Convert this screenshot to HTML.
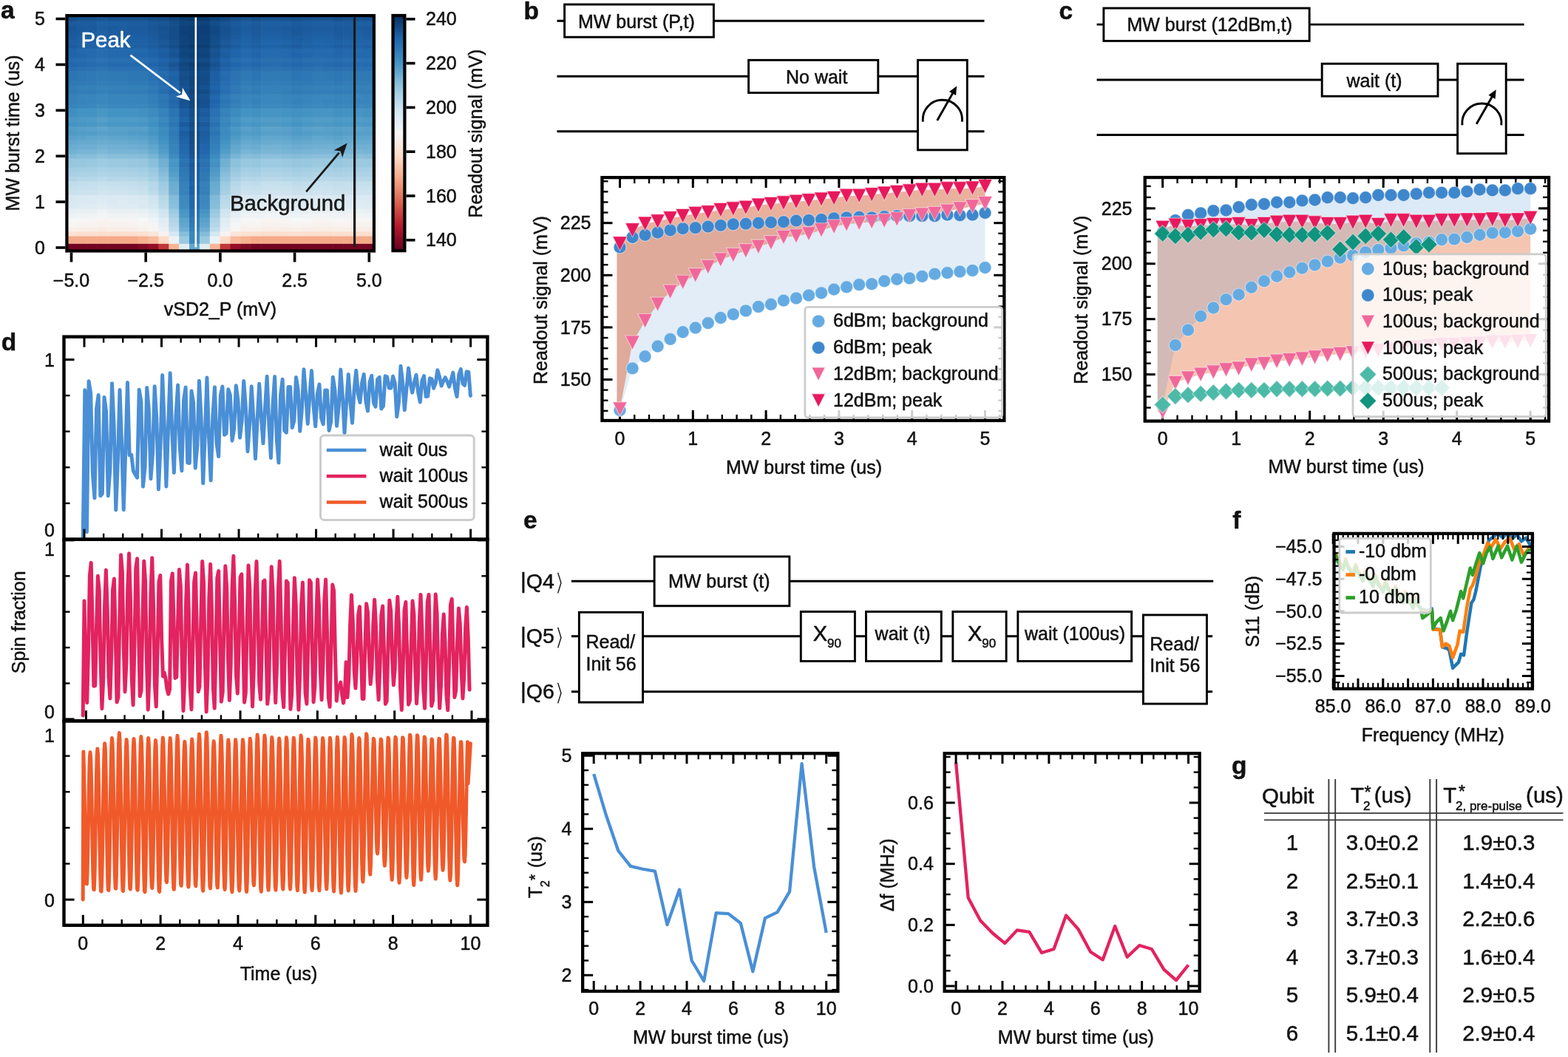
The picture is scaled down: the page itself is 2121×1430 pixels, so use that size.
<!DOCTYPE html>
<html><head><meta charset="utf-8"><title>Figure</title>
<style>
html,body{margin:0;padding:0;background:#fff;}
body{width:2121px;height:1430px;overflow:hidden;}
svg{display:block;}
svg text{font-family:"Liberation Sans", Arial, Helvetica, sans-serif;stroke:#111;stroke-width:0.5px;stroke-linejoin:round;}
</style></head><body>
<svg width="2121" height="1430" viewBox="0 0 2121 1430">
<rect x="0" y="0" width="2121" height="1430" fill="#fff"/>
<g clip-path="url(#clipA)">
<rect x="89.6" y="329.2" width="14.47" height="9.9" fill="#730421" stroke="none" stroke-width="0" />
<rect x="103.47" y="329.2" width="14.47" height="9.9" fill="#730421" stroke="none" stroke-width="0" />
<rect x="117.34" y="329.2" width="14.47" height="9.9" fill="#730421" stroke="none" stroke-width="0" />
<rect x="131.21" y="329.2" width="14.47" height="9.9" fill="#730421" stroke="none" stroke-width="0" />
<rect x="145.08" y="329.2" width="14.47" height="9.9" fill="#730421" stroke="none" stroke-width="0" />
<rect x="158.95" y="329.2" width="14.47" height="9.9" fill="#730421" stroke="none" stroke-width="0" />
<rect x="172.82" y="329.2" width="14.47" height="9.9" fill="#730421" stroke="none" stroke-width="0" />
<rect x="186.69" y="329.2" width="14.47" height="9.9" fill="#7f0823" stroke="none" stroke-width="0" />
<rect x="200.56" y="329.2" width="14.47" height="9.9" fill="#930e26" stroke="none" stroke-width="0" />
<rect x="214.43" y="329.2" width="14.47" height="9.9" fill="#c13639" stroke="none" stroke-width="0" />
<rect x="228.3" y="329.2" width="14.47" height="9.9" fill="#f7b596" stroke="none" stroke-width="0" />
<rect x="242.17" y="329.2" width="14.47" height="9.9" fill="#e1edf3" stroke="none" stroke-width="0" />
<rect x="256.04" y="329.2" width="14.47" height="9.9" fill="#62a7ce" stroke="none" stroke-width="0" />
<rect x="269.91" y="329.2" width="14.47" height="9.9" fill="#e1edf3" stroke="none" stroke-width="0" />
<rect x="283.78" y="329.2" width="14.47" height="9.9" fill="#f7b596" stroke="none" stroke-width="0" />
<rect x="297.65" y="329.2" width="14.47" height="9.9" fill="#c13639" stroke="none" stroke-width="0" />
<rect x="311.52" y="329.2" width="14.47" height="9.9" fill="#930e26" stroke="none" stroke-width="0" />
<rect x="325.39" y="329.2" width="14.47" height="9.9" fill="#7f0823" stroke="none" stroke-width="0" />
<rect x="339.26" y="329.2" width="14.47" height="9.9" fill="#730421" stroke="none" stroke-width="0" />
<rect x="353.13" y="329.2" width="14.47" height="9.9" fill="#730421" stroke="none" stroke-width="0" />
<rect x="367" y="329.2" width="14.47" height="9.9" fill="#730421" stroke="none" stroke-width="0" />
<rect x="380.87" y="329.2" width="14.47" height="9.9" fill="#730421" stroke="none" stroke-width="0" />
<rect x="394.74" y="329.2" width="14.47" height="9.9" fill="#730421" stroke="none" stroke-width="0" />
<rect x="408.61" y="329.2" width="14.47" height="9.9" fill="#730421" stroke="none" stroke-width="0" />
<rect x="422.48" y="329.2" width="14.47" height="9.9" fill="#730421" stroke="none" stroke-width="0" />
<rect x="436.35" y="329.2" width="14.47" height="9.9" fill="#730421" stroke="none" stroke-width="0" />
<rect x="450.22" y="329.2" width="14.47" height="9.9" fill="#730421" stroke="none" stroke-width="0" />
<rect x="464.09" y="329.2" width="14.47" height="9.9" fill="#730421" stroke="none" stroke-width="0" />
<rect x="477.96" y="329.2" width="14.47" height="9.9" fill="#730421" stroke="none" stroke-width="0" />
<rect x="491.83" y="329.2" width="14.47" height="9.9" fill="#730421" stroke="none" stroke-width="0" />
<rect x="89.6" y="319" width="14.47" height="10.8" fill="#f5aa89" stroke="none" stroke-width="0" />
<rect x="103.47" y="319" width="14.47" height="10.8" fill="#f5aa89" stroke="none" stroke-width="0" />
<rect x="117.34" y="319" width="14.47" height="10.8" fill="#f5aa89" stroke="none" stroke-width="0" />
<rect x="131.21" y="319" width="14.47" height="10.8" fill="#f5aa89" stroke="none" stroke-width="0" />
<rect x="145.08" y="319" width="14.47" height="10.8" fill="#f5aa89" stroke="none" stroke-width="0" />
<rect x="158.95" y="319" width="14.47" height="10.8" fill="#f5aa89" stroke="none" stroke-width="0" />
<rect x="172.82" y="319" width="14.47" height="10.8" fill="#f5aa89" stroke="none" stroke-width="0" />
<rect x="186.69" y="319" width="14.47" height="10.8" fill="#f6b191" stroke="none" stroke-width="0" />
<rect x="200.56" y="319" width="14.47" height="10.8" fill="#f8bb9e" stroke="none" stroke-width="0" />
<rect x="214.43" y="319" width="14.47" height="10.8" fill="#fddbc7" stroke="none" stroke-width="0" />
<rect x="228.3" y="319" width="14.47" height="10.8" fill="#ecf2f5" stroke="none" stroke-width="0" />
<rect x="242.17" y="319" width="14.47" height="10.8" fill="#9bc9e0" stroke="none" stroke-width="0" />
<rect x="256.04" y="319" width="14.47" height="10.8" fill="#3a87bd" stroke="none" stroke-width="0" />
<rect x="269.91" y="319" width="14.47" height="10.8" fill="#9bc9e0" stroke="none" stroke-width="0" />
<rect x="283.78" y="319" width="14.47" height="10.8" fill="#ecf2f5" stroke="none" stroke-width="0" />
<rect x="297.65" y="319" width="14.47" height="10.8" fill="#fddbc7" stroke="none" stroke-width="0" />
<rect x="311.52" y="319" width="14.47" height="10.8" fill="#f8bb9e" stroke="none" stroke-width="0" />
<rect x="325.39" y="319" width="14.47" height="10.8" fill="#f6b191" stroke="none" stroke-width="0" />
<rect x="339.26" y="319" width="14.47" height="10.8" fill="#f5aa89" stroke="none" stroke-width="0" />
<rect x="353.13" y="319" width="14.47" height="10.8" fill="#f5aa89" stroke="none" stroke-width="0" />
<rect x="367" y="319" width="14.47" height="10.8" fill="#f5aa89" stroke="none" stroke-width="0" />
<rect x="380.87" y="319" width="14.47" height="10.8" fill="#f5aa89" stroke="none" stroke-width="0" />
<rect x="394.74" y="319" width="14.47" height="10.8" fill="#f5aa89" stroke="none" stroke-width="0" />
<rect x="408.61" y="319" width="14.47" height="10.8" fill="#f5aa89" stroke="none" stroke-width="0" />
<rect x="422.48" y="319" width="14.47" height="10.8" fill="#f5aa89" stroke="none" stroke-width="0" />
<rect x="436.35" y="319" width="14.47" height="10.8" fill="#f5aa89" stroke="none" stroke-width="0" />
<rect x="450.22" y="319" width="14.47" height="10.8" fill="#f5aa89" stroke="none" stroke-width="0" />
<rect x="464.09" y="319" width="14.47" height="10.8" fill="#f5aa89" stroke="none" stroke-width="0" />
<rect x="477.96" y="319" width="14.47" height="10.8" fill="#f5aa89" stroke="none" stroke-width="0" />
<rect x="491.83" y="319" width="14.47" height="10.8" fill="#f5aa89" stroke="none" stroke-width="0" />
<rect x="89.6" y="312.81" width="14.47" height="6.79" fill="#fce2d2" stroke="none" stroke-width="0" />
<rect x="103.47" y="312.81" width="14.47" height="6.79" fill="#fcdfcf" stroke="none" stroke-width="0" />
<rect x="117.34" y="312.81" width="14.47" height="6.79" fill="#fcdfcf" stroke="none" stroke-width="0" />
<rect x="131.21" y="312.81" width="14.47" height="6.79" fill="#fdddcb" stroke="none" stroke-width="0" />
<rect x="145.08" y="312.81" width="14.47" height="6.79" fill="#fcdfcf" stroke="none" stroke-width="0" />
<rect x="158.95" y="312.81" width="14.47" height="6.79" fill="#fcdecd" stroke="none" stroke-width="0" />
<rect x="172.82" y="312.81" width="14.47" height="6.79" fill="#fcdfcf" stroke="none" stroke-width="0" />
<rect x="186.69" y="312.81" width="14.47" height="6.79" fill="#fce0d0" stroke="none" stroke-width="0" />
<rect x="200.56" y="312.81" width="14.47" height="6.79" fill="#fbe6da" stroke="none" stroke-width="0" />
<rect x="214.43" y="312.81" width="14.47" height="6.79" fill="#f8f3f0" stroke="none" stroke-width="0" />
<rect x="228.3" y="312.81" width="14.47" height="6.79" fill="#d7e8f1" stroke="none" stroke-width="0" />
<rect x="242.17" y="312.81" width="14.47" height="6.79" fill="#87beda" stroke="none" stroke-width="0" />
<rect x="256.04" y="312.81" width="14.47" height="6.79" fill="#3b88be" stroke="none" stroke-width="0" />
<rect x="269.91" y="312.81" width="14.47" height="6.79" fill="#84bcd9" stroke="none" stroke-width="0" />
<rect x="283.78" y="312.81" width="14.47" height="6.79" fill="#d5e7f1" stroke="none" stroke-width="0" />
<rect x="297.65" y="312.81" width="14.47" height="6.79" fill="#f8f3f0" stroke="none" stroke-width="0" />
<rect x="311.52" y="312.81" width="14.47" height="6.79" fill="#fbe6da" stroke="none" stroke-width="0" />
<rect x="325.39" y="312.81" width="14.47" height="6.79" fill="#fce0d0" stroke="none" stroke-width="0" />
<rect x="339.26" y="312.81" width="14.47" height="6.79" fill="#fce0d0" stroke="none" stroke-width="0" />
<rect x="353.13" y="312.81" width="14.47" height="6.79" fill="#fcdecd" stroke="none" stroke-width="0" />
<rect x="367" y="312.81" width="14.47" height="6.79" fill="#fcdecd" stroke="none" stroke-width="0" />
<rect x="380.87" y="312.81" width="14.47" height="6.79" fill="#fcdfcf" stroke="none" stroke-width="0" />
<rect x="394.74" y="312.81" width="14.47" height="6.79" fill="#fce0d0" stroke="none" stroke-width="0" />
<rect x="408.61" y="312.81" width="14.47" height="6.79" fill="#fcdfcf" stroke="none" stroke-width="0" />
<rect x="422.48" y="312.81" width="14.47" height="6.79" fill="#fcdecd" stroke="none" stroke-width="0" />
<rect x="436.35" y="312.81" width="14.47" height="6.79" fill="#fcdecd" stroke="none" stroke-width="0" />
<rect x="450.22" y="312.81" width="14.47" height="6.79" fill="#fcdfcf" stroke="none" stroke-width="0" />
<rect x="464.09" y="312.81" width="14.47" height="6.79" fill="#fcdfcf" stroke="none" stroke-width="0" />
<rect x="477.96" y="312.81" width="14.47" height="6.79" fill="#fcdecd" stroke="none" stroke-width="0" />
<rect x="491.83" y="312.81" width="14.47" height="6.79" fill="#fcdfcf" stroke="none" stroke-width="0" />
<rect x="89.6" y="306.62" width="14.47" height="6.79" fill="#f9f0eb" stroke="none" stroke-width="0" />
<rect x="103.47" y="306.62" width="14.47" height="6.79" fill="#f9eee7" stroke="none" stroke-width="0" />
<rect x="117.34" y="306.62" width="14.47" height="6.79" fill="#f9eee7" stroke="none" stroke-width="0" />
<rect x="131.21" y="306.62" width="14.47" height="6.79" fill="#f9ebe3" stroke="none" stroke-width="0" />
<rect x="145.08" y="306.62" width="14.47" height="6.79" fill="#f9eee7" stroke="none" stroke-width="0" />
<rect x="158.95" y="306.62" width="14.47" height="6.79" fill="#f9eee7" stroke="none" stroke-width="0" />
<rect x="172.82" y="306.62" width="14.47" height="6.79" fill="#f9eee7" stroke="none" stroke-width="0" />
<rect x="186.69" y="306.62" width="14.47" height="6.79" fill="#f9f0eb" stroke="none" stroke-width="0" />
<rect x="200.56" y="306.62" width="14.47" height="6.79" fill="#f8f4f2" stroke="none" stroke-width="0" />
<rect x="214.43" y="306.62" width="14.47" height="6.79" fill="#eaf1f5" stroke="none" stroke-width="0" />
<rect x="228.3" y="306.62" width="14.47" height="6.79" fill="#c2ddec" stroke="none" stroke-width="0" />
<rect x="242.17" y="306.62" width="14.47" height="6.79" fill="#6eaed2" stroke="none" stroke-width="0" />
<rect x="256.04" y="306.62" width="14.47" height="6.79" fill="#3480b9" stroke="none" stroke-width="0" />
<rect x="269.91" y="306.62" width="14.47" height="6.79" fill="#6eaed2" stroke="none" stroke-width="0" />
<rect x="283.78" y="306.62" width="14.47" height="6.79" fill="#c0dceb" stroke="none" stroke-width="0" />
<rect x="297.65" y="306.62" width="14.47" height="6.79" fill="#eaf1f5" stroke="none" stroke-width="0" />
<rect x="311.52" y="306.62" width="14.47" height="6.79" fill="#f8f4f2" stroke="none" stroke-width="0" />
<rect x="325.39" y="306.62" width="14.47" height="6.79" fill="#f9efe9" stroke="none" stroke-width="0" />
<rect x="339.26" y="306.62" width="14.47" height="6.79" fill="#f9efe9" stroke="none" stroke-width="0" />
<rect x="353.13" y="306.62" width="14.47" height="6.79" fill="#f9ede5" stroke="none" stroke-width="0" />
<rect x="367" y="306.62" width="14.47" height="6.79" fill="#f9ede5" stroke="none" stroke-width="0" />
<rect x="380.87" y="306.62" width="14.47" height="6.79" fill="#f9eee7" stroke="none" stroke-width="0" />
<rect x="394.74" y="306.62" width="14.47" height="6.79" fill="#f9efe9" stroke="none" stroke-width="0" />
<rect x="408.61" y="306.62" width="14.47" height="6.79" fill="#f9eee7" stroke="none" stroke-width="0" />
<rect x="422.48" y="306.62" width="14.47" height="6.79" fill="#f9ede5" stroke="none" stroke-width="0" />
<rect x="436.35" y="306.62" width="14.47" height="6.79" fill="#f9ede5" stroke="none" stroke-width="0" />
<rect x="450.22" y="306.62" width="14.47" height="6.79" fill="#f9efe9" stroke="none" stroke-width="0" />
<rect x="464.09" y="306.62" width="14.47" height="6.79" fill="#f9eee7" stroke="none" stroke-width="0" />
<rect x="477.96" y="306.62" width="14.47" height="6.79" fill="#f9ede5" stroke="none" stroke-width="0" />
<rect x="491.83" y="306.62" width="14.47" height="6.79" fill="#f9eee7" stroke="none" stroke-width="0" />
<rect x="89.6" y="300.44" width="14.47" height="6.79" fill="#f8f4f2" stroke="none" stroke-width="0" />
<rect x="103.47" y="300.44" width="14.47" height="6.79" fill="#f8f3f0" stroke="none" stroke-width="0" />
<rect x="117.34" y="300.44" width="14.47" height="6.79" fill="#f8f3f0" stroke="none" stroke-width="0" />
<rect x="131.21" y="300.44" width="14.47" height="6.79" fill="#f8f1ed" stroke="none" stroke-width="0" />
<rect x="145.08" y="300.44" width="14.47" height="6.79" fill="#f8f2ef" stroke="none" stroke-width="0" />
<rect x="158.95" y="300.44" width="14.47" height="6.79" fill="#f8f2ef" stroke="none" stroke-width="0" />
<rect x="172.82" y="300.44" width="14.47" height="6.79" fill="#f8f3f0" stroke="none" stroke-width="0" />
<rect x="186.69" y="300.44" width="14.47" height="6.79" fill="#f8f4f2" stroke="none" stroke-width="0" />
<rect x="200.56" y="300.44" width="14.47" height="6.79" fill="#f3f5f6" stroke="none" stroke-width="0" />
<rect x="214.43" y="300.44" width="14.47" height="6.79" fill="#e3edf3" stroke="none" stroke-width="0" />
<rect x="228.3" y="300.44" width="14.47" height="6.79" fill="#b8d8e9" stroke="none" stroke-width="0" />
<rect x="242.17" y="300.44" width="14.47" height="6.79" fill="#62a7ce" stroke="none" stroke-width="0" />
<rect x="256.04" y="300.44" width="14.47" height="6.79" fill="#307ab6" stroke="none" stroke-width="0" />
<rect x="269.91" y="300.44" width="14.47" height="6.79" fill="#5fa5cd" stroke="none" stroke-width="0" />
<rect x="283.78" y="300.44" width="14.47" height="6.79" fill="#b3d6e8" stroke="none" stroke-width="0" />
<rect x="297.65" y="300.44" width="14.47" height="6.79" fill="#e3edf3" stroke="none" stroke-width="0" />
<rect x="311.52" y="300.44" width="14.47" height="6.79" fill="#f3f5f6" stroke="none" stroke-width="0" />
<rect x="325.39" y="300.44" width="14.47" height="6.79" fill="#f8f3f0" stroke="none" stroke-width="0" />
<rect x="339.26" y="300.44" width="14.47" height="6.79" fill="#f8f4f2" stroke="none" stroke-width="0" />
<rect x="353.13" y="300.44" width="14.47" height="6.79" fill="#f8f2ef" stroke="none" stroke-width="0" />
<rect x="367" y="300.44" width="14.47" height="6.79" fill="#f8f2ef" stroke="none" stroke-width="0" />
<rect x="380.87" y="300.44" width="14.47" height="6.79" fill="#f8f3f0" stroke="none" stroke-width="0" />
<rect x="394.74" y="300.44" width="14.47" height="6.79" fill="#f8f4f2" stroke="none" stroke-width="0" />
<rect x="408.61" y="300.44" width="14.47" height="6.79" fill="#f8f3f0" stroke="none" stroke-width="0" />
<rect x="422.48" y="300.44" width="14.47" height="6.79" fill="#f8f2ef" stroke="none" stroke-width="0" />
<rect x="436.35" y="300.44" width="14.47" height="6.79" fill="#f8f2ef" stroke="none" stroke-width="0" />
<rect x="450.22" y="300.44" width="14.47" height="6.79" fill="#f8f3f0" stroke="none" stroke-width="0" />
<rect x="464.09" y="300.44" width="14.47" height="6.79" fill="#f8f3f0" stroke="none" stroke-width="0" />
<rect x="477.96" y="300.44" width="14.47" height="6.79" fill="#f8f2ef" stroke="none" stroke-width="0" />
<rect x="491.83" y="300.44" width="14.47" height="6.79" fill="#f8f2ef" stroke="none" stroke-width="0" />
<rect x="89.6" y="294.25" width="14.47" height="6.79" fill="#f6f7f7" stroke="none" stroke-width="0" />
<rect x="103.47" y="294.25" width="14.47" height="6.79" fill="#f7f6f6" stroke="none" stroke-width="0" />
<rect x="117.34" y="294.25" width="14.47" height="6.79" fill="#f7f5f4" stroke="none" stroke-width="0" />
<rect x="131.21" y="294.25" width="14.47" height="6.79" fill="#f8f3f0" stroke="none" stroke-width="0" />
<rect x="145.08" y="294.25" width="14.47" height="6.79" fill="#f7f5f4" stroke="none" stroke-width="0" />
<rect x="158.95" y="294.25" width="14.47" height="6.79" fill="#f7f5f4" stroke="none" stroke-width="0" />
<rect x="172.82" y="294.25" width="14.47" height="6.79" fill="#f7f5f4" stroke="none" stroke-width="0" />
<rect x="186.69" y="294.25" width="14.47" height="6.79" fill="#f6f7f7" stroke="none" stroke-width="0" />
<rect x="200.56" y="294.25" width="14.47" height="6.79" fill="#eff3f5" stroke="none" stroke-width="0" />
<rect x="214.43" y="294.25" width="14.47" height="6.79" fill="#e0ecf3" stroke="none" stroke-width="0" />
<rect x="228.3" y="294.25" width="14.47" height="6.79" fill="#b1d5e7" stroke="none" stroke-width="0" />
<rect x="242.17" y="294.25" width="14.47" height="6.79" fill="#5ca3cb" stroke="none" stroke-width="0" />
<rect x="256.04" y="294.25" width="14.47" height="6.79" fill="#2e77b5" stroke="none" stroke-width="0" />
<rect x="269.91" y="294.25" width="14.47" height="6.79" fill="#59a1ca" stroke="none" stroke-width="0" />
<rect x="283.78" y="294.25" width="14.47" height="6.79" fill="#aed3e6" stroke="none" stroke-width="0" />
<rect x="297.65" y="294.25" width="14.47" height="6.79" fill="#e0ecf3" stroke="none" stroke-width="0" />
<rect x="311.52" y="294.25" width="14.47" height="6.79" fill="#f0f4f6" stroke="none" stroke-width="0" />
<rect x="325.39" y="294.25" width="14.47" height="6.79" fill="#f7f6f6" stroke="none" stroke-width="0" />
<rect x="339.26" y="294.25" width="14.47" height="6.79" fill="#f7f6f6" stroke="none" stroke-width="0" />
<rect x="353.13" y="294.25" width="14.47" height="6.79" fill="#f8f4f2" stroke="none" stroke-width="0" />
<rect x="367" y="294.25" width="14.47" height="6.79" fill="#f8f4f2" stroke="none" stroke-width="0" />
<rect x="380.87" y="294.25" width="14.47" height="6.79" fill="#f7f5f4" stroke="none" stroke-width="0" />
<rect x="394.74" y="294.25" width="14.47" height="6.79" fill="#f6f7f7" stroke="none" stroke-width="0" />
<rect x="408.61" y="294.25" width="14.47" height="6.79" fill="#f7f6f6" stroke="none" stroke-width="0" />
<rect x="422.48" y="294.25" width="14.47" height="6.79" fill="#f8f4f2" stroke="none" stroke-width="0" />
<rect x="436.35" y="294.25" width="14.47" height="6.79" fill="#f7f5f4" stroke="none" stroke-width="0" />
<rect x="450.22" y="294.25" width="14.47" height="6.79" fill="#f7f6f6" stroke="none" stroke-width="0" />
<rect x="464.09" y="294.25" width="14.47" height="6.79" fill="#f7f5f4" stroke="none" stroke-width="0" />
<rect x="477.96" y="294.25" width="14.47" height="6.79" fill="#f7f5f4" stroke="none" stroke-width="0" />
<rect x="491.83" y="294.25" width="14.47" height="6.79" fill="#f7f5f4" stroke="none" stroke-width="0" />
<rect x="89.6" y="288.06" width="14.47" height="6.79" fill="#ecf2f5" stroke="none" stroke-width="0" />
<rect x="103.47" y="288.06" width="14.47" height="6.79" fill="#eff3f5" stroke="none" stroke-width="0" />
<rect x="117.34" y="288.06" width="14.47" height="6.79" fill="#eff3f5" stroke="none" stroke-width="0" />
<rect x="131.21" y="288.06" width="14.47" height="6.79" fill="#f2f5f6" stroke="none" stroke-width="0" />
<rect x="145.08" y="288.06" width="14.47" height="6.79" fill="#eff3f5" stroke="none" stroke-width="0" />
<rect x="158.95" y="288.06" width="14.47" height="6.79" fill="#eff3f5" stroke="none" stroke-width="0" />
<rect x="172.82" y="288.06" width="14.47" height="6.79" fill="#eff3f5" stroke="none" stroke-width="0" />
<rect x="186.69" y="288.06" width="14.47" height="6.79" fill="#edf2f5" stroke="none" stroke-width="0" />
<rect x="200.56" y="288.06" width="14.47" height="6.79" fill="#e6eff4" stroke="none" stroke-width="0" />
<rect x="214.43" y="288.06" width="14.47" height="6.79" fill="#d5e7f1" stroke="none" stroke-width="0" />
<rect x="228.3" y="288.06" width="14.47" height="6.79" fill="#a5cee3" stroke="none" stroke-width="0" />
<rect x="242.17" y="288.06" width="14.47" height="6.79" fill="#4c99c6" stroke="none" stroke-width="0" />
<rect x="256.04" y="288.06" width="14.47" height="6.79" fill="#2a71b2" stroke="none" stroke-width="0" />
<rect x="269.91" y="288.06" width="14.47" height="6.79" fill="#4c99c6" stroke="none" stroke-width="0" />
<rect x="283.78" y="288.06" width="14.47" height="6.79" fill="#a0cce2" stroke="none" stroke-width="0" />
<rect x="297.65" y="288.06" width="14.47" height="6.79" fill="#d5e7f1" stroke="none" stroke-width="0" />
<rect x="311.52" y="288.06" width="14.47" height="6.79" fill="#e6eff4" stroke="none" stroke-width="0" />
<rect x="325.39" y="288.06" width="14.47" height="6.79" fill="#edf2f5" stroke="none" stroke-width="0" />
<rect x="339.26" y="288.06" width="14.47" height="6.79" fill="#edf2f5" stroke="none" stroke-width="0" />
<rect x="353.13" y="288.06" width="14.47" height="6.79" fill="#f0f4f6" stroke="none" stroke-width="0" />
<rect x="367" y="288.06" width="14.47" height="6.79" fill="#f0f4f6" stroke="none" stroke-width="0" />
<rect x="380.87" y="288.06" width="14.47" height="6.79" fill="#eff3f5" stroke="none" stroke-width="0" />
<rect x="394.74" y="288.06" width="14.47" height="6.79" fill="#edf2f5" stroke="none" stroke-width="0" />
<rect x="408.61" y="288.06" width="14.47" height="6.79" fill="#eff3f5" stroke="none" stroke-width="0" />
<rect x="422.48" y="288.06" width="14.47" height="6.79" fill="#f0f4f6" stroke="none" stroke-width="0" />
<rect x="436.35" y="288.06" width="14.47" height="6.79" fill="#f0f4f6" stroke="none" stroke-width="0" />
<rect x="450.22" y="288.06" width="14.47" height="6.79" fill="#eff3f5" stroke="none" stroke-width="0" />
<rect x="464.09" y="288.06" width="14.47" height="6.79" fill="#eff3f5" stroke="none" stroke-width="0" />
<rect x="477.96" y="288.06" width="14.47" height="6.79" fill="#f0f4f6" stroke="none" stroke-width="0" />
<rect x="491.83" y="288.06" width="14.47" height="6.79" fill="#eff3f5" stroke="none" stroke-width="0" />
<rect x="89.6" y="281.88" width="14.47" height="6.79" fill="#e6eff4" stroke="none" stroke-width="0" />
<rect x="103.47" y="281.88" width="14.47" height="6.79" fill="#e9f0f4" stroke="none" stroke-width="0" />
<rect x="117.34" y="281.88" width="14.47" height="6.79" fill="#e9f0f4" stroke="none" stroke-width="0" />
<rect x="131.21" y="281.88" width="14.47" height="6.79" fill="#ecf2f5" stroke="none" stroke-width="0" />
<rect x="145.08" y="281.88" width="14.47" height="6.79" fill="#e9f0f4" stroke="none" stroke-width="0" />
<rect x="158.95" y="281.88" width="14.47" height="6.79" fill="#e9f0f4" stroke="none" stroke-width="0" />
<rect x="172.82" y="281.88" width="14.47" height="6.79" fill="#e9f0f4" stroke="none" stroke-width="0" />
<rect x="186.69" y="281.88" width="14.47" height="6.79" fill="#e6eff4" stroke="none" stroke-width="0" />
<rect x="200.56" y="281.88" width="14.47" height="6.79" fill="#e0ecf3" stroke="none" stroke-width="0" />
<rect x="214.43" y="281.88" width="14.47" height="6.79" fill="#cfe4ef" stroke="none" stroke-width="0" />
<rect x="228.3" y="281.88" width="14.47" height="6.79" fill="#9bc9e0" stroke="none" stroke-width="0" />
<rect x="242.17" y="281.88" width="14.47" height="6.79" fill="#4695c4" stroke="none" stroke-width="0" />
<rect x="256.04" y="281.88" width="14.47" height="6.79" fill="#276eb0" stroke="none" stroke-width="0" />
<rect x="269.91" y="281.88" width="14.47" height="6.79" fill="#4393c3" stroke="none" stroke-width="0" />
<rect x="283.78" y="281.88" width="14.47" height="6.79" fill="#98c8e0" stroke="none" stroke-width="0" />
<rect x="297.65" y="281.88" width="14.47" height="6.79" fill="#cfe4ef" stroke="none" stroke-width="0" />
<rect x="311.52" y="281.88" width="14.47" height="6.79" fill="#e0ecf3" stroke="none" stroke-width="0" />
<rect x="325.39" y="281.88" width="14.47" height="6.79" fill="#e7f0f4" stroke="none" stroke-width="0" />
<rect x="339.26" y="281.88" width="14.47" height="6.79" fill="#e7f0f4" stroke="none" stroke-width="0" />
<rect x="353.13" y="281.88" width="14.47" height="6.79" fill="#eaf1f5" stroke="none" stroke-width="0" />
<rect x="367" y="281.88" width="14.47" height="6.79" fill="#eaf1f5" stroke="none" stroke-width="0" />
<rect x="380.87" y="281.88" width="14.47" height="6.79" fill="#e9f0f4" stroke="none" stroke-width="0" />
<rect x="394.74" y="281.88" width="14.47" height="6.79" fill="#e7f0f4" stroke="none" stroke-width="0" />
<rect x="408.61" y="281.88" width="14.47" height="6.79" fill="#e9f0f4" stroke="none" stroke-width="0" />
<rect x="422.48" y="281.88" width="14.47" height="6.79" fill="#eaf1f5" stroke="none" stroke-width="0" />
<rect x="436.35" y="281.88" width="14.47" height="6.79" fill="#eaf1f5" stroke="none" stroke-width="0" />
<rect x="450.22" y="281.88" width="14.47" height="6.79" fill="#e7f0f4" stroke="none" stroke-width="0" />
<rect x="464.09" y="281.88" width="14.47" height="6.79" fill="#e9f0f4" stroke="none" stroke-width="0" />
<rect x="477.96" y="281.88" width="14.47" height="6.79" fill="#eaf1f5" stroke="none" stroke-width="0" />
<rect x="491.83" y="281.88" width="14.47" height="6.79" fill="#e9f0f4" stroke="none" stroke-width="0" />
<rect x="89.6" y="275.69" width="14.47" height="6.79" fill="#dbeaf2" stroke="none" stroke-width="0" />
<rect x="103.47" y="275.69" width="14.47" height="6.79" fill="#deebf2" stroke="none" stroke-width="0" />
<rect x="117.34" y="275.69" width="14.47" height="6.79" fill="#deebf2" stroke="none" stroke-width="0" />
<rect x="131.21" y="275.69" width="14.47" height="6.79" fill="#e1edf3" stroke="none" stroke-width="0" />
<rect x="145.08" y="275.69" width="14.47" height="6.79" fill="#deebf2" stroke="none" stroke-width="0" />
<rect x="158.95" y="275.69" width="14.47" height="6.79" fill="#deebf2" stroke="none" stroke-width="0" />
<rect x="172.82" y="275.69" width="14.47" height="6.79" fill="#deebf2" stroke="none" stroke-width="0" />
<rect x="186.69" y="275.69" width="14.47" height="6.79" fill="#dbeaf2" stroke="none" stroke-width="0" />
<rect x="200.56" y="275.69" width="14.47" height="6.79" fill="#d5e7f1" stroke="none" stroke-width="0" />
<rect x="214.43" y="275.69" width="14.47" height="6.79" fill="#c0dceb" stroke="none" stroke-width="0" />
<rect x="228.3" y="275.69" width="14.47" height="6.79" fill="#8ac0db" stroke="none" stroke-width="0" />
<rect x="242.17" y="275.69" width="14.47" height="6.79" fill="#3e8cbf" stroke="none" stroke-width="0" />
<rect x="256.04" y="275.69" width="14.47" height="6.79" fill="#2267ac" stroke="none" stroke-width="0" />
<rect x="269.91" y="275.69" width="14.47" height="6.79" fill="#3c8abe" stroke="none" stroke-width="0" />
<rect x="283.78" y="275.69" width="14.47" height="6.79" fill="#87beda" stroke="none" stroke-width="0" />
<rect x="297.65" y="275.69" width="14.47" height="6.79" fill="#c0dceb" stroke="none" stroke-width="0" />
<rect x="311.52" y="275.69" width="14.47" height="6.79" fill="#d5e7f1" stroke="none" stroke-width="0" />
<rect x="325.39" y="275.69" width="14.47" height="6.79" fill="#ddebf2" stroke="none" stroke-width="0" />
<rect x="339.26" y="275.69" width="14.47" height="6.79" fill="#ddebf2" stroke="none" stroke-width="0" />
<rect x="353.13" y="275.69" width="14.47" height="6.79" fill="#e0ecf3" stroke="none" stroke-width="0" />
<rect x="367" y="275.69" width="14.47" height="6.79" fill="#e0ecf3" stroke="none" stroke-width="0" />
<rect x="380.87" y="275.69" width="14.47" height="6.79" fill="#deebf2" stroke="none" stroke-width="0" />
<rect x="394.74" y="275.69" width="14.47" height="6.79" fill="#ddebf2" stroke="none" stroke-width="0" />
<rect x="408.61" y="275.69" width="14.47" height="6.79" fill="#deebf2" stroke="none" stroke-width="0" />
<rect x="422.48" y="275.69" width="14.47" height="6.79" fill="#e0ecf3" stroke="none" stroke-width="0" />
<rect x="436.35" y="275.69" width="14.47" height="6.79" fill="#e0ecf3" stroke="none" stroke-width="0" />
<rect x="450.22" y="275.69" width="14.47" height="6.79" fill="#deebf2" stroke="none" stroke-width="0" />
<rect x="464.09" y="275.69" width="14.47" height="6.79" fill="#deebf2" stroke="none" stroke-width="0" />
<rect x="477.96" y="275.69" width="14.47" height="6.79" fill="#e0ecf3" stroke="none" stroke-width="0" />
<rect x="491.83" y="275.69" width="14.47" height="6.79" fill="#deebf2" stroke="none" stroke-width="0" />
<rect x="89.6" y="269.5" width="14.47" height="6.79" fill="#d8e9f1" stroke="none" stroke-width="0" />
<rect x="103.47" y="269.5" width="14.47" height="6.79" fill="#dbeaf2" stroke="none" stroke-width="0" />
<rect x="117.34" y="269.5" width="14.47" height="6.79" fill="#dbeaf2" stroke="none" stroke-width="0" />
<rect x="131.21" y="269.5" width="14.47" height="6.79" fill="#deebf2" stroke="none" stroke-width="0" />
<rect x="145.08" y="269.5" width="14.47" height="6.79" fill="#dbeaf2" stroke="none" stroke-width="0" />
<rect x="158.95" y="269.5" width="14.47" height="6.79" fill="#ddebf2" stroke="none" stroke-width="0" />
<rect x="172.82" y="269.5" width="14.47" height="6.79" fill="#dbeaf2" stroke="none" stroke-width="0" />
<rect x="186.69" y="269.5" width="14.47" height="6.79" fill="#dae9f2" stroke="none" stroke-width="0" />
<rect x="200.56" y="269.5" width="14.47" height="6.79" fill="#d2e6f0" stroke="none" stroke-width="0" />
<rect x="214.43" y="269.5" width="14.47" height="6.79" fill="#bbdaea" stroke="none" stroke-width="0" />
<rect x="228.3" y="269.5" width="14.47" height="6.79" fill="#87beda" stroke="none" stroke-width="0" />
<rect x="242.17" y="269.5" width="14.47" height="6.79" fill="#3c8abe" stroke="none" stroke-width="0" />
<rect x="256.04" y="269.5" width="14.47" height="6.79" fill="#2267ac" stroke="none" stroke-width="0" />
<rect x="269.91" y="269.5" width="14.47" height="6.79" fill="#3b88be" stroke="none" stroke-width="0" />
<rect x="283.78" y="269.5" width="14.47" height="6.79" fill="#84bcd9" stroke="none" stroke-width="0" />
<rect x="297.65" y="269.5" width="14.47" height="6.79" fill="#bbdaea" stroke="none" stroke-width="0" />
<rect x="311.52" y="269.5" width="14.47" height="6.79" fill="#d2e6f0" stroke="none" stroke-width="0" />
<rect x="325.39" y="269.5" width="14.47" height="6.79" fill="#dae9f2" stroke="none" stroke-width="0" />
<rect x="339.26" y="269.5" width="14.47" height="6.79" fill="#dae9f2" stroke="none" stroke-width="0" />
<rect x="353.13" y="269.5" width="14.47" height="6.79" fill="#ddebf2" stroke="none" stroke-width="0" />
<rect x="367" y="269.5" width="14.47" height="6.79" fill="#ddebf2" stroke="none" stroke-width="0" />
<rect x="380.87" y="269.5" width="14.47" height="6.79" fill="#dbeaf2" stroke="none" stroke-width="0" />
<rect x="394.74" y="269.5" width="14.47" height="6.79" fill="#dae9f2" stroke="none" stroke-width="0" />
<rect x="408.61" y="269.5" width="14.47" height="6.79" fill="#dbeaf2" stroke="none" stroke-width="0" />
<rect x="422.48" y="269.5" width="14.47" height="6.79" fill="#ddebf2" stroke="none" stroke-width="0" />
<rect x="436.35" y="269.5" width="14.47" height="6.79" fill="#ddebf2" stroke="none" stroke-width="0" />
<rect x="450.22" y="269.5" width="14.47" height="6.79" fill="#dbeaf2" stroke="none" stroke-width="0" />
<rect x="464.09" y="269.5" width="14.47" height="6.79" fill="#dbeaf2" stroke="none" stroke-width="0" />
<rect x="477.96" y="269.5" width="14.47" height="6.79" fill="#ddebf2" stroke="none" stroke-width="0" />
<rect x="491.83" y="269.5" width="14.47" height="6.79" fill="#dbeaf2" stroke="none" stroke-width="0" />
<rect x="89.6" y="263.31" width="14.47" height="6.79" fill="#d7e8f1" stroke="none" stroke-width="0" />
<rect x="103.47" y="263.31" width="14.47" height="6.79" fill="#d8e9f1" stroke="none" stroke-width="0" />
<rect x="117.34" y="263.31" width="14.47" height="6.79" fill="#dae9f2" stroke="none" stroke-width="0" />
<rect x="131.21" y="263.31" width="14.47" height="6.79" fill="#dbeaf2" stroke="none" stroke-width="0" />
<rect x="145.08" y="263.31" width="14.47" height="6.79" fill="#dae9f2" stroke="none" stroke-width="0" />
<rect x="158.95" y="263.31" width="14.47" height="6.79" fill="#dae9f2" stroke="none" stroke-width="0" />
<rect x="172.82" y="263.31" width="14.47" height="6.79" fill="#d8e9f1" stroke="none" stroke-width="0" />
<rect x="186.69" y="263.31" width="14.47" height="6.79" fill="#d7e8f1" stroke="none" stroke-width="0" />
<rect x="200.56" y="263.31" width="14.47" height="6.79" fill="#cfe4ef" stroke="none" stroke-width="0" />
<rect x="214.43" y="263.31" width="14.47" height="6.79" fill="#b6d7e8" stroke="none" stroke-width="0" />
<rect x="228.3" y="263.31" width="14.47" height="6.79" fill="#84bcd9" stroke="none" stroke-width="0" />
<rect x="242.17" y="263.31" width="14.47" height="6.79" fill="#3c8abe" stroke="none" stroke-width="0" />
<rect x="256.04" y="263.31" width="14.47" height="6.79" fill="#2369ad" stroke="none" stroke-width="0" />
<rect x="269.91" y="263.31" width="14.47" height="6.79" fill="#3b88be" stroke="none" stroke-width="0" />
<rect x="283.78" y="263.31" width="14.47" height="6.79" fill="#81bad8" stroke="none" stroke-width="0" />
<rect x="297.65" y="263.31" width="14.47" height="6.79" fill="#b6d7e8" stroke="none" stroke-width="0" />
<rect x="311.52" y="263.31" width="14.47" height="6.79" fill="#d1e5f0" stroke="none" stroke-width="0" />
<rect x="325.39" y="263.31" width="14.47" height="6.79" fill="#d8e9f1" stroke="none" stroke-width="0" />
<rect x="339.26" y="263.31" width="14.47" height="6.79" fill="#d7e8f1" stroke="none" stroke-width="0" />
<rect x="353.13" y="263.31" width="14.47" height="6.79" fill="#dbeaf2" stroke="none" stroke-width="0" />
<rect x="367" y="263.31" width="14.47" height="6.79" fill="#dbeaf2" stroke="none" stroke-width="0" />
<rect x="380.87" y="263.31" width="14.47" height="6.79" fill="#dae9f2" stroke="none" stroke-width="0" />
<rect x="394.74" y="263.31" width="14.47" height="6.79" fill="#d7e8f1" stroke="none" stroke-width="0" />
<rect x="408.61" y="263.31" width="14.47" height="6.79" fill="#d8e9f1" stroke="none" stroke-width="0" />
<rect x="422.48" y="263.31" width="14.47" height="6.79" fill="#dbeaf2" stroke="none" stroke-width="0" />
<rect x="436.35" y="263.31" width="14.47" height="6.79" fill="#dae9f2" stroke="none" stroke-width="0" />
<rect x="450.22" y="263.31" width="14.47" height="6.79" fill="#d8e9f1" stroke="none" stroke-width="0" />
<rect x="464.09" y="263.31" width="14.47" height="6.79" fill="#dae9f2" stroke="none" stroke-width="0" />
<rect x="477.96" y="263.31" width="14.47" height="6.79" fill="#dae9f2" stroke="none" stroke-width="0" />
<rect x="491.83" y="263.31" width="14.47" height="6.79" fill="#dae9f2" stroke="none" stroke-width="0" />
<rect x="89.6" y="257.12" width="14.47" height="6.79" fill="#cae1ee" stroke="none" stroke-width="0" />
<rect x="103.47" y="257.12" width="14.47" height="6.79" fill="#cce2ef" stroke="none" stroke-width="0" />
<rect x="117.34" y="257.12" width="14.47" height="6.79" fill="#cce2ef" stroke="none" stroke-width="0" />
<rect x="131.21" y="257.12" width="14.47" height="6.79" fill="#d1e5f0" stroke="none" stroke-width="0" />
<rect x="145.08" y="257.12" width="14.47" height="6.79" fill="#cfe4ef" stroke="none" stroke-width="0" />
<rect x="158.95" y="257.12" width="14.47" height="6.79" fill="#cfe4ef" stroke="none" stroke-width="0" />
<rect x="172.82" y="257.12" width="14.47" height="6.79" fill="#cce2ef" stroke="none" stroke-width="0" />
<rect x="186.69" y="257.12" width="14.47" height="6.79" fill="#cae1ee" stroke="none" stroke-width="0" />
<rect x="200.56" y="257.12" width="14.47" height="6.79" fill="#bddbea" stroke="none" stroke-width="0" />
<rect x="214.43" y="257.12" width="14.47" height="6.79" fill="#a7d0e4" stroke="none" stroke-width="0" />
<rect x="228.3" y="257.12" width="14.47" height="6.79" fill="#71b0d3" stroke="none" stroke-width="0" />
<rect x="242.17" y="257.12" width="14.47" height="6.79" fill="#3681ba" stroke="none" stroke-width="0" />
<rect x="256.04" y="257.12" width="14.47" height="6.79" fill="#1e61a5" stroke="none" stroke-width="0" />
<rect x="269.91" y="257.12" width="14.47" height="6.79" fill="#3480b9" stroke="none" stroke-width="0" />
<rect x="283.78" y="257.12" width="14.47" height="6.79" fill="#6eaed2" stroke="none" stroke-width="0" />
<rect x="297.65" y="257.12" width="14.47" height="6.79" fill="#a7d0e4" stroke="none" stroke-width="0" />
<rect x="311.52" y="257.12" width="14.47" height="6.79" fill="#c0dceb" stroke="none" stroke-width="0" />
<rect x="325.39" y="257.12" width="14.47" height="6.79" fill="#cce2ef" stroke="none" stroke-width="0" />
<rect x="339.26" y="257.12" width="14.47" height="6.79" fill="#cae1ee" stroke="none" stroke-width="0" />
<rect x="353.13" y="257.12" width="14.47" height="6.79" fill="#d1e5f0" stroke="none" stroke-width="0" />
<rect x="367" y="257.12" width="14.47" height="6.79" fill="#d1e5f0" stroke="none" stroke-width="0" />
<rect x="380.87" y="257.12" width="14.47" height="6.79" fill="#cfe4ef" stroke="none" stroke-width="0" />
<rect x="394.74" y="257.12" width="14.47" height="6.79" fill="#cae1ee" stroke="none" stroke-width="0" />
<rect x="408.61" y="257.12" width="14.47" height="6.79" fill="#cce2ef" stroke="none" stroke-width="0" />
<rect x="422.48" y="257.12" width="14.47" height="6.79" fill="#d1e5f0" stroke="none" stroke-width="0" />
<rect x="436.35" y="257.12" width="14.47" height="6.79" fill="#cfe4ef" stroke="none" stroke-width="0" />
<rect x="450.22" y="257.12" width="14.47" height="6.79" fill="#cce2ef" stroke="none" stroke-width="0" />
<rect x="464.09" y="257.12" width="14.47" height="6.79" fill="#cfe4ef" stroke="none" stroke-width="0" />
<rect x="477.96" y="257.12" width="14.47" height="6.79" fill="#cfe4ef" stroke="none" stroke-width="0" />
<rect x="491.83" y="257.12" width="14.47" height="6.79" fill="#cfe4ef" stroke="none" stroke-width="0" />
<rect x="89.6" y="250.94" width="14.47" height="6.79" fill="#c5dfec" stroke="none" stroke-width="0" />
<rect x="103.47" y="250.94" width="14.47" height="6.79" fill="#c7e0ed" stroke="none" stroke-width="0" />
<rect x="117.34" y="250.94" width="14.47" height="6.79" fill="#c7e0ed" stroke="none" stroke-width="0" />
<rect x="131.21" y="250.94" width="14.47" height="6.79" fill="#cce2ef" stroke="none" stroke-width="0" />
<rect x="145.08" y="250.94" width="14.47" height="6.79" fill="#cae1ee" stroke="none" stroke-width="0" />
<rect x="158.95" y="250.94" width="14.47" height="6.79" fill="#cae1ee" stroke="none" stroke-width="0" />
<rect x="172.82" y="250.94" width="14.47" height="6.79" fill="#c7e0ed" stroke="none" stroke-width="0" />
<rect x="186.69" y="250.94" width="14.47" height="6.79" fill="#c5dfec" stroke="none" stroke-width="0" />
<rect x="200.56" y="250.94" width="14.47" height="6.79" fill="#b8d8e9" stroke="none" stroke-width="0" />
<rect x="214.43" y="250.94" width="14.47" height="6.79" fill="#a2cde3" stroke="none" stroke-width="0" />
<rect x="228.3" y="250.94" width="14.47" height="6.79" fill="#6eaed2" stroke="none" stroke-width="0" />
<rect x="242.17" y="250.94" width="14.47" height="6.79" fill="#3681ba" stroke="none" stroke-width="0" />
<rect x="256.04" y="250.94" width="14.47" height="6.79" fill="#1e61a5" stroke="none" stroke-width="0" />
<rect x="269.91" y="250.94" width="14.47" height="6.79" fill="#3480b9" stroke="none" stroke-width="0" />
<rect x="283.78" y="250.94" width="14.47" height="6.79" fill="#6bacd1" stroke="none" stroke-width="0" />
<rect x="297.65" y="250.94" width="14.47" height="6.79" fill="#a2cde3" stroke="none" stroke-width="0" />
<rect x="311.52" y="250.94" width="14.47" height="6.79" fill="#bbdaea" stroke="none" stroke-width="0" />
<rect x="325.39" y="250.94" width="14.47" height="6.79" fill="#c7e0ed" stroke="none" stroke-width="0" />
<rect x="339.26" y="250.94" width="14.47" height="6.79" fill="#c5dfec" stroke="none" stroke-width="0" />
<rect x="353.13" y="250.94" width="14.47" height="6.79" fill="#cae1ee" stroke="none" stroke-width="0" />
<rect x="367" y="250.94" width="14.47" height="6.79" fill="#cae1ee" stroke="none" stroke-width="0" />
<rect x="380.87" y="250.94" width="14.47" height="6.79" fill="#cae1ee" stroke="none" stroke-width="0" />
<rect x="394.74" y="250.94" width="14.47" height="6.79" fill="#c5dfec" stroke="none" stroke-width="0" />
<rect x="408.61" y="250.94" width="14.47" height="6.79" fill="#c7e0ed" stroke="none" stroke-width="0" />
<rect x="422.48" y="250.94" width="14.47" height="6.79" fill="#cae1ee" stroke="none" stroke-width="0" />
<rect x="436.35" y="250.94" width="14.47" height="6.79" fill="#cae1ee" stroke="none" stroke-width="0" />
<rect x="450.22" y="250.94" width="14.47" height="6.79" fill="#c7e0ed" stroke="none" stroke-width="0" />
<rect x="464.09" y="250.94" width="14.47" height="6.79" fill="#c7e0ed" stroke="none" stroke-width="0" />
<rect x="477.96" y="250.94" width="14.47" height="6.79" fill="#cae1ee" stroke="none" stroke-width="0" />
<rect x="491.83" y="250.94" width="14.47" height="6.79" fill="#cae1ee" stroke="none" stroke-width="0" />
<rect x="89.6" y="244.75" width="14.47" height="6.79" fill="#c0dceb" stroke="none" stroke-width="0" />
<rect x="103.47" y="244.75" width="14.47" height="6.79" fill="#c2ddec" stroke="none" stroke-width="0" />
<rect x="117.34" y="244.75" width="14.47" height="6.79" fill="#c5dfec" stroke="none" stroke-width="0" />
<rect x="131.21" y="244.75" width="14.47" height="6.79" fill="#c7e0ed" stroke="none" stroke-width="0" />
<rect x="145.08" y="244.75" width="14.47" height="6.79" fill="#c5dfec" stroke="none" stroke-width="0" />
<rect x="158.95" y="244.75" width="14.47" height="6.79" fill="#c5dfec" stroke="none" stroke-width="0" />
<rect x="172.82" y="244.75" width="14.47" height="6.79" fill="#c2ddec" stroke="none" stroke-width="0" />
<rect x="186.69" y="244.75" width="14.47" height="6.79" fill="#c0dceb" stroke="none" stroke-width="0" />
<rect x="200.56" y="244.75" width="14.47" height="6.79" fill="#b6d7e8" stroke="none" stroke-width="0" />
<rect x="214.43" y="244.75" width="14.47" height="6.79" fill="#9dcbe1" stroke="none" stroke-width="0" />
<rect x="228.3" y="244.75" width="14.47" height="6.79" fill="#6bacd1" stroke="none" stroke-width="0" />
<rect x="242.17" y="244.75" width="14.47" height="6.79" fill="#3681ba" stroke="none" stroke-width="0" />
<rect x="256.04" y="244.75" width="14.47" height="6.79" fill="#2065ab" stroke="none" stroke-width="0" />
<rect x="269.91" y="244.75" width="14.47" height="6.79" fill="#3681ba" stroke="none" stroke-width="0" />
<rect x="283.78" y="244.75" width="14.47" height="6.79" fill="#68abd0" stroke="none" stroke-width="0" />
<rect x="297.65" y="244.75" width="14.47" height="6.79" fill="#9dcbe1" stroke="none" stroke-width="0" />
<rect x="311.52" y="244.75" width="14.47" height="6.79" fill="#b6d7e8" stroke="none" stroke-width="0" />
<rect x="325.39" y="244.75" width="14.47" height="6.79" fill="#c2ddec" stroke="none" stroke-width="0" />
<rect x="339.26" y="244.75" width="14.47" height="6.79" fill="#c0dceb" stroke="none" stroke-width="0" />
<rect x="353.13" y="244.75" width="14.47" height="6.79" fill="#c7e0ed" stroke="none" stroke-width="0" />
<rect x="367" y="244.75" width="14.47" height="6.79" fill="#c7e0ed" stroke="none" stroke-width="0" />
<rect x="380.87" y="244.75" width="14.47" height="6.79" fill="#c5dfec" stroke="none" stroke-width="0" />
<rect x="394.74" y="244.75" width="14.47" height="6.79" fill="#c0dceb" stroke="none" stroke-width="0" />
<rect x="408.61" y="244.75" width="14.47" height="6.79" fill="#c2ddec" stroke="none" stroke-width="0" />
<rect x="422.48" y="244.75" width="14.47" height="6.79" fill="#c7e0ed" stroke="none" stroke-width="0" />
<rect x="436.35" y="244.75" width="14.47" height="6.79" fill="#c5dfec" stroke="none" stroke-width="0" />
<rect x="450.22" y="244.75" width="14.47" height="6.79" fill="#c2ddec" stroke="none" stroke-width="0" />
<rect x="464.09" y="244.75" width="14.47" height="6.79" fill="#c5dfec" stroke="none" stroke-width="0" />
<rect x="477.96" y="244.75" width="14.47" height="6.79" fill="#c5dfec" stroke="none" stroke-width="0" />
<rect x="491.83" y="244.75" width="14.47" height="6.79" fill="#c5dfec" stroke="none" stroke-width="0" />
<rect x="89.6" y="238.56" width="14.47" height="6.79" fill="#b1d5e7" stroke="none" stroke-width="0" />
<rect x="103.47" y="238.56" width="14.47" height="6.79" fill="#b6d7e8" stroke="none" stroke-width="0" />
<rect x="117.34" y="238.56" width="14.47" height="6.79" fill="#b6d7e8" stroke="none" stroke-width="0" />
<rect x="131.21" y="238.56" width="14.47" height="6.79" fill="#bbdaea" stroke="none" stroke-width="0" />
<rect x="145.08" y="238.56" width="14.47" height="6.79" fill="#b6d7e8" stroke="none" stroke-width="0" />
<rect x="158.95" y="238.56" width="14.47" height="6.79" fill="#b8d8e9" stroke="none" stroke-width="0" />
<rect x="172.82" y="238.56" width="14.47" height="6.79" fill="#b6d7e8" stroke="none" stroke-width="0" />
<rect x="186.69" y="238.56" width="14.47" height="6.79" fill="#b3d6e8" stroke="none" stroke-width="0" />
<rect x="200.56" y="238.56" width="14.47" height="6.79" fill="#a7d0e4" stroke="none" stroke-width="0" />
<rect x="214.43" y="238.56" width="14.47" height="6.79" fill="#90c4dd" stroke="none" stroke-width="0" />
<rect x="228.3" y="238.56" width="14.47" height="6.79" fill="#5fa5cd" stroke="none" stroke-width="0" />
<rect x="242.17" y="238.56" width="14.47" height="6.79" fill="#327cb7" stroke="none" stroke-width="0" />
<rect x="256.04" y="238.56" width="14.47" height="6.79" fill="#1d5fa2" stroke="none" stroke-width="0" />
<rect x="269.91" y="238.56" width="14.47" height="6.79" fill="#307ab6" stroke="none" stroke-width="0" />
<rect x="283.78" y="238.56" width="14.47" height="6.79" fill="#5ca3cb" stroke="none" stroke-width="0" />
<rect x="297.65" y="238.56" width="14.47" height="6.79" fill="#90c4dd" stroke="none" stroke-width="0" />
<rect x="311.52" y="238.56" width="14.47" height="6.79" fill="#a9d1e5" stroke="none" stroke-width="0" />
<rect x="325.39" y="238.56" width="14.47" height="6.79" fill="#b6d7e8" stroke="none" stroke-width="0" />
<rect x="339.26" y="238.56" width="14.47" height="6.79" fill="#b3d6e8" stroke="none" stroke-width="0" />
<rect x="353.13" y="238.56" width="14.47" height="6.79" fill="#b8d8e9" stroke="none" stroke-width="0" />
<rect x="367" y="238.56" width="14.47" height="6.79" fill="#b8d8e9" stroke="none" stroke-width="0" />
<rect x="380.87" y="238.56" width="14.47" height="6.79" fill="#b6d7e8" stroke="none" stroke-width="0" />
<rect x="394.74" y="238.56" width="14.47" height="6.79" fill="#b3d6e8" stroke="none" stroke-width="0" />
<rect x="408.61" y="238.56" width="14.47" height="6.79" fill="#b6d7e8" stroke="none" stroke-width="0" />
<rect x="422.48" y="238.56" width="14.47" height="6.79" fill="#b8d8e9" stroke="none" stroke-width="0" />
<rect x="436.35" y="238.56" width="14.47" height="6.79" fill="#b8d8e9" stroke="none" stroke-width="0" />
<rect x="450.22" y="238.56" width="14.47" height="6.79" fill="#b6d7e8" stroke="none" stroke-width="0" />
<rect x="464.09" y="238.56" width="14.47" height="6.79" fill="#b6d7e8" stroke="none" stroke-width="0" />
<rect x="477.96" y="238.56" width="14.47" height="6.79" fill="#b8d8e9" stroke="none" stroke-width="0" />
<rect x="491.83" y="238.56" width="14.47" height="6.79" fill="#b6d7e8" stroke="none" stroke-width="0" />
<rect x="89.6" y="232.38" width="14.47" height="6.79" fill="#a9d1e5" stroke="none" stroke-width="0" />
<rect x="103.47" y="232.38" width="14.47" height="6.79" fill="#acd2e5" stroke="none" stroke-width="0" />
<rect x="117.34" y="232.38" width="14.47" height="6.79" fill="#acd2e5" stroke="none" stroke-width="0" />
<rect x="131.21" y="232.38" width="14.47" height="6.79" fill="#b1d5e7" stroke="none" stroke-width="0" />
<rect x="145.08" y="232.38" width="14.47" height="6.79" fill="#aed3e6" stroke="none" stroke-width="0" />
<rect x="158.95" y="232.38" width="14.47" height="6.79" fill="#aed3e6" stroke="none" stroke-width="0" />
<rect x="172.82" y="232.38" width="14.47" height="6.79" fill="#acd2e5" stroke="none" stroke-width="0" />
<rect x="186.69" y="232.38" width="14.47" height="6.79" fill="#a9d1e5" stroke="none" stroke-width="0" />
<rect x="200.56" y="232.38" width="14.47" height="6.79" fill="#a0cce2" stroke="none" stroke-width="0" />
<rect x="214.43" y="232.38" width="14.47" height="6.79" fill="#87beda" stroke="none" stroke-width="0" />
<rect x="228.3" y="232.38" width="14.47" height="6.79" fill="#569fc9" stroke="none" stroke-width="0" />
<rect x="242.17" y="232.38" width="14.47" height="6.79" fill="#2f79b5" stroke="none" stroke-width="0" />
<rect x="256.04" y="232.38" width="14.47" height="6.79" fill="#1d5fa2" stroke="none" stroke-width="0" />
<rect x="269.91" y="232.38" width="14.47" height="6.79" fill="#2f79b5" stroke="none" stroke-width="0" />
<rect x="283.78" y="232.38" width="14.47" height="6.79" fill="#529dc8" stroke="none" stroke-width="0" />
<rect x="297.65" y="232.38" width="14.47" height="6.79" fill="#87beda" stroke="none" stroke-width="0" />
<rect x="311.52" y="232.38" width="14.47" height="6.79" fill="#a0cce2" stroke="none" stroke-width="0" />
<rect x="325.39" y="232.38" width="14.47" height="6.79" fill="#acd2e5" stroke="none" stroke-width="0" />
<rect x="339.26" y="232.38" width="14.47" height="6.79" fill="#a9d1e5" stroke="none" stroke-width="0" />
<rect x="353.13" y="232.38" width="14.47" height="6.79" fill="#b1d5e7" stroke="none" stroke-width="0" />
<rect x="367" y="232.38" width="14.47" height="6.79" fill="#b1d5e7" stroke="none" stroke-width="0" />
<rect x="380.87" y="232.38" width="14.47" height="6.79" fill="#aed3e6" stroke="none" stroke-width="0" />
<rect x="394.74" y="232.38" width="14.47" height="6.79" fill="#a9d1e5" stroke="none" stroke-width="0" />
<rect x="408.61" y="232.38" width="14.47" height="6.79" fill="#acd2e5" stroke="none" stroke-width="0" />
<rect x="422.48" y="232.38" width="14.47" height="6.79" fill="#b1d5e7" stroke="none" stroke-width="0" />
<rect x="436.35" y="232.38" width="14.47" height="6.79" fill="#aed3e6" stroke="none" stroke-width="0" />
<rect x="450.22" y="232.38" width="14.47" height="6.79" fill="#acd2e5" stroke="none" stroke-width="0" />
<rect x="464.09" y="232.38" width="14.47" height="6.79" fill="#aed3e6" stroke="none" stroke-width="0" />
<rect x="477.96" y="232.38" width="14.47" height="6.79" fill="#aed3e6" stroke="none" stroke-width="0" />
<rect x="491.83" y="232.38" width="14.47" height="6.79" fill="#aed3e6" stroke="none" stroke-width="0" />
<rect x="89.6" y="226.19" width="14.47" height="6.79" fill="#a2cde3" stroke="none" stroke-width="0" />
<rect x="103.47" y="226.19" width="14.47" height="6.79" fill="#a5cee3" stroke="none" stroke-width="0" />
<rect x="117.34" y="226.19" width="14.47" height="6.79" fill="#a5cee3" stroke="none" stroke-width="0" />
<rect x="131.21" y="226.19" width="14.47" height="6.79" fill="#a9d1e5" stroke="none" stroke-width="0" />
<rect x="145.08" y="226.19" width="14.47" height="6.79" fill="#a7d0e4" stroke="none" stroke-width="0" />
<rect x="158.95" y="226.19" width="14.47" height="6.79" fill="#a7d0e4" stroke="none" stroke-width="0" />
<rect x="172.82" y="226.19" width="14.47" height="6.79" fill="#a5cee3" stroke="none" stroke-width="0" />
<rect x="186.69" y="226.19" width="14.47" height="6.79" fill="#a2cde3" stroke="none" stroke-width="0" />
<rect x="200.56" y="226.19" width="14.47" height="6.79" fill="#98c8e0" stroke="none" stroke-width="0" />
<rect x="214.43" y="226.19" width="14.47" height="6.79" fill="#7eb8d7" stroke="none" stroke-width="0" />
<rect x="228.3" y="226.19" width="14.47" height="6.79" fill="#4f9bc7" stroke="none" stroke-width="0" />
<rect x="242.17" y="226.19" width="14.47" height="6.79" fill="#2e77b5" stroke="none" stroke-width="0" />
<rect x="256.04" y="226.19" width="14.47" height="6.79" fill="#1c5c9f" stroke="none" stroke-width="0" />
<rect x="269.91" y="226.19" width="14.47" height="6.79" fill="#2c75b4" stroke="none" stroke-width="0" />
<rect x="283.78" y="226.19" width="14.47" height="6.79" fill="#4c99c6" stroke="none" stroke-width="0" />
<rect x="297.65" y="226.19" width="14.47" height="6.79" fill="#7eb8d7" stroke="none" stroke-width="0" />
<rect x="311.52" y="226.19" width="14.47" height="6.79" fill="#98c8e0" stroke="none" stroke-width="0" />
<rect x="325.39" y="226.19" width="14.47" height="6.79" fill="#a5cee3" stroke="none" stroke-width="0" />
<rect x="339.26" y="226.19" width="14.47" height="6.79" fill="#a2cde3" stroke="none" stroke-width="0" />
<rect x="353.13" y="226.19" width="14.47" height="6.79" fill="#a9d1e5" stroke="none" stroke-width="0" />
<rect x="367" y="226.19" width="14.47" height="6.79" fill="#a9d1e5" stroke="none" stroke-width="0" />
<rect x="380.87" y="226.19" width="14.47" height="6.79" fill="#a7d0e4" stroke="none" stroke-width="0" />
<rect x="394.74" y="226.19" width="14.47" height="6.79" fill="#a2cde3" stroke="none" stroke-width="0" />
<rect x="408.61" y="226.19" width="14.47" height="6.79" fill="#a5cee3" stroke="none" stroke-width="0" />
<rect x="422.48" y="226.19" width="14.47" height="6.79" fill="#a7d0e4" stroke="none" stroke-width="0" />
<rect x="436.35" y="226.19" width="14.47" height="6.79" fill="#a7d0e4" stroke="none" stroke-width="0" />
<rect x="450.22" y="226.19" width="14.47" height="6.79" fill="#a5cee3" stroke="none" stroke-width="0" />
<rect x="464.09" y="226.19" width="14.47" height="6.79" fill="#a7d0e4" stroke="none" stroke-width="0" />
<rect x="477.96" y="226.19" width="14.47" height="6.79" fill="#a7d0e4" stroke="none" stroke-width="0" />
<rect x="491.83" y="226.19" width="14.47" height="6.79" fill="#a7d0e4" stroke="none" stroke-width="0" />
<rect x="89.6" y="220" width="14.47" height="6.79" fill="#96c7df" stroke="none" stroke-width="0" />
<rect x="103.47" y="220" width="14.47" height="6.79" fill="#98c8e0" stroke="none" stroke-width="0" />
<rect x="117.34" y="220" width="14.47" height="6.79" fill="#9bc9e0" stroke="none" stroke-width="0" />
<rect x="131.21" y="220" width="14.47" height="6.79" fill="#9dcbe1" stroke="none" stroke-width="0" />
<rect x="145.08" y="220" width="14.47" height="6.79" fill="#9bc9e0" stroke="none" stroke-width="0" />
<rect x="158.95" y="220" width="14.47" height="6.79" fill="#9bc9e0" stroke="none" stroke-width="0" />
<rect x="172.82" y="220" width="14.47" height="6.79" fill="#98c8e0" stroke="none" stroke-width="0" />
<rect x="186.69" y="220" width="14.47" height="6.79" fill="#96c7df" stroke="none" stroke-width="0" />
<rect x="200.56" y="220" width="14.47" height="6.79" fill="#8ac0db" stroke="none" stroke-width="0" />
<rect x="214.43" y="220" width="14.47" height="6.79" fill="#71b0d3" stroke="none" stroke-width="0" />
<rect x="228.3" y="220" width="14.47" height="6.79" fill="#4695c4" stroke="none" stroke-width="0" />
<rect x="242.17" y="220" width="14.47" height="6.79" fill="#2a71b2" stroke="none" stroke-width="0" />
<rect x="256.04" y="220" width="14.47" height="6.79" fill="#1a5899" stroke="none" stroke-width="0" />
<rect x="269.91" y="220" width="14.47" height="6.79" fill="#2a71b2" stroke="none" stroke-width="0" />
<rect x="283.78" y="220" width="14.47" height="6.79" fill="#4291c2" stroke="none" stroke-width="0" />
<rect x="297.65" y="220" width="14.47" height="6.79" fill="#71b0d3" stroke="none" stroke-width="0" />
<rect x="311.52" y="220" width="14.47" height="6.79" fill="#8dc2dc" stroke="none" stroke-width="0" />
<rect x="325.39" y="220" width="14.47" height="6.79" fill="#98c8e0" stroke="none" stroke-width="0" />
<rect x="339.26" y="220" width="14.47" height="6.79" fill="#96c7df" stroke="none" stroke-width="0" />
<rect x="353.13" y="220" width="14.47" height="6.79" fill="#9dcbe1" stroke="none" stroke-width="0" />
<rect x="367" y="220" width="14.47" height="6.79" fill="#9dcbe1" stroke="none" stroke-width="0" />
<rect x="380.87" y="220" width="14.47" height="6.79" fill="#9bc9e0" stroke="none" stroke-width="0" />
<rect x="394.74" y="220" width="14.47" height="6.79" fill="#96c7df" stroke="none" stroke-width="0" />
<rect x="408.61" y="220" width="14.47" height="6.79" fill="#98c8e0" stroke="none" stroke-width="0" />
<rect x="422.48" y="220" width="14.47" height="6.79" fill="#9dcbe1" stroke="none" stroke-width="0" />
<rect x="436.35" y="220" width="14.47" height="6.79" fill="#9bc9e0" stroke="none" stroke-width="0" />
<rect x="450.22" y="220" width="14.47" height="6.79" fill="#98c8e0" stroke="none" stroke-width="0" />
<rect x="464.09" y="220" width="14.47" height="6.79" fill="#9bc9e0" stroke="none" stroke-width="0" />
<rect x="477.96" y="220" width="14.47" height="6.79" fill="#9bc9e0" stroke="none" stroke-width="0" />
<rect x="491.83" y="220" width="14.47" height="6.79" fill="#9bc9e0" stroke="none" stroke-width="0" />
<rect x="89.6" y="213.81" width="14.47" height="6.79" fill="#96c7df" stroke="none" stroke-width="0" />
<rect x="103.47" y="213.81" width="14.47" height="6.79" fill="#98c8e0" stroke="none" stroke-width="0" />
<rect x="117.34" y="213.81" width="14.47" height="6.79" fill="#98c8e0" stroke="none" stroke-width="0" />
<rect x="131.21" y="213.81" width="14.47" height="6.79" fill="#9dcbe1" stroke="none" stroke-width="0" />
<rect x="145.08" y="213.81" width="14.47" height="6.79" fill="#9bc9e0" stroke="none" stroke-width="0" />
<rect x="158.95" y="213.81" width="14.47" height="6.79" fill="#9bc9e0" stroke="none" stroke-width="0" />
<rect x="172.82" y="213.81" width="14.47" height="6.79" fill="#98c8e0" stroke="none" stroke-width="0" />
<rect x="186.69" y="213.81" width="14.47" height="6.79" fill="#96c7df" stroke="none" stroke-width="0" />
<rect x="200.56" y="213.81" width="14.47" height="6.79" fill="#8ac0db" stroke="none" stroke-width="0" />
<rect x="214.43" y="213.81" width="14.47" height="6.79" fill="#71b0d3" stroke="none" stroke-width="0" />
<rect x="228.3" y="213.81" width="14.47" height="6.79" fill="#4997c5" stroke="none" stroke-width="0" />
<rect x="242.17" y="213.81" width="14.47" height="6.79" fill="#2c75b4" stroke="none" stroke-width="0" />
<rect x="256.04" y="213.81" width="14.47" height="6.79" fill="#1d5fa2" stroke="none" stroke-width="0" />
<rect x="269.91" y="213.81" width="14.47" height="6.79" fill="#2b73b3" stroke="none" stroke-width="0" />
<rect x="283.78" y="213.81" width="14.47" height="6.79" fill="#4393c3" stroke="none" stroke-width="0" />
<rect x="297.65" y="213.81" width="14.47" height="6.79" fill="#71b0d3" stroke="none" stroke-width="0" />
<rect x="311.52" y="213.81" width="14.47" height="6.79" fill="#8dc2dc" stroke="none" stroke-width="0" />
<rect x="325.39" y="213.81" width="14.47" height="6.79" fill="#98c8e0" stroke="none" stroke-width="0" />
<rect x="339.26" y="213.81" width="14.47" height="6.79" fill="#96c7df" stroke="none" stroke-width="0" />
<rect x="353.13" y="213.81" width="14.47" height="6.79" fill="#9dcbe1" stroke="none" stroke-width="0" />
<rect x="367" y="213.81" width="14.47" height="6.79" fill="#9dcbe1" stroke="none" stroke-width="0" />
<rect x="380.87" y="213.81" width="14.47" height="6.79" fill="#9bc9e0" stroke="none" stroke-width="0" />
<rect x="394.74" y="213.81" width="14.47" height="6.79" fill="#96c7df" stroke="none" stroke-width="0" />
<rect x="408.61" y="213.81" width="14.47" height="6.79" fill="#98c8e0" stroke="none" stroke-width="0" />
<rect x="422.48" y="213.81" width="14.47" height="6.79" fill="#9bc9e0" stroke="none" stroke-width="0" />
<rect x="436.35" y="213.81" width="14.47" height="6.79" fill="#9bc9e0" stroke="none" stroke-width="0" />
<rect x="450.22" y="213.81" width="14.47" height="6.79" fill="#98c8e0" stroke="none" stroke-width="0" />
<rect x="464.09" y="213.81" width="14.47" height="6.79" fill="#9bc9e0" stroke="none" stroke-width="0" />
<rect x="477.96" y="213.81" width="14.47" height="6.79" fill="#9bc9e0" stroke="none" stroke-width="0" />
<rect x="491.83" y="213.81" width="14.47" height="6.79" fill="#9bc9e0" stroke="none" stroke-width="0" />
<rect x="89.6" y="207.62" width="14.47" height="6.79" fill="#81bad8" stroke="none" stroke-width="0" />
<rect x="103.47" y="207.62" width="14.47" height="6.79" fill="#87beda" stroke="none" stroke-width="0" />
<rect x="117.34" y="207.62" width="14.47" height="6.79" fill="#87beda" stroke="none" stroke-width="0" />
<rect x="131.21" y="207.62" width="14.47" height="6.79" fill="#8dc2dc" stroke="none" stroke-width="0" />
<rect x="145.08" y="207.62" width="14.47" height="6.79" fill="#87beda" stroke="none" stroke-width="0" />
<rect x="158.95" y="207.62" width="14.47" height="6.79" fill="#87beda" stroke="none" stroke-width="0" />
<rect x="172.82" y="207.62" width="14.47" height="6.79" fill="#87beda" stroke="none" stroke-width="0" />
<rect x="186.69" y="207.62" width="14.47" height="6.79" fill="#84bcd9" stroke="none" stroke-width="0" />
<rect x="200.56" y="207.62" width="14.47" height="6.79" fill="#78b4d5" stroke="none" stroke-width="0" />
<rect x="214.43" y="207.62" width="14.47" height="6.79" fill="#5fa5cd" stroke="none" stroke-width="0" />
<rect x="228.3" y="207.62" width="14.47" height="6.79" fill="#3e8cbf" stroke="none" stroke-width="0" />
<rect x="242.17" y="207.62" width="14.47" height="6.79" fill="#276eb0" stroke="none" stroke-width="0" />
<rect x="256.04" y="207.62" width="14.47" height="6.79" fill="#195696" stroke="none" stroke-width="0" />
<rect x="269.91" y="207.62" width="14.47" height="6.79" fill="#266caf" stroke="none" stroke-width="0" />
<rect x="283.78" y="207.62" width="14.47" height="6.79" fill="#3c8abe" stroke="none" stroke-width="0" />
<rect x="297.65" y="207.62" width="14.47" height="6.79" fill="#5fa5cd" stroke="none" stroke-width="0" />
<rect x="311.52" y="207.62" width="14.47" height="6.79" fill="#78b4d5" stroke="none" stroke-width="0" />
<rect x="325.39" y="207.62" width="14.47" height="6.79" fill="#87beda" stroke="none" stroke-width="0" />
<rect x="339.26" y="207.62" width="14.47" height="6.79" fill="#84bcd9" stroke="none" stroke-width="0" />
<rect x="353.13" y="207.62" width="14.47" height="6.79" fill="#8ac0db" stroke="none" stroke-width="0" />
<rect x="367" y="207.62" width="14.47" height="6.79" fill="#8ac0db" stroke="none" stroke-width="0" />
<rect x="380.87" y="207.62" width="14.47" height="6.79" fill="#87beda" stroke="none" stroke-width="0" />
<rect x="394.74" y="207.62" width="14.47" height="6.79" fill="#84bcd9" stroke="none" stroke-width="0" />
<rect x="408.61" y="207.62" width="14.47" height="6.79" fill="#87beda" stroke="none" stroke-width="0" />
<rect x="422.48" y="207.62" width="14.47" height="6.79" fill="#8ac0db" stroke="none" stroke-width="0" />
<rect x="436.35" y="207.62" width="14.47" height="6.79" fill="#8ac0db" stroke="none" stroke-width="0" />
<rect x="450.22" y="207.62" width="14.47" height="6.79" fill="#84bcd9" stroke="none" stroke-width="0" />
<rect x="464.09" y="207.62" width="14.47" height="6.79" fill="#87beda" stroke="none" stroke-width="0" />
<rect x="477.96" y="207.62" width="14.47" height="6.79" fill="#8ac0db" stroke="none" stroke-width="0" />
<rect x="491.83" y="207.62" width="14.47" height="6.79" fill="#87beda" stroke="none" stroke-width="0" />
<rect x="89.6" y="201.44" width="14.47" height="6.79" fill="#71b0d3" stroke="none" stroke-width="0" />
<rect x="103.47" y="201.44" width="14.47" height="6.79" fill="#78b4d5" stroke="none" stroke-width="0" />
<rect x="117.34" y="201.44" width="14.47" height="6.79" fill="#78b4d5" stroke="none" stroke-width="0" />
<rect x="131.21" y="201.44" width="14.47" height="6.79" fill="#7eb8d7" stroke="none" stroke-width="0" />
<rect x="145.08" y="201.44" width="14.47" height="6.79" fill="#78b4d5" stroke="none" stroke-width="0" />
<rect x="158.95" y="201.44" width="14.47" height="6.79" fill="#78b4d5" stroke="none" stroke-width="0" />
<rect x="172.82" y="201.44" width="14.47" height="6.79" fill="#78b4d5" stroke="none" stroke-width="0" />
<rect x="186.69" y="201.44" width="14.47" height="6.79" fill="#75b2d4" stroke="none" stroke-width="0" />
<rect x="200.56" y="201.44" width="14.47" height="6.79" fill="#68abd0" stroke="none" stroke-width="0" />
<rect x="214.43" y="201.44" width="14.47" height="6.79" fill="#529dc8" stroke="none" stroke-width="0" />
<rect x="228.3" y="201.44" width="14.47" height="6.79" fill="#3885bc" stroke="none" stroke-width="0" />
<rect x="242.17" y="201.44" width="14.47" height="6.79" fill="#2369ad" stroke="none" stroke-width="0" />
<rect x="256.04" y="201.44" width="14.47" height="6.79" fill="#175290" stroke="none" stroke-width="0" />
<rect x="269.91" y="201.44" width="14.47" height="6.79" fill="#2267ac" stroke="none" stroke-width="0" />
<rect x="283.78" y="201.44" width="14.47" height="6.79" fill="#3783bb" stroke="none" stroke-width="0" />
<rect x="297.65" y="201.44" width="14.47" height="6.79" fill="#529dc8" stroke="none" stroke-width="0" />
<rect x="311.52" y="201.44" width="14.47" height="6.79" fill="#68abd0" stroke="none" stroke-width="0" />
<rect x="325.39" y="201.44" width="14.47" height="6.79" fill="#78b4d5" stroke="none" stroke-width="0" />
<rect x="339.26" y="201.44" width="14.47" height="6.79" fill="#75b2d4" stroke="none" stroke-width="0" />
<rect x="353.13" y="201.44" width="14.47" height="6.79" fill="#7bb6d6" stroke="none" stroke-width="0" />
<rect x="367" y="201.44" width="14.47" height="6.79" fill="#7bb6d6" stroke="none" stroke-width="0" />
<rect x="380.87" y="201.44" width="14.47" height="6.79" fill="#78b4d5" stroke="none" stroke-width="0" />
<rect x="394.74" y="201.44" width="14.47" height="6.79" fill="#75b2d4" stroke="none" stroke-width="0" />
<rect x="408.61" y="201.44" width="14.47" height="6.79" fill="#78b4d5" stroke="none" stroke-width="0" />
<rect x="422.48" y="201.44" width="14.47" height="6.79" fill="#7bb6d6" stroke="none" stroke-width="0" />
<rect x="436.35" y="201.44" width="14.47" height="6.79" fill="#7bb6d6" stroke="none" stroke-width="0" />
<rect x="450.22" y="201.44" width="14.47" height="6.79" fill="#75b2d4" stroke="none" stroke-width="0" />
<rect x="464.09" y="201.44" width="14.47" height="6.79" fill="#78b4d5" stroke="none" stroke-width="0" />
<rect x="477.96" y="201.44" width="14.47" height="6.79" fill="#7bb6d6" stroke="none" stroke-width="0" />
<rect x="491.83" y="201.44" width="14.47" height="6.79" fill="#78b4d5" stroke="none" stroke-width="0" />
<rect x="89.6" y="195.25" width="14.47" height="6.79" fill="#6bacd1" stroke="none" stroke-width="0" />
<rect x="103.47" y="195.25" width="14.47" height="6.79" fill="#6eaed2" stroke="none" stroke-width="0" />
<rect x="117.34" y="195.25" width="14.47" height="6.79" fill="#6eaed2" stroke="none" stroke-width="0" />
<rect x="131.21" y="195.25" width="14.47" height="6.79" fill="#75b2d4" stroke="none" stroke-width="0" />
<rect x="145.08" y="195.25" width="14.47" height="6.79" fill="#71b0d3" stroke="none" stroke-width="0" />
<rect x="158.95" y="195.25" width="14.47" height="6.79" fill="#71b0d3" stroke="none" stroke-width="0" />
<rect x="172.82" y="195.25" width="14.47" height="6.79" fill="#6eaed2" stroke="none" stroke-width="0" />
<rect x="186.69" y="195.25" width="14.47" height="6.79" fill="#6bacd1" stroke="none" stroke-width="0" />
<rect x="200.56" y="195.25" width="14.47" height="6.79" fill="#5fa5cd" stroke="none" stroke-width="0" />
<rect x="214.43" y="195.25" width="14.47" height="6.79" fill="#4c99c6" stroke="none" stroke-width="0" />
<rect x="228.3" y="195.25" width="14.47" height="6.79" fill="#3783bb" stroke="none" stroke-width="0" />
<rect x="242.17" y="195.25" width="14.47" height="6.79" fill="#2267ac" stroke="none" stroke-width="0" />
<rect x="256.04" y="195.25" width="14.47" height="6.79" fill="#15508d" stroke="none" stroke-width="0" />
<rect x="269.91" y="195.25" width="14.47" height="6.79" fill="#2065ab" stroke="none" stroke-width="0" />
<rect x="283.78" y="195.25" width="14.47" height="6.79" fill="#3480b9" stroke="none" stroke-width="0" />
<rect x="297.65" y="195.25" width="14.47" height="6.79" fill="#4997c5" stroke="none" stroke-width="0" />
<rect x="311.52" y="195.25" width="14.47" height="6.79" fill="#62a7ce" stroke="none" stroke-width="0" />
<rect x="325.39" y="195.25" width="14.47" height="6.79" fill="#6eaed2" stroke="none" stroke-width="0" />
<rect x="339.26" y="195.25" width="14.47" height="6.79" fill="#6bacd1" stroke="none" stroke-width="0" />
<rect x="353.13" y="195.25" width="14.47" height="6.79" fill="#75b2d4" stroke="none" stroke-width="0" />
<rect x="367" y="195.25" width="14.47" height="6.79" fill="#75b2d4" stroke="none" stroke-width="0" />
<rect x="380.87" y="195.25" width="14.47" height="6.79" fill="#71b0d3" stroke="none" stroke-width="0" />
<rect x="394.74" y="195.25" width="14.47" height="6.79" fill="#6bacd1" stroke="none" stroke-width="0" />
<rect x="408.61" y="195.25" width="14.47" height="6.79" fill="#6eaed2" stroke="none" stroke-width="0" />
<rect x="422.48" y="195.25" width="14.47" height="6.79" fill="#71b0d3" stroke="none" stroke-width="0" />
<rect x="436.35" y="195.25" width="14.47" height="6.79" fill="#71b0d3" stroke="none" stroke-width="0" />
<rect x="450.22" y="195.25" width="14.47" height="6.79" fill="#6eaed2" stroke="none" stroke-width="0" />
<rect x="464.09" y="195.25" width="14.47" height="6.79" fill="#71b0d3" stroke="none" stroke-width="0" />
<rect x="477.96" y="195.25" width="14.47" height="6.79" fill="#71b0d3" stroke="none" stroke-width="0" />
<rect x="491.83" y="195.25" width="14.47" height="6.79" fill="#71b0d3" stroke="none" stroke-width="0" />
<rect x="89.6" y="189.06" width="14.47" height="6.79" fill="#62a7ce" stroke="none" stroke-width="0" />
<rect x="103.47" y="189.06" width="14.47" height="6.79" fill="#65a9cf" stroke="none" stroke-width="0" />
<rect x="117.34" y="189.06" width="14.47" height="6.79" fill="#65a9cf" stroke="none" stroke-width="0" />
<rect x="131.21" y="189.06" width="14.47" height="6.79" fill="#6bacd1" stroke="none" stroke-width="0" />
<rect x="145.08" y="189.06" width="14.47" height="6.79" fill="#68abd0" stroke="none" stroke-width="0" />
<rect x="158.95" y="189.06" width="14.47" height="6.79" fill="#68abd0" stroke="none" stroke-width="0" />
<rect x="172.82" y="189.06" width="14.47" height="6.79" fill="#65a9cf" stroke="none" stroke-width="0" />
<rect x="186.69" y="189.06" width="14.47" height="6.79" fill="#62a7ce" stroke="none" stroke-width="0" />
<rect x="200.56" y="189.06" width="14.47" height="6.79" fill="#569fc9" stroke="none" stroke-width="0" />
<rect x="214.43" y="189.06" width="14.47" height="6.79" fill="#4393c3" stroke="none" stroke-width="0" />
<rect x="228.3" y="189.06" width="14.47" height="6.79" fill="#3480b9" stroke="none" stroke-width="0" />
<rect x="242.17" y="189.06" width="14.47" height="6.79" fill="#1f63a8" stroke="none" stroke-width="0" />
<rect x="256.04" y="189.06" width="14.47" height="6.79" fill="#144e8a" stroke="none" stroke-width="0" />
<rect x="269.91" y="189.06" width="14.47" height="6.79" fill="#1e61a5" stroke="none" stroke-width="0" />
<rect x="283.78" y="189.06" width="14.47" height="6.79" fill="#327cb7" stroke="none" stroke-width="0" />
<rect x="297.65" y="189.06" width="14.47" height="6.79" fill="#4393c3" stroke="none" stroke-width="0" />
<rect x="311.52" y="189.06" width="14.47" height="6.79" fill="#59a1ca" stroke="none" stroke-width="0" />
<rect x="325.39" y="189.06" width="14.47" height="6.79" fill="#65a9cf" stroke="none" stroke-width="0" />
<rect x="339.26" y="189.06" width="14.47" height="6.79" fill="#62a7ce" stroke="none" stroke-width="0" />
<rect x="353.13" y="189.06" width="14.47" height="6.79" fill="#68abd0" stroke="none" stroke-width="0" />
<rect x="367" y="189.06" width="14.47" height="6.79" fill="#6bacd1" stroke="none" stroke-width="0" />
<rect x="380.87" y="189.06" width="14.47" height="6.79" fill="#68abd0" stroke="none" stroke-width="0" />
<rect x="394.74" y="189.06" width="14.47" height="6.79" fill="#62a7ce" stroke="none" stroke-width="0" />
<rect x="408.61" y="189.06" width="14.47" height="6.79" fill="#65a9cf" stroke="none" stroke-width="0" />
<rect x="422.48" y="189.06" width="14.47" height="6.79" fill="#68abd0" stroke="none" stroke-width="0" />
<rect x="436.35" y="189.06" width="14.47" height="6.79" fill="#68abd0" stroke="none" stroke-width="0" />
<rect x="450.22" y="189.06" width="14.47" height="6.79" fill="#65a9cf" stroke="none" stroke-width="0" />
<rect x="464.09" y="189.06" width="14.47" height="6.79" fill="#68abd0" stroke="none" stroke-width="0" />
<rect x="477.96" y="189.06" width="14.47" height="6.79" fill="#68abd0" stroke="none" stroke-width="0" />
<rect x="491.83" y="189.06" width="14.47" height="6.79" fill="#68abd0" stroke="none" stroke-width="0" />
<rect x="89.6" y="182.88" width="14.47" height="6.79" fill="#59a1ca" stroke="none" stroke-width="0" />
<rect x="103.47" y="182.88" width="14.47" height="6.79" fill="#5ca3cb" stroke="none" stroke-width="0" />
<rect x="117.34" y="182.88" width="14.47" height="6.79" fill="#5fa5cd" stroke="none" stroke-width="0" />
<rect x="131.21" y="182.88" width="14.47" height="6.79" fill="#62a7ce" stroke="none" stroke-width="0" />
<rect x="145.08" y="182.88" width="14.47" height="6.79" fill="#5fa5cd" stroke="none" stroke-width="0" />
<rect x="158.95" y="182.88" width="14.47" height="6.79" fill="#5fa5cd" stroke="none" stroke-width="0" />
<rect x="172.82" y="182.88" width="14.47" height="6.79" fill="#5ca3cb" stroke="none" stroke-width="0" />
<rect x="186.69" y="182.88" width="14.47" height="6.79" fill="#59a1ca" stroke="none" stroke-width="0" />
<rect x="200.56" y="182.88" width="14.47" height="6.79" fill="#4f9bc7" stroke="none" stroke-width="0" />
<rect x="214.43" y="182.88" width="14.47" height="6.79" fill="#3f8ec0" stroke="none" stroke-width="0" />
<rect x="228.3" y="182.88" width="14.47" height="6.79" fill="#327cb7" stroke="none" stroke-width="0" />
<rect x="242.17" y="182.88" width="14.47" height="6.79" fill="#1e61a5" stroke="none" stroke-width="0" />
<rect x="256.04" y="182.88" width="14.47" height="6.79" fill="#144e8a" stroke="none" stroke-width="0" />
<rect x="269.91" y="182.88" width="14.47" height="6.79" fill="#1d5fa2" stroke="none" stroke-width="0" />
<rect x="283.78" y="182.88" width="14.47" height="6.79" fill="#307ab6" stroke="none" stroke-width="0" />
<rect x="297.65" y="182.88" width="14.47" height="6.79" fill="#3f8ec0" stroke="none" stroke-width="0" />
<rect x="311.52" y="182.88" width="14.47" height="6.79" fill="#4f9bc7" stroke="none" stroke-width="0" />
<rect x="325.39" y="182.88" width="14.47" height="6.79" fill="#5ca3cb" stroke="none" stroke-width="0" />
<rect x="339.26" y="182.88" width="14.47" height="6.79" fill="#59a1ca" stroke="none" stroke-width="0" />
<rect x="353.13" y="182.88" width="14.47" height="6.79" fill="#62a7ce" stroke="none" stroke-width="0" />
<rect x="367" y="182.88" width="14.47" height="6.79" fill="#62a7ce" stroke="none" stroke-width="0" />
<rect x="380.87" y="182.88" width="14.47" height="6.79" fill="#5fa5cd" stroke="none" stroke-width="0" />
<rect x="394.74" y="182.88" width="14.47" height="6.79" fill="#59a1ca" stroke="none" stroke-width="0" />
<rect x="408.61" y="182.88" width="14.47" height="6.79" fill="#5ca3cb" stroke="none" stroke-width="0" />
<rect x="422.48" y="182.88" width="14.47" height="6.79" fill="#62a7ce" stroke="none" stroke-width="0" />
<rect x="436.35" y="182.88" width="14.47" height="6.79" fill="#5fa5cd" stroke="none" stroke-width="0" />
<rect x="450.22" y="182.88" width="14.47" height="6.79" fill="#5ca3cb" stroke="none" stroke-width="0" />
<rect x="464.09" y="182.88" width="14.47" height="6.79" fill="#5fa5cd" stroke="none" stroke-width="0" />
<rect x="477.96" y="182.88" width="14.47" height="6.79" fill="#5fa5cd" stroke="none" stroke-width="0" />
<rect x="491.83" y="182.88" width="14.47" height="6.79" fill="#5fa5cd" stroke="none" stroke-width="0" />
<rect x="89.6" y="176.69" width="14.47" height="6.79" fill="#4f9bc7" stroke="none" stroke-width="0" />
<rect x="103.47" y="176.69" width="14.47" height="6.79" fill="#529dc8" stroke="none" stroke-width="0" />
<rect x="117.34" y="176.69" width="14.47" height="6.79" fill="#529dc8" stroke="none" stroke-width="0" />
<rect x="131.21" y="176.69" width="14.47" height="6.79" fill="#59a1ca" stroke="none" stroke-width="0" />
<rect x="145.08" y="176.69" width="14.47" height="6.79" fill="#569fc9" stroke="none" stroke-width="0" />
<rect x="158.95" y="176.69" width="14.47" height="6.79" fill="#569fc9" stroke="none" stroke-width="0" />
<rect x="172.82" y="176.69" width="14.47" height="6.79" fill="#529dc8" stroke="none" stroke-width="0" />
<rect x="186.69" y="176.69" width="14.47" height="6.79" fill="#4f9bc7" stroke="none" stroke-width="0" />
<rect x="200.56" y="176.69" width="14.47" height="6.79" fill="#4695c4" stroke="none" stroke-width="0" />
<rect x="214.43" y="176.69" width="14.47" height="6.79" fill="#3c8abe" stroke="none" stroke-width="0" />
<rect x="228.3" y="176.69" width="14.47" height="6.79" fill="#2f79b5" stroke="none" stroke-width="0" />
<rect x="242.17" y="176.69" width="14.47" height="6.79" fill="#1c5c9f" stroke="none" stroke-width="0" />
<rect x="256.04" y="176.69" width="14.47" height="6.79" fill="#134c87" stroke="none" stroke-width="0" />
<rect x="269.91" y="176.69" width="14.47" height="6.79" fill="#1c5c9f" stroke="none" stroke-width="0" />
<rect x="283.78" y="176.69" width="14.47" height="6.79" fill="#2c75b4" stroke="none" stroke-width="0" />
<rect x="297.65" y="176.69" width="14.47" height="6.79" fill="#3c8abe" stroke="none" stroke-width="0" />
<rect x="311.52" y="176.69" width="14.47" height="6.79" fill="#4695c4" stroke="none" stroke-width="0" />
<rect x="325.39" y="176.69" width="14.47" height="6.79" fill="#529dc8" stroke="none" stroke-width="0" />
<rect x="339.26" y="176.69" width="14.47" height="6.79" fill="#4f9bc7" stroke="none" stroke-width="0" />
<rect x="353.13" y="176.69" width="14.47" height="6.79" fill="#569fc9" stroke="none" stroke-width="0" />
<rect x="367" y="176.69" width="14.47" height="6.79" fill="#59a1ca" stroke="none" stroke-width="0" />
<rect x="380.87" y="176.69" width="14.47" height="6.79" fill="#569fc9" stroke="none" stroke-width="0" />
<rect x="394.74" y="176.69" width="14.47" height="6.79" fill="#4f9bc7" stroke="none" stroke-width="0" />
<rect x="408.61" y="176.69" width="14.47" height="6.79" fill="#529dc8" stroke="none" stroke-width="0" />
<rect x="422.48" y="176.69" width="14.47" height="6.79" fill="#569fc9" stroke="none" stroke-width="0" />
<rect x="436.35" y="176.69" width="14.47" height="6.79" fill="#569fc9" stroke="none" stroke-width="0" />
<rect x="450.22" y="176.69" width="14.47" height="6.79" fill="#529dc8" stroke="none" stroke-width="0" />
<rect x="464.09" y="176.69" width="14.47" height="6.79" fill="#569fc9" stroke="none" stroke-width="0" />
<rect x="477.96" y="176.69" width="14.47" height="6.79" fill="#569fc9" stroke="none" stroke-width="0" />
<rect x="491.83" y="176.69" width="14.47" height="6.79" fill="#569fc9" stroke="none" stroke-width="0" />
<rect x="89.6" y="170.5" width="14.47" height="6.79" fill="#529dc8" stroke="none" stroke-width="0" />
<rect x="103.47" y="170.5" width="14.47" height="6.79" fill="#569fc9" stroke="none" stroke-width="0" />
<rect x="117.34" y="170.5" width="14.47" height="6.79" fill="#59a1ca" stroke="none" stroke-width="0" />
<rect x="131.21" y="170.5" width="14.47" height="6.79" fill="#5fa5cd" stroke="none" stroke-width="0" />
<rect x="145.08" y="170.5" width="14.47" height="6.79" fill="#59a1ca" stroke="none" stroke-width="0" />
<rect x="158.95" y="170.5" width="14.47" height="6.79" fill="#59a1ca" stroke="none" stroke-width="0" />
<rect x="172.82" y="170.5" width="14.47" height="6.79" fill="#569fc9" stroke="none" stroke-width="0" />
<rect x="186.69" y="170.5" width="14.47" height="6.79" fill="#569fc9" stroke="none" stroke-width="0" />
<rect x="200.56" y="170.5" width="14.47" height="6.79" fill="#4997c5" stroke="none" stroke-width="0" />
<rect x="214.43" y="170.5" width="14.47" height="6.79" fill="#3e8cbf" stroke="none" stroke-width="0" />
<rect x="228.3" y="170.5" width="14.47" height="6.79" fill="#327cb7" stroke="none" stroke-width="0" />
<rect x="242.17" y="170.5" width="14.47" height="6.79" fill="#1f63a8" stroke="none" stroke-width="0" />
<rect x="256.04" y="170.5" width="14.47" height="6.79" fill="#175290" stroke="none" stroke-width="0" />
<rect x="269.91" y="170.5" width="14.47" height="6.79" fill="#1e61a5" stroke="none" stroke-width="0" />
<rect x="283.78" y="170.5" width="14.47" height="6.79" fill="#2f79b5" stroke="none" stroke-width="0" />
<rect x="297.65" y="170.5" width="14.47" height="6.79" fill="#3e8cbf" stroke="none" stroke-width="0" />
<rect x="311.52" y="170.5" width="14.47" height="6.79" fill="#4c99c6" stroke="none" stroke-width="0" />
<rect x="325.39" y="170.5" width="14.47" height="6.79" fill="#59a1ca" stroke="none" stroke-width="0" />
<rect x="339.26" y="170.5" width="14.47" height="6.79" fill="#529dc8" stroke="none" stroke-width="0" />
<rect x="353.13" y="170.5" width="14.47" height="6.79" fill="#5ca3cb" stroke="none" stroke-width="0" />
<rect x="367" y="170.5" width="14.47" height="6.79" fill="#5ca3cb" stroke="none" stroke-width="0" />
<rect x="380.87" y="170.5" width="14.47" height="6.79" fill="#59a1ca" stroke="none" stroke-width="0" />
<rect x="394.74" y="170.5" width="14.47" height="6.79" fill="#529dc8" stroke="none" stroke-width="0" />
<rect x="408.61" y="170.5" width="14.47" height="6.79" fill="#59a1ca" stroke="none" stroke-width="0" />
<rect x="422.48" y="170.5" width="14.47" height="6.79" fill="#5ca3cb" stroke="none" stroke-width="0" />
<rect x="436.35" y="170.5" width="14.47" height="6.79" fill="#59a1ca" stroke="none" stroke-width="0" />
<rect x="450.22" y="170.5" width="14.47" height="6.79" fill="#569fc9" stroke="none" stroke-width="0" />
<rect x="464.09" y="170.5" width="14.47" height="6.79" fill="#59a1ca" stroke="none" stroke-width="0" />
<rect x="477.96" y="170.5" width="14.47" height="6.79" fill="#5ca3cb" stroke="none" stroke-width="0" />
<rect x="491.83" y="170.5" width="14.47" height="6.79" fill="#59a1ca" stroke="none" stroke-width="0" />
<rect x="89.6" y="164.31" width="14.47" height="6.79" fill="#4393c3" stroke="none" stroke-width="0" />
<rect x="103.47" y="164.31" width="14.47" height="6.79" fill="#4695c4" stroke="none" stroke-width="0" />
<rect x="117.34" y="164.31" width="14.47" height="6.79" fill="#4997c5" stroke="none" stroke-width="0" />
<rect x="131.21" y="164.31" width="14.47" height="6.79" fill="#4f9bc7" stroke="none" stroke-width="0" />
<rect x="145.08" y="164.31" width="14.47" height="6.79" fill="#4997c5" stroke="none" stroke-width="0" />
<rect x="158.95" y="164.31" width="14.47" height="6.79" fill="#4997c5" stroke="none" stroke-width="0" />
<rect x="172.82" y="164.31" width="14.47" height="6.79" fill="#4997c5" stroke="none" stroke-width="0" />
<rect x="186.69" y="164.31" width="14.47" height="6.79" fill="#4695c4" stroke="none" stroke-width="0" />
<rect x="200.56" y="164.31" width="14.47" height="6.79" fill="#408fc1" stroke="none" stroke-width="0" />
<rect x="214.43" y="164.31" width="14.47" height="6.79" fill="#3885bc" stroke="none" stroke-width="0" />
<rect x="228.3" y="164.31" width="14.47" height="6.79" fill="#2c75b4" stroke="none" stroke-width="0" />
<rect x="242.17" y="164.31" width="14.47" height="6.79" fill="#1b5a9c" stroke="none" stroke-width="0" />
<rect x="256.04" y="164.31" width="14.47" height="6.79" fill="#134c87" stroke="none" stroke-width="0" />
<rect x="269.91" y="164.31" width="14.47" height="6.79" fill="#1b5a9c" stroke="none" stroke-width="0" />
<rect x="283.78" y="164.31" width="14.47" height="6.79" fill="#2a71b2" stroke="none" stroke-width="0" />
<rect x="297.65" y="164.31" width="14.47" height="6.79" fill="#3885bc" stroke="none" stroke-width="0" />
<rect x="311.52" y="164.31" width="14.47" height="6.79" fill="#408fc1" stroke="none" stroke-width="0" />
<rect x="325.39" y="164.31" width="14.47" height="6.79" fill="#4997c5" stroke="none" stroke-width="0" />
<rect x="339.26" y="164.31" width="14.47" height="6.79" fill="#4695c4" stroke="none" stroke-width="0" />
<rect x="353.13" y="164.31" width="14.47" height="6.79" fill="#4c99c6" stroke="none" stroke-width="0" />
<rect x="367" y="164.31" width="14.47" height="6.79" fill="#4c99c6" stroke="none" stroke-width="0" />
<rect x="380.87" y="164.31" width="14.47" height="6.79" fill="#4997c5" stroke="none" stroke-width="0" />
<rect x="394.74" y="164.31" width="14.47" height="6.79" fill="#4393c3" stroke="none" stroke-width="0" />
<rect x="408.61" y="164.31" width="14.47" height="6.79" fill="#4997c5" stroke="none" stroke-width="0" />
<rect x="422.48" y="164.31" width="14.47" height="6.79" fill="#4c99c6" stroke="none" stroke-width="0" />
<rect x="436.35" y="164.31" width="14.47" height="6.79" fill="#4c99c6" stroke="none" stroke-width="0" />
<rect x="450.22" y="164.31" width="14.47" height="6.79" fill="#4695c4" stroke="none" stroke-width="0" />
<rect x="464.09" y="164.31" width="14.47" height="6.79" fill="#4997c5" stroke="none" stroke-width="0" />
<rect x="477.96" y="164.31" width="14.47" height="6.79" fill="#4c99c6" stroke="none" stroke-width="0" />
<rect x="491.83" y="164.31" width="14.47" height="6.79" fill="#4997c5" stroke="none" stroke-width="0" />
<rect x="89.6" y="158.12" width="14.47" height="6.79" fill="#4997c5" stroke="none" stroke-width="0" />
<rect x="103.47" y="158.12" width="14.47" height="6.79" fill="#4c99c6" stroke="none" stroke-width="0" />
<rect x="117.34" y="158.12" width="14.47" height="6.79" fill="#4f9bc7" stroke="none" stroke-width="0" />
<rect x="131.21" y="158.12" width="14.47" height="6.79" fill="#569fc9" stroke="none" stroke-width="0" />
<rect x="145.08" y="158.12" width="14.47" height="6.79" fill="#4f9bc7" stroke="none" stroke-width="0" />
<rect x="158.95" y="158.12" width="14.47" height="6.79" fill="#4f9bc7" stroke="none" stroke-width="0" />
<rect x="172.82" y="158.12" width="14.47" height="6.79" fill="#4f9bc7" stroke="none" stroke-width="0" />
<rect x="186.69" y="158.12" width="14.47" height="6.79" fill="#4c99c6" stroke="none" stroke-width="0" />
<rect x="200.56" y="158.12" width="14.47" height="6.79" fill="#4393c3" stroke="none" stroke-width="0" />
<rect x="214.43" y="158.12" width="14.47" height="6.79" fill="#3b88be" stroke="none" stroke-width="0" />
<rect x="228.3" y="158.12" width="14.47" height="6.79" fill="#2f79b5" stroke="none" stroke-width="0" />
<rect x="242.17" y="158.12" width="14.47" height="6.79" fill="#1f63a8" stroke="none" stroke-width="0" />
<rect x="256.04" y="158.12" width="14.47" height="6.79" fill="#175290" stroke="none" stroke-width="0" />
<rect x="269.91" y="158.12" width="14.47" height="6.79" fill="#1e61a5" stroke="none" stroke-width="0" />
<rect x="283.78" y="158.12" width="14.47" height="6.79" fill="#2e77b5" stroke="none" stroke-width="0" />
<rect x="297.65" y="158.12" width="14.47" height="6.79" fill="#3b88be" stroke="none" stroke-width="0" />
<rect x="311.52" y="158.12" width="14.47" height="6.79" fill="#4393c3" stroke="none" stroke-width="0" />
<rect x="325.39" y="158.12" width="14.47" height="6.79" fill="#4f9bc7" stroke="none" stroke-width="0" />
<rect x="339.26" y="158.12" width="14.47" height="6.79" fill="#4c99c6" stroke="none" stroke-width="0" />
<rect x="353.13" y="158.12" width="14.47" height="6.79" fill="#529dc8" stroke="none" stroke-width="0" />
<rect x="367" y="158.12" width="14.47" height="6.79" fill="#529dc8" stroke="none" stroke-width="0" />
<rect x="380.87" y="158.12" width="14.47" height="6.79" fill="#4f9bc7" stroke="none" stroke-width="0" />
<rect x="394.74" y="158.12" width="14.47" height="6.79" fill="#4997c5" stroke="none" stroke-width="0" />
<rect x="408.61" y="158.12" width="14.47" height="6.79" fill="#4f9bc7" stroke="none" stroke-width="0" />
<rect x="422.48" y="158.12" width="14.47" height="6.79" fill="#529dc8" stroke="none" stroke-width="0" />
<rect x="436.35" y="158.12" width="14.47" height="6.79" fill="#529dc8" stroke="none" stroke-width="0" />
<rect x="450.22" y="158.12" width="14.47" height="6.79" fill="#4c99c6" stroke="none" stroke-width="0" />
<rect x="464.09" y="158.12" width="14.47" height="6.79" fill="#4f9bc7" stroke="none" stroke-width="0" />
<rect x="477.96" y="158.12" width="14.47" height="6.79" fill="#529dc8" stroke="none" stroke-width="0" />
<rect x="491.83" y="158.12" width="14.47" height="6.79" fill="#4f9bc7" stroke="none" stroke-width="0" />
<rect x="89.6" y="151.94" width="14.47" height="6.79" fill="#408fc1" stroke="none" stroke-width="0" />
<rect x="103.47" y="151.94" width="14.47" height="6.79" fill="#4393c3" stroke="none" stroke-width="0" />
<rect x="117.34" y="151.94" width="14.47" height="6.79" fill="#4393c3" stroke="none" stroke-width="0" />
<rect x="131.21" y="151.94" width="14.47" height="6.79" fill="#4997c5" stroke="none" stroke-width="0" />
<rect x="145.08" y="151.94" width="14.47" height="6.79" fill="#4393c3" stroke="none" stroke-width="0" />
<rect x="158.95" y="151.94" width="14.47" height="6.79" fill="#4393c3" stroke="none" stroke-width="0" />
<rect x="172.82" y="151.94" width="14.47" height="6.79" fill="#4393c3" stroke="none" stroke-width="0" />
<rect x="186.69" y="151.94" width="14.47" height="6.79" fill="#4291c2" stroke="none" stroke-width="0" />
<rect x="200.56" y="151.94" width="14.47" height="6.79" fill="#3e8cbf" stroke="none" stroke-width="0" />
<rect x="214.43" y="151.94" width="14.47" height="6.79" fill="#3681ba" stroke="none" stroke-width="0" />
<rect x="228.3" y="151.94" width="14.47" height="6.79" fill="#2b73b3" stroke="none" stroke-width="0" />
<rect x="242.17" y="151.94" width="14.47" height="6.79" fill="#1c5c9f" stroke="none" stroke-width="0" />
<rect x="256.04" y="151.94" width="14.47" height="6.79" fill="#144e8a" stroke="none" stroke-width="0" />
<rect x="269.91" y="151.94" width="14.47" height="6.79" fill="#1b5a9c" stroke="none" stroke-width="0" />
<rect x="283.78" y="151.94" width="14.47" height="6.79" fill="#2a71b2" stroke="none" stroke-width="0" />
<rect x="297.65" y="151.94" width="14.47" height="6.79" fill="#3681ba" stroke="none" stroke-width="0" />
<rect x="311.52" y="151.94" width="14.47" height="6.79" fill="#3e8cbf" stroke="none" stroke-width="0" />
<rect x="325.39" y="151.94" width="14.47" height="6.79" fill="#4393c3" stroke="none" stroke-width="0" />
<rect x="339.26" y="151.94" width="14.47" height="6.79" fill="#4291c2" stroke="none" stroke-width="0" />
<rect x="353.13" y="151.94" width="14.47" height="6.79" fill="#4695c4" stroke="none" stroke-width="0" />
<rect x="367" y="151.94" width="14.47" height="6.79" fill="#4695c4" stroke="none" stroke-width="0" />
<rect x="380.87" y="151.94" width="14.47" height="6.79" fill="#4393c3" stroke="none" stroke-width="0" />
<rect x="394.74" y="151.94" width="14.47" height="6.79" fill="#4291c2" stroke="none" stroke-width="0" />
<rect x="408.61" y="151.94" width="14.47" height="6.79" fill="#4393c3" stroke="none" stroke-width="0" />
<rect x="422.48" y="151.94" width="14.47" height="6.79" fill="#4695c4" stroke="none" stroke-width="0" />
<rect x="436.35" y="151.94" width="14.47" height="6.79" fill="#4695c4" stroke="none" stroke-width="0" />
<rect x="450.22" y="151.94" width="14.47" height="6.79" fill="#4291c2" stroke="none" stroke-width="0" />
<rect x="464.09" y="151.94" width="14.47" height="6.79" fill="#4393c3" stroke="none" stroke-width="0" />
<rect x="477.96" y="151.94" width="14.47" height="6.79" fill="#4695c4" stroke="none" stroke-width="0" />
<rect x="491.83" y="151.94" width="14.47" height="6.79" fill="#4393c3" stroke="none" stroke-width="0" />
<rect x="89.6" y="145.75" width="14.47" height="6.79" fill="#408fc1" stroke="none" stroke-width="0" />
<rect x="103.47" y="145.75" width="14.47" height="6.79" fill="#4393c3" stroke="none" stroke-width="0" />
<rect x="117.34" y="145.75" width="14.47" height="6.79" fill="#4393c3" stroke="none" stroke-width="0" />
<rect x="131.21" y="145.75" width="14.47" height="6.79" fill="#4997c5" stroke="none" stroke-width="0" />
<rect x="145.08" y="145.75" width="14.47" height="6.79" fill="#4393c3" stroke="none" stroke-width="0" />
<rect x="158.95" y="145.75" width="14.47" height="6.79" fill="#4393c3" stroke="none" stroke-width="0" />
<rect x="172.82" y="145.75" width="14.47" height="6.79" fill="#4393c3" stroke="none" stroke-width="0" />
<rect x="186.69" y="145.75" width="14.47" height="6.79" fill="#4291c2" stroke="none" stroke-width="0" />
<rect x="200.56" y="145.75" width="14.47" height="6.79" fill="#3e8cbf" stroke="none" stroke-width="0" />
<rect x="214.43" y="145.75" width="14.47" height="6.79" fill="#3783bb" stroke="none" stroke-width="0" />
<rect x="228.3" y="145.75" width="14.47" height="6.79" fill="#2c75b4" stroke="none" stroke-width="0" />
<rect x="242.17" y="145.75" width="14.47" height="6.79" fill="#1d5fa2" stroke="none" stroke-width="0" />
<rect x="256.04" y="145.75" width="14.47" height="6.79" fill="#15508d" stroke="none" stroke-width="0" />
<rect x="269.91" y="145.75" width="14.47" height="6.79" fill="#1c5c9f" stroke="none" stroke-width="0" />
<rect x="283.78" y="145.75" width="14.47" height="6.79" fill="#2a71b2" stroke="none" stroke-width="0" />
<rect x="297.65" y="145.75" width="14.47" height="6.79" fill="#3783bb" stroke="none" stroke-width="0" />
<rect x="311.52" y="145.75" width="14.47" height="6.79" fill="#3e8cbf" stroke="none" stroke-width="0" />
<rect x="325.39" y="145.75" width="14.47" height="6.79" fill="#4393c3" stroke="none" stroke-width="0" />
<rect x="339.26" y="145.75" width="14.47" height="6.79" fill="#4291c2" stroke="none" stroke-width="0" />
<rect x="353.13" y="145.75" width="14.47" height="6.79" fill="#4695c4" stroke="none" stroke-width="0" />
<rect x="367" y="145.75" width="14.47" height="6.79" fill="#4695c4" stroke="none" stroke-width="0" />
<rect x="380.87" y="145.75" width="14.47" height="6.79" fill="#4393c3" stroke="none" stroke-width="0" />
<rect x="394.74" y="145.75" width="14.47" height="6.79" fill="#4291c2" stroke="none" stroke-width="0" />
<rect x="408.61" y="145.75" width="14.47" height="6.79" fill="#4393c3" stroke="none" stroke-width="0" />
<rect x="422.48" y="145.75" width="14.47" height="6.79" fill="#4695c4" stroke="none" stroke-width="0" />
<rect x="436.35" y="145.75" width="14.47" height="6.79" fill="#4695c4" stroke="none" stroke-width="0" />
<rect x="450.22" y="145.75" width="14.47" height="6.79" fill="#4291c2" stroke="none" stroke-width="0" />
<rect x="464.09" y="145.75" width="14.47" height="6.79" fill="#4393c3" stroke="none" stroke-width="0" />
<rect x="477.96" y="145.75" width="14.47" height="6.79" fill="#4695c4" stroke="none" stroke-width="0" />
<rect x="491.83" y="145.75" width="14.47" height="6.79" fill="#4393c3" stroke="none" stroke-width="0" />
<rect x="89.6" y="139.56" width="14.47" height="6.79" fill="#3885bc" stroke="none" stroke-width="0" />
<rect x="103.47" y="139.56" width="14.47" height="6.79" fill="#3a87bd" stroke="none" stroke-width="0" />
<rect x="117.34" y="139.56" width="14.47" height="6.79" fill="#3b88be" stroke="none" stroke-width="0" />
<rect x="131.21" y="139.56" width="14.47" height="6.79" fill="#3e8cbf" stroke="none" stroke-width="0" />
<rect x="145.08" y="139.56" width="14.47" height="6.79" fill="#3b88be" stroke="none" stroke-width="0" />
<rect x="158.95" y="139.56" width="14.47" height="6.79" fill="#3b88be" stroke="none" stroke-width="0" />
<rect x="172.82" y="139.56" width="14.47" height="6.79" fill="#3a87bd" stroke="none" stroke-width="0" />
<rect x="186.69" y="139.56" width="14.47" height="6.79" fill="#3a87bd" stroke="none" stroke-width="0" />
<rect x="200.56" y="139.56" width="14.47" height="6.79" fill="#3681ba" stroke="none" stroke-width="0" />
<rect x="214.43" y="139.56" width="14.47" height="6.79" fill="#2f79b5" stroke="none" stroke-width="0" />
<rect x="228.3" y="139.56" width="14.47" height="6.79" fill="#246aae" stroke="none" stroke-width="0" />
<rect x="242.17" y="139.56" width="14.47" height="6.79" fill="#185493" stroke="none" stroke-width="0" />
<rect x="256.04" y="139.56" width="14.47" height="6.79" fill="#114781" stroke="none" stroke-width="0" />
<rect x="269.91" y="139.56" width="14.47" height="6.79" fill="#175290" stroke="none" stroke-width="0" />
<rect x="283.78" y="139.56" width="14.47" height="6.79" fill="#2369ad" stroke="none" stroke-width="0" />
<rect x="297.65" y="139.56" width="14.47" height="6.79" fill="#2f79b5" stroke="none" stroke-width="0" />
<rect x="311.52" y="139.56" width="14.47" height="6.79" fill="#3681ba" stroke="none" stroke-width="0" />
<rect x="325.39" y="139.56" width="14.47" height="6.79" fill="#3b88be" stroke="none" stroke-width="0" />
<rect x="339.26" y="139.56" width="14.47" height="6.79" fill="#3885bc" stroke="none" stroke-width="0" />
<rect x="353.13" y="139.56" width="14.47" height="6.79" fill="#3c8abe" stroke="none" stroke-width="0" />
<rect x="367" y="139.56" width="14.47" height="6.79" fill="#3c8abe" stroke="none" stroke-width="0" />
<rect x="380.87" y="139.56" width="14.47" height="6.79" fill="#3b88be" stroke="none" stroke-width="0" />
<rect x="394.74" y="139.56" width="14.47" height="6.79" fill="#3885bc" stroke="none" stroke-width="0" />
<rect x="408.61" y="139.56" width="14.47" height="6.79" fill="#3b88be" stroke="none" stroke-width="0" />
<rect x="422.48" y="139.56" width="14.47" height="6.79" fill="#3c8abe" stroke="none" stroke-width="0" />
<rect x="436.35" y="139.56" width="14.47" height="6.79" fill="#3b88be" stroke="none" stroke-width="0" />
<rect x="450.22" y="139.56" width="14.47" height="6.79" fill="#3a87bd" stroke="none" stroke-width="0" />
<rect x="464.09" y="139.56" width="14.47" height="6.79" fill="#3b88be" stroke="none" stroke-width="0" />
<rect x="477.96" y="139.56" width="14.47" height="6.79" fill="#3c8abe" stroke="none" stroke-width="0" />
<rect x="491.83" y="139.56" width="14.47" height="6.79" fill="#3b88be" stroke="none" stroke-width="0" />
<rect x="89.6" y="133.38" width="14.47" height="6.79" fill="#3681ba" stroke="none" stroke-width="0" />
<rect x="103.47" y="133.38" width="14.47" height="6.79" fill="#3783bb" stroke="none" stroke-width="0" />
<rect x="117.34" y="133.38" width="14.47" height="6.79" fill="#3885bc" stroke="none" stroke-width="0" />
<rect x="131.21" y="133.38" width="14.47" height="6.79" fill="#3a87bd" stroke="none" stroke-width="0" />
<rect x="145.08" y="133.38" width="14.47" height="6.79" fill="#3885bc" stroke="none" stroke-width="0" />
<rect x="158.95" y="133.38" width="14.47" height="6.79" fill="#3885bc" stroke="none" stroke-width="0" />
<rect x="172.82" y="133.38" width="14.47" height="6.79" fill="#3783bb" stroke="none" stroke-width="0" />
<rect x="186.69" y="133.38" width="14.47" height="6.79" fill="#3783bb" stroke="none" stroke-width="0" />
<rect x="200.56" y="133.38" width="14.47" height="6.79" fill="#337eb8" stroke="none" stroke-width="0" />
<rect x="214.43" y="133.38" width="14.47" height="6.79" fill="#2c75b4" stroke="none" stroke-width="0" />
<rect x="228.3" y="133.38" width="14.47" height="6.79" fill="#2267ac" stroke="none" stroke-width="0" />
<rect x="242.17" y="133.38" width="14.47" height="6.79" fill="#175290" stroke="none" stroke-width="0" />
<rect x="256.04" y="133.38" width="14.47" height="6.79" fill="#10457e" stroke="none" stroke-width="0" />
<rect x="269.91" y="133.38" width="14.47" height="6.79" fill="#15508d" stroke="none" stroke-width="0" />
<rect x="283.78" y="133.38" width="14.47" height="6.79" fill="#2065ab" stroke="none" stroke-width="0" />
<rect x="297.65" y="133.38" width="14.47" height="6.79" fill="#2c75b4" stroke="none" stroke-width="0" />
<rect x="311.52" y="133.38" width="14.47" height="6.79" fill="#337eb8" stroke="none" stroke-width="0" />
<rect x="325.39" y="133.38" width="14.47" height="6.79" fill="#3885bc" stroke="none" stroke-width="0" />
<rect x="339.26" y="133.38" width="14.47" height="6.79" fill="#3681ba" stroke="none" stroke-width="0" />
<rect x="353.13" y="133.38" width="14.47" height="6.79" fill="#3a87bd" stroke="none" stroke-width="0" />
<rect x="367" y="133.38" width="14.47" height="6.79" fill="#3a87bd" stroke="none" stroke-width="0" />
<rect x="380.87" y="133.38" width="14.47" height="6.79" fill="#3885bc" stroke="none" stroke-width="0" />
<rect x="394.74" y="133.38" width="14.47" height="6.79" fill="#3681ba" stroke="none" stroke-width="0" />
<rect x="408.61" y="133.38" width="14.47" height="6.79" fill="#3783bb" stroke="none" stroke-width="0" />
<rect x="422.48" y="133.38" width="14.47" height="6.79" fill="#3a87bd" stroke="none" stroke-width="0" />
<rect x="436.35" y="133.38" width="14.47" height="6.79" fill="#3885bc" stroke="none" stroke-width="0" />
<rect x="450.22" y="133.38" width="14.47" height="6.79" fill="#3783bb" stroke="none" stroke-width="0" />
<rect x="464.09" y="133.38" width="14.47" height="6.79" fill="#3885bc" stroke="none" stroke-width="0" />
<rect x="477.96" y="133.38" width="14.47" height="6.79" fill="#3885bc" stroke="none" stroke-width="0" />
<rect x="491.83" y="133.38" width="14.47" height="6.79" fill="#3885bc" stroke="none" stroke-width="0" />
<rect x="89.6" y="127.19" width="14.47" height="6.79" fill="#3681ba" stroke="none" stroke-width="0" />
<rect x="103.47" y="127.19" width="14.47" height="6.79" fill="#3885bc" stroke="none" stroke-width="0" />
<rect x="117.34" y="127.19" width="14.47" height="6.79" fill="#3885bc" stroke="none" stroke-width="0" />
<rect x="131.21" y="127.19" width="14.47" height="6.79" fill="#3b88be" stroke="none" stroke-width="0" />
<rect x="145.08" y="127.19" width="14.47" height="6.79" fill="#3885bc" stroke="none" stroke-width="0" />
<rect x="158.95" y="127.19" width="14.47" height="6.79" fill="#3885bc" stroke="none" stroke-width="0" />
<rect x="172.82" y="127.19" width="14.47" height="6.79" fill="#3885bc" stroke="none" stroke-width="0" />
<rect x="186.69" y="127.19" width="14.47" height="6.79" fill="#3783bb" stroke="none" stroke-width="0" />
<rect x="200.56" y="127.19" width="14.47" height="6.79" fill="#337eb8" stroke="none" stroke-width="0" />
<rect x="214.43" y="127.19" width="14.47" height="6.79" fill="#2e77b5" stroke="none" stroke-width="0" />
<rect x="228.3" y="127.19" width="14.47" height="6.79" fill="#246aae" stroke="none" stroke-width="0" />
<rect x="242.17" y="127.19" width="14.47" height="6.79" fill="#185493" stroke="none" stroke-width="0" />
<rect x="256.04" y="127.19" width="14.47" height="6.79" fill="#124984" stroke="none" stroke-width="0" />
<rect x="269.91" y="127.19" width="14.47" height="6.79" fill="#175290" stroke="none" stroke-width="0" />
<rect x="283.78" y="127.19" width="14.47" height="6.79" fill="#2267ac" stroke="none" stroke-width="0" />
<rect x="297.65" y="127.19" width="14.47" height="6.79" fill="#2e77b5" stroke="none" stroke-width="0" />
<rect x="311.52" y="127.19" width="14.47" height="6.79" fill="#3480b9" stroke="none" stroke-width="0" />
<rect x="325.39" y="127.19" width="14.47" height="6.79" fill="#3885bc" stroke="none" stroke-width="0" />
<rect x="339.26" y="127.19" width="14.47" height="6.79" fill="#3783bb" stroke="none" stroke-width="0" />
<rect x="353.13" y="127.19" width="14.47" height="6.79" fill="#3a87bd" stroke="none" stroke-width="0" />
<rect x="367" y="127.19" width="14.47" height="6.79" fill="#3a87bd" stroke="none" stroke-width="0" />
<rect x="380.87" y="127.19" width="14.47" height="6.79" fill="#3885bc" stroke="none" stroke-width="0" />
<rect x="394.74" y="127.19" width="14.47" height="6.79" fill="#3783bb" stroke="none" stroke-width="0" />
<rect x="408.61" y="127.19" width="14.47" height="6.79" fill="#3885bc" stroke="none" stroke-width="0" />
<rect x="422.48" y="127.19" width="14.47" height="6.79" fill="#3a87bd" stroke="none" stroke-width="0" />
<rect x="436.35" y="127.19" width="14.47" height="6.79" fill="#3a87bd" stroke="none" stroke-width="0" />
<rect x="450.22" y="127.19" width="14.47" height="6.79" fill="#3885bc" stroke="none" stroke-width="0" />
<rect x="464.09" y="127.19" width="14.47" height="6.79" fill="#3885bc" stroke="none" stroke-width="0" />
<rect x="477.96" y="127.19" width="14.47" height="6.79" fill="#3a87bd" stroke="none" stroke-width="0" />
<rect x="491.83" y="127.19" width="14.47" height="6.79" fill="#3885bc" stroke="none" stroke-width="0" />
<rect x="89.6" y="121" width="14.47" height="6.79" fill="#307ab6" stroke="none" stroke-width="0" />
<rect x="103.47" y="121" width="14.47" height="6.79" fill="#327cb7" stroke="none" stroke-width="0" />
<rect x="117.34" y="121" width="14.47" height="6.79" fill="#327cb7" stroke="none" stroke-width="0" />
<rect x="131.21" y="121" width="14.47" height="6.79" fill="#3480b9" stroke="none" stroke-width="0" />
<rect x="145.08" y="121" width="14.47" height="6.79" fill="#337eb8" stroke="none" stroke-width="0" />
<rect x="158.95" y="121" width="14.47" height="6.79" fill="#337eb8" stroke="none" stroke-width="0" />
<rect x="172.82" y="121" width="14.47" height="6.79" fill="#327cb7" stroke="none" stroke-width="0" />
<rect x="186.69" y="121" width="14.47" height="6.79" fill="#327cb7" stroke="none" stroke-width="0" />
<rect x="200.56" y="121" width="14.47" height="6.79" fill="#2e77b5" stroke="none" stroke-width="0" />
<rect x="214.43" y="121" width="14.47" height="6.79" fill="#276eb0" stroke="none" stroke-width="0" />
<rect x="228.3" y="121" width="14.47" height="6.79" fill="#1f63a8" stroke="none" stroke-width="0" />
<rect x="242.17" y="121" width="14.47" height="6.79" fill="#144e8a" stroke="none" stroke-width="0" />
<rect x="256.04" y="121" width="14.47" height="6.79" fill="#0f437b" stroke="none" stroke-width="0" />
<rect x="269.91" y="121" width="14.47" height="6.79" fill="#134c87" stroke="none" stroke-width="0" />
<rect x="283.78" y="121" width="14.47" height="6.79" fill="#1d5fa2" stroke="none" stroke-width="0" />
<rect x="297.65" y="121" width="14.47" height="6.79" fill="#276eb0" stroke="none" stroke-width="0" />
<rect x="311.52" y="121" width="14.47" height="6.79" fill="#2e77b5" stroke="none" stroke-width="0" />
<rect x="325.39" y="121" width="14.47" height="6.79" fill="#337eb8" stroke="none" stroke-width="0" />
<rect x="339.26" y="121" width="14.47" height="6.79" fill="#307ab6" stroke="none" stroke-width="0" />
<rect x="353.13" y="121" width="14.47" height="6.79" fill="#3480b9" stroke="none" stroke-width="0" />
<rect x="367" y="121" width="14.47" height="6.79" fill="#3480b9" stroke="none" stroke-width="0" />
<rect x="380.87" y="121" width="14.47" height="6.79" fill="#337eb8" stroke="none" stroke-width="0" />
<rect x="394.74" y="121" width="14.47" height="6.79" fill="#307ab6" stroke="none" stroke-width="0" />
<rect x="408.61" y="121" width="14.47" height="6.79" fill="#327cb7" stroke="none" stroke-width="0" />
<rect x="422.48" y="121" width="14.47" height="6.79" fill="#337eb8" stroke="none" stroke-width="0" />
<rect x="436.35" y="121" width="14.47" height="6.79" fill="#337eb8" stroke="none" stroke-width="0" />
<rect x="450.22" y="121" width="14.47" height="6.79" fill="#327cb7" stroke="none" stroke-width="0" />
<rect x="464.09" y="121" width="14.47" height="6.79" fill="#337eb8" stroke="none" stroke-width="0" />
<rect x="477.96" y="121" width="14.47" height="6.79" fill="#337eb8" stroke="none" stroke-width="0" />
<rect x="491.83" y="121" width="14.47" height="6.79" fill="#337eb8" stroke="none" stroke-width="0" />
<rect x="89.6" y="114.81" width="14.47" height="6.79" fill="#337eb8" stroke="none" stroke-width="0" />
<rect x="103.47" y="114.81" width="14.47" height="6.79" fill="#3480b9" stroke="none" stroke-width="0" />
<rect x="117.34" y="114.81" width="14.47" height="6.79" fill="#3480b9" stroke="none" stroke-width="0" />
<rect x="131.21" y="114.81" width="14.47" height="6.79" fill="#3783bb" stroke="none" stroke-width="0" />
<rect x="145.08" y="114.81" width="14.47" height="6.79" fill="#3681ba" stroke="none" stroke-width="0" />
<rect x="158.95" y="114.81" width="14.47" height="6.79" fill="#3681ba" stroke="none" stroke-width="0" />
<rect x="172.82" y="114.81" width="14.47" height="6.79" fill="#3480b9" stroke="none" stroke-width="0" />
<rect x="186.69" y="114.81" width="14.47" height="6.79" fill="#3480b9" stroke="none" stroke-width="0" />
<rect x="200.56" y="114.81" width="14.47" height="6.79" fill="#307ab6" stroke="none" stroke-width="0" />
<rect x="214.43" y="114.81" width="14.47" height="6.79" fill="#2a71b2" stroke="none" stroke-width="0" />
<rect x="228.3" y="114.81" width="14.47" height="6.79" fill="#2267ac" stroke="none" stroke-width="0" />
<rect x="242.17" y="114.81" width="14.47" height="6.79" fill="#185493" stroke="none" stroke-width="0" />
<rect x="256.04" y="114.81" width="14.47" height="6.79" fill="#124984" stroke="none" stroke-width="0" />
<rect x="269.91" y="114.81" width="14.47" height="6.79" fill="#175290" stroke="none" stroke-width="0" />
<rect x="283.78" y="114.81" width="14.47" height="6.79" fill="#2065ab" stroke="none" stroke-width="0" />
<rect x="297.65" y="114.81" width="14.47" height="6.79" fill="#2a71b2" stroke="none" stroke-width="0" />
<rect x="311.52" y="114.81" width="14.47" height="6.79" fill="#307ab6" stroke="none" stroke-width="0" />
<rect x="325.39" y="114.81" width="14.47" height="6.79" fill="#3681ba" stroke="none" stroke-width="0" />
<rect x="339.26" y="114.81" width="14.47" height="6.79" fill="#337eb8" stroke="none" stroke-width="0" />
<rect x="353.13" y="114.81" width="14.47" height="6.79" fill="#3681ba" stroke="none" stroke-width="0" />
<rect x="367" y="114.81" width="14.47" height="6.79" fill="#3681ba" stroke="none" stroke-width="0" />
<rect x="380.87" y="114.81" width="14.47" height="6.79" fill="#3681ba" stroke="none" stroke-width="0" />
<rect x="394.74" y="114.81" width="14.47" height="6.79" fill="#337eb8" stroke="none" stroke-width="0" />
<rect x="408.61" y="114.81" width="14.47" height="6.79" fill="#3480b9" stroke="none" stroke-width="0" />
<rect x="422.48" y="114.81" width="14.47" height="6.79" fill="#3681ba" stroke="none" stroke-width="0" />
<rect x="436.35" y="114.81" width="14.47" height="6.79" fill="#3681ba" stroke="none" stroke-width="0" />
<rect x="450.22" y="114.81" width="14.47" height="6.79" fill="#3480b9" stroke="none" stroke-width="0" />
<rect x="464.09" y="114.81" width="14.47" height="6.79" fill="#3480b9" stroke="none" stroke-width="0" />
<rect x="477.96" y="114.81" width="14.47" height="6.79" fill="#3681ba" stroke="none" stroke-width="0" />
<rect x="491.83" y="114.81" width="14.47" height="6.79" fill="#3681ba" stroke="none" stroke-width="0" />
<rect x="89.6" y="108.62" width="14.47" height="6.79" fill="#2f79b5" stroke="none" stroke-width="0" />
<rect x="103.47" y="108.62" width="14.47" height="6.79" fill="#307ab6" stroke="none" stroke-width="0" />
<rect x="117.34" y="108.62" width="14.47" height="6.79" fill="#307ab6" stroke="none" stroke-width="0" />
<rect x="131.21" y="108.62" width="14.47" height="6.79" fill="#337eb8" stroke="none" stroke-width="0" />
<rect x="145.08" y="108.62" width="14.47" height="6.79" fill="#327cb7" stroke="none" stroke-width="0" />
<rect x="158.95" y="108.62" width="14.47" height="6.79" fill="#327cb7" stroke="none" stroke-width="0" />
<rect x="172.82" y="108.62" width="14.47" height="6.79" fill="#307ab6" stroke="none" stroke-width="0" />
<rect x="186.69" y="108.62" width="14.47" height="6.79" fill="#307ab6" stroke="none" stroke-width="0" />
<rect x="200.56" y="108.62" width="14.47" height="6.79" fill="#2c75b4" stroke="none" stroke-width="0" />
<rect x="214.43" y="108.62" width="14.47" height="6.79" fill="#276eb0" stroke="none" stroke-width="0" />
<rect x="228.3" y="108.62" width="14.47" height="6.79" fill="#1f63a8" stroke="none" stroke-width="0" />
<rect x="242.17" y="108.62" width="14.47" height="6.79" fill="#15508d" stroke="none" stroke-width="0" />
<rect x="256.04" y="108.62" width="14.47" height="6.79" fill="#10457e" stroke="none" stroke-width="0" />
<rect x="269.91" y="108.62" width="14.47" height="6.79" fill="#144e8a" stroke="none" stroke-width="0" />
<rect x="283.78" y="108.62" width="14.47" height="6.79" fill="#1e61a5" stroke="none" stroke-width="0" />
<rect x="297.65" y="108.62" width="14.47" height="6.79" fill="#276eb0" stroke="none" stroke-width="0" />
<rect x="311.52" y="108.62" width="14.47" height="6.79" fill="#2c75b4" stroke="none" stroke-width="0" />
<rect x="325.39" y="108.62" width="14.47" height="6.79" fill="#327cb7" stroke="none" stroke-width="0" />
<rect x="339.26" y="108.62" width="14.47" height="6.79" fill="#2f79b5" stroke="none" stroke-width="0" />
<rect x="353.13" y="108.62" width="14.47" height="6.79" fill="#327cb7" stroke="none" stroke-width="0" />
<rect x="367" y="108.62" width="14.47" height="6.79" fill="#337eb8" stroke="none" stroke-width="0" />
<rect x="380.87" y="108.62" width="14.47" height="6.79" fill="#327cb7" stroke="none" stroke-width="0" />
<rect x="394.74" y="108.62" width="14.47" height="6.79" fill="#2f79b5" stroke="none" stroke-width="0" />
<rect x="408.61" y="108.62" width="14.47" height="6.79" fill="#307ab6" stroke="none" stroke-width="0" />
<rect x="422.48" y="108.62" width="14.47" height="6.79" fill="#327cb7" stroke="none" stroke-width="0" />
<rect x="436.35" y="108.62" width="14.47" height="6.79" fill="#327cb7" stroke="none" stroke-width="0" />
<rect x="450.22" y="108.62" width="14.47" height="6.79" fill="#307ab6" stroke="none" stroke-width="0" />
<rect x="464.09" y="108.62" width="14.47" height="6.79" fill="#327cb7" stroke="none" stroke-width="0" />
<rect x="477.96" y="108.62" width="14.47" height="6.79" fill="#327cb7" stroke="none" stroke-width="0" />
<rect x="491.83" y="108.62" width="14.47" height="6.79" fill="#327cb7" stroke="none" stroke-width="0" />
<rect x="89.6" y="102.44" width="14.47" height="6.79" fill="#2c75b4" stroke="none" stroke-width="0" />
<rect x="103.47" y="102.44" width="14.47" height="6.79" fill="#2e77b5" stroke="none" stroke-width="0" />
<rect x="117.34" y="102.44" width="14.47" height="6.79" fill="#2f79b5" stroke="none" stroke-width="0" />
<rect x="131.21" y="102.44" width="14.47" height="6.79" fill="#307ab6" stroke="none" stroke-width="0" />
<rect x="145.08" y="102.44" width="14.47" height="6.79" fill="#2f79b5" stroke="none" stroke-width="0" />
<rect x="158.95" y="102.44" width="14.47" height="6.79" fill="#2f79b5" stroke="none" stroke-width="0" />
<rect x="172.82" y="102.44" width="14.47" height="6.79" fill="#2e77b5" stroke="none" stroke-width="0" />
<rect x="186.69" y="102.44" width="14.47" height="6.79" fill="#2e77b5" stroke="none" stroke-width="0" />
<rect x="200.56" y="102.44" width="14.47" height="6.79" fill="#2a71b2" stroke="none" stroke-width="0" />
<rect x="214.43" y="102.44" width="14.47" height="6.79" fill="#246aae" stroke="none" stroke-width="0" />
<rect x="228.3" y="102.44" width="14.47" height="6.79" fill="#1e61a5" stroke="none" stroke-width="0" />
<rect x="242.17" y="102.44" width="14.47" height="6.79" fill="#144e8a" stroke="none" stroke-width="0" />
<rect x="256.04" y="102.44" width="14.47" height="6.79" fill="#10457e" stroke="none" stroke-width="0" />
<rect x="269.91" y="102.44" width="14.47" height="6.79" fill="#134c87" stroke="none" stroke-width="0" />
<rect x="283.78" y="102.44" width="14.47" height="6.79" fill="#1d5fa2" stroke="none" stroke-width="0" />
<rect x="297.65" y="102.44" width="14.47" height="6.79" fill="#246aae" stroke="none" stroke-width="0" />
<rect x="311.52" y="102.44" width="14.47" height="6.79" fill="#2b73b3" stroke="none" stroke-width="0" />
<rect x="325.39" y="102.44" width="14.47" height="6.79" fill="#2f79b5" stroke="none" stroke-width="0" />
<rect x="339.26" y="102.44" width="14.47" height="6.79" fill="#2c75b4" stroke="none" stroke-width="0" />
<rect x="353.13" y="102.44" width="14.47" height="6.79" fill="#307ab6" stroke="none" stroke-width="0" />
<rect x="367" y="102.44" width="14.47" height="6.79" fill="#307ab6" stroke="none" stroke-width="0" />
<rect x="380.87" y="102.44" width="14.47" height="6.79" fill="#2f79b5" stroke="none" stroke-width="0" />
<rect x="394.74" y="102.44" width="14.47" height="6.79" fill="#2c75b4" stroke="none" stroke-width="0" />
<rect x="408.61" y="102.44" width="14.47" height="6.79" fill="#2e77b5" stroke="none" stroke-width="0" />
<rect x="422.48" y="102.44" width="14.47" height="6.79" fill="#307ab6" stroke="none" stroke-width="0" />
<rect x="436.35" y="102.44" width="14.47" height="6.79" fill="#2f79b5" stroke="none" stroke-width="0" />
<rect x="450.22" y="102.44" width="14.47" height="6.79" fill="#2e77b5" stroke="none" stroke-width="0" />
<rect x="464.09" y="102.44" width="14.47" height="6.79" fill="#2f79b5" stroke="none" stroke-width="0" />
<rect x="477.96" y="102.44" width="14.47" height="6.79" fill="#2f79b5" stroke="none" stroke-width="0" />
<rect x="491.83" y="102.44" width="14.47" height="6.79" fill="#2f79b5" stroke="none" stroke-width="0" />
<rect x="89.6" y="96.25" width="14.47" height="6.79" fill="#2c75b4" stroke="none" stroke-width="0" />
<rect x="103.47" y="96.25" width="14.47" height="6.79" fill="#2e77b5" stroke="none" stroke-width="0" />
<rect x="117.34" y="96.25" width="14.47" height="6.79" fill="#2f79b5" stroke="none" stroke-width="0" />
<rect x="131.21" y="96.25" width="14.47" height="6.79" fill="#307ab6" stroke="none" stroke-width="0" />
<rect x="145.08" y="96.25" width="14.47" height="6.79" fill="#2f79b5" stroke="none" stroke-width="0" />
<rect x="158.95" y="96.25" width="14.47" height="6.79" fill="#2f79b5" stroke="none" stroke-width="0" />
<rect x="172.82" y="96.25" width="14.47" height="6.79" fill="#2e77b5" stroke="none" stroke-width="0" />
<rect x="186.69" y="96.25" width="14.47" height="6.79" fill="#2e77b5" stroke="none" stroke-width="0" />
<rect x="200.56" y="96.25" width="14.47" height="6.79" fill="#2b73b3" stroke="none" stroke-width="0" />
<rect x="214.43" y="96.25" width="14.47" height="6.79" fill="#266caf" stroke="none" stroke-width="0" />
<rect x="228.3" y="96.25" width="14.47" height="6.79" fill="#1f63a8" stroke="none" stroke-width="0" />
<rect x="242.17" y="96.25" width="14.47" height="6.79" fill="#15508d" stroke="none" stroke-width="0" />
<rect x="256.04" y="96.25" width="14.47" height="6.79" fill="#124984" stroke="none" stroke-width="0" />
<rect x="269.91" y="96.25" width="14.47" height="6.79" fill="#144e8a" stroke="none" stroke-width="0" />
<rect x="283.78" y="96.25" width="14.47" height="6.79" fill="#1d5fa2" stroke="none" stroke-width="0" />
<rect x="297.65" y="96.25" width="14.47" height="6.79" fill="#266caf" stroke="none" stroke-width="0" />
<rect x="311.52" y="96.25" width="14.47" height="6.79" fill="#2b73b3" stroke="none" stroke-width="0" />
<rect x="325.39" y="96.25" width="14.47" height="6.79" fill="#2f79b5" stroke="none" stroke-width="0" />
<rect x="339.26" y="96.25" width="14.47" height="6.79" fill="#2c75b4" stroke="none" stroke-width="0" />
<rect x="353.13" y="96.25" width="14.47" height="6.79" fill="#307ab6" stroke="none" stroke-width="0" />
<rect x="367" y="96.25" width="14.47" height="6.79" fill="#307ab6" stroke="none" stroke-width="0" />
<rect x="380.87" y="96.25" width="14.47" height="6.79" fill="#2f79b5" stroke="none" stroke-width="0" />
<rect x="394.74" y="96.25" width="14.47" height="6.79" fill="#2c75b4" stroke="none" stroke-width="0" />
<rect x="408.61" y="96.25" width="14.47" height="6.79" fill="#2e77b5" stroke="none" stroke-width="0" />
<rect x="422.48" y="96.25" width="14.47" height="6.79" fill="#307ab6" stroke="none" stroke-width="0" />
<rect x="436.35" y="96.25" width="14.47" height="6.79" fill="#2f79b5" stroke="none" stroke-width="0" />
<rect x="450.22" y="96.25" width="14.47" height="6.79" fill="#2e77b5" stroke="none" stroke-width="0" />
<rect x="464.09" y="96.25" width="14.47" height="6.79" fill="#2f79b5" stroke="none" stroke-width="0" />
<rect x="477.96" y="96.25" width="14.47" height="6.79" fill="#2f79b5" stroke="none" stroke-width="0" />
<rect x="491.83" y="96.25" width="14.47" height="6.79" fill="#2f79b5" stroke="none" stroke-width="0" />
<rect x="89.6" y="90.06" width="14.47" height="6.79" fill="#276eb0" stroke="none" stroke-width="0" />
<rect x="103.47" y="90.06" width="14.47" height="6.79" fill="#2870b1" stroke="none" stroke-width="0" />
<rect x="117.34" y="90.06" width="14.47" height="6.79" fill="#2a71b2" stroke="none" stroke-width="0" />
<rect x="131.21" y="90.06" width="14.47" height="6.79" fill="#2c75b4" stroke="none" stroke-width="0" />
<rect x="145.08" y="90.06" width="14.47" height="6.79" fill="#2a71b2" stroke="none" stroke-width="0" />
<rect x="158.95" y="90.06" width="14.47" height="6.79" fill="#2a71b2" stroke="none" stroke-width="0" />
<rect x="172.82" y="90.06" width="14.47" height="6.79" fill="#2870b1" stroke="none" stroke-width="0" />
<rect x="186.69" y="90.06" width="14.47" height="6.79" fill="#2870b1" stroke="none" stroke-width="0" />
<rect x="200.56" y="90.06" width="14.47" height="6.79" fill="#266caf" stroke="none" stroke-width="0" />
<rect x="214.43" y="90.06" width="14.47" height="6.79" fill="#2065ab" stroke="none" stroke-width="0" />
<rect x="228.3" y="90.06" width="14.47" height="6.79" fill="#1b5a9c" stroke="none" stroke-width="0" />
<rect x="242.17" y="90.06" width="14.47" height="6.79" fill="#124984" stroke="none" stroke-width="0" />
<rect x="256.04" y="90.06" width="14.47" height="6.79" fill="#0f437b" stroke="none" stroke-width="0" />
<rect x="269.91" y="90.06" width="14.47" height="6.79" fill="#124984" stroke="none" stroke-width="0" />
<rect x="283.78" y="90.06" width="14.47" height="6.79" fill="#1a5899" stroke="none" stroke-width="0" />
<rect x="297.65" y="90.06" width="14.47" height="6.79" fill="#2065ab" stroke="none" stroke-width="0" />
<rect x="311.52" y="90.06" width="14.47" height="6.79" fill="#266caf" stroke="none" stroke-width="0" />
<rect x="325.39" y="90.06" width="14.47" height="6.79" fill="#2a71b2" stroke="none" stroke-width="0" />
<rect x="339.26" y="90.06" width="14.47" height="6.79" fill="#276eb0" stroke="none" stroke-width="0" />
<rect x="353.13" y="90.06" width="14.47" height="6.79" fill="#2b73b3" stroke="none" stroke-width="0" />
<rect x="367" y="90.06" width="14.47" height="6.79" fill="#2b73b3" stroke="none" stroke-width="0" />
<rect x="380.87" y="90.06" width="14.47" height="6.79" fill="#2a71b2" stroke="none" stroke-width="0" />
<rect x="394.74" y="90.06" width="14.47" height="6.79" fill="#276eb0" stroke="none" stroke-width="0" />
<rect x="408.61" y="90.06" width="14.47" height="6.79" fill="#2870b1" stroke="none" stroke-width="0" />
<rect x="422.48" y="90.06" width="14.47" height="6.79" fill="#2b73b3" stroke="none" stroke-width="0" />
<rect x="436.35" y="90.06" width="14.47" height="6.79" fill="#2a71b2" stroke="none" stroke-width="0" />
<rect x="450.22" y="90.06" width="14.47" height="6.79" fill="#2870b1" stroke="none" stroke-width="0" />
<rect x="464.09" y="90.06" width="14.47" height="6.79" fill="#2a71b2" stroke="none" stroke-width="0" />
<rect x="477.96" y="90.06" width="14.47" height="6.79" fill="#2a71b2" stroke="none" stroke-width="0" />
<rect x="491.83" y="90.06" width="14.47" height="6.79" fill="#2a71b2" stroke="none" stroke-width="0" />
<rect x="89.6" y="83.88" width="14.47" height="6.79" fill="#2267ac" stroke="none" stroke-width="0" />
<rect x="103.47" y="83.88" width="14.47" height="6.79" fill="#2369ad" stroke="none" stroke-width="0" />
<rect x="117.34" y="83.88" width="14.47" height="6.79" fill="#246aae" stroke="none" stroke-width="0" />
<rect x="131.21" y="83.88" width="14.47" height="6.79" fill="#276eb0" stroke="none" stroke-width="0" />
<rect x="145.08" y="83.88" width="14.47" height="6.79" fill="#246aae" stroke="none" stroke-width="0" />
<rect x="158.95" y="83.88" width="14.47" height="6.79" fill="#246aae" stroke="none" stroke-width="0" />
<rect x="172.82" y="83.88" width="14.47" height="6.79" fill="#246aae" stroke="none" stroke-width="0" />
<rect x="186.69" y="83.88" width="14.47" height="6.79" fill="#2369ad" stroke="none" stroke-width="0" />
<rect x="200.56" y="83.88" width="14.47" height="6.79" fill="#2065ab" stroke="none" stroke-width="0" />
<rect x="214.43" y="83.88" width="14.47" height="6.79" fill="#1d5fa2" stroke="none" stroke-width="0" />
<rect x="228.3" y="83.88" width="14.47" height="6.79" fill="#185493" stroke="none" stroke-width="0" />
<rect x="242.17" y="83.88" width="14.47" height="6.79" fill="#10457e" stroke="none" stroke-width="0" />
<rect x="256.04" y="83.88" width="14.47" height="6.79" fill="#0c3d73" stroke="none" stroke-width="0" />
<rect x="269.91" y="83.88" width="14.47" height="6.79" fill="#0f437b" stroke="none" stroke-width="0" />
<rect x="283.78" y="83.88" width="14.47" height="6.79" fill="#175290" stroke="none" stroke-width="0" />
<rect x="297.65" y="83.88" width="14.47" height="6.79" fill="#1d5fa2" stroke="none" stroke-width="0" />
<rect x="311.52" y="83.88" width="14.47" height="6.79" fill="#2065ab" stroke="none" stroke-width="0" />
<rect x="325.39" y="83.88" width="14.47" height="6.79" fill="#246aae" stroke="none" stroke-width="0" />
<rect x="339.26" y="83.88" width="14.47" height="6.79" fill="#2267ac" stroke="none" stroke-width="0" />
<rect x="353.13" y="83.88" width="14.47" height="6.79" fill="#266caf" stroke="none" stroke-width="0" />
<rect x="367" y="83.88" width="14.47" height="6.79" fill="#266caf" stroke="none" stroke-width="0" />
<rect x="380.87" y="83.88" width="14.47" height="6.79" fill="#246aae" stroke="none" stroke-width="0" />
<rect x="394.74" y="83.88" width="14.47" height="6.79" fill="#2267ac" stroke="none" stroke-width="0" />
<rect x="408.61" y="83.88" width="14.47" height="6.79" fill="#246aae" stroke="none" stroke-width="0" />
<rect x="422.48" y="83.88" width="14.47" height="6.79" fill="#266caf" stroke="none" stroke-width="0" />
<rect x="436.35" y="83.88" width="14.47" height="6.79" fill="#246aae" stroke="none" stroke-width="0" />
<rect x="450.22" y="83.88" width="14.47" height="6.79" fill="#2369ad" stroke="none" stroke-width="0" />
<rect x="464.09" y="83.88" width="14.47" height="6.79" fill="#246aae" stroke="none" stroke-width="0" />
<rect x="477.96" y="83.88" width="14.47" height="6.79" fill="#266caf" stroke="none" stroke-width="0" />
<rect x="491.83" y="83.88" width="14.47" height="6.79" fill="#246aae" stroke="none" stroke-width="0" />
<rect x="89.6" y="77.69" width="14.47" height="6.79" fill="#266caf" stroke="none" stroke-width="0" />
<rect x="103.47" y="77.69" width="14.47" height="6.79" fill="#276eb0" stroke="none" stroke-width="0" />
<rect x="117.34" y="77.69" width="14.47" height="6.79" fill="#2870b1" stroke="none" stroke-width="0" />
<rect x="131.21" y="77.69" width="14.47" height="6.79" fill="#2b73b3" stroke="none" stroke-width="0" />
<rect x="145.08" y="77.69" width="14.47" height="6.79" fill="#2870b1" stroke="none" stroke-width="0" />
<rect x="158.95" y="77.69" width="14.47" height="6.79" fill="#2870b1" stroke="none" stroke-width="0" />
<rect x="172.82" y="77.69" width="14.47" height="6.79" fill="#2870b1" stroke="none" stroke-width="0" />
<rect x="186.69" y="77.69" width="14.47" height="6.79" fill="#276eb0" stroke="none" stroke-width="0" />
<rect x="200.56" y="77.69" width="14.47" height="6.79" fill="#246aae" stroke="none" stroke-width="0" />
<rect x="214.43" y="77.69" width="14.47" height="6.79" fill="#2065ab" stroke="none" stroke-width="0" />
<rect x="228.3" y="77.69" width="14.47" height="6.79" fill="#1c5c9f" stroke="none" stroke-width="0" />
<rect x="242.17" y="77.69" width="14.47" height="6.79" fill="#134c87" stroke="none" stroke-width="0" />
<rect x="256.04" y="77.69" width="14.47" height="6.79" fill="#114781" stroke="none" stroke-width="0" />
<rect x="269.91" y="77.69" width="14.47" height="6.79" fill="#134c87" stroke="none" stroke-width="0" />
<rect x="283.78" y="77.69" width="14.47" height="6.79" fill="#1a5899" stroke="none" stroke-width="0" />
<rect x="297.65" y="77.69" width="14.47" height="6.79" fill="#2065ab" stroke="none" stroke-width="0" />
<rect x="311.52" y="77.69" width="14.47" height="6.79" fill="#266caf" stroke="none" stroke-width="0" />
<rect x="325.39" y="77.69" width="14.47" height="6.79" fill="#2870b1" stroke="none" stroke-width="0" />
<rect x="339.26" y="77.69" width="14.47" height="6.79" fill="#266caf" stroke="none" stroke-width="0" />
<rect x="353.13" y="77.69" width="14.47" height="6.79" fill="#2a71b2" stroke="none" stroke-width="0" />
<rect x="367" y="77.69" width="14.47" height="6.79" fill="#2a71b2" stroke="none" stroke-width="0" />
<rect x="380.87" y="77.69" width="14.47" height="6.79" fill="#2870b1" stroke="none" stroke-width="0" />
<rect x="394.74" y="77.69" width="14.47" height="6.79" fill="#266caf" stroke="none" stroke-width="0" />
<rect x="408.61" y="77.69" width="14.47" height="6.79" fill="#2870b1" stroke="none" stroke-width="0" />
<rect x="422.48" y="77.69" width="14.47" height="6.79" fill="#2a71b2" stroke="none" stroke-width="0" />
<rect x="436.35" y="77.69" width="14.47" height="6.79" fill="#2870b1" stroke="none" stroke-width="0" />
<rect x="450.22" y="77.69" width="14.47" height="6.79" fill="#276eb0" stroke="none" stroke-width="0" />
<rect x="464.09" y="77.69" width="14.47" height="6.79" fill="#2870b1" stroke="none" stroke-width="0" />
<rect x="477.96" y="77.69" width="14.47" height="6.79" fill="#2a71b2" stroke="none" stroke-width="0" />
<rect x="491.83" y="77.69" width="14.47" height="6.79" fill="#2870b1" stroke="none" stroke-width="0" />
<rect x="89.6" y="71.5" width="14.47" height="6.79" fill="#2065ab" stroke="none" stroke-width="0" />
<rect x="103.47" y="71.5" width="14.47" height="6.79" fill="#2267ac" stroke="none" stroke-width="0" />
<rect x="117.34" y="71.5" width="14.47" height="6.79" fill="#2369ad" stroke="none" stroke-width="0" />
<rect x="131.21" y="71.5" width="14.47" height="6.79" fill="#266caf" stroke="none" stroke-width="0" />
<rect x="145.08" y="71.5" width="14.47" height="6.79" fill="#2369ad" stroke="none" stroke-width="0" />
<rect x="158.95" y="71.5" width="14.47" height="6.79" fill="#2369ad" stroke="none" stroke-width="0" />
<rect x="172.82" y="71.5" width="14.47" height="6.79" fill="#2267ac" stroke="none" stroke-width="0" />
<rect x="186.69" y="71.5" width="14.47" height="6.79" fill="#2267ac" stroke="none" stroke-width="0" />
<rect x="200.56" y="71.5" width="14.47" height="6.79" fill="#1f63a8" stroke="none" stroke-width="0" />
<rect x="214.43" y="71.5" width="14.47" height="6.79" fill="#1c5c9f" stroke="none" stroke-width="0" />
<rect x="228.3" y="71.5" width="14.47" height="6.79" fill="#185493" stroke="none" stroke-width="0" />
<rect x="242.17" y="71.5" width="14.47" height="6.79" fill="#10457e" stroke="none" stroke-width="0" />
<rect x="256.04" y="71.5" width="14.47" height="6.79" fill="#0d3f76" stroke="none" stroke-width="0" />
<rect x="269.91" y="71.5" width="14.47" height="6.79" fill="#0f437b" stroke="none" stroke-width="0" />
<rect x="283.78" y="71.5" width="14.47" height="6.79" fill="#175290" stroke="none" stroke-width="0" />
<rect x="297.65" y="71.5" width="14.47" height="6.79" fill="#1c5c9f" stroke="none" stroke-width="0" />
<rect x="311.52" y="71.5" width="14.47" height="6.79" fill="#2065ab" stroke="none" stroke-width="0" />
<rect x="325.39" y="71.5" width="14.47" height="6.79" fill="#2369ad" stroke="none" stroke-width="0" />
<rect x="339.26" y="71.5" width="14.47" height="6.79" fill="#2065ab" stroke="none" stroke-width="0" />
<rect x="353.13" y="71.5" width="14.47" height="6.79" fill="#246aae" stroke="none" stroke-width="0" />
<rect x="367" y="71.5" width="14.47" height="6.79" fill="#246aae" stroke="none" stroke-width="0" />
<rect x="380.87" y="71.5" width="14.47" height="6.79" fill="#2369ad" stroke="none" stroke-width="0" />
<rect x="394.74" y="71.5" width="14.47" height="6.79" fill="#2065ab" stroke="none" stroke-width="0" />
<rect x="408.61" y="71.5" width="14.47" height="6.79" fill="#2267ac" stroke="none" stroke-width="0" />
<rect x="422.48" y="71.5" width="14.47" height="6.79" fill="#246aae" stroke="none" stroke-width="0" />
<rect x="436.35" y="71.5" width="14.47" height="6.79" fill="#2369ad" stroke="none" stroke-width="0" />
<rect x="450.22" y="71.5" width="14.47" height="6.79" fill="#2267ac" stroke="none" stroke-width="0" />
<rect x="464.09" y="71.5" width="14.47" height="6.79" fill="#2369ad" stroke="none" stroke-width="0" />
<rect x="477.96" y="71.5" width="14.47" height="6.79" fill="#2369ad" stroke="none" stroke-width="0" />
<rect x="491.83" y="71.5" width="14.47" height="6.79" fill="#2369ad" stroke="none" stroke-width="0" />
<rect x="89.6" y="65.31" width="14.47" height="6.79" fill="#2065ab" stroke="none" stroke-width="0" />
<rect x="103.47" y="65.31" width="14.47" height="6.79" fill="#2369ad" stroke="none" stroke-width="0" />
<rect x="117.34" y="65.31" width="14.47" height="6.79" fill="#2369ad" stroke="none" stroke-width="0" />
<rect x="131.21" y="65.31" width="14.47" height="6.79" fill="#266caf" stroke="none" stroke-width="0" />
<rect x="145.08" y="65.31" width="14.47" height="6.79" fill="#2369ad" stroke="none" stroke-width="0" />
<rect x="158.95" y="65.31" width="14.47" height="6.79" fill="#2369ad" stroke="none" stroke-width="0" />
<rect x="172.82" y="65.31" width="14.47" height="6.79" fill="#2369ad" stroke="none" stroke-width="0" />
<rect x="186.69" y="65.31" width="14.47" height="6.79" fill="#2369ad" stroke="none" stroke-width="0" />
<rect x="200.56" y="65.31" width="14.47" height="6.79" fill="#1f63a8" stroke="none" stroke-width="0" />
<rect x="214.43" y="65.31" width="14.47" height="6.79" fill="#1d5fa2" stroke="none" stroke-width="0" />
<rect x="228.3" y="65.31" width="14.47" height="6.79" fill="#195696" stroke="none" stroke-width="0" />
<rect x="242.17" y="65.31" width="14.47" height="6.79" fill="#114781" stroke="none" stroke-width="0" />
<rect x="256.04" y="65.31" width="14.47" height="6.79" fill="#0f437b" stroke="none" stroke-width="0" />
<rect x="269.91" y="65.31" width="14.47" height="6.79" fill="#10457e" stroke="none" stroke-width="0" />
<rect x="283.78" y="65.31" width="14.47" height="6.79" fill="#185493" stroke="none" stroke-width="0" />
<rect x="297.65" y="65.31" width="14.47" height="6.79" fill="#1d5fa2" stroke="none" stroke-width="0" />
<rect x="311.52" y="65.31" width="14.47" height="6.79" fill="#2065ab" stroke="none" stroke-width="0" />
<rect x="325.39" y="65.31" width="14.47" height="6.79" fill="#246aae" stroke="none" stroke-width="0" />
<rect x="339.26" y="65.31" width="14.47" height="6.79" fill="#2267ac" stroke="none" stroke-width="0" />
<rect x="353.13" y="65.31" width="14.47" height="6.79" fill="#246aae" stroke="none" stroke-width="0" />
<rect x="367" y="65.31" width="14.47" height="6.79" fill="#246aae" stroke="none" stroke-width="0" />
<rect x="380.87" y="65.31" width="14.47" height="6.79" fill="#2369ad" stroke="none" stroke-width="0" />
<rect x="394.74" y="65.31" width="14.47" height="6.79" fill="#2267ac" stroke="none" stroke-width="0" />
<rect x="408.61" y="65.31" width="14.47" height="6.79" fill="#2369ad" stroke="none" stroke-width="0" />
<rect x="422.48" y="65.31" width="14.47" height="6.79" fill="#246aae" stroke="none" stroke-width="0" />
<rect x="436.35" y="65.31" width="14.47" height="6.79" fill="#246aae" stroke="none" stroke-width="0" />
<rect x="450.22" y="65.31" width="14.47" height="6.79" fill="#2267ac" stroke="none" stroke-width="0" />
<rect x="464.09" y="65.31" width="14.47" height="6.79" fill="#2369ad" stroke="none" stroke-width="0" />
<rect x="477.96" y="65.31" width="14.47" height="6.79" fill="#246aae" stroke="none" stroke-width="0" />
<rect x="491.83" y="65.31" width="14.47" height="6.79" fill="#2369ad" stroke="none" stroke-width="0" />
<rect x="89.6" y="59.12" width="14.47" height="6.79" fill="#1c5c9f" stroke="none" stroke-width="0" />
<rect x="103.47" y="59.12" width="14.47" height="6.79" fill="#1e61a5" stroke="none" stroke-width="0" />
<rect x="117.34" y="59.12" width="14.47" height="6.79" fill="#1e61a5" stroke="none" stroke-width="0" />
<rect x="131.21" y="59.12" width="14.47" height="6.79" fill="#2065ab" stroke="none" stroke-width="0" />
<rect x="145.08" y="59.12" width="14.47" height="6.79" fill="#1e61a5" stroke="none" stroke-width="0" />
<rect x="158.95" y="59.12" width="14.47" height="6.79" fill="#1e61a5" stroke="none" stroke-width="0" />
<rect x="172.82" y="59.12" width="14.47" height="6.79" fill="#1e61a5" stroke="none" stroke-width="0" />
<rect x="186.69" y="59.12" width="14.47" height="6.79" fill="#1e61a5" stroke="none" stroke-width="0" />
<rect x="200.56" y="59.12" width="14.47" height="6.79" fill="#1c5c9f" stroke="none" stroke-width="0" />
<rect x="214.43" y="59.12" width="14.47" height="6.79" fill="#195696" stroke="none" stroke-width="0" />
<rect x="228.3" y="59.12" width="14.47" height="6.79" fill="#144e8a" stroke="none" stroke-width="0" />
<rect x="242.17" y="59.12" width="14.47" height="6.79" fill="#0e4179" stroke="none" stroke-width="0" />
<rect x="256.04" y="59.12" width="14.47" height="6.79" fill="#0a3b70" stroke="none" stroke-width="0" />
<rect x="269.91" y="59.12" width="14.47" height="6.79" fill="#0d3f76" stroke="none" stroke-width="0" />
<rect x="283.78" y="59.12" width="14.47" height="6.79" fill="#134c87" stroke="none" stroke-width="0" />
<rect x="297.65" y="59.12" width="14.47" height="6.79" fill="#195696" stroke="none" stroke-width="0" />
<rect x="311.52" y="59.12" width="14.47" height="6.79" fill="#1c5c9f" stroke="none" stroke-width="0" />
<rect x="325.39" y="59.12" width="14.47" height="6.79" fill="#1f63a8" stroke="none" stroke-width="0" />
<rect x="339.26" y="59.12" width="14.47" height="6.79" fill="#1d5fa2" stroke="none" stroke-width="0" />
<rect x="353.13" y="59.12" width="14.47" height="6.79" fill="#1f63a8" stroke="none" stroke-width="0" />
<rect x="367" y="59.12" width="14.47" height="6.79" fill="#1f63a8" stroke="none" stroke-width="0" />
<rect x="380.87" y="59.12" width="14.47" height="6.79" fill="#1e61a5" stroke="none" stroke-width="0" />
<rect x="394.74" y="59.12" width="14.47" height="6.79" fill="#1c5c9f" stroke="none" stroke-width="0" />
<rect x="408.61" y="59.12" width="14.47" height="6.79" fill="#1e61a5" stroke="none" stroke-width="0" />
<rect x="422.48" y="59.12" width="14.47" height="6.79" fill="#1f63a8" stroke="none" stroke-width="0" />
<rect x="436.35" y="59.12" width="14.47" height="6.79" fill="#1f63a8" stroke="none" stroke-width="0" />
<rect x="450.22" y="59.12" width="14.47" height="6.79" fill="#1d5fa2" stroke="none" stroke-width="0" />
<rect x="464.09" y="59.12" width="14.47" height="6.79" fill="#1e61a5" stroke="none" stroke-width="0" />
<rect x="477.96" y="59.12" width="14.47" height="6.79" fill="#1f63a8" stroke="none" stroke-width="0" />
<rect x="491.83" y="59.12" width="14.47" height="6.79" fill="#1e61a5" stroke="none" stroke-width="0" />
<rect x="89.6" y="52.94" width="14.47" height="6.79" fill="#1d5fa2" stroke="none" stroke-width="0" />
<rect x="103.47" y="52.94" width="14.47" height="6.79" fill="#1e61a5" stroke="none" stroke-width="0" />
<rect x="117.34" y="52.94" width="14.47" height="6.79" fill="#1e61a5" stroke="none" stroke-width="0" />
<rect x="131.21" y="52.94" width="14.47" height="6.79" fill="#2065ab" stroke="none" stroke-width="0" />
<rect x="145.08" y="52.94" width="14.47" height="6.79" fill="#1f63a8" stroke="none" stroke-width="0" />
<rect x="158.95" y="52.94" width="14.47" height="6.79" fill="#1f63a8" stroke="none" stroke-width="0" />
<rect x="172.82" y="52.94" width="14.47" height="6.79" fill="#1e61a5" stroke="none" stroke-width="0" />
<rect x="186.69" y="52.94" width="14.47" height="6.79" fill="#1e61a5" stroke="none" stroke-width="0" />
<rect x="200.56" y="52.94" width="14.47" height="6.79" fill="#1c5c9f" stroke="none" stroke-width="0" />
<rect x="214.43" y="52.94" width="14.47" height="6.79" fill="#1a5899" stroke="none" stroke-width="0" />
<rect x="228.3" y="52.94" width="14.47" height="6.79" fill="#15508d" stroke="none" stroke-width="0" />
<rect x="242.17" y="52.94" width="14.47" height="6.79" fill="#0f437b" stroke="none" stroke-width="0" />
<rect x="256.04" y="52.94" width="14.47" height="6.79" fill="#0d3f76" stroke="none" stroke-width="0" />
<rect x="269.91" y="52.94" width="14.47" height="6.79" fill="#0e4179" stroke="none" stroke-width="0" />
<rect x="283.78" y="52.94" width="14.47" height="6.79" fill="#144e8a" stroke="none" stroke-width="0" />
<rect x="297.65" y="52.94" width="14.47" height="6.79" fill="#1a5899" stroke="none" stroke-width="0" />
<rect x="311.52" y="52.94" width="14.47" height="6.79" fill="#1d5fa2" stroke="none" stroke-width="0" />
<rect x="325.39" y="52.94" width="14.47" height="6.79" fill="#1f63a8" stroke="none" stroke-width="0" />
<rect x="339.26" y="52.94" width="14.47" height="6.79" fill="#1d5fa2" stroke="none" stroke-width="0" />
<rect x="353.13" y="52.94" width="14.47" height="6.79" fill="#2065ab" stroke="none" stroke-width="0" />
<rect x="367" y="52.94" width="14.47" height="6.79" fill="#2065ab" stroke="none" stroke-width="0" />
<rect x="380.87" y="52.94" width="14.47" height="6.79" fill="#1f63a8" stroke="none" stroke-width="0" />
<rect x="394.74" y="52.94" width="14.47" height="6.79" fill="#1d5fa2" stroke="none" stroke-width="0" />
<rect x="408.61" y="52.94" width="14.47" height="6.79" fill="#1e61a5" stroke="none" stroke-width="0" />
<rect x="422.48" y="52.94" width="14.47" height="6.79" fill="#2065ab" stroke="none" stroke-width="0" />
<rect x="436.35" y="52.94" width="14.47" height="6.79" fill="#1f63a8" stroke="none" stroke-width="0" />
<rect x="450.22" y="52.94" width="14.47" height="6.79" fill="#1e61a5" stroke="none" stroke-width="0" />
<rect x="464.09" y="52.94" width="14.47" height="6.79" fill="#1f63a8" stroke="none" stroke-width="0" />
<rect x="477.96" y="52.94" width="14.47" height="6.79" fill="#1f63a8" stroke="none" stroke-width="0" />
<rect x="491.83" y="52.94" width="14.47" height="6.79" fill="#1f63a8" stroke="none" stroke-width="0" />
<rect x="89.6" y="46.75" width="14.47" height="6.79" fill="#1b5a9c" stroke="none" stroke-width="0" />
<rect x="103.47" y="46.75" width="14.47" height="6.79" fill="#1d5fa2" stroke="none" stroke-width="0" />
<rect x="117.34" y="46.75" width="14.47" height="6.79" fill="#1d5fa2" stroke="none" stroke-width="0" />
<rect x="131.21" y="46.75" width="14.47" height="6.79" fill="#1f63a8" stroke="none" stroke-width="0" />
<rect x="145.08" y="46.75" width="14.47" height="6.79" fill="#1d5fa2" stroke="none" stroke-width="0" />
<rect x="158.95" y="46.75" width="14.47" height="6.79" fill="#1d5fa2" stroke="none" stroke-width="0" />
<rect x="172.82" y="46.75" width="14.47" height="6.79" fill="#1d5fa2" stroke="none" stroke-width="0" />
<rect x="186.69" y="46.75" width="14.47" height="6.79" fill="#1d5fa2" stroke="none" stroke-width="0" />
<rect x="200.56" y="46.75" width="14.47" height="6.79" fill="#1b5a9c" stroke="none" stroke-width="0" />
<rect x="214.43" y="46.75" width="14.47" height="6.79" fill="#185493" stroke="none" stroke-width="0" />
<rect x="228.3" y="46.75" width="14.47" height="6.79" fill="#144e8a" stroke="none" stroke-width="0" />
<rect x="242.17" y="46.75" width="14.47" height="6.79" fill="#0f437b" stroke="none" stroke-width="0" />
<rect x="256.04" y="46.75" width="14.47" height="6.79" fill="#0c3d73" stroke="none" stroke-width="0" />
<rect x="269.91" y="46.75" width="14.47" height="6.79" fill="#0e4179" stroke="none" stroke-width="0" />
<rect x="283.78" y="46.75" width="14.47" height="6.79" fill="#134c87" stroke="none" stroke-width="0" />
<rect x="297.65" y="46.75" width="14.47" height="6.79" fill="#185493" stroke="none" stroke-width="0" />
<rect x="311.52" y="46.75" width="14.47" height="6.79" fill="#1b5a9c" stroke="none" stroke-width="0" />
<rect x="325.39" y="46.75" width="14.47" height="6.79" fill="#1e61a5" stroke="none" stroke-width="0" />
<rect x="339.26" y="46.75" width="14.47" height="6.79" fill="#1c5c9f" stroke="none" stroke-width="0" />
<rect x="353.13" y="46.75" width="14.47" height="6.79" fill="#1e61a5" stroke="none" stroke-width="0" />
<rect x="367" y="46.75" width="14.47" height="6.79" fill="#1e61a5" stroke="none" stroke-width="0" />
<rect x="380.87" y="46.75" width="14.47" height="6.79" fill="#1d5fa2" stroke="none" stroke-width="0" />
<rect x="394.74" y="46.75" width="14.47" height="6.79" fill="#1c5c9f" stroke="none" stroke-width="0" />
<rect x="408.61" y="46.75" width="14.47" height="6.79" fill="#1d5fa2" stroke="none" stroke-width="0" />
<rect x="422.48" y="46.75" width="14.47" height="6.79" fill="#1e61a5" stroke="none" stroke-width="0" />
<rect x="436.35" y="46.75" width="14.47" height="6.79" fill="#1e61a5" stroke="none" stroke-width="0" />
<rect x="450.22" y="46.75" width="14.47" height="6.79" fill="#1c5c9f" stroke="none" stroke-width="0" />
<rect x="464.09" y="46.75" width="14.47" height="6.79" fill="#1d5fa2" stroke="none" stroke-width="0" />
<rect x="477.96" y="46.75" width="14.47" height="6.79" fill="#1e61a5" stroke="none" stroke-width="0" />
<rect x="491.83" y="46.75" width="14.47" height="6.79" fill="#1d5fa2" stroke="none" stroke-width="0" />
<rect x="89.6" y="40.56" width="14.47" height="6.79" fill="#1a5899" stroke="none" stroke-width="0" />
<rect x="103.47" y="40.56" width="14.47" height="6.79" fill="#1b5a9c" stroke="none" stroke-width="0" />
<rect x="117.34" y="40.56" width="14.47" height="6.79" fill="#1c5c9f" stroke="none" stroke-width="0" />
<rect x="131.21" y="40.56" width="14.47" height="6.79" fill="#1e61a5" stroke="none" stroke-width="0" />
<rect x="145.08" y="40.56" width="14.47" height="6.79" fill="#1c5c9f" stroke="none" stroke-width="0" />
<rect x="158.95" y="40.56" width="14.47" height="6.79" fill="#1c5c9f" stroke="none" stroke-width="0" />
<rect x="172.82" y="40.56" width="14.47" height="6.79" fill="#1c5c9f" stroke="none" stroke-width="0" />
<rect x="186.69" y="40.56" width="14.47" height="6.79" fill="#1c5c9f" stroke="none" stroke-width="0" />
<rect x="200.56" y="40.56" width="14.47" height="6.79" fill="#1a5899" stroke="none" stroke-width="0" />
<rect x="214.43" y="40.56" width="14.47" height="6.79" fill="#185493" stroke="none" stroke-width="0" />
<rect x="228.3" y="40.56" width="14.47" height="6.79" fill="#144e8a" stroke="none" stroke-width="0" />
<rect x="242.17" y="40.56" width="14.47" height="6.79" fill="#0e4179" stroke="none" stroke-width="0" />
<rect x="256.04" y="40.56" width="14.47" height="6.79" fill="#0c3d73" stroke="none" stroke-width="0" />
<rect x="269.91" y="40.56" width="14.47" height="6.79" fill="#0d3f76" stroke="none" stroke-width="0" />
<rect x="283.78" y="40.56" width="14.47" height="6.79" fill="#124984" stroke="none" stroke-width="0" />
<rect x="297.65" y="40.56" width="14.47" height="6.79" fill="#175290" stroke="none" stroke-width="0" />
<rect x="311.52" y="40.56" width="14.47" height="6.79" fill="#1a5899" stroke="none" stroke-width="0" />
<rect x="325.39" y="40.56" width="14.47" height="6.79" fill="#1d5fa2" stroke="none" stroke-width="0" />
<rect x="339.26" y="40.56" width="14.47" height="6.79" fill="#1b5a9c" stroke="none" stroke-width="0" />
<rect x="353.13" y="40.56" width="14.47" height="6.79" fill="#1d5fa2" stroke="none" stroke-width="0" />
<rect x="367" y="40.56" width="14.47" height="6.79" fill="#1d5fa2" stroke="none" stroke-width="0" />
<rect x="380.87" y="40.56" width="14.47" height="6.79" fill="#1c5c9f" stroke="none" stroke-width="0" />
<rect x="394.74" y="40.56" width="14.47" height="6.79" fill="#1a5899" stroke="none" stroke-width="0" />
<rect x="408.61" y="40.56" width="14.47" height="6.79" fill="#1c5c9f" stroke="none" stroke-width="0" />
<rect x="422.48" y="40.56" width="14.47" height="6.79" fill="#1d5fa2" stroke="none" stroke-width="0" />
<rect x="436.35" y="40.56" width="14.47" height="6.79" fill="#1d5fa2" stroke="none" stroke-width="0" />
<rect x="450.22" y="40.56" width="14.47" height="6.79" fill="#1b5a9c" stroke="none" stroke-width="0" />
<rect x="464.09" y="40.56" width="14.47" height="6.79" fill="#1c5c9f" stroke="none" stroke-width="0" />
<rect x="477.96" y="40.56" width="14.47" height="6.79" fill="#1d5fa2" stroke="none" stroke-width="0" />
<rect x="491.83" y="40.56" width="14.47" height="6.79" fill="#1c5c9f" stroke="none" stroke-width="0" />
<rect x="89.6" y="34.38" width="14.47" height="6.79" fill="#195696" stroke="none" stroke-width="0" />
<rect x="103.47" y="34.38" width="14.47" height="6.79" fill="#1b5a9c" stroke="none" stroke-width="0" />
<rect x="117.34" y="34.38" width="14.47" height="6.79" fill="#1b5a9c" stroke="none" stroke-width="0" />
<rect x="131.21" y="34.38" width="14.47" height="6.79" fill="#1d5fa2" stroke="none" stroke-width="0" />
<rect x="145.08" y="34.38" width="14.47" height="6.79" fill="#1b5a9c" stroke="none" stroke-width="0" />
<rect x="158.95" y="34.38" width="14.47" height="6.79" fill="#1c5c9f" stroke="none" stroke-width="0" />
<rect x="172.82" y="34.38" width="14.47" height="6.79" fill="#1b5a9c" stroke="none" stroke-width="0" />
<rect x="186.69" y="34.38" width="14.47" height="6.79" fill="#1b5a9c" stroke="none" stroke-width="0" />
<rect x="200.56" y="34.38" width="14.47" height="6.79" fill="#195696" stroke="none" stroke-width="0" />
<rect x="214.43" y="34.38" width="14.47" height="6.79" fill="#175290" stroke="none" stroke-width="0" />
<rect x="228.3" y="34.38" width="14.47" height="6.79" fill="#144e8a" stroke="none" stroke-width="0" />
<rect x="242.17" y="34.38" width="14.47" height="6.79" fill="#0e4179" stroke="none" stroke-width="0" />
<rect x="256.04" y="34.38" width="14.47" height="6.79" fill="#0c3d73" stroke="none" stroke-width="0" />
<rect x="269.91" y="34.38" width="14.47" height="6.79" fill="#0d3f76" stroke="none" stroke-width="0" />
<rect x="283.78" y="34.38" width="14.47" height="6.79" fill="#124984" stroke="none" stroke-width="0" />
<rect x="297.65" y="34.38" width="14.47" height="6.79" fill="#175290" stroke="none" stroke-width="0" />
<rect x="311.52" y="34.38" width="14.47" height="6.79" fill="#1a5899" stroke="none" stroke-width="0" />
<rect x="325.39" y="34.38" width="14.47" height="6.79" fill="#1c5c9f" stroke="none" stroke-width="0" />
<rect x="339.26" y="34.38" width="14.47" height="6.79" fill="#1a5899" stroke="none" stroke-width="0" />
<rect x="353.13" y="34.38" width="14.47" height="6.79" fill="#1c5c9f" stroke="none" stroke-width="0" />
<rect x="367" y="34.38" width="14.47" height="6.79" fill="#1c5c9f" stroke="none" stroke-width="0" />
<rect x="380.87" y="34.38" width="14.47" height="6.79" fill="#1b5a9c" stroke="none" stroke-width="0" />
<rect x="394.74" y="34.38" width="14.47" height="6.79" fill="#1a5899" stroke="none" stroke-width="0" />
<rect x="408.61" y="34.38" width="14.47" height="6.79" fill="#1b5a9c" stroke="none" stroke-width="0" />
<rect x="422.48" y="34.38" width="14.47" height="6.79" fill="#1c5c9f" stroke="none" stroke-width="0" />
<rect x="436.35" y="34.38" width="14.47" height="6.79" fill="#1c5c9f" stroke="none" stroke-width="0" />
<rect x="450.22" y="34.38" width="14.47" height="6.79" fill="#1b5a9c" stroke="none" stroke-width="0" />
<rect x="464.09" y="34.38" width="14.47" height="6.79" fill="#1b5a9c" stroke="none" stroke-width="0" />
<rect x="477.96" y="34.38" width="14.47" height="6.79" fill="#1c5c9f" stroke="none" stroke-width="0" />
<rect x="491.83" y="34.38" width="14.47" height="6.79" fill="#1b5a9c" stroke="none" stroke-width="0" />
<rect x="89.6" y="28.19" width="14.47" height="6.79" fill="#1b5a9c" stroke="none" stroke-width="0" />
<rect x="103.47" y="28.19" width="14.47" height="6.79" fill="#1c5c9f" stroke="none" stroke-width="0" />
<rect x="117.34" y="28.19" width="14.47" height="6.79" fill="#1c5c9f" stroke="none" stroke-width="0" />
<rect x="131.21" y="28.19" width="14.47" height="6.79" fill="#1e61a5" stroke="none" stroke-width="0" />
<rect x="145.08" y="28.19" width="14.47" height="6.79" fill="#1d5fa2" stroke="none" stroke-width="0" />
<rect x="158.95" y="28.19" width="14.47" height="6.79" fill="#1d5fa2" stroke="none" stroke-width="0" />
<rect x="172.82" y="28.19" width="14.47" height="6.79" fill="#1c5c9f" stroke="none" stroke-width="0" />
<rect x="186.69" y="28.19" width="14.47" height="6.79" fill="#1c5c9f" stroke="none" stroke-width="0" />
<rect x="200.56" y="28.19" width="14.47" height="6.79" fill="#1a5899" stroke="none" stroke-width="0" />
<rect x="214.43" y="28.19" width="14.47" height="6.79" fill="#195696" stroke="none" stroke-width="0" />
<rect x="228.3" y="28.19" width="14.47" height="6.79" fill="#15508d" stroke="none" stroke-width="0" />
<rect x="242.17" y="28.19" width="14.47" height="6.79" fill="#10457e" stroke="none" stroke-width="0" />
<rect x="256.04" y="28.19" width="14.47" height="6.79" fill="#0f437b" stroke="none" stroke-width="0" />
<rect x="269.91" y="28.19" width="14.47" height="6.79" fill="#0f437b" stroke="none" stroke-width="0" />
<rect x="283.78" y="28.19" width="14.47" height="6.79" fill="#144e8a" stroke="none" stroke-width="0" />
<rect x="297.65" y="28.19" width="14.47" height="6.79" fill="#185493" stroke="none" stroke-width="0" />
<rect x="311.52" y="28.19" width="14.47" height="6.79" fill="#1b5a9c" stroke="none" stroke-width="0" />
<rect x="325.39" y="28.19" width="14.47" height="6.79" fill="#1d5fa2" stroke="none" stroke-width="0" />
<rect x="339.26" y="28.19" width="14.47" height="6.79" fill="#1b5a9c" stroke="none" stroke-width="0" />
<rect x="353.13" y="28.19" width="14.47" height="6.79" fill="#1d5fa2" stroke="none" stroke-width="0" />
<rect x="367" y="28.19" width="14.47" height="6.79" fill="#1d5fa2" stroke="none" stroke-width="0" />
<rect x="380.87" y="28.19" width="14.47" height="6.79" fill="#1d5fa2" stroke="none" stroke-width="0" />
<rect x="394.74" y="28.19" width="14.47" height="6.79" fill="#1b5a9c" stroke="none" stroke-width="0" />
<rect x="408.61" y="28.19" width="14.47" height="6.79" fill="#1c5c9f" stroke="none" stroke-width="0" />
<rect x="422.48" y="28.19" width="14.47" height="6.79" fill="#1d5fa2" stroke="none" stroke-width="0" />
<rect x="436.35" y="28.19" width="14.47" height="6.79" fill="#1d5fa2" stroke="none" stroke-width="0" />
<rect x="450.22" y="28.19" width="14.47" height="6.79" fill="#1c5c9f" stroke="none" stroke-width="0" />
<rect x="464.09" y="28.19" width="14.47" height="6.79" fill="#1c5c9f" stroke="none" stroke-width="0" />
<rect x="477.96" y="28.19" width="14.47" height="6.79" fill="#1d5fa2" stroke="none" stroke-width="0" />
<rect x="491.83" y="28.19" width="14.47" height="6.79" fill="#1d5fa2" stroke="none" stroke-width="0" />
<rect x="89.6" y="22" width="14.47" height="6.79" fill="#144e8a" stroke="none" stroke-width="0" />
<rect x="103.47" y="22" width="14.47" height="6.79" fill="#175290" stroke="none" stroke-width="0" />
<rect x="117.34" y="22" width="14.47" height="6.79" fill="#175290" stroke="none" stroke-width="0" />
<rect x="131.21" y="22" width="14.47" height="6.79" fill="#195696" stroke="none" stroke-width="0" />
<rect x="145.08" y="22" width="14.47" height="6.79" fill="#175290" stroke="none" stroke-width="0" />
<rect x="158.95" y="22" width="14.47" height="6.79" fill="#175290" stroke="none" stroke-width="0" />
<rect x="172.82" y="22" width="14.47" height="6.79" fill="#175290" stroke="none" stroke-width="0" />
<rect x="186.69" y="22" width="14.47" height="6.79" fill="#175290" stroke="none" stroke-width="0" />
<rect x="200.56" y="22" width="14.47" height="6.79" fill="#144e8a" stroke="none" stroke-width="0" />
<rect x="214.43" y="22" width="14.47" height="6.79" fill="#134c87" stroke="none" stroke-width="0" />
<rect x="228.3" y="22" width="14.47" height="6.79" fill="#10457e" stroke="none" stroke-width="0" />
<rect x="242.17" y="22" width="14.47" height="6.79" fill="#0c3d73" stroke="none" stroke-width="0" />
<rect x="256.04" y="22" width="14.47" height="6.79" fill="#09386d" stroke="none" stroke-width="0" />
<rect x="269.91" y="22" width="14.47" height="6.79" fill="#0a3b70" stroke="none" stroke-width="0" />
<rect x="283.78" y="22" width="14.47" height="6.79" fill="#0f437b" stroke="none" stroke-width="0" />
<rect x="297.65" y="22" width="14.47" height="6.79" fill="#124984" stroke="none" stroke-width="0" />
<rect x="311.52" y="22" width="14.47" height="6.79" fill="#15508d" stroke="none" stroke-width="0" />
<rect x="325.39" y="22" width="14.47" height="6.79" fill="#185493" stroke="none" stroke-width="0" />
<rect x="339.26" y="22" width="14.47" height="6.79" fill="#15508d" stroke="none" stroke-width="0" />
<rect x="353.13" y="22" width="14.47" height="6.79" fill="#185493" stroke="none" stroke-width="0" />
<rect x="367" y="22" width="14.47" height="6.79" fill="#185493" stroke="none" stroke-width="0" />
<rect x="380.87" y="22" width="14.47" height="6.79" fill="#175290" stroke="none" stroke-width="0" />
<rect x="394.74" y="22" width="14.47" height="6.79" fill="#15508d" stroke="none" stroke-width="0" />
<rect x="408.61" y="22" width="14.47" height="6.79" fill="#175290" stroke="none" stroke-width="0" />
<rect x="422.48" y="22" width="14.47" height="6.79" fill="#185493" stroke="none" stroke-width="0" />
<rect x="436.35" y="22" width="14.47" height="6.79" fill="#185493" stroke="none" stroke-width="0" />
<rect x="450.22" y="22" width="14.47" height="6.79" fill="#15508d" stroke="none" stroke-width="0" />
<rect x="464.09" y="22" width="14.47" height="6.79" fill="#175290" stroke="none" stroke-width="0" />
<rect x="477.96" y="22" width="14.47" height="6.79" fill="#185493" stroke="none" stroke-width="0" />
<rect x="491.83" y="22" width="14.47" height="6.79" fill="#175290" stroke="none" stroke-width="0" />
</g>
<line x1="264.8" y1="23.5" x2="264.8" y2="334.5" stroke="#ffffff" stroke-width="2.6" stroke-linecap="butt"/>
<line x1="479.6" y1="23.5" x2="479.6" y2="333.5" stroke="#1a1a1a" stroke-width="3.2" stroke-linecap="butt"/>
<rect x="90.4" y="21.1" width="415.5" height="318.4" fill="none" stroke="#000" stroke-width="4.2" />
<line x1="96.5" y1="341.6" x2="96.5" y2="354.5" stroke="#000" stroke-width="3.6" stroke-linecap="butt"/>
<text x="96.5" y="387.5" font-size="25" text-anchor="middle" fill="#111" font-weight="normal" >−5.0</text>
<line x1="197.2" y1="341.6" x2="197.2" y2="354.5" stroke="#000" stroke-width="3.6" stroke-linecap="butt"/>
<text x="197.2" y="387.5" font-size="25" text-anchor="middle" fill="#111" font-weight="normal" >−2.5</text>
<line x1="297.9" y1="341.6" x2="297.9" y2="354.5" stroke="#000" stroke-width="3.6" stroke-linecap="butt"/>
<text x="297.9" y="387.5" font-size="25" text-anchor="middle" fill="#111" font-weight="normal" >0.0</text>
<line x1="398.6" y1="341.6" x2="398.6" y2="354.5" stroke="#000" stroke-width="3.6" stroke-linecap="butt"/>
<text x="398.6" y="387.5" font-size="25" text-anchor="middle" fill="#111" font-weight="normal" >2.5</text>
<line x1="499.3" y1="341.6" x2="499.3" y2="354.5" stroke="#000" stroke-width="3.6" stroke-linecap="butt"/>
<text x="499.3" y="387.5" font-size="25" text-anchor="middle" fill="#111" font-weight="normal" >5.0</text>
<line x1="88.3" y1="335" x2="75.5" y2="335" stroke="#000" stroke-width="3.6" stroke-linecap="butt"/>
<text x="61" y="343.6" font-size="25" text-anchor="end" fill="#111" font-weight="normal" >0</text>
<line x1="88.3" y1="273.1" x2="75.5" y2="273.1" stroke="#000" stroke-width="3.6" stroke-linecap="butt"/>
<text x="61" y="281.7" font-size="25" text-anchor="end" fill="#111" font-weight="normal" >1</text>
<line x1="88.3" y1="211.2" x2="75.5" y2="211.2" stroke="#000" stroke-width="3.6" stroke-linecap="butt"/>
<text x="61" y="219.8" font-size="25" text-anchor="end" fill="#111" font-weight="normal" >2</text>
<line x1="88.3" y1="149.3" x2="75.5" y2="149.3" stroke="#000" stroke-width="3.6" stroke-linecap="butt"/>
<text x="61" y="157.9" font-size="25" text-anchor="end" fill="#111" font-weight="normal" >3</text>
<line x1="88.3" y1="87.4" x2="75.5" y2="87.4" stroke="#000" stroke-width="3.6" stroke-linecap="butt"/>
<text x="61" y="96" font-size="25" text-anchor="end" fill="#111" font-weight="normal" >4</text>
<line x1="88.3" y1="25.5" x2="75.5" y2="25.5" stroke="#000" stroke-width="3.6" stroke-linecap="butt"/>
<text x="61" y="34.1" font-size="25" text-anchor="end" fill="#111" font-weight="normal" >5</text>
<text x="297.9" y="426.6" font-size="25" text-anchor="middle" fill="#111" font-weight="normal" >vSD2_P (mV)</text>
<text x="26.3" y="179.9" font-size="25" text-anchor="middle" fill="#111" font-weight="normal" transform="rotate(-90 26.3 179.9)" >MW burst time (us)</text>
<line x1="176.4" y1="74.6" x2="243.97" y2="126.01" stroke="#ffffff" stroke-width="2.8" stroke-linecap="butt"/>
<path d="M257.5 136.3 L237.84 130.76 L246.16 127.67 L246.92 118.83 Z" stroke="none" stroke-width="0" fill="#ffffff" stroke-linejoin="round" />
<line x1="414.2" y1="259.3" x2="458.73" y2="206.59" stroke="#1a1a1a" stroke-width="2.8" stroke-linecap="butt"/>
<path d="M469.7 193.6 L463.17 212.95 L460.5 204.49 L451.71 203.27 Z" stroke="none" stroke-width="0" fill="#1a1a1a" stroke-linejoin="round" />
<text x="109.5" y="64.2" font-size="29.4" text-anchor="start" fill="#ffffff" font-weight="normal" style="stroke:#ffffff">Peak</text>
<text x="311" y="284.8" font-size="29.3" text-anchor="start" fill="#1a1a1a" font-weight="normal" >Background</text>
<linearGradient id="cbg" x1="0" y1="0" x2="0" y2="1"><stop offset="0.000" stop-color="#053061"/><stop offset="0.025" stop-color="#0c3d73"/><stop offset="0.050" stop-color="#124984"/><stop offset="0.075" stop-color="#1a5899"/><stop offset="0.100" stop-color="#2065ab"/><stop offset="0.125" stop-color="#2870b1"/><stop offset="0.150" stop-color="#327cb7"/><stop offset="0.175" stop-color="#3a87bd"/><stop offset="0.200" stop-color="#4393c3"/><stop offset="0.225" stop-color="#569fc9"/><stop offset="0.250" stop-color="#68abd0"/><stop offset="0.275" stop-color="#7eb8d7"/><stop offset="0.300" stop-color="#90c4dd"/><stop offset="0.325" stop-color="#a2cde3"/><stop offset="0.350" stop-color="#b1d5e7"/><stop offset="0.375" stop-color="#c0dceb"/><stop offset="0.400" stop-color="#d1e5f0"/><stop offset="0.425" stop-color="#dae9f2"/><stop offset="0.450" stop-color="#e4eef4"/><stop offset="0.475" stop-color="#edf2f5"/><stop offset="0.500" stop-color="#f6f7f7"/><stop offset="0.525" stop-color="#f9f0eb"/><stop offset="0.550" stop-color="#fae9df"/><stop offset="0.575" stop-color="#fce2d2"/><stop offset="0.600" stop-color="#fddbc7"/><stop offset="0.625" stop-color="#fbceb7"/><stop offset="0.650" stop-color="#f8bfa4"/><stop offset="0.675" stop-color="#f6b394"/><stop offset="0.700" stop-color="#f3a481"/><stop offset="0.725" stop-color="#ec9374"/><stop offset="0.750" stop-color="#e58368"/><stop offset="0.775" stop-color="#dd7059"/><stop offset="0.800" stop-color="#d6604d"/><stop offset="0.825" stop-color="#cc4c44"/><stop offset="0.850" stop-color="#c43b3c"/><stop offset="0.875" stop-color="#bb2a34"/><stop offset="0.900" stop-color="#b1182b"/><stop offset="0.925" stop-color="#9f1228"/><stop offset="0.950" stop-color="#8a0b25"/><stop offset="0.975" stop-color="#790622"/><stop offset="1.000" stop-color="#67001f"/></linearGradient>
<rect x="531.5" y="21" width="15.9" height="318.2" fill="url(#cbg)" stroke="#000" stroke-width="4.2" />
<line x1="549.5" y1="324.8" x2="561.5" y2="324.8" stroke="#000" stroke-width="3.6" stroke-linecap="butt"/>
<text x="576" y="333.4" font-size="25" text-anchor="start" fill="#111" font-weight="normal" >140</text>
<line x1="549.5" y1="265" x2="561.5" y2="265" stroke="#000" stroke-width="3.6" stroke-linecap="butt"/>
<text x="576" y="273.6" font-size="25" text-anchor="start" fill="#111" font-weight="normal" >160</text>
<line x1="549.5" y1="205.2" x2="561.5" y2="205.2" stroke="#000" stroke-width="3.6" stroke-linecap="butt"/>
<text x="576" y="213.8" font-size="25" text-anchor="start" fill="#111" font-weight="normal" >180</text>
<line x1="549.5" y1="145.4" x2="561.5" y2="145.4" stroke="#000" stroke-width="3.6" stroke-linecap="butt"/>
<text x="576" y="154" font-size="25" text-anchor="start" fill="#111" font-weight="normal" >200</text>
<line x1="549.5" y1="85.6" x2="561.5" y2="85.6" stroke="#000" stroke-width="3.6" stroke-linecap="butt"/>
<text x="576" y="94.2" font-size="25" text-anchor="start" fill="#111" font-weight="normal" >220</text>
<line x1="549.5" y1="25.8" x2="561.5" y2="25.8" stroke="#000" stroke-width="3.6" stroke-linecap="butt"/>
<text x="576" y="34.4" font-size="25" text-anchor="start" fill="#111" font-weight="normal" >240</text>
<text x="652.4" y="180.7" font-size="25" text-anchor="middle" fill="#111" font-weight="normal" transform="rotate(-90 652.4 180.7)" >Readout signal (mV)</text>
<line x1="753.5" y1="28.3" x2="1331.5" y2="28.3" stroke="#000" stroke-width="2.9" stroke-linecap="butt"/>
<line x1="753.5" y1="103.2" x2="1331.5" y2="103.2" stroke="#000" stroke-width="2.9" stroke-linecap="butt"/>
<line x1="753.5" y1="177.7" x2="1331.5" y2="177.7" stroke="#000" stroke-width="2.9" stroke-linecap="butt"/>
<rect x="763.6" y="6" width="201.8" height="44.2" fill="#fff" stroke="#000" stroke-width="2.9" />
<rect x="1012.6" y="81.3" width="175.2" height="44.2" fill="#fff" stroke="#000" stroke-width="2.9" />
<rect x="1241.5" y="81.3" width="66.8" height="121.6" fill="#fff" stroke="#000" stroke-width="2.9" />
<text x="782" y="37.9" font-size="25" text-anchor="start" fill="#111" font-weight="normal" >MW burst (P,t)</text>
<text x="1063" y="113" font-size="25" text-anchor="start" fill="#111" font-weight="normal" >No wait</text>
<path d="M1248.45 164.6 A26.6 26.6 0 1 1 1301.35 164.6" stroke="#000" stroke-width="2.9" fill="none" />
<line x1="1267.7" y1="163" x2="1289" y2="125.62" stroke="#000" stroke-width="2.9" stroke-linecap="butt"/>
<path d="M1294.2 116.5 L1293.07 129.09 L1283.94 123.89 Z" stroke="none" stroke-width="0" fill="#000" stroke-linejoin="round" />
<clipPath id="clipB"><rect x="816.6" y="242.3" width="539.6" height="324.5"/></clipPath>
<rect x="814.45" y="240.15" width="543.9" height="328.8" fill="none" stroke="#000" stroke-width="4.3" />
<line x1="838.5" y1="568.95" x2="838.5" y2="554.95" stroke="#000" stroke-width="3" stroke-linecap="butt"/>
<line x1="838.5" y1="240.15" x2="838.5" y2="254.15" stroke="#000" stroke-width="3" stroke-linecap="butt"/>
<line x1="937.3" y1="568.95" x2="937.3" y2="554.95" stroke="#000" stroke-width="3" stroke-linecap="butt"/>
<line x1="937.3" y1="240.15" x2="937.3" y2="254.15" stroke="#000" stroke-width="3" stroke-linecap="butt"/>
<line x1="1036.1" y1="568.95" x2="1036.1" y2="554.95" stroke="#000" stroke-width="3" stroke-linecap="butt"/>
<line x1="1036.1" y1="240.15" x2="1036.1" y2="254.15" stroke="#000" stroke-width="3" stroke-linecap="butt"/>
<line x1="1134.9" y1="568.95" x2="1134.9" y2="554.95" stroke="#000" stroke-width="3" stroke-linecap="butt"/>
<line x1="1134.9" y1="240.15" x2="1134.9" y2="254.15" stroke="#000" stroke-width="3" stroke-linecap="butt"/>
<line x1="1233.7" y1="568.95" x2="1233.7" y2="554.95" stroke="#000" stroke-width="3" stroke-linecap="butt"/>
<line x1="1233.7" y1="240.15" x2="1233.7" y2="254.15" stroke="#000" stroke-width="3" stroke-linecap="butt"/>
<line x1="1332.5" y1="568.95" x2="1332.5" y2="554.95" stroke="#000" stroke-width="3" stroke-linecap="butt"/>
<line x1="1332.5" y1="240.15" x2="1332.5" y2="254.15" stroke="#000" stroke-width="3" stroke-linecap="butt"/>
<line x1="838.5" y1="568.95" x2="838.5" y2="560.95" stroke="#000" stroke-width="2.4" stroke-linecap="butt"/>
<line x1="838.5" y1="240.15" x2="838.5" y2="248.15" stroke="#000" stroke-width="2.4" stroke-linecap="butt"/>
<line x1="858.26" y1="568.95" x2="858.26" y2="560.95" stroke="#000" stroke-width="2.4" stroke-linecap="butt"/>
<line x1="858.26" y1="240.15" x2="858.26" y2="248.15" stroke="#000" stroke-width="2.4" stroke-linecap="butt"/>
<line x1="878.02" y1="568.95" x2="878.02" y2="560.95" stroke="#000" stroke-width="2.4" stroke-linecap="butt"/>
<line x1="878.02" y1="240.15" x2="878.02" y2="248.15" stroke="#000" stroke-width="2.4" stroke-linecap="butt"/>
<line x1="897.78" y1="568.95" x2="897.78" y2="560.95" stroke="#000" stroke-width="2.4" stroke-linecap="butt"/>
<line x1="897.78" y1="240.15" x2="897.78" y2="248.15" stroke="#000" stroke-width="2.4" stroke-linecap="butt"/>
<line x1="917.54" y1="568.95" x2="917.54" y2="560.95" stroke="#000" stroke-width="2.4" stroke-linecap="butt"/>
<line x1="917.54" y1="240.15" x2="917.54" y2="248.15" stroke="#000" stroke-width="2.4" stroke-linecap="butt"/>
<line x1="937.3" y1="568.95" x2="937.3" y2="560.95" stroke="#000" stroke-width="2.4" stroke-linecap="butt"/>
<line x1="937.3" y1="240.15" x2="937.3" y2="248.15" stroke="#000" stroke-width="2.4" stroke-linecap="butt"/>
<line x1="957.06" y1="568.95" x2="957.06" y2="560.95" stroke="#000" stroke-width="2.4" stroke-linecap="butt"/>
<line x1="957.06" y1="240.15" x2="957.06" y2="248.15" stroke="#000" stroke-width="2.4" stroke-linecap="butt"/>
<line x1="976.82" y1="568.95" x2="976.82" y2="560.95" stroke="#000" stroke-width="2.4" stroke-linecap="butt"/>
<line x1="976.82" y1="240.15" x2="976.82" y2="248.15" stroke="#000" stroke-width="2.4" stroke-linecap="butt"/>
<line x1="996.58" y1="568.95" x2="996.58" y2="560.95" stroke="#000" stroke-width="2.4" stroke-linecap="butt"/>
<line x1="996.58" y1="240.15" x2="996.58" y2="248.15" stroke="#000" stroke-width="2.4" stroke-linecap="butt"/>
<line x1="1016.34" y1="568.95" x2="1016.34" y2="560.95" stroke="#000" stroke-width="2.4" stroke-linecap="butt"/>
<line x1="1016.34" y1="240.15" x2="1016.34" y2="248.15" stroke="#000" stroke-width="2.4" stroke-linecap="butt"/>
<line x1="1036.1" y1="568.95" x2="1036.1" y2="560.95" stroke="#000" stroke-width="2.4" stroke-linecap="butt"/>
<line x1="1036.1" y1="240.15" x2="1036.1" y2="248.15" stroke="#000" stroke-width="2.4" stroke-linecap="butt"/>
<line x1="1055.86" y1="568.95" x2="1055.86" y2="560.95" stroke="#000" stroke-width="2.4" stroke-linecap="butt"/>
<line x1="1055.86" y1="240.15" x2="1055.86" y2="248.15" stroke="#000" stroke-width="2.4" stroke-linecap="butt"/>
<line x1="1075.62" y1="568.95" x2="1075.62" y2="560.95" stroke="#000" stroke-width="2.4" stroke-linecap="butt"/>
<line x1="1075.62" y1="240.15" x2="1075.62" y2="248.15" stroke="#000" stroke-width="2.4" stroke-linecap="butt"/>
<line x1="1095.38" y1="568.95" x2="1095.38" y2="560.95" stroke="#000" stroke-width="2.4" stroke-linecap="butt"/>
<line x1="1095.38" y1="240.15" x2="1095.38" y2="248.15" stroke="#000" stroke-width="2.4" stroke-linecap="butt"/>
<line x1="1115.14" y1="568.95" x2="1115.14" y2="560.95" stroke="#000" stroke-width="2.4" stroke-linecap="butt"/>
<line x1="1115.14" y1="240.15" x2="1115.14" y2="248.15" stroke="#000" stroke-width="2.4" stroke-linecap="butt"/>
<line x1="1134.9" y1="568.95" x2="1134.9" y2="560.95" stroke="#000" stroke-width="2.4" stroke-linecap="butt"/>
<line x1="1134.9" y1="240.15" x2="1134.9" y2="248.15" stroke="#000" stroke-width="2.4" stroke-linecap="butt"/>
<line x1="1154.66" y1="568.95" x2="1154.66" y2="560.95" stroke="#000" stroke-width="2.4" stroke-linecap="butt"/>
<line x1="1154.66" y1="240.15" x2="1154.66" y2="248.15" stroke="#000" stroke-width="2.4" stroke-linecap="butt"/>
<line x1="1174.42" y1="568.95" x2="1174.42" y2="560.95" stroke="#000" stroke-width="2.4" stroke-linecap="butt"/>
<line x1="1174.42" y1="240.15" x2="1174.42" y2="248.15" stroke="#000" stroke-width="2.4" stroke-linecap="butt"/>
<line x1="1194.18" y1="568.95" x2="1194.18" y2="560.95" stroke="#000" stroke-width="2.4" stroke-linecap="butt"/>
<line x1="1194.18" y1="240.15" x2="1194.18" y2="248.15" stroke="#000" stroke-width="2.4" stroke-linecap="butt"/>
<line x1="1213.94" y1="568.95" x2="1213.94" y2="560.95" stroke="#000" stroke-width="2.4" stroke-linecap="butt"/>
<line x1="1213.94" y1="240.15" x2="1213.94" y2="248.15" stroke="#000" stroke-width="2.4" stroke-linecap="butt"/>
<line x1="1233.7" y1="568.95" x2="1233.7" y2="560.95" stroke="#000" stroke-width="2.4" stroke-linecap="butt"/>
<line x1="1233.7" y1="240.15" x2="1233.7" y2="248.15" stroke="#000" stroke-width="2.4" stroke-linecap="butt"/>
<line x1="1253.46" y1="568.95" x2="1253.46" y2="560.95" stroke="#000" stroke-width="2.4" stroke-linecap="butt"/>
<line x1="1253.46" y1="240.15" x2="1253.46" y2="248.15" stroke="#000" stroke-width="2.4" stroke-linecap="butt"/>
<line x1="1273.22" y1="568.95" x2="1273.22" y2="560.95" stroke="#000" stroke-width="2.4" stroke-linecap="butt"/>
<line x1="1273.22" y1="240.15" x2="1273.22" y2="248.15" stroke="#000" stroke-width="2.4" stroke-linecap="butt"/>
<line x1="1292.98" y1="568.95" x2="1292.98" y2="560.95" stroke="#000" stroke-width="2.4" stroke-linecap="butt"/>
<line x1="1292.98" y1="240.15" x2="1292.98" y2="248.15" stroke="#000" stroke-width="2.4" stroke-linecap="butt"/>
<line x1="1312.74" y1="568.95" x2="1312.74" y2="560.95" stroke="#000" stroke-width="2.4" stroke-linecap="butt"/>
<line x1="1312.74" y1="240.15" x2="1312.74" y2="248.15" stroke="#000" stroke-width="2.4" stroke-linecap="butt"/>
<line x1="1332.5" y1="568.95" x2="1332.5" y2="560.95" stroke="#000" stroke-width="2.4" stroke-linecap="butt"/>
<line x1="1332.5" y1="240.15" x2="1332.5" y2="248.15" stroke="#000" stroke-width="2.4" stroke-linecap="butt"/>
<line x1="1352.26" y1="568.95" x2="1352.26" y2="560.95" stroke="#000" stroke-width="2.4" stroke-linecap="butt"/>
<line x1="1352.26" y1="240.15" x2="1352.26" y2="248.15" stroke="#000" stroke-width="2.4" stroke-linecap="butt"/>
<line x1="814.45" y1="513.5" x2="828.45" y2="513.5" stroke="#000" stroke-width="3" stroke-linecap="butt"/>
<line x1="1358.35" y1="513.5" x2="1344.35" y2="513.5" stroke="#000" stroke-width="3" stroke-linecap="butt"/>
<line x1="814.45" y1="442.9" x2="828.45" y2="442.9" stroke="#000" stroke-width="3" stroke-linecap="butt"/>
<line x1="1358.35" y1="442.9" x2="1344.35" y2="442.9" stroke="#000" stroke-width="3" stroke-linecap="butt"/>
<line x1="814.45" y1="372.3" x2="828.45" y2="372.3" stroke="#000" stroke-width="3" stroke-linecap="butt"/>
<line x1="1358.35" y1="372.3" x2="1344.35" y2="372.3" stroke="#000" stroke-width="3" stroke-linecap="butt"/>
<line x1="814.45" y1="301.7" x2="828.45" y2="301.7" stroke="#000" stroke-width="3" stroke-linecap="butt"/>
<line x1="1358.35" y1="301.7" x2="1344.35" y2="301.7" stroke="#000" stroke-width="3" stroke-linecap="butt"/>
<line x1="814.45" y1="555.86" x2="822.45" y2="555.86" stroke="#000" stroke-width="2.4" stroke-linecap="butt"/>
<line x1="1358.35" y1="555.86" x2="1350.35" y2="555.86" stroke="#000" stroke-width="2.4" stroke-linecap="butt"/>
<line x1="814.45" y1="541.74" x2="822.45" y2="541.74" stroke="#000" stroke-width="2.4" stroke-linecap="butt"/>
<line x1="1358.35" y1="541.74" x2="1350.35" y2="541.74" stroke="#000" stroke-width="2.4" stroke-linecap="butt"/>
<line x1="814.45" y1="527.62" x2="822.45" y2="527.62" stroke="#000" stroke-width="2.4" stroke-linecap="butt"/>
<line x1="1358.35" y1="527.62" x2="1350.35" y2="527.62" stroke="#000" stroke-width="2.4" stroke-linecap="butt"/>
<line x1="814.45" y1="513.5" x2="822.45" y2="513.5" stroke="#000" stroke-width="2.4" stroke-linecap="butt"/>
<line x1="1358.35" y1="513.5" x2="1350.35" y2="513.5" stroke="#000" stroke-width="2.4" stroke-linecap="butt"/>
<line x1="814.45" y1="499.38" x2="822.45" y2="499.38" stroke="#000" stroke-width="2.4" stroke-linecap="butt"/>
<line x1="1358.35" y1="499.38" x2="1350.35" y2="499.38" stroke="#000" stroke-width="2.4" stroke-linecap="butt"/>
<line x1="814.45" y1="485.26" x2="822.45" y2="485.26" stroke="#000" stroke-width="2.4" stroke-linecap="butt"/>
<line x1="1358.35" y1="485.26" x2="1350.35" y2="485.26" stroke="#000" stroke-width="2.4" stroke-linecap="butt"/>
<line x1="814.45" y1="471.14" x2="822.45" y2="471.14" stroke="#000" stroke-width="2.4" stroke-linecap="butt"/>
<line x1="1358.35" y1="471.14" x2="1350.35" y2="471.14" stroke="#000" stroke-width="2.4" stroke-linecap="butt"/>
<line x1="814.45" y1="457.02" x2="822.45" y2="457.02" stroke="#000" stroke-width="2.4" stroke-linecap="butt"/>
<line x1="1358.35" y1="457.02" x2="1350.35" y2="457.02" stroke="#000" stroke-width="2.4" stroke-linecap="butt"/>
<line x1="814.45" y1="442.9" x2="822.45" y2="442.9" stroke="#000" stroke-width="2.4" stroke-linecap="butt"/>
<line x1="1358.35" y1="442.9" x2="1350.35" y2="442.9" stroke="#000" stroke-width="2.4" stroke-linecap="butt"/>
<line x1="814.45" y1="428.78" x2="822.45" y2="428.78" stroke="#000" stroke-width="2.4" stroke-linecap="butt"/>
<line x1="1358.35" y1="428.78" x2="1350.35" y2="428.78" stroke="#000" stroke-width="2.4" stroke-linecap="butt"/>
<line x1="814.45" y1="414.66" x2="822.45" y2="414.66" stroke="#000" stroke-width="2.4" stroke-linecap="butt"/>
<line x1="1358.35" y1="414.66" x2="1350.35" y2="414.66" stroke="#000" stroke-width="2.4" stroke-linecap="butt"/>
<line x1="814.45" y1="400.54" x2="822.45" y2="400.54" stroke="#000" stroke-width="2.4" stroke-linecap="butt"/>
<line x1="1358.35" y1="400.54" x2="1350.35" y2="400.54" stroke="#000" stroke-width="2.4" stroke-linecap="butt"/>
<line x1="814.45" y1="386.42" x2="822.45" y2="386.42" stroke="#000" stroke-width="2.4" stroke-linecap="butt"/>
<line x1="1358.35" y1="386.42" x2="1350.35" y2="386.42" stroke="#000" stroke-width="2.4" stroke-linecap="butt"/>
<line x1="814.45" y1="372.3" x2="822.45" y2="372.3" stroke="#000" stroke-width="2.4" stroke-linecap="butt"/>
<line x1="1358.35" y1="372.3" x2="1350.35" y2="372.3" stroke="#000" stroke-width="2.4" stroke-linecap="butt"/>
<line x1="814.45" y1="358.18" x2="822.45" y2="358.18" stroke="#000" stroke-width="2.4" stroke-linecap="butt"/>
<line x1="1358.35" y1="358.18" x2="1350.35" y2="358.18" stroke="#000" stroke-width="2.4" stroke-linecap="butt"/>
<line x1="814.45" y1="344.06" x2="822.45" y2="344.06" stroke="#000" stroke-width="2.4" stroke-linecap="butt"/>
<line x1="1358.35" y1="344.06" x2="1350.35" y2="344.06" stroke="#000" stroke-width="2.4" stroke-linecap="butt"/>
<line x1="814.45" y1="329.94" x2="822.45" y2="329.94" stroke="#000" stroke-width="2.4" stroke-linecap="butt"/>
<line x1="1358.35" y1="329.94" x2="1350.35" y2="329.94" stroke="#000" stroke-width="2.4" stroke-linecap="butt"/>
<line x1="814.45" y1="315.82" x2="822.45" y2="315.82" stroke="#000" stroke-width="2.4" stroke-linecap="butt"/>
<line x1="1358.35" y1="315.82" x2="1350.35" y2="315.82" stroke="#000" stroke-width="2.4" stroke-linecap="butt"/>
<line x1="814.45" y1="301.7" x2="822.45" y2="301.7" stroke="#000" stroke-width="2.4" stroke-linecap="butt"/>
<line x1="1358.35" y1="301.7" x2="1350.35" y2="301.7" stroke="#000" stroke-width="2.4" stroke-linecap="butt"/>
<line x1="814.45" y1="287.58" x2="822.45" y2="287.58" stroke="#000" stroke-width="2.4" stroke-linecap="butt"/>
<line x1="1358.35" y1="287.58" x2="1350.35" y2="287.58" stroke="#000" stroke-width="2.4" stroke-linecap="butt"/>
<line x1="814.45" y1="273.46" x2="822.45" y2="273.46" stroke="#000" stroke-width="2.4" stroke-linecap="butt"/>
<line x1="1358.35" y1="273.46" x2="1350.35" y2="273.46" stroke="#000" stroke-width="2.4" stroke-linecap="butt"/>
<line x1="814.45" y1="259.34" x2="822.45" y2="259.34" stroke="#000" stroke-width="2.4" stroke-linecap="butt"/>
<line x1="1358.35" y1="259.34" x2="1350.35" y2="259.34" stroke="#000" stroke-width="2.4" stroke-linecap="butt"/>
<line x1="814.45" y1="245.22" x2="822.45" y2="245.22" stroke="#000" stroke-width="2.4" stroke-linecap="butt"/>
<line x1="1358.35" y1="245.22" x2="1350.35" y2="245.22" stroke="#000" stroke-width="2.4" stroke-linecap="butt"/>
<text x="838.5" y="601.5" font-size="25" text-anchor="middle" fill="#111" font-weight="normal" >0</text>
<text x="937.3" y="601.5" font-size="25" text-anchor="middle" fill="#111" font-weight="normal" >1</text>
<text x="1036.1" y="601.5" font-size="25" text-anchor="middle" fill="#111" font-weight="normal" >2</text>
<text x="1134.9" y="601.5" font-size="25" text-anchor="middle" fill="#111" font-weight="normal" >3</text>
<text x="1233.7" y="601.5" font-size="25" text-anchor="middle" fill="#111" font-weight="normal" >4</text>
<text x="1332.5" y="601.5" font-size="25" text-anchor="middle" fill="#111" font-weight="normal" >5</text>
<text x="799.5" y="522.1" font-size="25" text-anchor="end" fill="#111" font-weight="normal" >150</text>
<text x="799.5" y="451.5" font-size="25" text-anchor="end" fill="#111" font-weight="normal" >175</text>
<text x="799.5" y="380.9" font-size="25" text-anchor="end" fill="#111" font-weight="normal" >200</text>
<text x="799.5" y="310.3" font-size="25" text-anchor="end" fill="#111" font-weight="normal" >225</text>
<g clip-path="url(#clipB)">
<path d="M834.5 334.46 L838.5 334.46 L855.53 320.99 L872.57 317.79 L889.6 314.58 L906.64 311.38 L923.67 309.13 L940.71 308.17 L957.74 306.57 L974.78 304.96 L991.81 303.36 L1008.84 302.72 L1025.88 301.76 L1042.91 300.8 L1059.95 300.15 L1076.98 298.55 L1094.02 297.91 L1111.05 296.95 L1128.09 295.34 L1145.12 294.38 L1162.16 293.74 L1179.19 294.38 L1196.22 293.1 L1213.26 292.14 L1230.29 292.14 L1247.33 292.14 L1264.36 292.14 L1281.4 290.54 L1298.43 291.18 L1315.47 290.54 L1332.5 287.97 L1332.5 362.03 L1315.47 365.88 L1298.43 367.48 L1281.4 369.09 L1264.36 370.69 L1247.33 373.9 L1230.29 376.46 L1213.26 377.74 L1196.22 380.31 L1179.19 384.16 L1162.16 385.12 L1145.12 388.32 L1128.09 391.53 L1111.05 396.34 L1094.02 399.54 L1076.98 403.39 L1059.95 406.6 L1042.91 411.73 L1025.88 414.93 L1008.84 420.38 L991.81 425.19 L974.78 430 L957.74 437.06 L940.71 443.47 L923.67 449.24 L906.64 458.86 L889.6 468.48 L872.57 482.26 L855.53 498.29 L838.5 555.04 L834.5 555.04 Z" fill="#3f86cc" fill-opacity="0.15" stroke="none" />
<path d="M834.5 329.65 L838.5 329.65 L855.53 311.38 L872.57 302.72 L889.6 299.51 L906.64 295.34 L923.67 292.14 L940.71 288.93 L957.74 287.33 L974.78 284.12 L991.81 282.52 L1008.84 280.92 L1025.88 277.71 L1042.91 276.11 L1059.95 274.5 L1076.98 272.9 L1094.02 271.3 L1111.05 269.7 L1128.09 268.09 L1145.12 264.89 L1162.16 264.89 L1179.19 263.28 L1196.22 261.68 L1213.26 260.08 L1230.29 258.47 L1247.33 256.87 L1264.36 256.87 L1281.4 255.27 L1298.43 255.27 L1315.47 254.63 L1332.5 252.06 L1332.5 275.15 L1315.47 279.31 L1298.43 282.52 L1281.4 285.73 L1264.36 288.93 L1247.33 290.54 L1230.29 292.14 L1213.26 296.31 L1196.22 298.55 L1179.19 300.15 L1162.16 301.76 L1145.12 303.36 L1128.09 306.57 L1111.05 311.38 L1094.02 316.18 L1076.98 319.39 L1059.95 320.99 L1042.91 328.37 L1025.88 333.82 L1008.84 339.27 L991.81 345.04 L974.78 351.45 L957.74 361.07 L940.71 372.29 L923.67 381.91 L906.64 394.74 L889.6 411.73 L872.57 434.17 L855.53 463.67 L838.5 553.44 L834.5 553.44 Z" fill="#dd8668" fill-opacity="0.65" stroke="none" />
<circle cx="838.5" cy="555.04" r="8.5" fill="#65abe2" stroke="#ffffff" stroke-opacity="0.45" stroke-width="1.2"/>
<circle cx="855.53" cy="498.29" r="8.5" fill="#65abe2" stroke="#ffffff" stroke-opacity="0.45" stroke-width="1.2"/>
<circle cx="872.57" cy="482.26" r="8.5" fill="#65abe2" stroke="#ffffff" stroke-opacity="0.45" stroke-width="1.2"/>
<circle cx="889.6" cy="468.48" r="8.5" fill="#65abe2" stroke="#ffffff" stroke-opacity="0.45" stroke-width="1.2"/>
<circle cx="906.64" cy="458.86" r="8.5" fill="#65abe2" stroke="#ffffff" stroke-opacity="0.45" stroke-width="1.2"/>
<circle cx="923.67" cy="449.24" r="8.5" fill="#65abe2" stroke="#ffffff" stroke-opacity="0.45" stroke-width="1.2"/>
<circle cx="940.71" cy="443.47" r="8.5" fill="#65abe2" stroke="#ffffff" stroke-opacity="0.45" stroke-width="1.2"/>
<circle cx="957.74" cy="437.06" r="8.5" fill="#65abe2" stroke="#ffffff" stroke-opacity="0.45" stroke-width="1.2"/>
<circle cx="974.78" cy="430" r="8.5" fill="#65abe2" stroke="#ffffff" stroke-opacity="0.45" stroke-width="1.2"/>
<circle cx="991.81" cy="425.19" r="8.5" fill="#65abe2" stroke="#ffffff" stroke-opacity="0.45" stroke-width="1.2"/>
<circle cx="1008.84" cy="420.38" r="8.5" fill="#65abe2" stroke="#ffffff" stroke-opacity="0.45" stroke-width="1.2"/>
<circle cx="1025.88" cy="414.93" r="8.5" fill="#65abe2" stroke="#ffffff" stroke-opacity="0.45" stroke-width="1.2"/>
<circle cx="1042.91" cy="411.73" r="8.5" fill="#65abe2" stroke="#ffffff" stroke-opacity="0.45" stroke-width="1.2"/>
<circle cx="1059.95" cy="406.6" r="8.5" fill="#65abe2" stroke="#ffffff" stroke-opacity="0.45" stroke-width="1.2"/>
<circle cx="1076.98" cy="403.39" r="8.5" fill="#65abe2" stroke="#ffffff" stroke-opacity="0.45" stroke-width="1.2"/>
<circle cx="1094.02" cy="399.54" r="8.5" fill="#65abe2" stroke="#ffffff" stroke-opacity="0.45" stroke-width="1.2"/>
<circle cx="1111.05" cy="396.34" r="8.5" fill="#65abe2" stroke="#ffffff" stroke-opacity="0.45" stroke-width="1.2"/>
<circle cx="1128.09" cy="391.53" r="8.5" fill="#65abe2" stroke="#ffffff" stroke-opacity="0.45" stroke-width="1.2"/>
<circle cx="1145.12" cy="388.32" r="8.5" fill="#65abe2" stroke="#ffffff" stroke-opacity="0.45" stroke-width="1.2"/>
<circle cx="1162.16" cy="385.12" r="8.5" fill="#65abe2" stroke="#ffffff" stroke-opacity="0.45" stroke-width="1.2"/>
<circle cx="1179.19" cy="384.16" r="8.5" fill="#65abe2" stroke="#ffffff" stroke-opacity="0.45" stroke-width="1.2"/>
<circle cx="1196.22" cy="380.31" r="8.5" fill="#65abe2" stroke="#ffffff" stroke-opacity="0.45" stroke-width="1.2"/>
<circle cx="1213.26" cy="377.74" r="8.5" fill="#65abe2" stroke="#ffffff" stroke-opacity="0.45" stroke-width="1.2"/>
<circle cx="1230.29" cy="376.46" r="8.5" fill="#65abe2" stroke="#ffffff" stroke-opacity="0.45" stroke-width="1.2"/>
<circle cx="1247.33" cy="373.9" r="8.5" fill="#65abe2" stroke="#ffffff" stroke-opacity="0.45" stroke-width="1.2"/>
<circle cx="1264.36" cy="370.69" r="8.5" fill="#65abe2" stroke="#ffffff" stroke-opacity="0.45" stroke-width="1.2"/>
<circle cx="1281.4" cy="369.09" r="8.5" fill="#65abe2" stroke="#ffffff" stroke-opacity="0.45" stroke-width="1.2"/>
<circle cx="1298.43" cy="367.48" r="8.5" fill="#65abe2" stroke="#ffffff" stroke-opacity="0.45" stroke-width="1.2"/>
<circle cx="1315.47" cy="365.88" r="8.5" fill="#65abe2" stroke="#ffffff" stroke-opacity="0.45" stroke-width="1.2"/>
<circle cx="1332.5" cy="362.03" r="8.5" fill="#65abe2" stroke="#ffffff" stroke-opacity="0.45" stroke-width="1.2"/>
<circle cx="838.5" cy="334.46" r="8.5" fill="#3f87cd" stroke="#ffffff" stroke-opacity="0.45" stroke-width="1.2"/>
<circle cx="855.53" cy="320.99" r="8.5" fill="#3f87cd" stroke="#ffffff" stroke-opacity="0.45" stroke-width="1.2"/>
<circle cx="872.57" cy="317.79" r="8.5" fill="#3f87cd" stroke="#ffffff" stroke-opacity="0.45" stroke-width="1.2"/>
<circle cx="889.6" cy="314.58" r="8.5" fill="#3f87cd" stroke="#ffffff" stroke-opacity="0.45" stroke-width="1.2"/>
<circle cx="906.64" cy="311.38" r="8.5" fill="#3f87cd" stroke="#ffffff" stroke-opacity="0.45" stroke-width="1.2"/>
<circle cx="923.67" cy="309.13" r="8.5" fill="#3f87cd" stroke="#ffffff" stroke-opacity="0.45" stroke-width="1.2"/>
<circle cx="940.71" cy="308.17" r="8.5" fill="#3f87cd" stroke="#ffffff" stroke-opacity="0.45" stroke-width="1.2"/>
<circle cx="957.74" cy="306.57" r="8.5" fill="#3f87cd" stroke="#ffffff" stroke-opacity="0.45" stroke-width="1.2"/>
<circle cx="974.78" cy="304.96" r="8.5" fill="#3f87cd" stroke="#ffffff" stroke-opacity="0.45" stroke-width="1.2"/>
<circle cx="991.81" cy="303.36" r="8.5" fill="#3f87cd" stroke="#ffffff" stroke-opacity="0.45" stroke-width="1.2"/>
<circle cx="1008.84" cy="302.72" r="8.5" fill="#3f87cd" stroke="#ffffff" stroke-opacity="0.45" stroke-width="1.2"/>
<circle cx="1025.88" cy="301.76" r="8.5" fill="#3f87cd" stroke="#ffffff" stroke-opacity="0.45" stroke-width="1.2"/>
<circle cx="1042.91" cy="300.8" r="8.5" fill="#3f87cd" stroke="#ffffff" stroke-opacity="0.45" stroke-width="1.2"/>
<circle cx="1059.95" cy="300.15" r="8.5" fill="#3f87cd" stroke="#ffffff" stroke-opacity="0.45" stroke-width="1.2"/>
<circle cx="1076.98" cy="298.55" r="8.5" fill="#3f87cd" stroke="#ffffff" stroke-opacity="0.45" stroke-width="1.2"/>
<circle cx="1094.02" cy="297.91" r="8.5" fill="#3f87cd" stroke="#ffffff" stroke-opacity="0.45" stroke-width="1.2"/>
<circle cx="1111.05" cy="296.95" r="8.5" fill="#3f87cd" stroke="#ffffff" stroke-opacity="0.45" stroke-width="1.2"/>
<circle cx="1128.09" cy="295.34" r="8.5" fill="#3f87cd" stroke="#ffffff" stroke-opacity="0.45" stroke-width="1.2"/>
<circle cx="1145.12" cy="294.38" r="8.5" fill="#3f87cd" stroke="#ffffff" stroke-opacity="0.45" stroke-width="1.2"/>
<circle cx="1162.16" cy="293.74" r="8.5" fill="#3f87cd" stroke="#ffffff" stroke-opacity="0.45" stroke-width="1.2"/>
<circle cx="1179.19" cy="294.38" r="8.5" fill="#3f87cd" stroke="#ffffff" stroke-opacity="0.45" stroke-width="1.2"/>
<circle cx="1196.22" cy="293.1" r="8.5" fill="#3f87cd" stroke="#ffffff" stroke-opacity="0.45" stroke-width="1.2"/>
<circle cx="1213.26" cy="292.14" r="8.5" fill="#3f87cd" stroke="#ffffff" stroke-opacity="0.45" stroke-width="1.2"/>
<circle cx="1230.29" cy="292.14" r="8.5" fill="#3f87cd" stroke="#ffffff" stroke-opacity="0.45" stroke-width="1.2"/>
<circle cx="1247.33" cy="292.14" r="8.5" fill="#3f87cd" stroke="#ffffff" stroke-opacity="0.45" stroke-width="1.2"/>
<circle cx="1264.36" cy="292.14" r="8.5" fill="#3f87cd" stroke="#ffffff" stroke-opacity="0.45" stroke-width="1.2"/>
<circle cx="1281.4" cy="290.54" r="8.5" fill="#3f87cd" stroke="#ffffff" stroke-opacity="0.45" stroke-width="1.2"/>
<circle cx="1298.43" cy="291.18" r="8.5" fill="#3f87cd" stroke="#ffffff" stroke-opacity="0.45" stroke-width="1.2"/>
<circle cx="1315.47" cy="290.54" r="8.5" fill="#3f87cd" stroke="#ffffff" stroke-opacity="0.45" stroke-width="1.2"/>
<circle cx="1332.5" cy="287.97" r="8.5" fill="#3f87cd" stroke="#ffffff" stroke-opacity="0.45" stroke-width="1.2"/>
<path d="M828.85 543.79 L848.15 543.79 L838.5 563.09 Z" fill="#f0689a" stroke="#ffffff" stroke-opacity="0.45" stroke-width="1.2"/>
<path d="M845.88 454.02 L865.18 454.02 L855.53 473.32 Z" fill="#f0689a" stroke="#ffffff" stroke-opacity="0.45" stroke-width="1.2"/>
<path d="M862.92 424.52 L882.22 424.52 L872.57 443.82 Z" fill="#f0689a" stroke="#ffffff" stroke-opacity="0.45" stroke-width="1.2"/>
<path d="M879.95 402.08 L899.25 402.08 L889.6 421.38 Z" fill="#f0689a" stroke="#ffffff" stroke-opacity="0.45" stroke-width="1.2"/>
<path d="M896.99 385.09 L916.29 385.09 L906.64 404.39 Z" fill="#f0689a" stroke="#ffffff" stroke-opacity="0.45" stroke-width="1.2"/>
<path d="M914.02 372.26 L933.32 372.26 L923.67 391.56 Z" fill="#f0689a" stroke="#ffffff" stroke-opacity="0.45" stroke-width="1.2"/>
<path d="M931.06 362.64 L950.36 362.64 L940.71 381.94 Z" fill="#f0689a" stroke="#ffffff" stroke-opacity="0.45" stroke-width="1.2"/>
<path d="M948.09 351.42 L967.39 351.42 L957.74 370.72 Z" fill="#f0689a" stroke="#ffffff" stroke-opacity="0.45" stroke-width="1.2"/>
<path d="M965.13 341.8 L984.43 341.8 L974.78 361.1 Z" fill="#f0689a" stroke="#ffffff" stroke-opacity="0.45" stroke-width="1.2"/>
<path d="M982.16 335.39 L1001.46 335.39 L991.81 354.69 Z" fill="#f0689a" stroke="#ffffff" stroke-opacity="0.45" stroke-width="1.2"/>
<path d="M999.19 329.62 L1018.49 329.62 L1008.84 348.92 Z" fill="#f0689a" stroke="#ffffff" stroke-opacity="0.45" stroke-width="1.2"/>
<path d="M1016.23 324.17 L1035.53 324.17 L1025.88 343.47 Z" fill="#f0689a" stroke="#ffffff" stroke-opacity="0.45" stroke-width="1.2"/>
<path d="M1033.26 318.72 L1052.56 318.72 L1042.91 338.02 Z" fill="#f0689a" stroke="#ffffff" stroke-opacity="0.45" stroke-width="1.2"/>
<path d="M1050.3 311.34 L1069.6 311.34 L1059.95 330.64 Z" fill="#f0689a" stroke="#ffffff" stroke-opacity="0.45" stroke-width="1.2"/>
<path d="M1067.33 309.74 L1086.63 309.74 L1076.98 329.04 Z" fill="#f0689a" stroke="#ffffff" stroke-opacity="0.45" stroke-width="1.2"/>
<path d="M1084.37 306.53 L1103.67 306.53 L1094.02 325.83 Z" fill="#f0689a" stroke="#ffffff" stroke-opacity="0.45" stroke-width="1.2"/>
<path d="M1101.4 301.73 L1120.7 301.73 L1111.05 321.03 Z" fill="#f0689a" stroke="#ffffff" stroke-opacity="0.45" stroke-width="1.2"/>
<path d="M1118.44 296.92 L1137.74 296.92 L1128.09 316.22 Z" fill="#f0689a" stroke="#ffffff" stroke-opacity="0.45" stroke-width="1.2"/>
<path d="M1135.47 293.71 L1154.77 293.71 L1145.12 313.01 Z" fill="#f0689a" stroke="#ffffff" stroke-opacity="0.45" stroke-width="1.2"/>
<path d="M1152.51 292.11 L1171.81 292.11 L1162.16 311.41 Z" fill="#f0689a" stroke="#ffffff" stroke-opacity="0.45" stroke-width="1.2"/>
<path d="M1169.54 290.5 L1188.84 290.5 L1179.19 309.8 Z" fill="#f0689a" stroke="#ffffff" stroke-opacity="0.45" stroke-width="1.2"/>
<path d="M1186.57 288.9 L1205.87 288.9 L1196.22 308.2 Z" fill="#f0689a" stroke="#ffffff" stroke-opacity="0.45" stroke-width="1.2"/>
<path d="M1203.61 286.66 L1222.91 286.66 L1213.26 305.96 Z" fill="#f0689a" stroke="#ffffff" stroke-opacity="0.45" stroke-width="1.2"/>
<path d="M1220.64 282.49 L1239.94 282.49 L1230.29 301.79 Z" fill="#f0689a" stroke="#ffffff" stroke-opacity="0.45" stroke-width="1.2"/>
<path d="M1237.68 280.89 L1256.98 280.89 L1247.33 300.19 Z" fill="#f0689a" stroke="#ffffff" stroke-opacity="0.45" stroke-width="1.2"/>
<path d="M1254.71 279.28 L1274.01 279.28 L1264.36 298.58 Z" fill="#f0689a" stroke="#ffffff" stroke-opacity="0.45" stroke-width="1.2"/>
<path d="M1271.75 276.08 L1291.05 276.08 L1281.4 295.38 Z" fill="#f0689a" stroke="#ffffff" stroke-opacity="0.45" stroke-width="1.2"/>
<path d="M1288.78 272.87 L1308.08 272.87 L1298.43 292.17 Z" fill="#f0689a" stroke="#ffffff" stroke-opacity="0.45" stroke-width="1.2"/>
<path d="M1305.82 269.66 L1325.12 269.66 L1315.47 288.96 Z" fill="#f0689a" stroke="#ffffff" stroke-opacity="0.45" stroke-width="1.2"/>
<path d="M1322.85 265.5 L1342.15 265.5 L1332.5 284.8 Z" fill="#f0689a" stroke="#ffffff" stroke-opacity="0.45" stroke-width="1.2"/>
<path d="M828.85 320 L848.15 320 L838.5 339.3 Z" fill="#e8185c" stroke="#ffffff" stroke-opacity="0.45" stroke-width="1.2"/>
<path d="M845.88 301.73 L865.18 301.73 L855.53 321.03 Z" fill="#e8185c" stroke="#ffffff" stroke-opacity="0.45" stroke-width="1.2"/>
<path d="M862.92 293.07 L882.22 293.07 L872.57 312.37 Z" fill="#e8185c" stroke="#ffffff" stroke-opacity="0.45" stroke-width="1.2"/>
<path d="M879.95 289.86 L899.25 289.86 L889.6 309.16 Z" fill="#e8185c" stroke="#ffffff" stroke-opacity="0.45" stroke-width="1.2"/>
<path d="M896.99 285.69 L916.29 285.69 L906.64 304.99 Z" fill="#e8185c" stroke="#ffffff" stroke-opacity="0.45" stroke-width="1.2"/>
<path d="M914.02 282.49 L933.32 282.49 L923.67 301.79 Z" fill="#e8185c" stroke="#ffffff" stroke-opacity="0.45" stroke-width="1.2"/>
<path d="M931.06 279.28 L950.36 279.28 L940.71 298.58 Z" fill="#e8185c" stroke="#ffffff" stroke-opacity="0.45" stroke-width="1.2"/>
<path d="M948.09 277.68 L967.39 277.68 L957.74 296.98 Z" fill="#e8185c" stroke="#ffffff" stroke-opacity="0.45" stroke-width="1.2"/>
<path d="M965.13 274.47 L984.43 274.47 L974.78 293.77 Z" fill="#e8185c" stroke="#ffffff" stroke-opacity="0.45" stroke-width="1.2"/>
<path d="M982.16 272.87 L1001.46 272.87 L991.81 292.17 Z" fill="#e8185c" stroke="#ffffff" stroke-opacity="0.45" stroke-width="1.2"/>
<path d="M999.19 271.27 L1018.49 271.27 L1008.84 290.57 Z" fill="#e8185c" stroke="#ffffff" stroke-opacity="0.45" stroke-width="1.2"/>
<path d="M1016.23 268.06 L1035.53 268.06 L1025.88 287.36 Z" fill="#e8185c" stroke="#ffffff" stroke-opacity="0.45" stroke-width="1.2"/>
<path d="M1033.26 266.46 L1052.56 266.46 L1042.91 285.76 Z" fill="#e8185c" stroke="#ffffff" stroke-opacity="0.45" stroke-width="1.2"/>
<path d="M1050.3 264.85 L1069.6 264.85 L1059.95 284.15 Z" fill="#e8185c" stroke="#ffffff" stroke-opacity="0.45" stroke-width="1.2"/>
<path d="M1067.33 263.25 L1086.63 263.25 L1076.98 282.55 Z" fill="#e8185c" stroke="#ffffff" stroke-opacity="0.45" stroke-width="1.2"/>
<path d="M1084.37 261.65 L1103.67 261.65 L1094.02 280.95 Z" fill="#e8185c" stroke="#ffffff" stroke-opacity="0.45" stroke-width="1.2"/>
<path d="M1101.4 260.05 L1120.7 260.05 L1111.05 279.35 Z" fill="#e8185c" stroke="#ffffff" stroke-opacity="0.45" stroke-width="1.2"/>
<path d="M1118.44 258.44 L1137.74 258.44 L1128.09 277.74 Z" fill="#e8185c" stroke="#ffffff" stroke-opacity="0.45" stroke-width="1.2"/>
<path d="M1135.47 255.24 L1154.77 255.24 L1145.12 274.54 Z" fill="#e8185c" stroke="#ffffff" stroke-opacity="0.45" stroke-width="1.2"/>
<path d="M1152.51 255.24 L1171.81 255.24 L1162.16 274.54 Z" fill="#e8185c" stroke="#ffffff" stroke-opacity="0.45" stroke-width="1.2"/>
<path d="M1169.54 253.63 L1188.84 253.63 L1179.19 272.93 Z" fill="#e8185c" stroke="#ffffff" stroke-opacity="0.45" stroke-width="1.2"/>
<path d="M1186.57 252.03 L1205.87 252.03 L1196.22 271.33 Z" fill="#e8185c" stroke="#ffffff" stroke-opacity="0.45" stroke-width="1.2"/>
<path d="M1203.61 250.43 L1222.91 250.43 L1213.26 269.73 Z" fill="#e8185c" stroke="#ffffff" stroke-opacity="0.45" stroke-width="1.2"/>
<path d="M1220.64 248.82 L1239.94 248.82 L1230.29 268.12 Z" fill="#e8185c" stroke="#ffffff" stroke-opacity="0.45" stroke-width="1.2"/>
<path d="M1237.68 247.22 L1256.98 247.22 L1247.33 266.52 Z" fill="#e8185c" stroke="#ffffff" stroke-opacity="0.45" stroke-width="1.2"/>
<path d="M1254.71 247.22 L1274.01 247.22 L1264.36 266.52 Z" fill="#e8185c" stroke="#ffffff" stroke-opacity="0.45" stroke-width="1.2"/>
<path d="M1271.75 245.62 L1291.05 245.62 L1281.4 264.92 Z" fill="#e8185c" stroke="#ffffff" stroke-opacity="0.45" stroke-width="1.2"/>
<path d="M1288.78 245.62 L1308.08 245.62 L1298.43 264.92 Z" fill="#e8185c" stroke="#ffffff" stroke-opacity="0.45" stroke-width="1.2"/>
<path d="M1305.82 244.98 L1325.12 244.98 L1315.47 264.28 Z" fill="#e8185c" stroke="#ffffff" stroke-opacity="0.45" stroke-width="1.2"/>
<path d="M1322.85 242.41 L1342.15 242.41 L1332.5 261.71 Z" fill="#e8185c" stroke="#ffffff" stroke-opacity="0.45" stroke-width="1.2"/>
</g>
<rect x="1088.9" y="415.3" width="266.8" height="149.5" rx="4" fill="#ffffff" fill-opacity="0.8" stroke="#cccccc" stroke-width="2.8"/>
<circle cx="1107.1" cy="434.6" r="8.7" fill="#65abe2" stroke="#ffffff" stroke-opacity="0.45" stroke-width="1.2"/>
<text x="1127" y="442.4" font-size="25" text-anchor="start" fill="#111" font-weight="normal" >6dBm; background</text>
<circle cx="1107.1" cy="470.33" r="8.7" fill="#3f87cd" stroke="#ffffff" stroke-opacity="0.45" stroke-width="1.2"/>
<text x="1127" y="478.13" font-size="25" text-anchor="start" fill="#111" font-weight="normal" >6dBm; peak</text>
<path d="M1098.1 497.06 L1116.1 497.06 L1107.1 515.06 Z" fill="#f0689a" stroke="#ffffff" stroke-opacity="0.45" stroke-width="1.2"/>
<text x="1127" y="513.86" font-size="25" text-anchor="start" fill="#111" font-weight="normal" >12dBm; background</text>
<path d="M1098.1 532.79 L1116.1 532.79 L1107.1 550.79 Z" fill="#e8185c" stroke="#ffffff" stroke-opacity="0.45" stroke-width="1.2"/>
<text x="1127" y="549.59" font-size="25" text-anchor="start" fill="#111" font-weight="normal" >12dBm; peak</text>
<text x="1087.5" y="640.8" font-size="25" text-anchor="middle" fill="#111" font-weight="normal" >MW burst time (us)</text>
<text x="740" y="406" font-size="25" text-anchor="middle" fill="#111" font-weight="normal" transform="rotate(-90 740 406)" >Readout signal (mV)</text>
<line x1="1483.6" y1="33.1" x2="2061.6" y2="33.1" stroke="#000" stroke-width="2.9" stroke-linecap="butt"/>
<line x1="1483.6" y1="108" x2="2061.6" y2="108" stroke="#000" stroke-width="2.9" stroke-linecap="butt"/>
<line x1="1483.6" y1="182.5" x2="2061.6" y2="182.5" stroke="#000" stroke-width="2.9" stroke-linecap="butt"/>
<rect x="1492.9" y="11.05" width="278.3" height="44.35" fill="#fff" stroke="#000" stroke-width="2.9" />
<rect x="1788.2" y="86.2" width="156.8" height="44" fill="#fff" stroke="#000" stroke-width="2.9" />
<rect x="1971.6" y="86.2" width="65.6" height="121.5" fill="#fff" stroke="#000" stroke-width="2.9" />
<text x="1524.5" y="42.3" font-size="25" text-anchor="start" fill="#111" font-weight="normal" >MW burst (12dBm,t)</text>
<text x="1821.5" y="117.8" font-size="25" text-anchor="start" fill="#111" font-weight="normal" >wait (t)</text>
<path d="M1977.95 169.4 A26.6 26.6 0 1 1 2030.85 169.4" stroke="#000" stroke-width="2.9" fill="none" />
<line x1="1997.2" y1="167.8" x2="2018.5" y2="130.42" stroke="#000" stroke-width="2.9" stroke-linecap="butt"/>
<path d="M2023.7 121.3 L2022.57 133.89 L2013.44 128.69 Z" stroke="none" stroke-width="0" fill="#000" stroke-linejoin="round" />
<clipPath id="clipC"><rect x="1550.9" y="242.2" width="542" height="325.3"/></clipPath>
<rect x="1548.75" y="240.05" width="546.3" height="329.6" fill="none" stroke="#000" stroke-width="4.3" />
<line x1="1572.7" y1="569.65" x2="1572.7" y2="555.65" stroke="#000" stroke-width="3" stroke-linecap="butt"/>
<line x1="1572.7" y1="240.05" x2="1572.7" y2="254.05" stroke="#000" stroke-width="3" stroke-linecap="butt"/>
<line x1="1672.2" y1="569.65" x2="1672.2" y2="555.65" stroke="#000" stroke-width="3" stroke-linecap="butt"/>
<line x1="1672.2" y1="240.05" x2="1672.2" y2="254.05" stroke="#000" stroke-width="3" stroke-linecap="butt"/>
<line x1="1771.7" y1="569.65" x2="1771.7" y2="555.65" stroke="#000" stroke-width="3" stroke-linecap="butt"/>
<line x1="1771.7" y1="240.05" x2="1771.7" y2="254.05" stroke="#000" stroke-width="3" stroke-linecap="butt"/>
<line x1="1871.2" y1="569.65" x2="1871.2" y2="555.65" stroke="#000" stroke-width="3" stroke-linecap="butt"/>
<line x1="1871.2" y1="240.05" x2="1871.2" y2="254.05" stroke="#000" stroke-width="3" stroke-linecap="butt"/>
<line x1="1970.7" y1="569.65" x2="1970.7" y2="555.65" stroke="#000" stroke-width="3" stroke-linecap="butt"/>
<line x1="1970.7" y1="240.05" x2="1970.7" y2="254.05" stroke="#000" stroke-width="3" stroke-linecap="butt"/>
<line x1="2070.2" y1="569.65" x2="2070.2" y2="555.65" stroke="#000" stroke-width="3" stroke-linecap="butt"/>
<line x1="2070.2" y1="240.05" x2="2070.2" y2="254.05" stroke="#000" stroke-width="3" stroke-linecap="butt"/>
<line x1="1572.7" y1="569.65" x2="1572.7" y2="561.65" stroke="#000" stroke-width="2.4" stroke-linecap="butt"/>
<line x1="1572.7" y1="240.05" x2="1572.7" y2="248.05" stroke="#000" stroke-width="2.4" stroke-linecap="butt"/>
<line x1="1592.6" y1="569.65" x2="1592.6" y2="561.65" stroke="#000" stroke-width="2.4" stroke-linecap="butt"/>
<line x1="1592.6" y1="240.05" x2="1592.6" y2="248.05" stroke="#000" stroke-width="2.4" stroke-linecap="butt"/>
<line x1="1612.5" y1="569.65" x2="1612.5" y2="561.65" stroke="#000" stroke-width="2.4" stroke-linecap="butt"/>
<line x1="1612.5" y1="240.05" x2="1612.5" y2="248.05" stroke="#000" stroke-width="2.4" stroke-linecap="butt"/>
<line x1="1632.4" y1="569.65" x2="1632.4" y2="561.65" stroke="#000" stroke-width="2.4" stroke-linecap="butt"/>
<line x1="1632.4" y1="240.05" x2="1632.4" y2="248.05" stroke="#000" stroke-width="2.4" stroke-linecap="butt"/>
<line x1="1652.3" y1="569.65" x2="1652.3" y2="561.65" stroke="#000" stroke-width="2.4" stroke-linecap="butt"/>
<line x1="1652.3" y1="240.05" x2="1652.3" y2="248.05" stroke="#000" stroke-width="2.4" stroke-linecap="butt"/>
<line x1="1672.2" y1="569.65" x2="1672.2" y2="561.65" stroke="#000" stroke-width="2.4" stroke-linecap="butt"/>
<line x1="1672.2" y1="240.05" x2="1672.2" y2="248.05" stroke="#000" stroke-width="2.4" stroke-linecap="butt"/>
<line x1="1692.1" y1="569.65" x2="1692.1" y2="561.65" stroke="#000" stroke-width="2.4" stroke-linecap="butt"/>
<line x1="1692.1" y1="240.05" x2="1692.1" y2="248.05" stroke="#000" stroke-width="2.4" stroke-linecap="butt"/>
<line x1="1712" y1="569.65" x2="1712" y2="561.65" stroke="#000" stroke-width="2.4" stroke-linecap="butt"/>
<line x1="1712" y1="240.05" x2="1712" y2="248.05" stroke="#000" stroke-width="2.4" stroke-linecap="butt"/>
<line x1="1731.9" y1="569.65" x2="1731.9" y2="561.65" stroke="#000" stroke-width="2.4" stroke-linecap="butt"/>
<line x1="1731.9" y1="240.05" x2="1731.9" y2="248.05" stroke="#000" stroke-width="2.4" stroke-linecap="butt"/>
<line x1="1751.8" y1="569.65" x2="1751.8" y2="561.65" stroke="#000" stroke-width="2.4" stroke-linecap="butt"/>
<line x1="1751.8" y1="240.05" x2="1751.8" y2="248.05" stroke="#000" stroke-width="2.4" stroke-linecap="butt"/>
<line x1="1771.7" y1="569.65" x2="1771.7" y2="561.65" stroke="#000" stroke-width="2.4" stroke-linecap="butt"/>
<line x1="1771.7" y1="240.05" x2="1771.7" y2="248.05" stroke="#000" stroke-width="2.4" stroke-linecap="butt"/>
<line x1="1791.6" y1="569.65" x2="1791.6" y2="561.65" stroke="#000" stroke-width="2.4" stroke-linecap="butt"/>
<line x1="1791.6" y1="240.05" x2="1791.6" y2="248.05" stroke="#000" stroke-width="2.4" stroke-linecap="butt"/>
<line x1="1811.5" y1="569.65" x2="1811.5" y2="561.65" stroke="#000" stroke-width="2.4" stroke-linecap="butt"/>
<line x1="1811.5" y1="240.05" x2="1811.5" y2="248.05" stroke="#000" stroke-width="2.4" stroke-linecap="butt"/>
<line x1="1831.4" y1="569.65" x2="1831.4" y2="561.65" stroke="#000" stroke-width="2.4" stroke-linecap="butt"/>
<line x1="1831.4" y1="240.05" x2="1831.4" y2="248.05" stroke="#000" stroke-width="2.4" stroke-linecap="butt"/>
<line x1="1851.3" y1="569.65" x2="1851.3" y2="561.65" stroke="#000" stroke-width="2.4" stroke-linecap="butt"/>
<line x1="1851.3" y1="240.05" x2="1851.3" y2="248.05" stroke="#000" stroke-width="2.4" stroke-linecap="butt"/>
<line x1="1871.2" y1="569.65" x2="1871.2" y2="561.65" stroke="#000" stroke-width="2.4" stroke-linecap="butt"/>
<line x1="1871.2" y1="240.05" x2="1871.2" y2="248.05" stroke="#000" stroke-width="2.4" stroke-linecap="butt"/>
<line x1="1891.1" y1="569.65" x2="1891.1" y2="561.65" stroke="#000" stroke-width="2.4" stroke-linecap="butt"/>
<line x1="1891.1" y1="240.05" x2="1891.1" y2="248.05" stroke="#000" stroke-width="2.4" stroke-linecap="butt"/>
<line x1="1911" y1="569.65" x2="1911" y2="561.65" stroke="#000" stroke-width="2.4" stroke-linecap="butt"/>
<line x1="1911" y1="240.05" x2="1911" y2="248.05" stroke="#000" stroke-width="2.4" stroke-linecap="butt"/>
<line x1="1930.9" y1="569.65" x2="1930.9" y2="561.65" stroke="#000" stroke-width="2.4" stroke-linecap="butt"/>
<line x1="1930.9" y1="240.05" x2="1930.9" y2="248.05" stroke="#000" stroke-width="2.4" stroke-linecap="butt"/>
<line x1="1950.8" y1="569.65" x2="1950.8" y2="561.65" stroke="#000" stroke-width="2.4" stroke-linecap="butt"/>
<line x1="1950.8" y1="240.05" x2="1950.8" y2="248.05" stroke="#000" stroke-width="2.4" stroke-linecap="butt"/>
<line x1="1970.7" y1="569.65" x2="1970.7" y2="561.65" stroke="#000" stroke-width="2.4" stroke-linecap="butt"/>
<line x1="1970.7" y1="240.05" x2="1970.7" y2="248.05" stroke="#000" stroke-width="2.4" stroke-linecap="butt"/>
<line x1="1990.6" y1="569.65" x2="1990.6" y2="561.65" stroke="#000" stroke-width="2.4" stroke-linecap="butt"/>
<line x1="1990.6" y1="240.05" x2="1990.6" y2="248.05" stroke="#000" stroke-width="2.4" stroke-linecap="butt"/>
<line x1="2010.5" y1="569.65" x2="2010.5" y2="561.65" stroke="#000" stroke-width="2.4" stroke-linecap="butt"/>
<line x1="2010.5" y1="240.05" x2="2010.5" y2="248.05" stroke="#000" stroke-width="2.4" stroke-linecap="butt"/>
<line x1="2030.4" y1="569.65" x2="2030.4" y2="561.65" stroke="#000" stroke-width="2.4" stroke-linecap="butt"/>
<line x1="2030.4" y1="240.05" x2="2030.4" y2="248.05" stroke="#000" stroke-width="2.4" stroke-linecap="butt"/>
<line x1="2050.3" y1="569.65" x2="2050.3" y2="561.65" stroke="#000" stroke-width="2.4" stroke-linecap="butt"/>
<line x1="2050.3" y1="240.05" x2="2050.3" y2="248.05" stroke="#000" stroke-width="2.4" stroke-linecap="butt"/>
<line x1="2070.2" y1="569.65" x2="2070.2" y2="561.65" stroke="#000" stroke-width="2.4" stroke-linecap="butt"/>
<line x1="2070.2" y1="240.05" x2="2070.2" y2="248.05" stroke="#000" stroke-width="2.4" stroke-linecap="butt"/>
<line x1="2090.1" y1="569.65" x2="2090.1" y2="561.65" stroke="#000" stroke-width="2.4" stroke-linecap="butt"/>
<line x1="2090.1" y1="240.05" x2="2090.1" y2="248.05" stroke="#000" stroke-width="2.4" stroke-linecap="butt"/>
<line x1="1548.75" y1="506.6" x2="1562.75" y2="506.6" stroke="#000" stroke-width="3" stroke-linecap="butt"/>
<line x1="2095.05" y1="506.6" x2="2081.05" y2="506.6" stroke="#000" stroke-width="3" stroke-linecap="butt"/>
<line x1="1548.75" y1="431.7" x2="1562.75" y2="431.7" stroke="#000" stroke-width="3" stroke-linecap="butt"/>
<line x1="2095.05" y1="431.7" x2="2081.05" y2="431.7" stroke="#000" stroke-width="3" stroke-linecap="butt"/>
<line x1="1548.75" y1="356.8" x2="1562.75" y2="356.8" stroke="#000" stroke-width="3" stroke-linecap="butt"/>
<line x1="2095.05" y1="356.8" x2="2081.05" y2="356.8" stroke="#000" stroke-width="3" stroke-linecap="butt"/>
<line x1="1548.75" y1="281.9" x2="1562.75" y2="281.9" stroke="#000" stroke-width="3" stroke-linecap="butt"/>
<line x1="2095.05" y1="281.9" x2="2081.05" y2="281.9" stroke="#000" stroke-width="3" stroke-linecap="butt"/>
<line x1="1548.75" y1="551.54" x2="1556.75" y2="551.54" stroke="#000" stroke-width="2.4" stroke-linecap="butt"/>
<line x1="2095.05" y1="551.54" x2="2087.05" y2="551.54" stroke="#000" stroke-width="2.4" stroke-linecap="butt"/>
<line x1="1548.75" y1="536.56" x2="1556.75" y2="536.56" stroke="#000" stroke-width="2.4" stroke-linecap="butt"/>
<line x1="2095.05" y1="536.56" x2="2087.05" y2="536.56" stroke="#000" stroke-width="2.4" stroke-linecap="butt"/>
<line x1="1548.75" y1="521.58" x2="1556.75" y2="521.58" stroke="#000" stroke-width="2.4" stroke-linecap="butt"/>
<line x1="2095.05" y1="521.58" x2="2087.05" y2="521.58" stroke="#000" stroke-width="2.4" stroke-linecap="butt"/>
<line x1="1548.75" y1="506.6" x2="1556.75" y2="506.6" stroke="#000" stroke-width="2.4" stroke-linecap="butt"/>
<line x1="2095.05" y1="506.6" x2="2087.05" y2="506.6" stroke="#000" stroke-width="2.4" stroke-linecap="butt"/>
<line x1="1548.75" y1="491.62" x2="1556.75" y2="491.62" stroke="#000" stroke-width="2.4" stroke-linecap="butt"/>
<line x1="2095.05" y1="491.62" x2="2087.05" y2="491.62" stroke="#000" stroke-width="2.4" stroke-linecap="butt"/>
<line x1="1548.75" y1="476.64" x2="1556.75" y2="476.64" stroke="#000" stroke-width="2.4" stroke-linecap="butt"/>
<line x1="2095.05" y1="476.64" x2="2087.05" y2="476.64" stroke="#000" stroke-width="2.4" stroke-linecap="butt"/>
<line x1="1548.75" y1="461.66" x2="1556.75" y2="461.66" stroke="#000" stroke-width="2.4" stroke-linecap="butt"/>
<line x1="2095.05" y1="461.66" x2="2087.05" y2="461.66" stroke="#000" stroke-width="2.4" stroke-linecap="butt"/>
<line x1="1548.75" y1="446.68" x2="1556.75" y2="446.68" stroke="#000" stroke-width="2.4" stroke-linecap="butt"/>
<line x1="2095.05" y1="446.68" x2="2087.05" y2="446.68" stroke="#000" stroke-width="2.4" stroke-linecap="butt"/>
<line x1="1548.75" y1="431.7" x2="1556.75" y2="431.7" stroke="#000" stroke-width="2.4" stroke-linecap="butt"/>
<line x1="2095.05" y1="431.7" x2="2087.05" y2="431.7" stroke="#000" stroke-width="2.4" stroke-linecap="butt"/>
<line x1="1548.75" y1="416.72" x2="1556.75" y2="416.72" stroke="#000" stroke-width="2.4" stroke-linecap="butt"/>
<line x1="2095.05" y1="416.72" x2="2087.05" y2="416.72" stroke="#000" stroke-width="2.4" stroke-linecap="butt"/>
<line x1="1548.75" y1="401.74" x2="1556.75" y2="401.74" stroke="#000" stroke-width="2.4" stroke-linecap="butt"/>
<line x1="2095.05" y1="401.74" x2="2087.05" y2="401.74" stroke="#000" stroke-width="2.4" stroke-linecap="butt"/>
<line x1="1548.75" y1="386.76" x2="1556.75" y2="386.76" stroke="#000" stroke-width="2.4" stroke-linecap="butt"/>
<line x1="2095.05" y1="386.76" x2="2087.05" y2="386.76" stroke="#000" stroke-width="2.4" stroke-linecap="butt"/>
<line x1="1548.75" y1="371.78" x2="1556.75" y2="371.78" stroke="#000" stroke-width="2.4" stroke-linecap="butt"/>
<line x1="2095.05" y1="371.78" x2="2087.05" y2="371.78" stroke="#000" stroke-width="2.4" stroke-linecap="butt"/>
<line x1="1548.75" y1="356.8" x2="1556.75" y2="356.8" stroke="#000" stroke-width="2.4" stroke-linecap="butt"/>
<line x1="2095.05" y1="356.8" x2="2087.05" y2="356.8" stroke="#000" stroke-width="2.4" stroke-linecap="butt"/>
<line x1="1548.75" y1="341.82" x2="1556.75" y2="341.82" stroke="#000" stroke-width="2.4" stroke-linecap="butt"/>
<line x1="2095.05" y1="341.82" x2="2087.05" y2="341.82" stroke="#000" stroke-width="2.4" stroke-linecap="butt"/>
<line x1="1548.75" y1="326.84" x2="1556.75" y2="326.84" stroke="#000" stroke-width="2.4" stroke-linecap="butt"/>
<line x1="2095.05" y1="326.84" x2="2087.05" y2="326.84" stroke="#000" stroke-width="2.4" stroke-linecap="butt"/>
<line x1="1548.75" y1="311.86" x2="1556.75" y2="311.86" stroke="#000" stroke-width="2.4" stroke-linecap="butt"/>
<line x1="2095.05" y1="311.86" x2="2087.05" y2="311.86" stroke="#000" stroke-width="2.4" stroke-linecap="butt"/>
<line x1="1548.75" y1="296.88" x2="1556.75" y2="296.88" stroke="#000" stroke-width="2.4" stroke-linecap="butt"/>
<line x1="2095.05" y1="296.88" x2="2087.05" y2="296.88" stroke="#000" stroke-width="2.4" stroke-linecap="butt"/>
<line x1="1548.75" y1="281.9" x2="1556.75" y2="281.9" stroke="#000" stroke-width="2.4" stroke-linecap="butt"/>
<line x1="2095.05" y1="281.9" x2="2087.05" y2="281.9" stroke="#000" stroke-width="2.4" stroke-linecap="butt"/>
<line x1="1548.75" y1="266.92" x2="1556.75" y2="266.92" stroke="#000" stroke-width="2.4" stroke-linecap="butt"/>
<line x1="2095.05" y1="266.92" x2="2087.05" y2="266.92" stroke="#000" stroke-width="2.4" stroke-linecap="butt"/>
<line x1="1548.75" y1="251.94" x2="1556.75" y2="251.94" stroke="#000" stroke-width="2.4" stroke-linecap="butt"/>
<line x1="2095.05" y1="251.94" x2="2087.05" y2="251.94" stroke="#000" stroke-width="2.4" stroke-linecap="butt"/>
<text x="1572.7" y="601.5" font-size="25" text-anchor="middle" fill="#111" font-weight="normal" >0</text>
<text x="1672.2" y="601.5" font-size="25" text-anchor="middle" fill="#111" font-weight="normal" >1</text>
<text x="1771.7" y="601.5" font-size="25" text-anchor="middle" fill="#111" font-weight="normal" >2</text>
<text x="1871.2" y="601.5" font-size="25" text-anchor="middle" fill="#111" font-weight="normal" >3</text>
<text x="1970.7" y="601.5" font-size="25" text-anchor="middle" fill="#111" font-weight="normal" >4</text>
<text x="2070.2" y="601.5" font-size="25" text-anchor="middle" fill="#111" font-weight="normal" >5</text>
<text x="1531.5" y="515.2" font-size="25" text-anchor="end" fill="#111" font-weight="normal" >150</text>
<text x="1531.5" y="440.3" font-size="25" text-anchor="end" fill="#111" font-weight="normal" >175</text>
<text x="1531.5" y="365.4" font-size="25" text-anchor="end" fill="#111" font-weight="normal" >200</text>
<text x="1531.5" y="290.5" font-size="25" text-anchor="end" fill="#111" font-weight="normal" >225</text>
<g clip-path="url(#clipC)">
<path d="M1565.7 307.96 L1572.7 307.96 L1589.86 304.7 L1607.01 306.33 L1624.17 305.36 L1641.32 304.05 L1658.48 304.05 L1675.63 303.08 L1692.79 305.36 L1709.94 303.08 L1727.1 300.79 L1744.25 299.82 L1761.41 299.82 L1778.56 301.45 L1795.72 303.08 L1812.87 303.08 L1830.03 300.79 L1847.18 299.82 L1864.34 304.05 L1881.49 298.19 L1898.65 298.19 L1915.8 299.82 L1932.96 299.82 L1950.11 298.19 L1967.27 298.19 L1984.42 297.54 L2001.58 297.54 L2018.73 296.56 L2035.89 298.19 L2053.04 297.54 L2070.2 294.93 L2070.2 461.08 L2053.04 461.73 L2035.89 462.71 L2018.73 462.71 L2001.58 464.34 L1984.42 464.99 L1967.27 465.97 L1950.11 465.97 L1932.96 467.6 L1915.8 469.23 L1898.65 470.86 L1881.49 472.48 L1864.34 474.11 L1847.18 475.74 L1830.03 477.37 L1812.87 479 L1795.72 480.63 L1778.56 483.24 L1761.41 485.52 L1744.25 487.14 L1727.1 488.77 L1709.94 492.03 L1692.79 493.66 L1675.63 498.55 L1658.48 500.18 L1641.32 503.43 L1624.17 506.69 L1607.01 511.58 L1589.86 518.09 L1572.7 557.19 L1565.7 557.19 Z" fill="#f4c6b2" fill-opacity="1.0" stroke="none" />
<path d="M1565.7 314.48 L1572.7 314.48 L1589.86 298.19 L1607.01 291.02 L1624.17 288.42 L1641.32 285.16 L1658.48 284.51 L1675.63 280.27 L1692.79 277.01 L1709.94 276.04 L1727.1 273.75 L1744.25 273.75 L1761.41 271.47 L1778.56 270.5 L1795.72 267.24 L1812.87 267.24 L1830.03 268.22 L1847.18 267.24 L1864.34 263.98 L1881.49 263.98 L1898.65 263.98 L1915.8 262.35 L1932.96 260.72 L1950.11 260.72 L1967.27 260.72 L1984.42 259.09 L2001.58 256.49 L2018.73 257.47 L2035.89 257.47 L2053.04 255.18 L2070.2 255.18 L2070.2 309.59 L2053.04 312.85 L2035.89 314.48 L2018.73 315.13 L2001.58 317.74 L1984.42 320.99 L1967.27 323.6 L1950.11 324.25 L1932.96 327.51 L1915.8 329.14 L1898.65 332.4 L1881.49 335.65 L1864.34 337.93 L1847.18 341.19 L1830.03 345.43 L1812.87 348.69 L1795.72 353.57 L1778.56 358.46 L1761.41 362.69 L1744.25 368.23 L1727.1 373.77 L1709.94 380.29 L1692.79 388.76 L1675.63 398.53 L1658.48 405.05 L1641.32 416.45 L1624.17 427.85 L1607.01 446.42 L1589.86 466.95 L1572.7 549.04 L1565.7 549.04 Z" fill="#3f86cc" fill-opacity="0.18" stroke="none" />
<circle cx="1572.7" cy="549.04" r="8.5" fill="#65abe2" stroke="#ffffff" stroke-opacity="0.45" stroke-width="1.2"/>
<circle cx="1589.86" cy="466.95" r="8.5" fill="#65abe2" stroke="#ffffff" stroke-opacity="0.45" stroke-width="1.2"/>
<circle cx="1607.01" cy="446.42" r="8.5" fill="#65abe2" stroke="#ffffff" stroke-opacity="0.45" stroke-width="1.2"/>
<circle cx="1624.17" cy="427.85" r="8.5" fill="#65abe2" stroke="#ffffff" stroke-opacity="0.45" stroke-width="1.2"/>
<circle cx="1641.32" cy="416.45" r="8.5" fill="#65abe2" stroke="#ffffff" stroke-opacity="0.45" stroke-width="1.2"/>
<circle cx="1658.48" cy="405.05" r="8.5" fill="#65abe2" stroke="#ffffff" stroke-opacity="0.45" stroke-width="1.2"/>
<circle cx="1675.63" cy="398.53" r="8.5" fill="#65abe2" stroke="#ffffff" stroke-opacity="0.45" stroke-width="1.2"/>
<circle cx="1692.79" cy="388.76" r="8.5" fill="#65abe2" stroke="#ffffff" stroke-opacity="0.45" stroke-width="1.2"/>
<circle cx="1709.94" cy="380.29" r="8.5" fill="#65abe2" stroke="#ffffff" stroke-opacity="0.45" stroke-width="1.2"/>
<circle cx="1727.1" cy="373.77" r="8.5" fill="#65abe2" stroke="#ffffff" stroke-opacity="0.45" stroke-width="1.2"/>
<circle cx="1744.25" cy="368.23" r="8.5" fill="#65abe2" stroke="#ffffff" stroke-opacity="0.45" stroke-width="1.2"/>
<circle cx="1761.41" cy="362.69" r="8.5" fill="#65abe2" stroke="#ffffff" stroke-opacity="0.45" stroke-width="1.2"/>
<circle cx="1778.56" cy="358.46" r="8.5" fill="#65abe2" stroke="#ffffff" stroke-opacity="0.45" stroke-width="1.2"/>
<circle cx="1795.72" cy="353.57" r="8.5" fill="#65abe2" stroke="#ffffff" stroke-opacity="0.45" stroke-width="1.2"/>
<circle cx="1812.87" cy="348.69" r="8.5" fill="#65abe2" stroke="#ffffff" stroke-opacity="0.45" stroke-width="1.2"/>
<circle cx="1830.03" cy="345.43" r="8.5" fill="#65abe2" stroke="#ffffff" stroke-opacity="0.45" stroke-width="1.2"/>
<circle cx="1847.18" cy="341.19" r="8.5" fill="#65abe2" stroke="#ffffff" stroke-opacity="0.45" stroke-width="1.2"/>
<circle cx="1864.34" cy="337.93" r="8.5" fill="#65abe2" stroke="#ffffff" stroke-opacity="0.45" stroke-width="1.2"/>
<circle cx="1881.49" cy="335.65" r="8.5" fill="#65abe2" stroke="#ffffff" stroke-opacity="0.45" stroke-width="1.2"/>
<circle cx="1898.65" cy="332.4" r="8.5" fill="#65abe2" stroke="#ffffff" stroke-opacity="0.45" stroke-width="1.2"/>
<circle cx="1915.8" cy="329.14" r="8.5" fill="#65abe2" stroke="#ffffff" stroke-opacity="0.45" stroke-width="1.2"/>
<circle cx="1932.96" cy="327.51" r="8.5" fill="#65abe2" stroke="#ffffff" stroke-opacity="0.45" stroke-width="1.2"/>
<circle cx="1950.11" cy="324.25" r="8.5" fill="#65abe2" stroke="#ffffff" stroke-opacity="0.45" stroke-width="1.2"/>
<circle cx="1967.27" cy="323.6" r="8.5" fill="#65abe2" stroke="#ffffff" stroke-opacity="0.45" stroke-width="1.2"/>
<circle cx="1984.42" cy="320.99" r="8.5" fill="#65abe2" stroke="#ffffff" stroke-opacity="0.45" stroke-width="1.2"/>
<circle cx="2001.58" cy="317.74" r="8.5" fill="#65abe2" stroke="#ffffff" stroke-opacity="0.45" stroke-width="1.2"/>
<circle cx="2018.73" cy="315.13" r="8.5" fill="#65abe2" stroke="#ffffff" stroke-opacity="0.45" stroke-width="1.2"/>
<circle cx="2035.89" cy="314.48" r="8.5" fill="#65abe2" stroke="#ffffff" stroke-opacity="0.45" stroke-width="1.2"/>
<circle cx="2053.04" cy="312.85" r="8.5" fill="#65abe2" stroke="#ffffff" stroke-opacity="0.45" stroke-width="1.2"/>
<circle cx="2070.2" cy="309.59" r="8.5" fill="#65abe2" stroke="#ffffff" stroke-opacity="0.45" stroke-width="1.2"/>
<circle cx="1572.7" cy="314.48" r="8.5" fill="#3f87cd" stroke="#ffffff" stroke-opacity="0.45" stroke-width="1.2"/>
<circle cx="1589.86" cy="298.19" r="8.5" fill="#3f87cd" stroke="#ffffff" stroke-opacity="0.45" stroke-width="1.2"/>
<circle cx="1607.01" cy="291.02" r="8.5" fill="#3f87cd" stroke="#ffffff" stroke-opacity="0.45" stroke-width="1.2"/>
<circle cx="1624.17" cy="288.42" r="8.5" fill="#3f87cd" stroke="#ffffff" stroke-opacity="0.45" stroke-width="1.2"/>
<circle cx="1641.32" cy="285.16" r="8.5" fill="#3f87cd" stroke="#ffffff" stroke-opacity="0.45" stroke-width="1.2"/>
<circle cx="1658.48" cy="284.51" r="8.5" fill="#3f87cd" stroke="#ffffff" stroke-opacity="0.45" stroke-width="1.2"/>
<circle cx="1675.63" cy="280.27" r="8.5" fill="#3f87cd" stroke="#ffffff" stroke-opacity="0.45" stroke-width="1.2"/>
<circle cx="1692.79" cy="277.01" r="8.5" fill="#3f87cd" stroke="#ffffff" stroke-opacity="0.45" stroke-width="1.2"/>
<circle cx="1709.94" cy="276.04" r="8.5" fill="#3f87cd" stroke="#ffffff" stroke-opacity="0.45" stroke-width="1.2"/>
<circle cx="1727.1" cy="273.75" r="8.5" fill="#3f87cd" stroke="#ffffff" stroke-opacity="0.45" stroke-width="1.2"/>
<circle cx="1744.25" cy="273.75" r="8.5" fill="#3f87cd" stroke="#ffffff" stroke-opacity="0.45" stroke-width="1.2"/>
<circle cx="1761.41" cy="271.47" r="8.5" fill="#3f87cd" stroke="#ffffff" stroke-opacity="0.45" stroke-width="1.2"/>
<circle cx="1778.56" cy="270.5" r="8.5" fill="#3f87cd" stroke="#ffffff" stroke-opacity="0.45" stroke-width="1.2"/>
<circle cx="1795.72" cy="267.24" r="8.5" fill="#3f87cd" stroke="#ffffff" stroke-opacity="0.45" stroke-width="1.2"/>
<circle cx="1812.87" cy="267.24" r="8.5" fill="#3f87cd" stroke="#ffffff" stroke-opacity="0.45" stroke-width="1.2"/>
<circle cx="1830.03" cy="268.22" r="8.5" fill="#3f87cd" stroke="#ffffff" stroke-opacity="0.45" stroke-width="1.2"/>
<circle cx="1847.18" cy="267.24" r="8.5" fill="#3f87cd" stroke="#ffffff" stroke-opacity="0.45" stroke-width="1.2"/>
<circle cx="1864.34" cy="263.98" r="8.5" fill="#3f87cd" stroke="#ffffff" stroke-opacity="0.45" stroke-width="1.2"/>
<circle cx="1881.49" cy="263.98" r="8.5" fill="#3f87cd" stroke="#ffffff" stroke-opacity="0.45" stroke-width="1.2"/>
<circle cx="1898.65" cy="263.98" r="8.5" fill="#3f87cd" stroke="#ffffff" stroke-opacity="0.45" stroke-width="1.2"/>
<circle cx="1915.8" cy="262.35" r="8.5" fill="#3f87cd" stroke="#ffffff" stroke-opacity="0.45" stroke-width="1.2"/>
<circle cx="1932.96" cy="260.72" r="8.5" fill="#3f87cd" stroke="#ffffff" stroke-opacity="0.45" stroke-width="1.2"/>
<circle cx="1950.11" cy="260.72" r="8.5" fill="#3f87cd" stroke="#ffffff" stroke-opacity="0.45" stroke-width="1.2"/>
<circle cx="1967.27" cy="260.72" r="8.5" fill="#3f87cd" stroke="#ffffff" stroke-opacity="0.45" stroke-width="1.2"/>
<circle cx="1984.42" cy="259.09" r="8.5" fill="#3f87cd" stroke="#ffffff" stroke-opacity="0.45" stroke-width="1.2"/>
<circle cx="2001.58" cy="256.49" r="8.5" fill="#3f87cd" stroke="#ffffff" stroke-opacity="0.45" stroke-width="1.2"/>
<circle cx="2018.73" cy="257.47" r="8.5" fill="#3f87cd" stroke="#ffffff" stroke-opacity="0.45" stroke-width="1.2"/>
<circle cx="2035.89" cy="257.47" r="8.5" fill="#3f87cd" stroke="#ffffff" stroke-opacity="0.45" stroke-width="1.2"/>
<circle cx="2053.04" cy="255.18" r="8.5" fill="#3f87cd" stroke="#ffffff" stroke-opacity="0.45" stroke-width="1.2"/>
<circle cx="2070.2" cy="255.18" r="8.5" fill="#3f87cd" stroke="#ffffff" stroke-opacity="0.45" stroke-width="1.2"/>
<path d="M1563.05 547.54 L1582.35 547.54 L1572.7 566.84 Z" fill="#f0689a" stroke="#ffffff" stroke-opacity="0.45" stroke-width="1.2"/>
<path d="M1580.21 508.44 L1599.51 508.44 L1589.86 527.74 Z" fill="#f0689a" stroke="#ffffff" stroke-opacity="0.45" stroke-width="1.2"/>
<path d="M1597.36 501.93 L1616.66 501.93 L1607.01 521.23 Z" fill="#f0689a" stroke="#ffffff" stroke-opacity="0.45" stroke-width="1.2"/>
<path d="M1614.52 497.04 L1633.82 497.04 L1624.17 516.34 Z" fill="#f0689a" stroke="#ffffff" stroke-opacity="0.45" stroke-width="1.2"/>
<path d="M1631.67 493.78 L1650.97 493.78 L1641.32 513.08 Z" fill="#f0689a" stroke="#ffffff" stroke-opacity="0.45" stroke-width="1.2"/>
<path d="M1648.83 490.53 L1668.13 490.53 L1658.48 509.83 Z" fill="#f0689a" stroke="#ffffff" stroke-opacity="0.45" stroke-width="1.2"/>
<path d="M1665.98 488.9 L1685.28 488.9 L1675.63 508.2 Z" fill="#f0689a" stroke="#ffffff" stroke-opacity="0.45" stroke-width="1.2"/>
<path d="M1683.14 484.01 L1702.44 484.01 L1692.79 503.31 Z" fill="#f0689a" stroke="#ffffff" stroke-opacity="0.45" stroke-width="1.2"/>
<path d="M1700.29 482.38 L1719.59 482.38 L1709.94 501.68 Z" fill="#f0689a" stroke="#ffffff" stroke-opacity="0.45" stroke-width="1.2"/>
<path d="M1717.45 479.12 L1736.75 479.12 L1727.1 498.42 Z" fill="#f0689a" stroke="#ffffff" stroke-opacity="0.45" stroke-width="1.2"/>
<path d="M1734.6 477.49 L1753.9 477.49 L1744.25 496.79 Z" fill="#f0689a" stroke="#ffffff" stroke-opacity="0.45" stroke-width="1.2"/>
<path d="M1751.76 475.87 L1771.06 475.87 L1761.41 495.17 Z" fill="#f0689a" stroke="#ffffff" stroke-opacity="0.45" stroke-width="1.2"/>
<path d="M1768.91 473.59 L1788.21 473.59 L1778.56 492.89 Z" fill="#f0689a" stroke="#ffffff" stroke-opacity="0.45" stroke-width="1.2"/>
<path d="M1786.07 470.98 L1805.37 470.98 L1795.72 490.28 Z" fill="#f0689a" stroke="#ffffff" stroke-opacity="0.45" stroke-width="1.2"/>
<path d="M1803.22 469.35 L1822.52 469.35 L1812.87 488.65 Z" fill="#f0689a" stroke="#ffffff" stroke-opacity="0.45" stroke-width="1.2"/>
<path d="M1820.38 467.72 L1839.68 467.72 L1830.03 487.02 Z" fill="#f0689a" stroke="#ffffff" stroke-opacity="0.45" stroke-width="1.2"/>
<path d="M1837.53 466.09 L1856.83 466.09 L1847.18 485.39 Z" fill="#f0689a" stroke="#ffffff" stroke-opacity="0.45" stroke-width="1.2"/>
<path d="M1854.69 464.46 L1873.99 464.46 L1864.34 483.76 Z" fill="#f0689a" stroke="#ffffff" stroke-opacity="0.45" stroke-width="1.2"/>
<path d="M1871.84 462.83 L1891.14 462.83 L1881.49 482.13 Z" fill="#f0689a" stroke="#ffffff" stroke-opacity="0.45" stroke-width="1.2"/>
<path d="M1889 461.21 L1908.3 461.21 L1898.65 480.51 Z" fill="#f0689a" stroke="#ffffff" stroke-opacity="0.45" stroke-width="1.2"/>
<path d="M1906.15 459.58 L1925.45 459.58 L1915.8 478.88 Z" fill="#f0689a" stroke="#ffffff" stroke-opacity="0.45" stroke-width="1.2"/>
<path d="M1923.31 457.95 L1942.61 457.95 L1932.96 477.25 Z" fill="#f0689a" stroke="#ffffff" stroke-opacity="0.45" stroke-width="1.2"/>
<path d="M1940.46 456.32 L1959.76 456.32 L1950.11 475.62 Z" fill="#f0689a" stroke="#ffffff" stroke-opacity="0.45" stroke-width="1.2"/>
<path d="M1957.62 456.32 L1976.92 456.32 L1967.27 475.62 Z" fill="#f0689a" stroke="#ffffff" stroke-opacity="0.45" stroke-width="1.2"/>
<path d="M1974.77 455.34 L1994.07 455.34 L1984.42 474.64 Z" fill="#f0689a" stroke="#ffffff" stroke-opacity="0.45" stroke-width="1.2"/>
<path d="M1991.93 454.69 L2011.23 454.69 L2001.58 473.99 Z" fill="#f0689a" stroke="#ffffff" stroke-opacity="0.45" stroke-width="1.2"/>
<path d="M2009.08 453.06 L2028.38 453.06 L2018.73 472.36 Z" fill="#f0689a" stroke="#ffffff" stroke-opacity="0.45" stroke-width="1.2"/>
<path d="M2026.24 453.06 L2045.54 453.06 L2035.89 472.36 Z" fill="#f0689a" stroke="#ffffff" stroke-opacity="0.45" stroke-width="1.2"/>
<path d="M2043.39 452.08 L2062.69 452.08 L2053.04 471.38 Z" fill="#f0689a" stroke="#ffffff" stroke-opacity="0.45" stroke-width="1.2"/>
<path d="M2060.55 451.43 L2079.85 451.43 L2070.2 470.73 Z" fill="#f0689a" stroke="#ffffff" stroke-opacity="0.45" stroke-width="1.2"/>
<path d="M1563.05 298.31 L1582.35 298.31 L1572.7 317.61 Z" fill="#e8185c" stroke="#ffffff" stroke-opacity="0.45" stroke-width="1.2"/>
<path d="M1580.21 295.05 L1599.51 295.05 L1589.86 314.35 Z" fill="#e8185c" stroke="#ffffff" stroke-opacity="0.45" stroke-width="1.2"/>
<path d="M1597.36 296.68 L1616.66 296.68 L1607.01 315.98 Z" fill="#e8185c" stroke="#ffffff" stroke-opacity="0.45" stroke-width="1.2"/>
<path d="M1614.52 295.71 L1633.82 295.71 L1624.17 315.01 Z" fill="#e8185c" stroke="#ffffff" stroke-opacity="0.45" stroke-width="1.2"/>
<path d="M1631.67 294.4 L1650.97 294.4 L1641.32 313.7 Z" fill="#e8185c" stroke="#ffffff" stroke-opacity="0.45" stroke-width="1.2"/>
<path d="M1648.83 294.4 L1668.13 294.4 L1658.48 313.7 Z" fill="#e8185c" stroke="#ffffff" stroke-opacity="0.45" stroke-width="1.2"/>
<path d="M1665.98 293.43 L1685.28 293.43 L1675.63 312.73 Z" fill="#e8185c" stroke="#ffffff" stroke-opacity="0.45" stroke-width="1.2"/>
<path d="M1683.14 295.71 L1702.44 295.71 L1692.79 315.01 Z" fill="#e8185c" stroke="#ffffff" stroke-opacity="0.45" stroke-width="1.2"/>
<path d="M1700.29 293.43 L1719.59 293.43 L1709.94 312.73 Z" fill="#e8185c" stroke="#ffffff" stroke-opacity="0.45" stroke-width="1.2"/>
<path d="M1717.45 291.14 L1736.75 291.14 L1727.1 310.44 Z" fill="#e8185c" stroke="#ffffff" stroke-opacity="0.45" stroke-width="1.2"/>
<path d="M1734.6 290.17 L1753.9 290.17 L1744.25 309.47 Z" fill="#e8185c" stroke="#ffffff" stroke-opacity="0.45" stroke-width="1.2"/>
<path d="M1751.76 290.17 L1771.06 290.17 L1761.41 309.47 Z" fill="#e8185c" stroke="#ffffff" stroke-opacity="0.45" stroke-width="1.2"/>
<path d="M1768.91 291.8 L1788.21 291.8 L1778.56 311.1 Z" fill="#e8185c" stroke="#ffffff" stroke-opacity="0.45" stroke-width="1.2"/>
<path d="M1786.07 293.43 L1805.37 293.43 L1795.72 312.73 Z" fill="#e8185c" stroke="#ffffff" stroke-opacity="0.45" stroke-width="1.2"/>
<path d="M1803.22 293.43 L1822.52 293.43 L1812.87 312.73 Z" fill="#e8185c" stroke="#ffffff" stroke-opacity="0.45" stroke-width="1.2"/>
<path d="M1820.38 291.14 L1839.68 291.14 L1830.03 310.44 Z" fill="#e8185c" stroke="#ffffff" stroke-opacity="0.45" stroke-width="1.2"/>
<path d="M1837.53 290.17 L1856.83 290.17 L1847.18 309.47 Z" fill="#e8185c" stroke="#ffffff" stroke-opacity="0.45" stroke-width="1.2"/>
<path d="M1854.69 294.4 L1873.99 294.4 L1864.34 313.7 Z" fill="#e8185c" stroke="#ffffff" stroke-opacity="0.45" stroke-width="1.2"/>
<path d="M1871.84 288.54 L1891.14 288.54 L1881.49 307.84 Z" fill="#e8185c" stroke="#ffffff" stroke-opacity="0.45" stroke-width="1.2"/>
<path d="M1889 288.54 L1908.3 288.54 L1898.65 307.84 Z" fill="#e8185c" stroke="#ffffff" stroke-opacity="0.45" stroke-width="1.2"/>
<path d="M1906.15 290.17 L1925.45 290.17 L1915.8 309.47 Z" fill="#e8185c" stroke="#ffffff" stroke-opacity="0.45" stroke-width="1.2"/>
<path d="M1923.31 290.17 L1942.61 290.17 L1932.96 309.47 Z" fill="#e8185c" stroke="#ffffff" stroke-opacity="0.45" stroke-width="1.2"/>
<path d="M1940.46 288.54 L1959.76 288.54 L1950.11 307.84 Z" fill="#e8185c" stroke="#ffffff" stroke-opacity="0.45" stroke-width="1.2"/>
<path d="M1957.62 288.54 L1976.92 288.54 L1967.27 307.84 Z" fill="#e8185c" stroke="#ffffff" stroke-opacity="0.45" stroke-width="1.2"/>
<path d="M1974.77 287.89 L1994.07 287.89 L1984.42 307.19 Z" fill="#e8185c" stroke="#ffffff" stroke-opacity="0.45" stroke-width="1.2"/>
<path d="M1991.93 287.89 L2011.23 287.89 L2001.58 307.19 Z" fill="#e8185c" stroke="#ffffff" stroke-opacity="0.45" stroke-width="1.2"/>
<path d="M2009.08 286.91 L2028.38 286.91 L2018.73 306.21 Z" fill="#e8185c" stroke="#ffffff" stroke-opacity="0.45" stroke-width="1.2"/>
<path d="M2026.24 288.54 L2045.54 288.54 L2035.89 307.84 Z" fill="#e8185c" stroke="#ffffff" stroke-opacity="0.45" stroke-width="1.2"/>
<path d="M2043.39 287.89 L2062.69 287.89 L2053.04 307.19 Z" fill="#e8185c" stroke="#ffffff" stroke-opacity="0.45" stroke-width="1.2"/>
<path d="M2060.55 285.28 L2079.85 285.28 L2070.2 304.58 Z" fill="#e8185c" stroke="#ffffff" stroke-opacity="0.45" stroke-width="1.2"/>
<path d="M1572.7 536.02 L1584.09 547.41 L1572.7 558.81 L1561.31 547.41 Z" fill="#4dbaa8" stroke="#ffffff" stroke-opacity="0.45" stroke-width="1.2"/>
<path d="M1589.86 524.62 L1601.25 536.01 L1589.86 547.4 L1578.46 536.01 Z" fill="#4dbaa8" stroke="#ffffff" stroke-opacity="0.45" stroke-width="1.2"/>
<path d="M1607.01 522.99 L1618.4 534.38 L1607.01 545.78 L1595.62 534.38 Z" fill="#4dbaa8" stroke="#ffffff" stroke-opacity="0.45" stroke-width="1.2"/>
<path d="M1624.17 521.36 L1635.56 532.75 L1624.17 544.15 L1612.77 532.75 Z" fill="#4dbaa8" stroke="#ffffff" stroke-opacity="0.45" stroke-width="1.2"/>
<path d="M1641.32 519.73 L1652.71 531.13 L1641.32 542.52 L1629.93 531.13 Z" fill="#4dbaa8" stroke="#ffffff" stroke-opacity="0.45" stroke-width="1.2"/>
<path d="M1658.48 518.1 L1669.87 529.5 L1658.48 540.89 L1647.08 529.5 Z" fill="#4dbaa8" stroke="#ffffff" stroke-opacity="0.45" stroke-width="1.2"/>
<path d="M1675.63 516.48 L1687.02 527.87 L1675.63 539.26 L1664.24 527.87 Z" fill="#4dbaa8" stroke="#ffffff" stroke-opacity="0.45" stroke-width="1.2"/>
<path d="M1692.79 516.48 L1704.18 527.87 L1692.79 539.26 L1681.39 527.87 Z" fill="#4dbaa8" stroke="#ffffff" stroke-opacity="0.45" stroke-width="1.2"/>
<path d="M1709.94 516.48 L1721.33 527.87 L1709.94 539.26 L1698.55 527.87 Z" fill="#4dbaa8" stroke="#ffffff" stroke-opacity="0.45" stroke-width="1.2"/>
<path d="M1727.1 514.85 L1738.49 526.24 L1727.1 537.63 L1715.7 526.24 Z" fill="#4dbaa8" stroke="#ffffff" stroke-opacity="0.45" stroke-width="1.2"/>
<path d="M1744.25 514.85 L1755.64 526.24 L1744.25 537.63 L1732.86 526.24 Z" fill="#4dbaa8" stroke="#ffffff" stroke-opacity="0.45" stroke-width="1.2"/>
<path d="M1761.41 514.85 L1772.8 526.24 L1761.41 537.63 L1750.01 526.24 Z" fill="#4dbaa8" stroke="#ffffff" stroke-opacity="0.45" stroke-width="1.2"/>
<path d="M1778.56 514.85 L1789.95 526.24 L1778.56 537.63 L1767.17 526.24 Z" fill="#4dbaa8" stroke="#ffffff" stroke-opacity="0.45" stroke-width="1.2"/>
<path d="M1795.72 514.2 L1807.11 525.59 L1795.72 536.98 L1784.33 525.59 Z" fill="#4dbaa8" stroke="#ffffff" stroke-opacity="0.45" stroke-width="1.2"/>
<path d="M1812.87 514.2 L1824.26 525.59 L1812.87 536.98 L1801.48 525.59 Z" fill="#4dbaa8" stroke="#ffffff" stroke-opacity="0.45" stroke-width="1.2"/>
<path d="M1830.03 513.22 L1841.42 524.61 L1830.03 536 L1818.64 524.61 Z" fill="#4dbaa8" stroke="#ffffff" stroke-opacity="0.45" stroke-width="1.2"/>
<path d="M1847.18 513.22 L1858.57 524.61 L1847.18 536 L1835.79 524.61 Z" fill="#4dbaa8" stroke="#ffffff" stroke-opacity="0.45" stroke-width="1.2"/>
<path d="M1864.34 513.22 L1875.73 524.61 L1864.34 536 L1852.95 524.61 Z" fill="#4dbaa8" stroke="#ffffff" stroke-opacity="0.45" stroke-width="1.2"/>
<path d="M1881.49 513.22 L1892.89 524.61 L1881.49 536 L1870.1 524.61 Z" fill="#4dbaa8" stroke="#ffffff" stroke-opacity="0.45" stroke-width="1.2"/>
<path d="M1898.65 513.22 L1910.04 524.61 L1898.65 536 L1887.26 524.61 Z" fill="#4dbaa8" stroke="#ffffff" stroke-opacity="0.45" stroke-width="1.2"/>
<path d="M1915.8 513.22 L1927.2 524.61 L1915.8 536 L1904.41 524.61 Z" fill="#4dbaa8" stroke="#ffffff" stroke-opacity="0.45" stroke-width="1.2"/>
<path d="M1932.96 513.22 L1944.35 524.61 L1932.96 536 L1921.57 524.61 Z" fill="#4dbaa8" stroke="#ffffff" stroke-opacity="0.45" stroke-width="1.2"/>
<path d="M1950.11 513.22 L1961.51 524.61 L1950.11 536 L1938.72 524.61 Z" fill="#4dbaa8" stroke="#ffffff" stroke-opacity="0.45" stroke-width="1.2"/>
<path d="M1572.7 304.71 L1584.09 316.11 L1572.7 327.5 L1561.31 316.11 Z" fill="#10937f" stroke="#ffffff" stroke-opacity="0.45" stroke-width="1.2"/>
<path d="M1589.86 307.97 L1601.25 319.36 L1589.86 330.76 L1578.46 319.36 Z" fill="#10937f" stroke="#ffffff" stroke-opacity="0.45" stroke-width="1.2"/>
<path d="M1607.01 306.34 L1618.4 317.74 L1607.01 329.13 L1595.62 317.74 Z" fill="#10937f" stroke="#ffffff" stroke-opacity="0.45" stroke-width="1.2"/>
<path d="M1624.17 302.43 L1635.56 313.83 L1624.17 325.22 L1612.77 313.83 Z" fill="#10937f" stroke="#ffffff" stroke-opacity="0.45" stroke-width="1.2"/>
<path d="M1641.32 299.18 L1652.71 310.57 L1641.32 321.96 L1629.93 310.57 Z" fill="#10937f" stroke="#ffffff" stroke-opacity="0.45" stroke-width="1.2"/>
<path d="M1658.48 298.2 L1669.87 309.59 L1658.48 320.98 L1647.08 309.59 Z" fill="#10937f" stroke="#ffffff" stroke-opacity="0.45" stroke-width="1.2"/>
<path d="M1675.63 303.09 L1687.02 314.48 L1675.63 325.87 L1664.24 314.48 Z" fill="#10937f" stroke="#ffffff" stroke-opacity="0.45" stroke-width="1.2"/>
<path d="M1692.79 303.09 L1704.18 314.48 L1692.79 325.87 L1681.39 314.48 Z" fill="#10937f" stroke="#ffffff" stroke-opacity="0.45" stroke-width="1.2"/>
<path d="M1709.94 299.83 L1721.33 311.22 L1709.94 322.61 L1698.55 311.22 Z" fill="#10937f" stroke="#ffffff" stroke-opacity="0.45" stroke-width="1.2"/>
<path d="M1727.1 305.69 L1738.49 317.08 L1727.1 328.48 L1715.7 317.08 Z" fill="#10937f" stroke="#ffffff" stroke-opacity="0.45" stroke-width="1.2"/>
<path d="M1744.25 306.34 L1755.64 317.74 L1744.25 329.13 L1732.86 317.74 Z" fill="#10937f" stroke="#ffffff" stroke-opacity="0.45" stroke-width="1.2"/>
<path d="M1761.41 306.34 L1772.8 317.74 L1761.41 329.13 L1750.01 317.74 Z" fill="#10937f" stroke="#ffffff" stroke-opacity="0.45" stroke-width="1.2"/>
<path d="M1778.56 305.69 L1789.95 317.08 L1778.56 328.48 L1767.17 317.08 Z" fill="#10937f" stroke="#ffffff" stroke-opacity="0.45" stroke-width="1.2"/>
<path d="M1795.72 303.74 L1807.11 315.13 L1795.72 326.52 L1784.33 315.13 Z" fill="#10937f" stroke="#ffffff" stroke-opacity="0.45" stroke-width="1.2"/>
<path d="M1812.87 325.89 L1824.26 337.28 L1812.87 348.67 L1801.48 337.28 Z" fill="#10937f" stroke="#ffffff" stroke-opacity="0.45" stroke-width="1.2"/>
<path d="M1830.03 316.12 L1841.42 327.51 L1830.03 338.9 L1818.64 327.51 Z" fill="#10937f" stroke="#ffffff" stroke-opacity="0.45" stroke-width="1.2"/>
<path d="M1847.18 307.97 L1858.57 319.36 L1847.18 330.76 L1835.79 319.36 Z" fill="#10937f" stroke="#ffffff" stroke-opacity="0.45" stroke-width="1.2"/>
<path d="M1864.34 304.71 L1875.73 316.11 L1864.34 327.5 L1852.95 316.11 Z" fill="#10937f" stroke="#ffffff" stroke-opacity="0.45" stroke-width="1.2"/>
<path d="M1881.49 312.86 L1892.89 324.25 L1881.49 335.64 L1870.1 324.25 Z" fill="#10937f" stroke="#ffffff" stroke-opacity="0.45" stroke-width="1.2"/>
<path d="M1898.65 309.6 L1910.04 320.99 L1898.65 332.39 L1887.26 320.99 Z" fill="#10937f" stroke="#ffffff" stroke-opacity="0.45" stroke-width="1.2"/>
<path d="M1915.8 322.63 L1927.2 334.03 L1915.8 345.42 L1904.41 334.03 Z" fill="#10937f" stroke="#ffffff" stroke-opacity="0.45" stroke-width="1.2"/>
<path d="M1932.96 319.38 L1944.35 330.77 L1932.96 342.16 L1921.57 330.77 Z" fill="#10937f" stroke="#ffffff" stroke-opacity="0.45" stroke-width="1.2"/>
</g>
<rect x="1830" y="343.8" width="261.3" height="219.9" rx="4" fill="#ffffff" fill-opacity="0.8" stroke="#cccccc" stroke-width="2.8"/>
<circle cx="1850.3" cy="363.7" r="8.7" fill="#65abe2" stroke="#ffffff" stroke-opacity="0.45" stroke-width="1.2"/>
<text x="1870" y="371.5" font-size="25" text-anchor="start" fill="#111" font-weight="normal" >10us; background</text>
<circle cx="1850.3" cy="399.43" r="8.7" fill="#3f87cd" stroke="#ffffff" stroke-opacity="0.45" stroke-width="1.2"/>
<text x="1870" y="407.23" font-size="25" text-anchor="start" fill="#111" font-weight="normal" >10us; peak</text>
<path d="M1841.3 426.16 L1859.3 426.16 L1850.3 444.16 Z" fill="#f0689a" stroke="#ffffff" stroke-opacity="0.45" stroke-width="1.2"/>
<text x="1870" y="442.96" font-size="25" text-anchor="start" fill="#111" font-weight="normal" >100us; background</text>
<path d="M1841.3 461.89 L1859.3 461.89 L1850.3 479.89 Z" fill="#e8185c" stroke="#ffffff" stroke-opacity="0.45" stroke-width="1.2"/>
<text x="1870" y="478.69" font-size="25" text-anchor="start" fill="#111" font-weight="normal" >100us; peak</text>
<path d="M1850.3 495.1 L1861.82 506.62 L1850.3 518.14 L1838.78 506.62 Z" fill="#4dbaa8" stroke="#ffffff" stroke-opacity="0.45" stroke-width="1.2"/>
<text x="1870" y="514.42" font-size="25" text-anchor="start" fill="#111" font-weight="normal" >500us; background</text>
<path d="M1850.3 530.83 L1861.82 542.35 L1850.3 553.87 L1838.78 542.35 Z" fill="#10937f" stroke="#ffffff" stroke-opacity="0.45" stroke-width="1.2"/>
<text x="1870" y="550.15" font-size="25" text-anchor="start" fill="#111" font-weight="normal" >500us; peak</text>
<text x="1821" y="640.3" font-size="25" text-anchor="middle" fill="#111" font-weight="normal" >MW burst time (us)</text>
<text x="1471" y="405.7" font-size="25" text-anchor="middle" fill="#111" font-weight="normal" transform="rotate(-90 1471 405.7)" >Readout signal (mV)</text>
<clipPath id="clipD0"><rect x="86.5" y="455.6" width="572.9" height="274.1"/></clipPath>
<g clip-path="url(#clipD0)">
<path d="M112.2 729.5 L114.82 527.81 L117.44 719.78 L120.06 515.66 L122.68 532.04 L125.31 639.43 L127.93 673.77 L130.55 552.81 L133.17 534.56 L135.79 670.81 L138.41 667.75 L141.03 537.42 L143.65 557.19 L146.27 670.86 L148.89 634.24 L151.51 518.86 L154.14 575.07 L156.76 689.92 L159.38 624.73 L162 527.42 L164.62 599.51 L167.24 689.66 L169.86 606.62 L172.48 517.45 L175.1 615.81 L177.73 615.29 L180.35 637.16 L182.97 642.02 L185.59 646.1 L188.21 527.15 L190.83 543.14 L193.45 658.26 L196.07 631.95 L198.69 524.51 L201.31 554.31 L203.94 647.71 L206.56 613.24 L209.18 522.79 L211.8 566.42 L214.42 662.12 L217.04 603.39 L219.66 507.55 L222.28 574.22 L224.9 658.14 L227.52 579.13 L230.15 504.67 L232.77 585.14 L235.39 639.52 L238.01 561.82 L240.63 521.1 L243.25 605.23 L245.87 636.89 L248.49 541.8 L251.11 524.08 L253.73 626.07 L256.36 626.58 L258.98 529.03 L261.6 544.35 L264.22 633.16 L266.84 603 L269.46 515.27 L272.08 565.87 L274.7 653.82 L277.32 585.85 L279.94 511.09 L282.56 592.14 L285.19 650.02 L287.81 563.05 L290.43 523.63 L293.05 599.93 L295.67 617.55 L298.29 535.29 L300.91 523.05 L303.53 588.37 L306.15 586.22 L308.78 526.87 L311.4 535.06 L314.02 596.15 L316.64 580.57 L319.26 521.66 L321.88 540.64 L324.5 592.22 L327.12 569.41 L329.74 515.52 L332.36 550.66 L334.99 610.7 L337.61 574.36 L340.23 522.77 L342.85 566.26 L345.47 620.52 L348.09 568.04 L350.71 519.18 L353.33 563.53 L355.95 599.8 L358.57 551.44 L361.19 509.28 L363.82 574.14 L366.44 619.51 L369.06 547.49 L371.68 509.52 L374.3 594.4 L376.92 626.09 L379.54 534.39 L382.16 513.31 L384.78 582.54 L387.4 585.15 L390.03 523.53 L392.65 523.49 L395.27 578.55 L397.89 568.9 L400.51 510.48 L403.13 526.78 L405.75 583.29 L408.37 553.73 L410.99 499.77 L413.62 533.45 L416.24 573.43 L418.86 535.41 L421.48 501.53 L424.1 549.63 L426.72 576.73 L429.34 532.89 L431.96 520.03 L434.58 565.41 L437.2 573.83 L439.82 527.95 L442.45 528.04 L445.07 582.39 L447.69 570.46 L450.31 510.14 L452.93 527.21 L455.55 576.35 L458.17 550.24 L460.79 500.02 L463.41 536.91 L466.04 585.56 L468.66 543.78 L471.28 506.46 L473.9 544.39 L476.52 572.16 L479.14 526.74 L481.76 501.33 L484.38 533.44 L487 544.52 L489.62 517.76 L492.25 506.41 L494.87 542.78 L497.49 556.07 L500.11 517.07 L502.73 508.25 L505.35 544.59 L507.97 550.15 L510.59 513.15 L513.21 510.41 L515.83 552.89 L518.46 549.36 L521.08 508.84 L523.7 510.12 L526.32 525.12 L528.94 525.06 L531.56 509.14 L534.18 517.91 L536.8 563.78 L539.42 544.85 L542.04 495.2 L544.67 518.52 L547.29 554.84 L549.91 526.07 L552.53 498.09 L555.15 519.07 L557.77 531.1 L560.39 517.24 L563.01 507.23 L565.63 530.82 L568.25 543.95 L570.88 515.24 L573.5 508.6 L576.12 536.61 L578.74 535.97 L581.36 511.84 L583.98 512.61 L586.6 525.22 L589.22 518.27 L591.84 500.73 L594.46 509.64 L597.09 522.01 L599.71 515.67 L602.33 510.71 L604.95 516.23 L607.57 523.08 L610.19 513.95 L612.81 504.06 L615.43 525.24 L618.05 536.58 L620.67 507.33 L623.3 499.44 L625.92 518.94 L628.54 521.32 L631.16 502.88 L633.78 503.19 L636.4 535.38" stroke="#4a8fd6" stroke-width="5" fill="none" stroke-linejoin="round" stroke-linecap="round"/>
</g>
<clipPath id="clipD1"><rect x="86.5" y="729.7" width="572.9" height="245.6"/></clipPath>
<g clip-path="url(#clipD1)">
<path d="M112.2 968.06 L114.03 813.03 L115.87 914.41 L117.7 950.72 L119.54 878.76 L121.37 778.79 L123.21 761.38 L125.04 843.45 L126.88 928.2 L128.71 927.79 L130.55 848.13 L132.38 779.37 L134.22 799.27 L136.05 892.09 L137.89 958.72 L139.72 919.45 L141.56 820.59 L143.39 771.29 L145.22 824.41 L147.06 915.94 L148.89 944.92 L150.73 883.76 L152.56 797.83 L154.4 783.09 L156.23 859.78 L158.07 949.99 L159.9 943.64 L161.74 839.68 L163.57 750.64 L165.41 774.24 L167.24 875.23 L169.08 935.89 L170.91 896.76 L172.75 796.93 L174.58 748.75 L176.41 809.78 L178.25 918.31 L180.08 953.82 L181.92 873.2 L183.75 768.27 L185.59 755.81 L187.42 848.8 L189.26 941.85 L191.09 934.42 L192.93 837.1 L194.76 759.13 L196.6 787.42 L198.43 893.12 L200.27 960.18 L202.1 912.39 L203.94 803.5 L205.77 754.7 L207.6 821.78 L209.44 927.26 L211.27 955.97 L213.11 880.3 L214.94 787.24 L216.78 778.51 L218.61 863.71 L220.45 914.99 L222.28 910.13 L224.12 918.47 L225.95 932.35 L227.79 939.02 L229.62 932.35 L231.46 786.26 L233.29 775.84 L235.12 844.9 L236.96 917.38 L238.79 915.95 L240.63 839.75 L242.46 770.6 L244.3 793.06 L246.13 891.77 L247.97 961.76 L249.8 919.23 L251.64 814.24 L253.47 764.11 L255.31 825.37 L257.14 929.27 L258.98 959.95 L260.81 882.94 L262.65 787.04 L264.48 775.01 L266.31 854.99 L268.15 935.79 L269.98 928.62 L271.82 837.41 L273.65 759.57 L275.49 787.97 L277.32 894.64 L279.16 963.11 L280.99 915.88 L282.83 809.59 L284.66 763.22 L286.5 826.57 L288.33 929.99 L290.17 958.17 L292 879.5 L293.84 781.42 L295.67 772.53 L297.5 861.89 L299.34 949.35 L301.17 937.09 L303.01 839.77 L304.84 765.81 L306.68 793.63 L308.51 890.72 L310.35 947.43 L312.18 899.18 L314.02 796.53 L315.85 752.35 L317.69 817.3 L319.52 914.27 L321.36 938.16 L323.19 867.42 L325.03 780.82 L326.86 776.8 L328.69 864.02 L330.53 950.32 L332.36 937.06 L334.2 838.56 L336.03 765.09 L337.87 797.39 L339.7 898.88 L341.54 955.98 L343.37 904.2 L345.21 800.41 L347.04 759.54 L348.88 827.65 L350.71 925.14 L352.55 946.17 L354.38 872.03 L356.22 786.66 L358.05 785.04 L359.88 870.99 L361.72 952.35 L363.55 935.19 L365.39 837.26 L367.22 766.82 L369.06 800.44 L370.89 898.71 L372.73 950.67 L374.56 899.99 L376.4 797.91 L378.23 759.35 L380.07 832.59 L381.9 935.84 L383.74 956.69 L385.57 875.13 L387.41 786.03 L389.24 788.51 L391.07 879.66 L392.91 959.45 L394.74 939.83 L396.58 845.06 L398.41 781.66 L400.25 818.59 L402.08 913.23 L403.92 960.35 L405.75 909.84 L407.59 818.74 L409.42 788.01 L411.26 849.83 L413.09 938.17 L414.93 952.22 L416.76 872.31 L418.59 784.74 L420.43 787.98 L422.26 876.85 L424.1 949.89 L425.93 928.17 L427.77 839.55 L429.6 783.88 L431.44 819.25 L433.27 905.77 L435.11 946.8 L436.94 899.67 L438.78 812.28 L440.61 783.97 L442.45 851.23 L444.28 943.27 L446.12 956.25 L447.95 874.08 L449.78 791.02 L451.62 799.4 L453.45 884.56 L455.29 948.29 L457.12 928.11 L458.96 928.53 L460.79 923.19 L462.63 939.43 L464.46 951.12 L466.3 939.43 L468.13 895.66 L469.97 943.61 L471.8 917.26 L473.64 844.84 L475.47 804.94 L477.31 841.45 L479.14 907.62 L480.97 931.07 L482.81 892.82 L484.64 832.42 L486.48 820.65 L488.31 876.63 L490.15 945.42 L491.98 945.49 L493.82 875.55 L495.65 816.78 L497.49 828.35 L499.32 888.66 L501.16 925.62 L502.99 905.34 L504.83 844.71 L506.66 811.31 L508.5 848.15 L510.33 918.79 L512.16 946.76 L514 900.29 L515.83 832.09 L517.67 819.95 L519.5 881.35 L521.34 952.45 L523.17 948.64 L525.01 873.29 L526.84 812.17 L528.68 826.36 L530.51 890.03 L532.35 926.75 L534.18 905.56 L536.02 841.59 L537.85 807.35 L539.69 849.79 L541.52 930.13 L543.35 960.59 L545.19 902.98 L547.02 825.59 L548.86 814.56 L550.69 882.16 L552.53 953.16 L554.36 948 L556.2 873.38 L558.03 812.99 L559.87 831.05 L561.7 905.34 L563.54 951.87 L565.37 920.41 L567.21 842.39 L569.04 804.42 L570.88 850.72 L572.71 932.54 L574.54 958.3 L576.38 896.41 L578.21 814.38 L580.05 804.55 L581.88 879.36 L583.72 955.11 L585.55 947.67 L587.39 866.96 L589.22 804 L591.06 830.16 L592.89 911.68 L594.73 958.05 L596.56 926.45 L598.4 857.84 L600.23 830.93 L602.06 869.49 L603.9 940.72 L605.73 960.83 L607.57 898.02 L609.4 818.23 L611.24 810.34 L613.07 880.53 L614.91 943.39 L616.74 934.13 L618.58 869.1 L620.41 823.04 L622.25 843.38 L624.08 907.76 L625.92 944.96 L627.75 915.38 L629.59 849.7 L631.42 821.5 L633.25 863.47 L635.09 933.29" stroke="#e2235f" stroke-width="5" fill="none" stroke-linejoin="round" stroke-linecap="round"/>
</g>
<clipPath id="clipD2"><rect x="86.5" y="975.3" width="572.9" height="276.5"/></clipPath>
<g clip-path="url(#clipD2)">
<path d="M112.2 1217.1 L112.86 1016.92 L113.51 1040.51 L114.17 1074.79 L114.82 1113.83 L115.48 1150.94 L116.13 1179.8 L116.79 1195.55 L117.44 1195.89 L118.1 1180.9 L118.75 1153.04 L119.41 1117.22 L120.06 1079.76 L120.72 1047.2 L121.37 1025.27 L122.03 1017.83 L122.68 1025.34 L123.34 1047.55 L123.99 1080.78 L124.65 1119.38 L125.31 1156.7 L125.96 1186.29 L126.62 1202.95 L127.27 1203.53 L127.93 1187.8 L128.58 1158.57 L129.24 1120.81 L129.89 1081.01 L130.55 1046.04 L131.2 1021.96 L131.86 1012.99 L132.51 1020.59 L133.17 1043.68 L133.82 1078.33 L134.48 1118.61 L135.13 1157.52 L135.79 1188.3 L136.44 1205.53 L137.1 1205.97 L137.75 1189.41 L138.41 1158.74 L139.07 1119.16 L139.72 1077.44 L140.38 1040.73 L141.03 1015.36 L141.69 1005.71 L142.34 1013.46 L143 1037.28 L143.65 1073.06 L144.31 1114.61 L144.96 1154.71 L145.62 1186.36 L146.27 1204 L146.93 1204.45 L147.58 1187.5 L148.24 1156.02 L148.89 1115.36 L149.55 1072.45 L150.2 1034.66 L150.86 1008.49 L151.51 998.43 L152.17 1006.24 L152.83 1030.55 L153.48 1067.13 L154.14 1109.65 L154.79 1150.71 L155.45 1183.16 L156.1 1201.29 L156.76 1202.06 L157.41 1185.26 L158.07 1153.44 L158.72 1111.99 L159.38 1068.02 L160.03 1029.1 L160.69 1001.99 L161.34 991.46 L162 1000.39 L162.65 1026.34 L163.31 1064.78 L163.96 1109.13 L164.62 1151.78 L165.28 1185.47 L165.93 1204.49 L166.59 1205.49 L167.24 1188.41 L167.9 1156.59 L168.55 1115.65 L169.21 1072.75 L169.86 1035.31 L170.52 1009.78 L171.17 1000.49 L171.83 1008.34 L172.48 1032.49 L173.14 1068.79 L173.79 1110.93 L174.45 1151.61 L175.1 1183.78 L175.76 1201.89 L176.41 1202.9 L177.07 1186.68 L177.73 1155.83 L178.38 1115.68 L179.04 1073.15 L179.69 1035.59 L180.35 1009.49 L181 999.39 L181.66 1006.95 L182.31 1031 L182.97 1067.42 L183.62 1109.94 L184.28 1151.21 L184.93 1184.08 L185.59 1202.84 L186.24 1204.23 L186.9 1187.98 L187.55 1156.77 L188.21 1115.95 L188.86 1072.55 L189.52 1034.06 L190.17 1007.17 L190.83 996.57 L191.49 1004.42 L192.14 1029.15 L192.8 1066.5 L193.45 1110.05 L194.11 1152.31 L194.76 1186.01 L195.42 1205.34 L196.07 1206.75 L196.73 1189.94 L197.38 1158.21 L198.04 1117.06 L198.69 1073.61 L199.35 1035.33 L200 1008.78 L200.66 998.44 L201.31 1006.08 L201.97 1030.19 L202.62 1066.51 L203.28 1108.69 L203.94 1149.43 L204.59 1181.69 L205.25 1199.97 L205.9 1201.47 L206.56 1186.13 L207.21 1156.18 L207.87 1116.85 L208.52 1074.95 L209.18 1037.77 L209.83 1011.8 L210.49 1001.59 L211.14 1008.59 L211.8 1032.03 L212.45 1068.02 L213.11 1110.41 L213.76 1151.89 L214.42 1185.28 L215.07 1204.77 L215.73 1206.41 L216.38 1189.62 L217.04 1158.05 L217.7 1117.13 L218.35 1073.88 L219.01 1035.65 L219.66 1008.9 L220.32 998.05 L220.97 1005.02 L221.63 1028.17 L222.28 1063.25 L222.94 1104.05 L223.59 1143.43 L224.25 1174.56 L224.9 1192.07 L225.56 1193.64 L226.21 1179.34 L226.87 1150.68 L227.52 1112.57 L228.18 1071.64 L228.83 1035.02 L229.49 1009.13 L230.15 998.6 L230.8 1005.18 L231.46 1028.11 L232.11 1063.64 L232.77 1105.75 L233.42 1147.22 L234.08 1180.9 L234.73 1200.9 L235.39 1203.29 L236.04 1187.34 L236.7 1156.39 L237.35 1115.76 L238.01 1072.4 L238.66 1033.77 L239.32 1006.47 L239.97 995.15 L240.63 1002.36 L241.28 1026.16 L241.94 1062.24 L242.59 1104.29 L243.25 1145.05 L243.91 1177.54 L244.56 1196.25 L245.22 1198.29 L245.87 1183.56 L246.53 1154.46 L247.18 1116.12 L247.84 1075.24 L248.49 1038.93 L249.15 1013.5 L249.8 1003.33 L250.46 1009.5 L251.11 1031.55 L251.77 1065.8 L252.42 1106.36 L253.08 1146.23 L253.73 1178.49 L254.39 1197.53 L255.04 1199.93 L255.7 1185.14 L256.36 1155.81 L257.01 1116.95 L257.67 1075.24 L258.32 1037.85 L258.98 1011.22 L259.63 999.94 L260.29 1005.78 L260.94 1027.89 L261.6 1062.48 L262.25 1103.56 L262.91 1144.01 L263.56 1176.78 L264.22 1196.12 L264.87 1198.78 L265.53 1184.34 L266.18 1154.8 L266.84 1115.16 L267.49 1072.2 L268.15 1033.35 L268.8 1005.39 L269.46 993.26 L270.12 999.44 L270.77 1022.8 L271.43 1059.38 L272.08 1102.94 L272.74 1146 L273.39 1181.13 L274.05 1202.22 L274.7 1205.32 L275.36 1189.62 L276.01 1158.26 L276.67 1116.62 L277.32 1071.87 L277.98 1031.7 L278.63 1002.99 L279.29 990.68 L279.94 997.64 L280.6 1021.91 L281.25 1059.04 L281.91 1102.56 L282.56 1144.99 L283.22 1179.08 L283.88 1199.12 L284.53 1201.89 L285.19 1187.21 L285.84 1157.69 L286.5 1118.63 L287.15 1076.87 L287.81 1039.69 L288.46 1013.51 L289.12 1002.8 L289.77 1008.25 L290.43 1029.77 L291.08 1063.89 L291.74 1104.71 L292.39 1145.13 L293.05 1178.11 L293.7 1197.85 L294.36 1200.91 L295.01 1186.71 L295.67 1157.39 L296.33 1117.9 L296.98 1075 L297.64 1036.05 L298.29 1007.81 L298.95 995.22 L299.6 1001.25 L300.26 1024.34 L300.91 1060.33 L301.57 1103.05 L302.22 1145.16 L302.88 1179.44 L303.53 1200.04 L304.19 1203.51 L304.84 1189.35 L305.5 1160.05 L306.15 1120.75 L306.81 1078.3 L307.46 1040.07 L308.12 1012.73 L308.78 1001 L309.43 1006.62 L310.09 1028.91 L310.74 1064.16 L311.4 1106.32 L312.05 1148.13 L312.71 1182.38 L313.36 1203.15 L314.02 1206.72 L314.67 1192.32 L315.33 1162.69 L315.98 1122.94 L316.64 1079.93 L317.29 1041.06 L317.95 1013.04 L318.6 1000.66 L319.26 1006.08 L319.91 1028.3 L320.57 1063.45 L321.22 1105.42 L321.88 1146.97 L322.54 1180.91 L323.19 1201.38 L323.85 1204.92 L324.5 1191.03 L325.16 1161.93 L325.81 1122.64 L326.47 1079.95 L327.12 1041.24 L327.78 1013.22 L328.43 1000.75 L329.09 1005.92 L329.74 1027.94 L330.4 1063.07 L331.05 1105.26 L331.71 1147.23 L332.36 1181.72 L333.02 1202.76 L333.67 1206.48 L334.33 1191.92 L334.99 1162.11 L335.64 1122.2 L336.3 1079.05 L336.95 1040.05 L337.61 1011.84 L338.26 999.16 L338.92 1003.9 L339.57 1025.23 L340.23 1059.4 L340.88 1100.4 L341.54 1141.07 L342.19 1174.3 L342.85 1194.31 L343.5 1197.91 L344.16 1184.92 L344.81 1156.63 L345.47 1117.83 L346.12 1075.19 L346.78 1036.09 L347.43 1007.36 L348.09 994.09 L348.75 999.07 L349.4 1021.35 L350.06 1057.12 L350.71 1100.3 L351.37 1143.52 L352.02 1179.34 L352.68 1201.58 L353.33 1206.19 L353.99 1192.07 L354.64 1162.16 L355.3 1121.66 L355.95 1077.56 L356.61 1037.48 L357.26 1008.32 L357.92 995.08 L358.57 1000.08 L359.23 1022.37 L359.88 1058.04 L360.54 1100.9 L361.19 1143.54 L361.85 1178.61 L362.51 1200.09 L363.16 1204.35 L363.82 1190.74 L364.47 1161.58 L365.13 1121.93 L365.78 1078.67 L366.44 1039.28 L367.09 1010.57 L367.75 997.47 L368.4 1002.21 L369.06 1023.97 L369.71 1059.01 L370.37 1101.27 L371.02 1143.45 L371.68 1178.29 L372.33 1199.78 L372.99 1204.23 L373.64 1190.85 L374.3 1162.05 L374.96 1122.81 L375.61 1079.94 L376.27 1040.83 L376.92 1012.23 L377.58 999.06 L378.23 1003.43 L378.89 1024.65 L379.54 1059.1 L380.2 1100.82 L380.85 1142.58 L381.51 1177.16 L382.16 1198.57 L382.82 1203.11 L383.47 1190.02 L384.13 1161.49 L384.78 1122.42 L385.44 1079.55 L386.09 1040.27 L386.75 1011.36 L387.4 997.82 L388.06 1002.07 L388.72 1023.32 L389.37 1057.86 L390.03 1099.73 L390.68 1141.7 L391.34 1176.52 L391.99 1198.18 L392.65 1202.97 L393.3 1190.15 L393.96 1161.83 L394.61 1122.9 L395.27 1080.09 L395.92 1040.8 L396.58 1011.84 L397.23 998.23 L397.89 1002.18 L398.54 1023.15 L399.2 1057.62 L399.85 1099.67 L400.51 1142.04 L401.17 1177.39 L401.82 1199.58 L402.48 1204.72 L403.13 1191.89 L403.79 1163.2 L404.44 1123.56 L405.1 1079.77 L405.75 1039.4 L406.41 1009.43 L407.06 995.09 L407.72 999.3 L408.37 1021.12 L409.03 1056.65 L409.68 1099.77 L410.34 1143.07 L410.99 1179.12 L411.65 1201.77 L412.3 1207.09 L412.96 1194.07 L413.62 1165.3 L414.27 1125.85 L414.93 1082.56 L415.58 1042.95 L416.24 1013.82 L416.89 1000.15 L417.55 1003.9 L418.2 1024.57 L418.86 1058.71 L419.51 1100.38 L420.17 1142.37 L420.82 1177.38 L421.48 1199.36 L422.13 1204.52 L422.79 1192.05 L423.44 1163.92 L424.1 1124.94 L424.75 1081.84 L425.41 1042.03 L426.06 1012.4 L426.72 998.07 L427.38 1001.65 L428.03 1022.46 L428.69 1056.86 L429.34 1098.9 L430 1141.34 L430.65 1176.84 L431.31 1199.28 L431.96 1204.77 L432.62 1192.25 L433.27 1164.05 L433.93 1125.03 L434.58 1081.93 L435.24 1042.2 L435.89 1012.67 L436.55 998.41 L437.2 1001.83 L437.86 1022.3 L438.51 1056.28 L439.17 1097.87 L439.82 1139.87 L440.48 1175.02 L441.14 1197.24 L441.79 1202.78 L442.45 1190.87 L443.1 1163.3 L443.76 1124.8 L444.41 1082.03 L445.07 1042.4 L445.72 1012.77 L446.38 998.3 L447.03 1001.51 L447.69 1021.92 L448.34 1056.08 L449 1098.13 L449.65 1140.83 L450.31 1176.8 L450.96 1199.83 L451.62 1205.9 L452.27 1193.87 L452.93 1165.85 L453.59 1126.66 L454.24 1083.07 L454.9 1042.59 L455.55 1012.24 L456.21 997.29 L456.86 1000.43 L457.52 1021.11 L458.17 1055.76 L458.83 1098.44 L459.48 1141.78 L460.14 1178.31 L460.79 1201.72 L461.45 1207.92 L462.1 1195.6 L462.76 1167.19 L463.41 1127.61 L464.07 1083.69 L464.72 1042.99 L465.38 1012.53 L466.04 997.51 L466.69 1000.3 L467.35 1020.46 L468 1054.59 L468.66 1096.75 L469.31 1139.64 L469.97 1175.78 L470.62 1198.91 L471.28 1205 L471.93 1193.11 L472.59 1165.02 L473.24 1125.52 L473.9 1081.4 L474.55 1040.24 L475.21 1009.16 L475.86 993.54 L476.52 996.5 L477.17 1017.34 L477.83 1052.24 L478.48 1095.17 L479.14 1138.74 L479.8 1175.45 L480.45 1199.05 L481.11 1205.38 L481.76 1192.88 L482.42 1164.57 L483.07 1125.45 L483.73 1082.31 L484.38 1042.58 L485.04 1013 L485.69 998.5 L486.35 1000.88 L487 1019.73 L487.66 1051.89 L488.31 1091.66 L488.97 1132.03 L489.62 1165.95 L490.28 1187.49 L490.93 1192.91 L491.59 1181.36 L492.25 1154.65 L492.9 1117.31 L493.56 1075.74 L494.21 1037.01 L494.87 1007.72 L495.52 992.79 L496.18 995.22 L496.83 1014.17 L497.49 1045.89 L498.14 1084.77 L498.8 1124.02 L499.45 1156.87 L500.11 1177.75 L500.76 1183.03 L501.42 1171.07 L502.07 1145.26 L502.73 1110.24 L503.38 1072.11 L504.04 1037.35 L504.69 1011.71 L505.35 999.19 L506.01 1001.21 L506.66 1017.02 L507.32 1043.6 L507.97 1075.98 L508.63 1108.33 L509.28 1134.94 L509.94 1151.25 L510.59 1154.91 L511.25 1147.61 L511.9 1127.98 L512.56 1099.38 L513.21 1066.77 L513.87 1035.86 L514.52 1012.16 L515.18 999.97 L515.83 1001.56 L516.49 1016.98 L517.14 1043.9 L517.8 1077.89 L518.46 1113.22 L519.11 1143.83 L519.77 1164.41 L520.42 1171.33 L521.08 1163.41 L521.73 1141.72 L522.39 1109.93 L523.04 1073.51 L523.7 1038.84 L524.35 1012.08 L525.01 998.12 L525.66 999.74 L526.32 1016.97 L526.97 1047.12 L527.63 1085.23 L528.28 1124.87 L528.94 1159.28 L529.59 1182.5 L530.25 1190.32 L530.9 1180.52 L531.56 1155.63 L532.22 1119.93 L532.87 1079.56 L533.53 1041.52 L534.18 1012.41 L534.84 997.31 L535.49 998.95 L536.15 1017.1 L536.8 1048.65 L537.46 1088.2 L538.11 1128.96 L538.77 1163.91 L539.42 1187.01 L540.08 1194.2 L540.73 1183.66 L541.39 1157.88 L542.04 1121.35 L542.7 1080.37 L543.35 1041.98 L544.01 1012.76 L544.67 997.64 L545.32 998.98 L545.98 1016.47 L546.63 1047.12 L547.29 1085.54 L547.94 1125.03 L548.6 1158.71 L549.25 1180.72 L549.91 1187.33 L550.56 1178.28 L551.22 1154.01 L551.87 1118.61 L552.53 1078.17 L553.18 1039.69 L553.84 1009.92 L554.49 994.13 L555.15 995.41 L555.8 1013.67 L556.46 1045.8 L557.11 1086.39 L557.77 1128.51 L558.43 1164.94 L559.08 1189.39 L559.74 1197.54 L560.39 1186.96 L561.05 1160.58 L561.7 1122.99 L562.36 1080.69 L563.01 1040.94 L563.67 1010.55 L564.32 994.65 L564.98 995.95 L565.63 1014.06 L566.29 1045.68 L566.94 1085.25 L567.6 1125.87 L568.25 1160.53 L568.91 1183.25 L569.56 1190.16 L570.22 1179.88 L570.88 1154.58 L571.53 1118.69 L572.19 1078.43 L572.84 1040.71 L573.5 1011.94 L574.15 996.92 L574.81 998.06 L575.46 1014.94 L576.12 1044.43 L576.77 1081.26 L577.43 1118.98 L578.08 1151.04 L578.74 1171.95 L579.39 1178.25 L580.05 1170.28 L580.7 1148.02 L581.36 1115.32 L582.01 1077.87 L582.67 1042.21 L583.32 1014.6 L583.98 999.96 L584.64 1000.83 L585.29 1017.26 L585.95 1046.71 L586.6 1084.24 L587.26 1123.45 L587.91 1157.63 L588.57 1180.85 L589.22 1188.98 L589.88 1179.25 L590.53 1154.76 L591.19 1119.77 L591.84 1080.3 L592.5 1043.12 L593.15 1014.52 L593.81 999.29 L594.46 999.71 L595.12 1015.55 L595.77 1044.04 L596.43 1080.12 L597.09 1117.44 L597.74 1149.46 L598.4 1170.59 L599.05 1177.2 L599.71 1169.63 L600.36 1147.45 L601.02 1114.36 L601.67 1076.01 L602.33 1039.05 L602.98 1009.99 L603.64 994.05 L604.29 994.55 L604.95 1011.63 L605.6 1042.22 L606.26 1081.22 L606.91 1122.03 L607.57 1157.69 L608.22 1182.09 L608.88 1191.04 L609.53 1182.54 L610.19 1158.55 L610.85 1123.26 L611.5 1082.81 L612.16 1044.24 L612.81 1014.29 L613.47 998.22 L614.12 998.92 L614.78 1016.37 L615.43 1047.59 L616.09 1087.27 L616.74 1128.63 L617.4 1164.6 L618.05 1189.03 L618.71 1197.74 L619.36 1188.47 L620.02 1163.79 L620.67 1128.06 L621.33 1087.52 L621.98 1049.17 L622.64 1019.59 L623.3 1003.78 L623.95 1004.09 L624.61 1020.33 L625.26 1049.87 L625.92 1087.51 L626.57 1119.15 L627.23 1146.02 L627.88 1162.73 L628.54 1165.75 L629.19 1155 L629.85 1131.02 L630.5 1097.79 L631.16 1061.13 L631.81 1027.69 L632.47 1003.8 L633.12 1059.93 L633.78 1049.08 L634.43 1038.23 L635.09 1027.39 L635.74 1016.54 L636.4 1005.69" stroke="#f05a2a" stroke-width="5" fill="none" stroke-linejoin="round" stroke-linecap="round"/>
</g>
<rect x="86.5" y="455.6" width="572.9" height="274.1" fill="none" stroke="#000" stroke-width="4.4" />
<line x1="114" y1="729.7" x2="114" y2="715.7" stroke="#000" stroke-width="3" stroke-linecap="butt"/>
<line x1="114" y1="455.6" x2="114" y2="469.6" stroke="#000" stroke-width="3" stroke-linecap="butt"/>
<line x1="218.52" y1="729.7" x2="218.52" y2="715.7" stroke="#000" stroke-width="3" stroke-linecap="butt"/>
<line x1="218.52" y1="455.6" x2="218.52" y2="469.6" stroke="#000" stroke-width="3" stroke-linecap="butt"/>
<line x1="323.04" y1="729.7" x2="323.04" y2="715.7" stroke="#000" stroke-width="3" stroke-linecap="butt"/>
<line x1="323.04" y1="455.6" x2="323.04" y2="469.6" stroke="#000" stroke-width="3" stroke-linecap="butt"/>
<line x1="427.56" y1="729.7" x2="427.56" y2="715.7" stroke="#000" stroke-width="3" stroke-linecap="butt"/>
<line x1="427.56" y1="455.6" x2="427.56" y2="469.6" stroke="#000" stroke-width="3" stroke-linecap="butt"/>
<line x1="532.08" y1="729.7" x2="532.08" y2="715.7" stroke="#000" stroke-width="3" stroke-linecap="butt"/>
<line x1="532.08" y1="455.6" x2="532.08" y2="469.6" stroke="#000" stroke-width="3" stroke-linecap="butt"/>
<line x1="636.6" y1="729.7" x2="636.6" y2="715.7" stroke="#000" stroke-width="3" stroke-linecap="butt"/>
<line x1="636.6" y1="455.6" x2="636.6" y2="469.6" stroke="#000" stroke-width="3" stroke-linecap="butt"/>
<line x1="140.13" y1="729.7" x2="140.13" y2="721.7" stroke="#000" stroke-width="2.4" stroke-linecap="butt"/>
<line x1="140.13" y1="455.6" x2="140.13" y2="463.6" stroke="#000" stroke-width="2.4" stroke-linecap="butt"/>
<line x1="166.26" y1="729.7" x2="166.26" y2="721.7" stroke="#000" stroke-width="2.4" stroke-linecap="butt"/>
<line x1="166.26" y1="455.6" x2="166.26" y2="463.6" stroke="#000" stroke-width="2.4" stroke-linecap="butt"/>
<line x1="192.39" y1="729.7" x2="192.39" y2="721.7" stroke="#000" stroke-width="2.4" stroke-linecap="butt"/>
<line x1="192.39" y1="455.6" x2="192.39" y2="463.6" stroke="#000" stroke-width="2.4" stroke-linecap="butt"/>
<line x1="244.65" y1="729.7" x2="244.65" y2="721.7" stroke="#000" stroke-width="2.4" stroke-linecap="butt"/>
<line x1="244.65" y1="455.6" x2="244.65" y2="463.6" stroke="#000" stroke-width="2.4" stroke-linecap="butt"/>
<line x1="270.78" y1="729.7" x2="270.78" y2="721.7" stroke="#000" stroke-width="2.4" stroke-linecap="butt"/>
<line x1="270.78" y1="455.6" x2="270.78" y2="463.6" stroke="#000" stroke-width="2.4" stroke-linecap="butt"/>
<line x1="296.91" y1="729.7" x2="296.91" y2="721.7" stroke="#000" stroke-width="2.4" stroke-linecap="butt"/>
<line x1="296.91" y1="455.6" x2="296.91" y2="463.6" stroke="#000" stroke-width="2.4" stroke-linecap="butt"/>
<line x1="349.17" y1="729.7" x2="349.17" y2="721.7" stroke="#000" stroke-width="2.4" stroke-linecap="butt"/>
<line x1="349.17" y1="455.6" x2="349.17" y2="463.6" stroke="#000" stroke-width="2.4" stroke-linecap="butt"/>
<line x1="375.3" y1="729.7" x2="375.3" y2="721.7" stroke="#000" stroke-width="2.4" stroke-linecap="butt"/>
<line x1="375.3" y1="455.6" x2="375.3" y2="463.6" stroke="#000" stroke-width="2.4" stroke-linecap="butt"/>
<line x1="401.43" y1="729.7" x2="401.43" y2="721.7" stroke="#000" stroke-width="2.4" stroke-linecap="butt"/>
<line x1="401.43" y1="455.6" x2="401.43" y2="463.6" stroke="#000" stroke-width="2.4" stroke-linecap="butt"/>
<line x1="453.69" y1="729.7" x2="453.69" y2="721.7" stroke="#000" stroke-width="2.4" stroke-linecap="butt"/>
<line x1="453.69" y1="455.6" x2="453.69" y2="463.6" stroke="#000" stroke-width="2.4" stroke-linecap="butt"/>
<line x1="479.82" y1="729.7" x2="479.82" y2="721.7" stroke="#000" stroke-width="2.4" stroke-linecap="butt"/>
<line x1="479.82" y1="455.6" x2="479.82" y2="463.6" stroke="#000" stroke-width="2.4" stroke-linecap="butt"/>
<line x1="505.95" y1="729.7" x2="505.95" y2="721.7" stroke="#000" stroke-width="2.4" stroke-linecap="butt"/>
<line x1="505.95" y1="455.6" x2="505.95" y2="463.6" stroke="#000" stroke-width="2.4" stroke-linecap="butt"/>
<line x1="558.21" y1="729.7" x2="558.21" y2="721.7" stroke="#000" stroke-width="2.4" stroke-linecap="butt"/>
<line x1="558.21" y1="455.6" x2="558.21" y2="463.6" stroke="#000" stroke-width="2.4" stroke-linecap="butt"/>
<line x1="584.34" y1="729.7" x2="584.34" y2="721.7" stroke="#000" stroke-width="2.4" stroke-linecap="butt"/>
<line x1="584.34" y1="455.6" x2="584.34" y2="463.6" stroke="#000" stroke-width="2.4" stroke-linecap="butt"/>
<line x1="610.47" y1="729.7" x2="610.47" y2="721.7" stroke="#000" stroke-width="2.4" stroke-linecap="butt"/>
<line x1="610.47" y1="455.6" x2="610.47" y2="463.6" stroke="#000" stroke-width="2.4" stroke-linecap="butt"/>
<line x1="86.5" y1="729.5" x2="100.5" y2="729.5" stroke="#000" stroke-width="3" stroke-linecap="butt"/>
<line x1="659.4" y1="729.5" x2="645.4" y2="729.5" stroke="#000" stroke-width="3" stroke-linecap="butt"/>
<line x1="86.5" y1="486.5" x2="100.5" y2="486.5" stroke="#000" stroke-width="3" stroke-linecap="butt"/>
<line x1="659.4" y1="486.5" x2="645.4" y2="486.5" stroke="#000" stroke-width="3" stroke-linecap="butt"/>
<line x1="86.5" y1="680.9" x2="94.5" y2="680.9" stroke="#000" stroke-width="2.4" stroke-linecap="butt"/>
<line x1="659.4" y1="680.9" x2="651.4" y2="680.9" stroke="#000" stroke-width="2.4" stroke-linecap="butt"/>
<line x1="86.5" y1="632.3" x2="94.5" y2="632.3" stroke="#000" stroke-width="2.4" stroke-linecap="butt"/>
<line x1="659.4" y1="632.3" x2="651.4" y2="632.3" stroke="#000" stroke-width="2.4" stroke-linecap="butt"/>
<line x1="86.5" y1="583.7" x2="94.5" y2="583.7" stroke="#000" stroke-width="2.4" stroke-linecap="butt"/>
<line x1="659.4" y1="583.7" x2="651.4" y2="583.7" stroke="#000" stroke-width="2.4" stroke-linecap="butt"/>
<line x1="86.5" y1="535.1" x2="94.5" y2="535.1" stroke="#000" stroke-width="2.4" stroke-linecap="butt"/>
<line x1="659.4" y1="535.1" x2="651.4" y2="535.1" stroke="#000" stroke-width="2.4" stroke-linecap="butt"/>
<rect x="86.5" y="729.7" width="572.9" height="245.6" fill="none" stroke="#000" stroke-width="4.4" />
<line x1="116.4" y1="975.3" x2="116.4" y2="961.3" stroke="#000" stroke-width="3" stroke-linecap="butt"/>
<line x1="220.72" y1="975.3" x2="220.72" y2="961.3" stroke="#000" stroke-width="3" stroke-linecap="butt"/>
<line x1="325.04" y1="975.3" x2="325.04" y2="961.3" stroke="#000" stroke-width="3" stroke-linecap="butt"/>
<line x1="429.36" y1="975.3" x2="429.36" y2="961.3" stroke="#000" stroke-width="3" stroke-linecap="butt"/>
<line x1="533.68" y1="975.3" x2="533.68" y2="961.3" stroke="#000" stroke-width="3" stroke-linecap="butt"/>
<line x1="638" y1="975.3" x2="638" y2="961.3" stroke="#000" stroke-width="3" stroke-linecap="butt"/>
<line x1="142.48" y1="975.3" x2="142.48" y2="967.3" stroke="#000" stroke-width="2.4" stroke-linecap="butt"/>
<line x1="168.56" y1="975.3" x2="168.56" y2="967.3" stroke="#000" stroke-width="2.4" stroke-linecap="butt"/>
<line x1="194.64" y1="975.3" x2="194.64" y2="967.3" stroke="#000" stroke-width="2.4" stroke-linecap="butt"/>
<line x1="246.8" y1="975.3" x2="246.8" y2="967.3" stroke="#000" stroke-width="2.4" stroke-linecap="butt"/>
<line x1="272.88" y1="975.3" x2="272.88" y2="967.3" stroke="#000" stroke-width="2.4" stroke-linecap="butt"/>
<line x1="298.96" y1="975.3" x2="298.96" y2="967.3" stroke="#000" stroke-width="2.4" stroke-linecap="butt"/>
<line x1="351.12" y1="975.3" x2="351.12" y2="967.3" stroke="#000" stroke-width="2.4" stroke-linecap="butt"/>
<line x1="377.2" y1="975.3" x2="377.2" y2="967.3" stroke="#000" stroke-width="2.4" stroke-linecap="butt"/>
<line x1="403.28" y1="975.3" x2="403.28" y2="967.3" stroke="#000" stroke-width="2.4" stroke-linecap="butt"/>
<line x1="455.44" y1="975.3" x2="455.44" y2="967.3" stroke="#000" stroke-width="2.4" stroke-linecap="butt"/>
<line x1="481.52" y1="975.3" x2="481.52" y2="967.3" stroke="#000" stroke-width="2.4" stroke-linecap="butt"/>
<line x1="507.6" y1="975.3" x2="507.6" y2="967.3" stroke="#000" stroke-width="2.4" stroke-linecap="butt"/>
<line x1="559.76" y1="975.3" x2="559.76" y2="967.3" stroke="#000" stroke-width="2.4" stroke-linecap="butt"/>
<line x1="585.84" y1="975.3" x2="585.84" y2="967.3" stroke="#000" stroke-width="2.4" stroke-linecap="butt"/>
<line x1="611.92" y1="975.3" x2="611.92" y2="967.3" stroke="#000" stroke-width="2.4" stroke-linecap="butt"/>
<line x1="86.5" y1="972.9" x2="100.5" y2="972.9" stroke="#000" stroke-width="3" stroke-linecap="butt"/>
<line x1="659.4" y1="972.9" x2="645.4" y2="972.9" stroke="#000" stroke-width="3" stroke-linecap="butt"/>
<line x1="86.5" y1="730.9" x2="100.5" y2="730.9" stroke="#000" stroke-width="3" stroke-linecap="butt"/>
<line x1="659.4" y1="730.9" x2="645.4" y2="730.9" stroke="#000" stroke-width="3" stroke-linecap="butt"/>
<line x1="86.5" y1="924.5" x2="94.5" y2="924.5" stroke="#000" stroke-width="2.4" stroke-linecap="butt"/>
<line x1="659.4" y1="924.5" x2="651.4" y2="924.5" stroke="#000" stroke-width="2.4" stroke-linecap="butt"/>
<line x1="86.5" y1="876.1" x2="94.5" y2="876.1" stroke="#000" stroke-width="2.4" stroke-linecap="butt"/>
<line x1="659.4" y1="876.1" x2="651.4" y2="876.1" stroke="#000" stroke-width="2.4" stroke-linecap="butt"/>
<line x1="86.5" y1="827.7" x2="94.5" y2="827.7" stroke="#000" stroke-width="2.4" stroke-linecap="butt"/>
<line x1="659.4" y1="827.7" x2="651.4" y2="827.7" stroke="#000" stroke-width="2.4" stroke-linecap="butt"/>
<line x1="86.5" y1="779.3" x2="94.5" y2="779.3" stroke="#000" stroke-width="2.4" stroke-linecap="butt"/>
<line x1="659.4" y1="779.3" x2="651.4" y2="779.3" stroke="#000" stroke-width="2.4" stroke-linecap="butt"/>
<rect x="86.5" y="975.3" width="572.9" height="276.5" fill="none" stroke="#000" stroke-width="4.4" />
<line x1="112.3" y1="1251.8" x2="112.3" y2="1237.8" stroke="#000" stroke-width="3" stroke-linecap="butt"/>
<line x1="217.12" y1="1251.8" x2="217.12" y2="1237.8" stroke="#000" stroke-width="3" stroke-linecap="butt"/>
<line x1="321.94" y1="1251.8" x2="321.94" y2="1237.8" stroke="#000" stroke-width="3" stroke-linecap="butt"/>
<line x1="426.76" y1="1251.8" x2="426.76" y2="1237.8" stroke="#000" stroke-width="3" stroke-linecap="butt"/>
<line x1="531.58" y1="1251.8" x2="531.58" y2="1237.8" stroke="#000" stroke-width="3" stroke-linecap="butt"/>
<line x1="636.4" y1="1251.8" x2="636.4" y2="1237.8" stroke="#000" stroke-width="3" stroke-linecap="butt"/>
<line x1="138.5" y1="1251.8" x2="138.5" y2="1243.8" stroke="#000" stroke-width="2.4" stroke-linecap="butt"/>
<line x1="164.71" y1="1251.8" x2="164.71" y2="1243.8" stroke="#000" stroke-width="2.4" stroke-linecap="butt"/>
<line x1="190.91" y1="1251.8" x2="190.91" y2="1243.8" stroke="#000" stroke-width="2.4" stroke-linecap="butt"/>
<line x1="243.32" y1="1251.8" x2="243.32" y2="1243.8" stroke="#000" stroke-width="2.4" stroke-linecap="butt"/>
<line x1="269.53" y1="1251.8" x2="269.53" y2="1243.8" stroke="#000" stroke-width="2.4" stroke-linecap="butt"/>
<line x1="295.74" y1="1251.8" x2="295.74" y2="1243.8" stroke="#000" stroke-width="2.4" stroke-linecap="butt"/>
<line x1="348.14" y1="1251.8" x2="348.14" y2="1243.8" stroke="#000" stroke-width="2.4" stroke-linecap="butt"/>
<line x1="374.35" y1="1251.8" x2="374.35" y2="1243.8" stroke="#000" stroke-width="2.4" stroke-linecap="butt"/>
<line x1="400.56" y1="1251.8" x2="400.56" y2="1243.8" stroke="#000" stroke-width="2.4" stroke-linecap="butt"/>
<line x1="452.96" y1="1251.8" x2="452.96" y2="1243.8" stroke="#000" stroke-width="2.4" stroke-linecap="butt"/>
<line x1="479.17" y1="1251.8" x2="479.17" y2="1243.8" stroke="#000" stroke-width="2.4" stroke-linecap="butt"/>
<line x1="505.38" y1="1251.8" x2="505.38" y2="1243.8" stroke="#000" stroke-width="2.4" stroke-linecap="butt"/>
<line x1="557.78" y1="1251.8" x2="557.78" y2="1243.8" stroke="#000" stroke-width="2.4" stroke-linecap="butt"/>
<line x1="583.99" y1="1251.8" x2="583.99" y2="1243.8" stroke="#000" stroke-width="2.4" stroke-linecap="butt"/>
<line x1="610.19" y1="1251.8" x2="610.19" y2="1243.8" stroke="#000" stroke-width="2.4" stroke-linecap="butt"/>
<line x1="86.5" y1="1217.1" x2="100.5" y2="1217.1" stroke="#000" stroke-width="3" stroke-linecap="butt"/>
<line x1="659.4" y1="1217.1" x2="645.4" y2="1217.1" stroke="#000" stroke-width="3" stroke-linecap="butt"/>
<line x1="86.5" y1="974.1" x2="100.5" y2="974.1" stroke="#000" stroke-width="3" stroke-linecap="butt"/>
<line x1="659.4" y1="974.1" x2="645.4" y2="974.1" stroke="#000" stroke-width="3" stroke-linecap="butt"/>
<line x1="86.5" y1="1168.5" x2="94.5" y2="1168.5" stroke="#000" stroke-width="2.4" stroke-linecap="butt"/>
<line x1="659.4" y1="1168.5" x2="651.4" y2="1168.5" stroke="#000" stroke-width="2.4" stroke-linecap="butt"/>
<line x1="86.5" y1="1119.9" x2="94.5" y2="1119.9" stroke="#000" stroke-width="2.4" stroke-linecap="butt"/>
<line x1="659.4" y1="1119.9" x2="651.4" y2="1119.9" stroke="#000" stroke-width="2.4" stroke-linecap="butt"/>
<line x1="86.5" y1="1071.3" x2="94.5" y2="1071.3" stroke="#000" stroke-width="2.4" stroke-linecap="butt"/>
<line x1="659.4" y1="1071.3" x2="651.4" y2="1071.3" stroke="#000" stroke-width="2.4" stroke-linecap="butt"/>
<line x1="86.5" y1="1022.7" x2="94.5" y2="1022.7" stroke="#000" stroke-width="2.4" stroke-linecap="butt"/>
<line x1="659.4" y1="1022.7" x2="651.4" y2="1022.7" stroke="#000" stroke-width="2.4" stroke-linecap="butt"/>
<text x="73.8" y="495.6" font-size="25" text-anchor="end" fill="#111" font-weight="normal" >1</text>
<text x="73.8" y="726.1" font-size="25" text-anchor="end" fill="#111" font-weight="normal" >0</text>
<text x="73.8" y="751.7" font-size="25" text-anchor="end" fill="#111" font-weight="normal" >1</text>
<text x="73.8" y="971.5" font-size="25" text-anchor="end" fill="#111" font-weight="normal" >0</text>
<text x="73.8" y="1004.2" font-size="25" text-anchor="end" fill="#111" font-weight="normal" >1</text>
<text x="73.8" y="1227.1" font-size="25" text-anchor="end" fill="#111" font-weight="normal" >0</text>
<text x="112.3" y="1284.5" font-size="25" text-anchor="middle" fill="#111" font-weight="normal" >0</text>
<text x="217.12" y="1284.5" font-size="25" text-anchor="middle" fill="#111" font-weight="normal" >2</text>
<text x="321.94" y="1284.5" font-size="25" text-anchor="middle" fill="#111" font-weight="normal" >4</text>
<text x="426.76" y="1284.5" font-size="25" text-anchor="middle" fill="#111" font-weight="normal" >6</text>
<text x="531.58" y="1284.5" font-size="25" text-anchor="middle" fill="#111" font-weight="normal" >8</text>
<text x="636.4" y="1284.5" font-size="25" text-anchor="middle" fill="#111" font-weight="normal" >10</text>
<text x="377" y="1325.5" font-size="25" text-anchor="middle" fill="#111" font-weight="normal" >Time (us)</text>
<text x="34.5" y="841.8" font-size="25" text-anchor="middle" fill="#111" font-weight="normal" transform="rotate(-90 34.5 841.8)" >Spin fraction</text>
<rect x="433.5" y="589.1" width="207.7" height="114.4" rx="5" fill="#ffffff" fill-opacity="0.8" stroke="#cccccc" stroke-width="3"/>
<line x1="441.8" y1="609" x2="495.4" y2="609" stroke="#4a8fd6" stroke-width="4.6" stroke-linecap="butt"/>
<text x="513.6" y="616.9" font-size="25" text-anchor="start" fill="#111" font-weight="normal" >wait 0us</text>
<line x1="441.8" y1="644.25" x2="495.4" y2="644.25" stroke="#e2235f" stroke-width="4.6" stroke-linecap="butt"/>
<text x="513.6" y="652.15" font-size="25" text-anchor="start" fill="#111" font-weight="normal" >wait 100us</text>
<line x1="441.8" y1="679.5" x2="495.4" y2="679.5" stroke="#f05a2a" stroke-width="4.6" stroke-linecap="butt"/>
<text x="513.6" y="687.4" font-size="25" text-anchor="start" fill="#111" font-weight="normal" >wait 500us</text>
<line x1="772.9" y1="786.2" x2="1641.2" y2="786.2" stroke="#000" stroke-width="2.9" stroke-linecap="butt"/>
<line x1="772.9" y1="860.7" x2="1640.1" y2="860.7" stroke="#000" stroke-width="2.9" stroke-linecap="butt"/>
<line x1="772.9" y1="935.75" x2="1640.1" y2="935.75" stroke="#000" stroke-width="2.9" stroke-linecap="butt"/>
<rect x="885.15" y="752.95" width="182.7" height="66.8" fill="#fff" stroke="#000" stroke-width="2.9" />
<rect x="783.35" y="828.35" width="86.2" height="121.8" fill="#fff" stroke="#000" stroke-width="2.9" />
<rect x="1083.3" y="827.5" width="73.1" height="67" fill="#fff" stroke="#000" stroke-width="2.9" />
<rect x="1171.5" y="827.5" width="101.8" height="67" fill="#fff" stroke="#000" stroke-width="2.9" />
<rect x="1288.85" y="827.5" width="72.3" height="67" fill="#fff" stroke="#000" stroke-width="2.9" />
<rect x="1376.85" y="827.5" width="153.8" height="67" fill="#fff" stroke="#000" stroke-width="2.9" />
<rect x="1546.45" y="831.95" width="86" height="120.2" fill="#fff" stroke="#000" stroke-width="2.9" />
<text x="704" y="795.6" font-size="28.5" fill="#111"><tspan font-size="30">|</tspan>Q4<tspan font-family="'DejaVu Sans', sans-serif" font-size="32.5" dx="0.6" dy="3.0" style="stroke:#ffffff;stroke-width:1.1px">⟩</tspan></text>
<text x="704" y="870.1" font-size="28.5" fill="#111"><tspan font-size="30">|</tspan>Q5<tspan font-family="'DejaVu Sans', sans-serif" font-size="32.5" dx="0.6" dy="3.0" style="stroke:#ffffff;stroke-width:1.1px">⟩</tspan></text>
<text x="704" y="945.2" font-size="28.5" fill="#111"><tspan font-size="30">|</tspan>Q6<tspan font-family="'DejaVu Sans', sans-serif" font-size="32.5" dx="0.6" dy="3.0" style="stroke:#ffffff;stroke-width:1.1px">⟩</tspan></text>
<text x="904" y="795.4" font-size="25" text-anchor="start" fill="#111" font-weight="normal" >MW burst (t)</text>
<text x="792.5" y="876.5" font-size="25" text-anchor="start" fill="#111" font-weight="normal" >Read/</text>
<text x="792.5" y="906.5" font-size="25" text-anchor="start" fill="#111" font-weight="normal" >Init 56</text>
<text x="1555.3" y="879.7" font-size="25" text-anchor="start" fill="#111" font-weight="normal" >Read/</text>
<text x="1555.3" y="909" font-size="25" text-anchor="start" fill="#111" font-weight="normal" >Init 56</text>
<text x="1099.7" y="866.7" font-size="29" fill="#111">X<tspan font-size="17" dy="8.9">90</tspan></text>
<text x="1308.9" y="866.7" font-size="29" fill="#111">X<tspan font-size="17" dy="8.9">90</tspan></text>
<text x="1183.6" y="866.2" font-size="25" text-anchor="start" fill="#111" font-weight="normal" >wait (t)</text>
<text x="1386" y="866.2" font-size="25" text-anchor="start" fill="#111" font-weight="normal" >wait (100us)</text>
<clipPath id="clipE1"><rect x="788.15" y="1019.25" width="345.2" height="321.8"/></clipPath>
<g clip-path="url(#clipE1)">
<path d="M803.2 1047.05 L819.75 1102.49 L836.31 1151 L852.86 1171.79 L869.41 1175.75 L885.96 1178.72 L902.52 1250.99 L919.07 1203.47 L935.62 1299.5 L952.17 1327.22 L968.73 1235.15 L985.28 1236.14 L1001.83 1249.01 L1018.38 1314.35 L1034.94 1242.08 L1051.49 1234.16 L1068.04 1206.44 L1084.59 1033.19 L1101.15 1172.78 L1117.7 1261.88" stroke="#4a8fd6" stroke-width="4.3" fill="none" stroke-linejoin="round" />
</g>
<rect x="788.15" y="1019.25" width="345.2" height="321.8" fill="none" stroke="#000" stroke-width="4.3" />
<line x1="803.2" y1="1341.05" x2="803.2" y2="1327.05" stroke="#000" stroke-width="3" stroke-linecap="butt"/>
<line x1="803.2" y1="1019.25" x2="803.2" y2="1033.25" stroke="#000" stroke-width="3" stroke-linecap="butt"/>
<line x1="866.1" y1="1341.05" x2="866.1" y2="1327.05" stroke="#000" stroke-width="3" stroke-linecap="butt"/>
<line x1="866.1" y1="1019.25" x2="866.1" y2="1033.25" stroke="#000" stroke-width="3" stroke-linecap="butt"/>
<line x1="929" y1="1341.05" x2="929" y2="1327.05" stroke="#000" stroke-width="3" stroke-linecap="butt"/>
<line x1="929" y1="1019.25" x2="929" y2="1033.25" stroke="#000" stroke-width="3" stroke-linecap="butt"/>
<line x1="991.9" y1="1341.05" x2="991.9" y2="1327.05" stroke="#000" stroke-width="3" stroke-linecap="butt"/>
<line x1="991.9" y1="1019.25" x2="991.9" y2="1033.25" stroke="#000" stroke-width="3" stroke-linecap="butt"/>
<line x1="1054.8" y1="1341.05" x2="1054.8" y2="1327.05" stroke="#000" stroke-width="3" stroke-linecap="butt"/>
<line x1="1054.8" y1="1019.25" x2="1054.8" y2="1033.25" stroke="#000" stroke-width="3" stroke-linecap="butt"/>
<line x1="1117.7" y1="1341.05" x2="1117.7" y2="1327.05" stroke="#000" stroke-width="3" stroke-linecap="butt"/>
<line x1="1117.7" y1="1019.25" x2="1117.7" y2="1033.25" stroke="#000" stroke-width="3" stroke-linecap="butt"/>
<line x1="818.93" y1="1341.05" x2="818.93" y2="1333.05" stroke="#000" stroke-width="2.4" stroke-linecap="butt"/>
<line x1="818.93" y1="1019.25" x2="818.93" y2="1027.25" stroke="#000" stroke-width="2.4" stroke-linecap="butt"/>
<line x1="834.65" y1="1341.05" x2="834.65" y2="1333.05" stroke="#000" stroke-width="2.4" stroke-linecap="butt"/>
<line x1="834.65" y1="1019.25" x2="834.65" y2="1027.25" stroke="#000" stroke-width="2.4" stroke-linecap="butt"/>
<line x1="850.38" y1="1341.05" x2="850.38" y2="1333.05" stroke="#000" stroke-width="2.4" stroke-linecap="butt"/>
<line x1="850.38" y1="1019.25" x2="850.38" y2="1027.25" stroke="#000" stroke-width="2.4" stroke-linecap="butt"/>
<line x1="881.83" y1="1341.05" x2="881.83" y2="1333.05" stroke="#000" stroke-width="2.4" stroke-linecap="butt"/>
<line x1="881.83" y1="1019.25" x2="881.83" y2="1027.25" stroke="#000" stroke-width="2.4" stroke-linecap="butt"/>
<line x1="897.55" y1="1341.05" x2="897.55" y2="1333.05" stroke="#000" stroke-width="2.4" stroke-linecap="butt"/>
<line x1="897.55" y1="1019.25" x2="897.55" y2="1027.25" stroke="#000" stroke-width="2.4" stroke-linecap="butt"/>
<line x1="913.28" y1="1341.05" x2="913.28" y2="1333.05" stroke="#000" stroke-width="2.4" stroke-linecap="butt"/>
<line x1="913.28" y1="1019.25" x2="913.28" y2="1027.25" stroke="#000" stroke-width="2.4" stroke-linecap="butt"/>
<line x1="944.73" y1="1341.05" x2="944.73" y2="1333.05" stroke="#000" stroke-width="2.4" stroke-linecap="butt"/>
<line x1="944.73" y1="1019.25" x2="944.73" y2="1027.25" stroke="#000" stroke-width="2.4" stroke-linecap="butt"/>
<line x1="960.45" y1="1341.05" x2="960.45" y2="1333.05" stroke="#000" stroke-width="2.4" stroke-linecap="butt"/>
<line x1="960.45" y1="1019.25" x2="960.45" y2="1027.25" stroke="#000" stroke-width="2.4" stroke-linecap="butt"/>
<line x1="976.18" y1="1341.05" x2="976.18" y2="1333.05" stroke="#000" stroke-width="2.4" stroke-linecap="butt"/>
<line x1="976.18" y1="1019.25" x2="976.18" y2="1027.25" stroke="#000" stroke-width="2.4" stroke-linecap="butt"/>
<line x1="1007.62" y1="1341.05" x2="1007.62" y2="1333.05" stroke="#000" stroke-width="2.4" stroke-linecap="butt"/>
<line x1="1007.62" y1="1019.25" x2="1007.62" y2="1027.25" stroke="#000" stroke-width="2.4" stroke-linecap="butt"/>
<line x1="1023.35" y1="1341.05" x2="1023.35" y2="1333.05" stroke="#000" stroke-width="2.4" stroke-linecap="butt"/>
<line x1="1023.35" y1="1019.25" x2="1023.35" y2="1027.25" stroke="#000" stroke-width="2.4" stroke-linecap="butt"/>
<line x1="1039.08" y1="1341.05" x2="1039.08" y2="1333.05" stroke="#000" stroke-width="2.4" stroke-linecap="butt"/>
<line x1="1039.08" y1="1019.25" x2="1039.08" y2="1027.25" stroke="#000" stroke-width="2.4" stroke-linecap="butt"/>
<line x1="1070.53" y1="1341.05" x2="1070.53" y2="1333.05" stroke="#000" stroke-width="2.4" stroke-linecap="butt"/>
<line x1="1070.53" y1="1019.25" x2="1070.53" y2="1027.25" stroke="#000" stroke-width="2.4" stroke-linecap="butt"/>
<line x1="1086.25" y1="1341.05" x2="1086.25" y2="1333.05" stroke="#000" stroke-width="2.4" stroke-linecap="butt"/>
<line x1="1086.25" y1="1019.25" x2="1086.25" y2="1027.25" stroke="#000" stroke-width="2.4" stroke-linecap="butt"/>
<line x1="1101.97" y1="1341.05" x2="1101.97" y2="1333.05" stroke="#000" stroke-width="2.4" stroke-linecap="butt"/>
<line x1="1101.97" y1="1019.25" x2="1101.97" y2="1027.25" stroke="#000" stroke-width="2.4" stroke-linecap="butt"/>
<line x1="788.15" y1="1319.3" x2="802.15" y2="1319.3" stroke="#000" stroke-width="3" stroke-linecap="butt"/>
<line x1="1133.35" y1="1319.3" x2="1119.35" y2="1319.3" stroke="#000" stroke-width="3" stroke-linecap="butt"/>
<line x1="788.15" y1="1220.3" x2="802.15" y2="1220.3" stroke="#000" stroke-width="3" stroke-linecap="butt"/>
<line x1="1133.35" y1="1220.3" x2="1119.35" y2="1220.3" stroke="#000" stroke-width="3" stroke-linecap="butt"/>
<line x1="788.15" y1="1121.3" x2="802.15" y2="1121.3" stroke="#000" stroke-width="3" stroke-linecap="butt"/>
<line x1="1133.35" y1="1121.3" x2="1119.35" y2="1121.3" stroke="#000" stroke-width="3" stroke-linecap="butt"/>
<line x1="788.15" y1="1022.3" x2="802.15" y2="1022.3" stroke="#000" stroke-width="3" stroke-linecap="butt"/>
<line x1="1133.35" y1="1022.3" x2="1119.35" y2="1022.3" stroke="#000" stroke-width="3" stroke-linecap="butt"/>
<line x1="788.15" y1="1339.1" x2="796.15" y2="1339.1" stroke="#000" stroke-width="2.4" stroke-linecap="butt"/>
<line x1="1133.35" y1="1339.1" x2="1125.35" y2="1339.1" stroke="#000" stroke-width="2.4" stroke-linecap="butt"/>
<line x1="788.15" y1="1299.5" x2="796.15" y2="1299.5" stroke="#000" stroke-width="2.4" stroke-linecap="butt"/>
<line x1="1133.35" y1="1299.5" x2="1125.35" y2="1299.5" stroke="#000" stroke-width="2.4" stroke-linecap="butt"/>
<line x1="788.15" y1="1279.7" x2="796.15" y2="1279.7" stroke="#000" stroke-width="2.4" stroke-linecap="butt"/>
<line x1="1133.35" y1="1279.7" x2="1125.35" y2="1279.7" stroke="#000" stroke-width="2.4" stroke-linecap="butt"/>
<line x1="788.15" y1="1259.9" x2="796.15" y2="1259.9" stroke="#000" stroke-width="2.4" stroke-linecap="butt"/>
<line x1="1133.35" y1="1259.9" x2="1125.35" y2="1259.9" stroke="#000" stroke-width="2.4" stroke-linecap="butt"/>
<line x1="788.15" y1="1240.1" x2="796.15" y2="1240.1" stroke="#000" stroke-width="2.4" stroke-linecap="butt"/>
<line x1="1133.35" y1="1240.1" x2="1125.35" y2="1240.1" stroke="#000" stroke-width="2.4" stroke-linecap="butt"/>
<line x1="788.15" y1="1200.5" x2="796.15" y2="1200.5" stroke="#000" stroke-width="2.4" stroke-linecap="butt"/>
<line x1="1133.35" y1="1200.5" x2="1125.35" y2="1200.5" stroke="#000" stroke-width="2.4" stroke-linecap="butt"/>
<line x1="788.15" y1="1180.7" x2="796.15" y2="1180.7" stroke="#000" stroke-width="2.4" stroke-linecap="butt"/>
<line x1="1133.35" y1="1180.7" x2="1125.35" y2="1180.7" stroke="#000" stroke-width="2.4" stroke-linecap="butt"/>
<line x1="788.15" y1="1160.9" x2="796.15" y2="1160.9" stroke="#000" stroke-width="2.4" stroke-linecap="butt"/>
<line x1="1133.35" y1="1160.9" x2="1125.35" y2="1160.9" stroke="#000" stroke-width="2.4" stroke-linecap="butt"/>
<line x1="788.15" y1="1141.1" x2="796.15" y2="1141.1" stroke="#000" stroke-width="2.4" stroke-linecap="butt"/>
<line x1="1133.35" y1="1141.1" x2="1125.35" y2="1141.1" stroke="#000" stroke-width="2.4" stroke-linecap="butt"/>
<line x1="788.15" y1="1101.5" x2="796.15" y2="1101.5" stroke="#000" stroke-width="2.4" stroke-linecap="butt"/>
<line x1="1133.35" y1="1101.5" x2="1125.35" y2="1101.5" stroke="#000" stroke-width="2.4" stroke-linecap="butt"/>
<line x1="788.15" y1="1081.7" x2="796.15" y2="1081.7" stroke="#000" stroke-width="2.4" stroke-linecap="butt"/>
<line x1="1133.35" y1="1081.7" x2="1125.35" y2="1081.7" stroke="#000" stroke-width="2.4" stroke-linecap="butt"/>
<line x1="788.15" y1="1061.9" x2="796.15" y2="1061.9" stroke="#000" stroke-width="2.4" stroke-linecap="butt"/>
<line x1="1133.35" y1="1061.9" x2="1125.35" y2="1061.9" stroke="#000" stroke-width="2.4" stroke-linecap="butt"/>
<line x1="788.15" y1="1042.1" x2="796.15" y2="1042.1" stroke="#000" stroke-width="2.4" stroke-linecap="butt"/>
<line x1="1133.35" y1="1042.1" x2="1125.35" y2="1042.1" stroke="#000" stroke-width="2.4" stroke-linecap="butt"/>
<text x="803.2" y="1373" font-size="25" text-anchor="middle" fill="#111" font-weight="normal" >0</text>
<text x="866.1" y="1373" font-size="25" text-anchor="middle" fill="#111" font-weight="normal" >2</text>
<text x="929" y="1373" font-size="25" text-anchor="middle" fill="#111" font-weight="normal" >4</text>
<text x="991.9" y="1373" font-size="25" text-anchor="middle" fill="#111" font-weight="normal" >6</text>
<text x="1054.8" y="1373" font-size="25" text-anchor="middle" fill="#111" font-weight="normal" >8</text>
<text x="1117.7" y="1373" font-size="25" text-anchor="middle" fill="#111" font-weight="normal" >10</text>
<text x="773.5" y="1327.9" font-size="25" text-anchor="end" fill="#111" font-weight="normal" >2</text>
<text x="773.5" y="1228.9" font-size="25" text-anchor="end" fill="#111" font-weight="normal" >3</text>
<text x="773.5" y="1129.9" font-size="25" text-anchor="end" fill="#111" font-weight="normal" >4</text>
<text x="773.5" y="1030.9" font-size="25" text-anchor="end" fill="#111" font-weight="normal" >5</text>
<text x="961.5" y="1411.5" font-size="25" text-anchor="middle" fill="#111" font-weight="normal" >MW burst time (us)</text>
<text transform="translate(733.2 1214.5) rotate(-90)" font-size="25" fill="#111"><tspan x="-0.6" y="0" font-size="25.7">T</tspan><tspan x="14.3" y="9.5" font-size="16.5">2</tspan><tspan x="23.45" y="-2.7" font-size="21.5">*</tspan><tspan x="40.3" y="0">(us)</tspan></text>
<clipPath id="clipE2"><rect x="1277.65" y="1019.25" width="345" height="321.8"/></clipPath>
<g clip-path="url(#clipE2)">
<path d="M1293.1 1031.46 L1309.65 1214.56 L1326.19 1245.55 L1342.74 1262.5 L1359.29 1276.14 L1375.84 1258.37 L1392.38 1260.85 L1408.93 1288.95 L1425.48 1283.99 L1442.03 1238.53 L1458.57 1257.13 L1475.12 1287.71 L1491.67 1298.46 L1508.22 1252.99 L1524.76 1294.74 L1541.31 1279.03 L1557.86 1283.99 L1574.41 1311.68 L1590.95 1326.15 L1607.5 1305.48" stroke="#e2235f" stroke-width="4.3" fill="none" stroke-linejoin="round" />
</g>
<rect x="1277.65" y="1019.25" width="345" height="321.8" fill="none" stroke="#000" stroke-width="4.3" />
<line x1="1293.1" y1="1341.05" x2="1293.1" y2="1327.05" stroke="#000" stroke-width="3" stroke-linecap="butt"/>
<line x1="1293.1" y1="1019.25" x2="1293.1" y2="1033.25" stroke="#000" stroke-width="3" stroke-linecap="butt"/>
<line x1="1355.98" y1="1341.05" x2="1355.98" y2="1327.05" stroke="#000" stroke-width="3" stroke-linecap="butt"/>
<line x1="1355.98" y1="1019.25" x2="1355.98" y2="1033.25" stroke="#000" stroke-width="3" stroke-linecap="butt"/>
<line x1="1418.86" y1="1341.05" x2="1418.86" y2="1327.05" stroke="#000" stroke-width="3" stroke-linecap="butt"/>
<line x1="1418.86" y1="1019.25" x2="1418.86" y2="1033.25" stroke="#000" stroke-width="3" stroke-linecap="butt"/>
<line x1="1481.74" y1="1341.05" x2="1481.74" y2="1327.05" stroke="#000" stroke-width="3" stroke-linecap="butt"/>
<line x1="1481.74" y1="1019.25" x2="1481.74" y2="1033.25" stroke="#000" stroke-width="3" stroke-linecap="butt"/>
<line x1="1544.62" y1="1341.05" x2="1544.62" y2="1327.05" stroke="#000" stroke-width="3" stroke-linecap="butt"/>
<line x1="1544.62" y1="1019.25" x2="1544.62" y2="1033.25" stroke="#000" stroke-width="3" stroke-linecap="butt"/>
<line x1="1607.5" y1="1341.05" x2="1607.5" y2="1327.05" stroke="#000" stroke-width="3" stroke-linecap="butt"/>
<line x1="1607.5" y1="1019.25" x2="1607.5" y2="1033.25" stroke="#000" stroke-width="3" stroke-linecap="butt"/>
<line x1="1308.82" y1="1341.05" x2="1308.82" y2="1333.05" stroke="#000" stroke-width="2.4" stroke-linecap="butt"/>
<line x1="1308.82" y1="1019.25" x2="1308.82" y2="1027.25" stroke="#000" stroke-width="2.4" stroke-linecap="butt"/>
<line x1="1324.54" y1="1341.05" x2="1324.54" y2="1333.05" stroke="#000" stroke-width="2.4" stroke-linecap="butt"/>
<line x1="1324.54" y1="1019.25" x2="1324.54" y2="1027.25" stroke="#000" stroke-width="2.4" stroke-linecap="butt"/>
<line x1="1340.26" y1="1341.05" x2="1340.26" y2="1333.05" stroke="#000" stroke-width="2.4" stroke-linecap="butt"/>
<line x1="1340.26" y1="1019.25" x2="1340.26" y2="1027.25" stroke="#000" stroke-width="2.4" stroke-linecap="butt"/>
<line x1="1371.7" y1="1341.05" x2="1371.7" y2="1333.05" stroke="#000" stroke-width="2.4" stroke-linecap="butt"/>
<line x1="1371.7" y1="1019.25" x2="1371.7" y2="1027.25" stroke="#000" stroke-width="2.4" stroke-linecap="butt"/>
<line x1="1387.42" y1="1341.05" x2="1387.42" y2="1333.05" stroke="#000" stroke-width="2.4" stroke-linecap="butt"/>
<line x1="1387.42" y1="1019.25" x2="1387.42" y2="1027.25" stroke="#000" stroke-width="2.4" stroke-linecap="butt"/>
<line x1="1403.14" y1="1341.05" x2="1403.14" y2="1333.05" stroke="#000" stroke-width="2.4" stroke-linecap="butt"/>
<line x1="1403.14" y1="1019.25" x2="1403.14" y2="1027.25" stroke="#000" stroke-width="2.4" stroke-linecap="butt"/>
<line x1="1434.58" y1="1341.05" x2="1434.58" y2="1333.05" stroke="#000" stroke-width="2.4" stroke-linecap="butt"/>
<line x1="1434.58" y1="1019.25" x2="1434.58" y2="1027.25" stroke="#000" stroke-width="2.4" stroke-linecap="butt"/>
<line x1="1450.3" y1="1341.05" x2="1450.3" y2="1333.05" stroke="#000" stroke-width="2.4" stroke-linecap="butt"/>
<line x1="1450.3" y1="1019.25" x2="1450.3" y2="1027.25" stroke="#000" stroke-width="2.4" stroke-linecap="butt"/>
<line x1="1466.02" y1="1341.05" x2="1466.02" y2="1333.05" stroke="#000" stroke-width="2.4" stroke-linecap="butt"/>
<line x1="1466.02" y1="1019.25" x2="1466.02" y2="1027.25" stroke="#000" stroke-width="2.4" stroke-linecap="butt"/>
<line x1="1497.46" y1="1341.05" x2="1497.46" y2="1333.05" stroke="#000" stroke-width="2.4" stroke-linecap="butt"/>
<line x1="1497.46" y1="1019.25" x2="1497.46" y2="1027.25" stroke="#000" stroke-width="2.4" stroke-linecap="butt"/>
<line x1="1513.18" y1="1341.05" x2="1513.18" y2="1333.05" stroke="#000" stroke-width="2.4" stroke-linecap="butt"/>
<line x1="1513.18" y1="1019.25" x2="1513.18" y2="1027.25" stroke="#000" stroke-width="2.4" stroke-linecap="butt"/>
<line x1="1528.9" y1="1341.05" x2="1528.9" y2="1333.05" stroke="#000" stroke-width="2.4" stroke-linecap="butt"/>
<line x1="1528.9" y1="1019.25" x2="1528.9" y2="1027.25" stroke="#000" stroke-width="2.4" stroke-linecap="butt"/>
<line x1="1560.34" y1="1341.05" x2="1560.34" y2="1333.05" stroke="#000" stroke-width="2.4" stroke-linecap="butt"/>
<line x1="1560.34" y1="1019.25" x2="1560.34" y2="1027.25" stroke="#000" stroke-width="2.4" stroke-linecap="butt"/>
<line x1="1576.06" y1="1341.05" x2="1576.06" y2="1333.05" stroke="#000" stroke-width="2.4" stroke-linecap="butt"/>
<line x1="1576.06" y1="1019.25" x2="1576.06" y2="1027.25" stroke="#000" stroke-width="2.4" stroke-linecap="butt"/>
<line x1="1591.78" y1="1341.05" x2="1591.78" y2="1333.05" stroke="#000" stroke-width="2.4" stroke-linecap="butt"/>
<line x1="1591.78" y1="1019.25" x2="1591.78" y2="1027.25" stroke="#000" stroke-width="2.4" stroke-linecap="butt"/>
<line x1="1277.65" y1="1334" x2="1291.65" y2="1334" stroke="#000" stroke-width="3" stroke-linecap="butt"/>
<line x1="1622.65" y1="1334" x2="1608.65" y2="1334" stroke="#000" stroke-width="3" stroke-linecap="butt"/>
<line x1="1277.65" y1="1251.34" x2="1291.65" y2="1251.34" stroke="#000" stroke-width="3" stroke-linecap="butt"/>
<line x1="1622.65" y1="1251.34" x2="1608.65" y2="1251.34" stroke="#000" stroke-width="3" stroke-linecap="butt"/>
<line x1="1277.65" y1="1168.68" x2="1291.65" y2="1168.68" stroke="#000" stroke-width="3" stroke-linecap="butt"/>
<line x1="1622.65" y1="1168.68" x2="1608.65" y2="1168.68" stroke="#000" stroke-width="3" stroke-linecap="butt"/>
<line x1="1277.65" y1="1086.02" x2="1291.65" y2="1086.02" stroke="#000" stroke-width="3" stroke-linecap="butt"/>
<line x1="1622.65" y1="1086.02" x2="1608.65" y2="1086.02" stroke="#000" stroke-width="3" stroke-linecap="butt"/>
<line x1="1277.65" y1="1313.34" x2="1285.65" y2="1313.34" stroke="#000" stroke-width="2.4" stroke-linecap="butt"/>
<line x1="1622.65" y1="1313.34" x2="1614.65" y2="1313.34" stroke="#000" stroke-width="2.4" stroke-linecap="butt"/>
<line x1="1277.65" y1="1292.67" x2="1285.65" y2="1292.67" stroke="#000" stroke-width="2.4" stroke-linecap="butt"/>
<line x1="1622.65" y1="1292.67" x2="1614.65" y2="1292.67" stroke="#000" stroke-width="2.4" stroke-linecap="butt"/>
<line x1="1277.65" y1="1272.01" x2="1285.65" y2="1272.01" stroke="#000" stroke-width="2.4" stroke-linecap="butt"/>
<line x1="1622.65" y1="1272.01" x2="1614.65" y2="1272.01" stroke="#000" stroke-width="2.4" stroke-linecap="butt"/>
<line x1="1277.65" y1="1230.67" x2="1285.65" y2="1230.67" stroke="#000" stroke-width="2.4" stroke-linecap="butt"/>
<line x1="1622.65" y1="1230.67" x2="1614.65" y2="1230.67" stroke="#000" stroke-width="2.4" stroke-linecap="butt"/>
<line x1="1277.65" y1="1210.01" x2="1285.65" y2="1210.01" stroke="#000" stroke-width="2.4" stroke-linecap="butt"/>
<line x1="1622.65" y1="1210.01" x2="1614.65" y2="1210.01" stroke="#000" stroke-width="2.4" stroke-linecap="butt"/>
<line x1="1277.65" y1="1189.35" x2="1285.65" y2="1189.35" stroke="#000" stroke-width="2.4" stroke-linecap="butt"/>
<line x1="1622.65" y1="1189.35" x2="1614.65" y2="1189.35" stroke="#000" stroke-width="2.4" stroke-linecap="butt"/>
<line x1="1277.65" y1="1148.01" x2="1285.65" y2="1148.01" stroke="#000" stroke-width="2.4" stroke-linecap="butt"/>
<line x1="1622.65" y1="1148.01" x2="1614.65" y2="1148.01" stroke="#000" stroke-width="2.4" stroke-linecap="butt"/>
<line x1="1277.65" y1="1127.35" x2="1285.65" y2="1127.35" stroke="#000" stroke-width="2.4" stroke-linecap="butt"/>
<line x1="1622.65" y1="1127.35" x2="1614.65" y2="1127.35" stroke="#000" stroke-width="2.4" stroke-linecap="butt"/>
<line x1="1277.65" y1="1106.68" x2="1285.65" y2="1106.68" stroke="#000" stroke-width="2.4" stroke-linecap="butt"/>
<line x1="1622.65" y1="1106.68" x2="1614.65" y2="1106.68" stroke="#000" stroke-width="2.4" stroke-linecap="butt"/>
<line x1="1277.65" y1="1065.36" x2="1285.65" y2="1065.36" stroke="#000" stroke-width="2.4" stroke-linecap="butt"/>
<line x1="1622.65" y1="1065.36" x2="1614.65" y2="1065.36" stroke="#000" stroke-width="2.4" stroke-linecap="butt"/>
<line x1="1277.65" y1="1044.69" x2="1285.65" y2="1044.69" stroke="#000" stroke-width="2.4" stroke-linecap="butt"/>
<line x1="1622.65" y1="1044.69" x2="1614.65" y2="1044.69" stroke="#000" stroke-width="2.4" stroke-linecap="butt"/>
<line x1="1277.65" y1="1024.03" x2="1285.65" y2="1024.03" stroke="#000" stroke-width="2.4" stroke-linecap="butt"/>
<line x1="1622.65" y1="1024.03" x2="1614.65" y2="1024.03" stroke="#000" stroke-width="2.4" stroke-linecap="butt"/>
<text x="1293.1" y="1373" font-size="25" text-anchor="middle" fill="#111" font-weight="normal" >0</text>
<text x="1355.98" y="1373" font-size="25" text-anchor="middle" fill="#111" font-weight="normal" >2</text>
<text x="1418.86" y="1373" font-size="25" text-anchor="middle" fill="#111" font-weight="normal" >4</text>
<text x="1481.74" y="1373" font-size="25" text-anchor="middle" fill="#111" font-weight="normal" >6</text>
<text x="1544.62" y="1373" font-size="25" text-anchor="middle" fill="#111" font-weight="normal" >8</text>
<text x="1607.5" y="1373" font-size="25" text-anchor="middle" fill="#111" font-weight="normal" >10</text>
<text x="1262.8" y="1342.6" font-size="25" text-anchor="end" fill="#111" font-weight="normal" >0.0</text>
<text x="1262.8" y="1259.94" font-size="25" text-anchor="end" fill="#111" font-weight="normal" >0.2</text>
<text x="1262.8" y="1177.28" font-size="25" text-anchor="end" fill="#111" font-weight="normal" >0.4</text>
<text x="1262.8" y="1094.62" font-size="25" text-anchor="end" fill="#111" font-weight="normal" >0.6</text>
<text x="1455.4" y="1411.5" font-size="25" text-anchor="middle" fill="#111" font-weight="normal" >MW burst time (us)</text>
<text x="1209.5" y="1183.8" font-size="25" text-anchor="middle" fill="#111" font-weight="normal" transform="rotate(-90 1209.5 1183.8)" >Δf (MHz)</text>
<clipPath id="clipF"><rect x="1804.55" y="721.85" width="268.3" height="210"/></clipPath>
<g clip-path="url(#clipF)">
<path d="M1799.82 756.94 L1803.2 762.34 L1806.58 750.01 L1809.96 758.95 L1813.34 764.34 L1816.72 769.74 L1820.1 757.41 L1823.48 766.35 L1826.86 771.74 L1830.24 777.14 L1833.62 764.81 L1837 773.75 L1840.38 779.14 L1843.76 784.54 L1847.14 772.21 L1850.52 781.15 L1853.9 786.54 L1857.28 791.94 L1860.66 779.61 L1864.04 788.55 L1867.42 793.94 L1870.8 799.34 L1874.18 787.01 L1877.56 795.95 L1880.94 801.34 L1884.32 806.74 L1887.7 794.41 L1891.08 803.35 L1894.46 808.74 L1897.84 814.14 L1901.22 801.81 L1904.6 810.75 L1907.98 816.14 L1911.36 821.54 L1914.74 809.21 L1918.12 818.15 L1921.91 823.54 L1930.56 826.69 L1936.86 823.54 L1938.43 850.28 L1947.87 851.86 L1951.01 875.45 L1957.31 877.03 L1960.45 880.17 L1965.17 903.77 L1973.04 895.9 L1976.18 884.89 L1980.12 886.46 L1984.05 856.58 L1990.34 815.68 L1993.49 810.96 L1996.63 798.37 L2002.93 765.35 L2007.65 751.19 L2013.94 730.74 L2020.23 726.02 L2026.52 721.3 L2032.81 727.59 L2039.11 719.73 L2045.4 729.17 L2051.69 722.88 L2057.98 732.31 L2064.28 727.59 L2070.57 738.61 L2076.86 732.31" stroke="#1f77b4" stroke-width="4.5" fill="none" stroke-linejoin="round" />
<path d="M1799.82 755.54 L1803.2 760.94 L1806.58 748.61 L1809.96 757.55 L1813.34 762.94 L1816.72 768.34 L1820.1 756.01 L1823.48 764.95 L1826.86 770.34 L1830.24 775.74 L1833.62 763.41 L1837 772.35 L1840.38 777.74 L1843.76 783.14 L1847.14 770.81 L1850.52 779.75 L1853.9 785.14 L1857.28 790.54 L1860.66 778.21 L1864.04 787.15 L1867.42 792.54 L1870.8 797.94 L1874.18 785.61 L1877.56 794.55 L1880.94 799.94 L1884.32 805.34 L1887.7 793.01 L1891.08 801.95 L1894.46 807.34 L1897.84 812.74 L1901.22 800.41 L1904.6 809.35 L1907.98 814.74 L1911.36 820.14 L1914.74 807.81 L1918.12 816.75 L1921.91 825.11 L1930.56 828.26 L1936.86 825.11 L1938.43 851.86 L1947.87 851.86 L1951.01 875.45 L1955.73 870.73 L1960.45 873.88 L1965.17 889.61 L1971.46 872.31 L1974.61 853.43 L1979.33 855 L1984.05 821.97 L1988.77 796.8 L1991.91 792.08 L1996.63 777.92 L2001.35 759.58 L2006.07 751.71 L2012.36 734.41 L2017.08 740.7 L2023.38 729.69 L2029.67 742.27 L2035.96 732.83 L2042.25 728.12 L2048.54 743.85 L2054.84 735.98 L2061.13 751.71 L2067.42 742.27 L2070.57 740.7 L2076.86 737.55" stroke="#ff7f0e" stroke-width="4.5" fill="none" stroke-linejoin="round" />
<path d="M1799.82 758.34 L1803.2 763.74 L1806.58 751.41 L1809.96 760.35 L1813.34 765.74 L1816.72 771.14 L1820.1 758.81 L1823.48 767.75 L1826.86 773.14 L1830.24 778.54 L1833.62 766.21 L1837 775.15 L1840.38 780.54 L1843.76 785.94 L1847.14 773.61 L1850.52 782.55 L1853.9 787.94 L1857.28 793.34 L1860.66 781.01 L1864.04 789.95 L1867.42 795.34 L1870.8 800.74 L1874.18 788.41 L1877.56 797.35 L1880.94 802.74 L1884.32 808.14 L1887.7 795.81 L1891.08 804.75 L1894.46 810.14 L1897.84 815.54 L1901.22 803.21 L1904.6 812.15 L1907.98 817.54 L1911.36 822.94 L1914.74 810.61 L1918.12 819.55 L1921.91 823.54 L1924.27 836.13 L1930.56 831.41 L1936.86 825.11 L1938.43 850.28 L1942.36 842.42 L1948.66 836.13 L1952.59 853.43 L1957.31 840.85 L1962.03 826.69 L1965.17 839.27 L1969.89 825.11 L1976.18 799.95 L1979.33 809.38 L1982.48 795.23 L1988.77 768.48 L1991.91 777.92 L1996.63 762.19 L2001.35 748.03 L2006.07 762.19 L2010.79 748.03 L2015.51 740.17 L2019.44 755.9 L2026.52 738.6 L2031.24 754.33 L2039.11 738.6 L2045.4 757.47 L2051.69 738.6 L2057.98 760.62 L2064.28 748.03 L2070.57 743.32 L2076.86 741.74" stroke="#2ca02c" stroke-width="4.5" fill="none" stroke-linejoin="round" />
</g>
<rect x="1804.55" y="721.85" width="268.3" height="210" fill="none" stroke="#000" stroke-width="4.3" />
<line x1="1803.2" y1="931.85" x2="1803.2" y2="917.85" stroke="#000" stroke-width="3" stroke-linecap="butt"/>
<line x1="1803.2" y1="721.85" x2="1803.2" y2="735.85" stroke="#000" stroke-width="3" stroke-linecap="butt"/>
<line x1="1837" y1="931.85" x2="1837" y2="917.85" stroke="#000" stroke-width="3" stroke-linecap="butt"/>
<line x1="1837" y1="721.85" x2="1837" y2="735.85" stroke="#000" stroke-width="3" stroke-linecap="butt"/>
<line x1="1870.8" y1="931.85" x2="1870.8" y2="917.85" stroke="#000" stroke-width="3" stroke-linecap="butt"/>
<line x1="1870.8" y1="721.85" x2="1870.8" y2="735.85" stroke="#000" stroke-width="3" stroke-linecap="butt"/>
<line x1="1904.6" y1="931.85" x2="1904.6" y2="917.85" stroke="#000" stroke-width="3" stroke-linecap="butt"/>
<line x1="1904.6" y1="721.85" x2="1904.6" y2="735.85" stroke="#000" stroke-width="3" stroke-linecap="butt"/>
<line x1="1938.4" y1="931.85" x2="1938.4" y2="917.85" stroke="#000" stroke-width="3" stroke-linecap="butt"/>
<line x1="1938.4" y1="721.85" x2="1938.4" y2="735.85" stroke="#000" stroke-width="3" stroke-linecap="butt"/>
<line x1="1972.2" y1="931.85" x2="1972.2" y2="917.85" stroke="#000" stroke-width="3" stroke-linecap="butt"/>
<line x1="1972.2" y1="721.85" x2="1972.2" y2="735.85" stroke="#000" stroke-width="3" stroke-linecap="butt"/>
<line x1="2006" y1="931.85" x2="2006" y2="917.85" stroke="#000" stroke-width="3" stroke-linecap="butt"/>
<line x1="2006" y1="721.85" x2="2006" y2="735.85" stroke="#000" stroke-width="3" stroke-linecap="butt"/>
<line x1="2039.8" y1="931.85" x2="2039.8" y2="917.85" stroke="#000" stroke-width="3" stroke-linecap="butt"/>
<line x1="2039.8" y1="721.85" x2="2039.8" y2="735.85" stroke="#000" stroke-width="3" stroke-linecap="butt"/>
<line x1="2073.6" y1="931.85" x2="2073.6" y2="917.85" stroke="#000" stroke-width="3" stroke-linecap="butt"/>
<line x1="2073.6" y1="721.85" x2="2073.6" y2="735.85" stroke="#000" stroke-width="3" stroke-linecap="butt"/>
<line x1="1803.2" y1="931.85" x2="1803.2" y2="923.85" stroke="#000" stroke-width="2.2" stroke-linecap="butt"/>
<line x1="1803.2" y1="721.85" x2="1803.2" y2="729.85" stroke="#000" stroke-width="2.2" stroke-linecap="butt"/>
<line x1="1809.96" y1="931.85" x2="1809.96" y2="923.85" stroke="#000" stroke-width="2.2" stroke-linecap="butt"/>
<line x1="1809.96" y1="721.85" x2="1809.96" y2="729.85" stroke="#000" stroke-width="2.2" stroke-linecap="butt"/>
<line x1="1816.72" y1="931.85" x2="1816.72" y2="923.85" stroke="#000" stroke-width="2.2" stroke-linecap="butt"/>
<line x1="1816.72" y1="721.85" x2="1816.72" y2="729.85" stroke="#000" stroke-width="2.2" stroke-linecap="butt"/>
<line x1="1823.48" y1="931.85" x2="1823.48" y2="923.85" stroke="#000" stroke-width="2.2" stroke-linecap="butt"/>
<line x1="1823.48" y1="721.85" x2="1823.48" y2="729.85" stroke="#000" stroke-width="2.2" stroke-linecap="butt"/>
<line x1="1830.24" y1="931.85" x2="1830.24" y2="923.85" stroke="#000" stroke-width="2.2" stroke-linecap="butt"/>
<line x1="1830.24" y1="721.85" x2="1830.24" y2="729.85" stroke="#000" stroke-width="2.2" stroke-linecap="butt"/>
<line x1="1837" y1="931.85" x2="1837" y2="923.85" stroke="#000" stroke-width="2.2" stroke-linecap="butt"/>
<line x1="1837" y1="721.85" x2="1837" y2="729.85" stroke="#000" stroke-width="2.2" stroke-linecap="butt"/>
<line x1="1843.76" y1="931.85" x2="1843.76" y2="923.85" stroke="#000" stroke-width="2.2" stroke-linecap="butt"/>
<line x1="1843.76" y1="721.85" x2="1843.76" y2="729.85" stroke="#000" stroke-width="2.2" stroke-linecap="butt"/>
<line x1="1850.52" y1="931.85" x2="1850.52" y2="923.85" stroke="#000" stroke-width="2.2" stroke-linecap="butt"/>
<line x1="1850.52" y1="721.85" x2="1850.52" y2="729.85" stroke="#000" stroke-width="2.2" stroke-linecap="butt"/>
<line x1="1857.28" y1="931.85" x2="1857.28" y2="923.85" stroke="#000" stroke-width="2.2" stroke-linecap="butt"/>
<line x1="1857.28" y1="721.85" x2="1857.28" y2="729.85" stroke="#000" stroke-width="2.2" stroke-linecap="butt"/>
<line x1="1864.04" y1="931.85" x2="1864.04" y2="923.85" stroke="#000" stroke-width="2.2" stroke-linecap="butt"/>
<line x1="1864.04" y1="721.85" x2="1864.04" y2="729.85" stroke="#000" stroke-width="2.2" stroke-linecap="butt"/>
<line x1="1870.8" y1="931.85" x2="1870.8" y2="923.85" stroke="#000" stroke-width="2.2" stroke-linecap="butt"/>
<line x1="1870.8" y1="721.85" x2="1870.8" y2="729.85" stroke="#000" stroke-width="2.2" stroke-linecap="butt"/>
<line x1="1877.56" y1="931.85" x2="1877.56" y2="923.85" stroke="#000" stroke-width="2.2" stroke-linecap="butt"/>
<line x1="1877.56" y1="721.85" x2="1877.56" y2="729.85" stroke="#000" stroke-width="2.2" stroke-linecap="butt"/>
<line x1="1884.32" y1="931.85" x2="1884.32" y2="923.85" stroke="#000" stroke-width="2.2" stroke-linecap="butt"/>
<line x1="1884.32" y1="721.85" x2="1884.32" y2="729.85" stroke="#000" stroke-width="2.2" stroke-linecap="butt"/>
<line x1="1891.08" y1="931.85" x2="1891.08" y2="923.85" stroke="#000" stroke-width="2.2" stroke-linecap="butt"/>
<line x1="1891.08" y1="721.85" x2="1891.08" y2="729.85" stroke="#000" stroke-width="2.2" stroke-linecap="butt"/>
<line x1="1897.84" y1="931.85" x2="1897.84" y2="923.85" stroke="#000" stroke-width="2.2" stroke-linecap="butt"/>
<line x1="1897.84" y1="721.85" x2="1897.84" y2="729.85" stroke="#000" stroke-width="2.2" stroke-linecap="butt"/>
<line x1="1904.6" y1="931.85" x2="1904.6" y2="923.85" stroke="#000" stroke-width="2.2" stroke-linecap="butt"/>
<line x1="1904.6" y1="721.85" x2="1904.6" y2="729.85" stroke="#000" stroke-width="2.2" stroke-linecap="butt"/>
<line x1="1911.36" y1="931.85" x2="1911.36" y2="923.85" stroke="#000" stroke-width="2.2" stroke-linecap="butt"/>
<line x1="1911.36" y1="721.85" x2="1911.36" y2="729.85" stroke="#000" stroke-width="2.2" stroke-linecap="butt"/>
<line x1="1918.12" y1="931.85" x2="1918.12" y2="923.85" stroke="#000" stroke-width="2.2" stroke-linecap="butt"/>
<line x1="1918.12" y1="721.85" x2="1918.12" y2="729.85" stroke="#000" stroke-width="2.2" stroke-linecap="butt"/>
<line x1="1924.88" y1="931.85" x2="1924.88" y2="923.85" stroke="#000" stroke-width="2.2" stroke-linecap="butt"/>
<line x1="1924.88" y1="721.85" x2="1924.88" y2="729.85" stroke="#000" stroke-width="2.2" stroke-linecap="butt"/>
<line x1="1931.64" y1="931.85" x2="1931.64" y2="923.85" stroke="#000" stroke-width="2.2" stroke-linecap="butt"/>
<line x1="1931.64" y1="721.85" x2="1931.64" y2="729.85" stroke="#000" stroke-width="2.2" stroke-linecap="butt"/>
<line x1="1938.4" y1="931.85" x2="1938.4" y2="923.85" stroke="#000" stroke-width="2.2" stroke-linecap="butt"/>
<line x1="1938.4" y1="721.85" x2="1938.4" y2="729.85" stroke="#000" stroke-width="2.2" stroke-linecap="butt"/>
<line x1="1945.16" y1="931.85" x2="1945.16" y2="923.85" stroke="#000" stroke-width="2.2" stroke-linecap="butt"/>
<line x1="1945.16" y1="721.85" x2="1945.16" y2="729.85" stroke="#000" stroke-width="2.2" stroke-linecap="butt"/>
<line x1="1951.92" y1="931.85" x2="1951.92" y2="923.85" stroke="#000" stroke-width="2.2" stroke-linecap="butt"/>
<line x1="1951.92" y1="721.85" x2="1951.92" y2="729.85" stroke="#000" stroke-width="2.2" stroke-linecap="butt"/>
<line x1="1958.68" y1="931.85" x2="1958.68" y2="923.85" stroke="#000" stroke-width="2.2" stroke-linecap="butt"/>
<line x1="1958.68" y1="721.85" x2="1958.68" y2="729.85" stroke="#000" stroke-width="2.2" stroke-linecap="butt"/>
<line x1="1965.44" y1="931.85" x2="1965.44" y2="923.85" stroke="#000" stroke-width="2.2" stroke-linecap="butt"/>
<line x1="1965.44" y1="721.85" x2="1965.44" y2="729.85" stroke="#000" stroke-width="2.2" stroke-linecap="butt"/>
<line x1="1972.2" y1="931.85" x2="1972.2" y2="923.85" stroke="#000" stroke-width="2.2" stroke-linecap="butt"/>
<line x1="1972.2" y1="721.85" x2="1972.2" y2="729.85" stroke="#000" stroke-width="2.2" stroke-linecap="butt"/>
<line x1="1978.96" y1="931.85" x2="1978.96" y2="923.85" stroke="#000" stroke-width="2.2" stroke-linecap="butt"/>
<line x1="1978.96" y1="721.85" x2="1978.96" y2="729.85" stroke="#000" stroke-width="2.2" stroke-linecap="butt"/>
<line x1="1985.72" y1="931.85" x2="1985.72" y2="923.85" stroke="#000" stroke-width="2.2" stroke-linecap="butt"/>
<line x1="1985.72" y1="721.85" x2="1985.72" y2="729.85" stroke="#000" stroke-width="2.2" stroke-linecap="butt"/>
<line x1="1992.48" y1="931.85" x2="1992.48" y2="923.85" stroke="#000" stroke-width="2.2" stroke-linecap="butt"/>
<line x1="1992.48" y1="721.85" x2="1992.48" y2="729.85" stroke="#000" stroke-width="2.2" stroke-linecap="butt"/>
<line x1="1999.24" y1="931.85" x2="1999.24" y2="923.85" stroke="#000" stroke-width="2.2" stroke-linecap="butt"/>
<line x1="1999.24" y1="721.85" x2="1999.24" y2="729.85" stroke="#000" stroke-width="2.2" stroke-linecap="butt"/>
<line x1="2006" y1="931.85" x2="2006" y2="923.85" stroke="#000" stroke-width="2.2" stroke-linecap="butt"/>
<line x1="2006" y1="721.85" x2="2006" y2="729.85" stroke="#000" stroke-width="2.2" stroke-linecap="butt"/>
<line x1="2012.76" y1="931.85" x2="2012.76" y2="923.85" stroke="#000" stroke-width="2.2" stroke-linecap="butt"/>
<line x1="2012.76" y1="721.85" x2="2012.76" y2="729.85" stroke="#000" stroke-width="2.2" stroke-linecap="butt"/>
<line x1="2019.52" y1="931.85" x2="2019.52" y2="923.85" stroke="#000" stroke-width="2.2" stroke-linecap="butt"/>
<line x1="2019.52" y1="721.85" x2="2019.52" y2="729.85" stroke="#000" stroke-width="2.2" stroke-linecap="butt"/>
<line x1="2026.28" y1="931.85" x2="2026.28" y2="923.85" stroke="#000" stroke-width="2.2" stroke-linecap="butt"/>
<line x1="2026.28" y1="721.85" x2="2026.28" y2="729.85" stroke="#000" stroke-width="2.2" stroke-linecap="butt"/>
<line x1="2033.04" y1="931.85" x2="2033.04" y2="923.85" stroke="#000" stroke-width="2.2" stroke-linecap="butt"/>
<line x1="2033.04" y1="721.85" x2="2033.04" y2="729.85" stroke="#000" stroke-width="2.2" stroke-linecap="butt"/>
<line x1="2039.8" y1="931.85" x2="2039.8" y2="923.85" stroke="#000" stroke-width="2.2" stroke-linecap="butt"/>
<line x1="2039.8" y1="721.85" x2="2039.8" y2="729.85" stroke="#000" stroke-width="2.2" stroke-linecap="butt"/>
<line x1="2046.56" y1="931.85" x2="2046.56" y2="923.85" stroke="#000" stroke-width="2.2" stroke-linecap="butt"/>
<line x1="2046.56" y1="721.85" x2="2046.56" y2="729.85" stroke="#000" stroke-width="2.2" stroke-linecap="butt"/>
<line x1="2053.32" y1="931.85" x2="2053.32" y2="923.85" stroke="#000" stroke-width="2.2" stroke-linecap="butt"/>
<line x1="2053.32" y1="721.85" x2="2053.32" y2="729.85" stroke="#000" stroke-width="2.2" stroke-linecap="butt"/>
<line x1="2060.08" y1="931.85" x2="2060.08" y2="923.85" stroke="#000" stroke-width="2.2" stroke-linecap="butt"/>
<line x1="2060.08" y1="721.85" x2="2060.08" y2="729.85" stroke="#000" stroke-width="2.2" stroke-linecap="butt"/>
<line x1="2066.84" y1="931.85" x2="2066.84" y2="923.85" stroke="#000" stroke-width="2.2" stroke-linecap="butt"/>
<line x1="2066.84" y1="721.85" x2="2066.84" y2="729.85" stroke="#000" stroke-width="2.2" stroke-linecap="butt"/>
<line x1="2073.6" y1="931.85" x2="2073.6" y2="923.85" stroke="#000" stroke-width="2.2" stroke-linecap="butt"/>
<line x1="2073.6" y1="721.85" x2="2073.6" y2="729.85" stroke="#000" stroke-width="2.2" stroke-linecap="butt"/>
<line x1="1804.55" y1="914.5" x2="1818.55" y2="914.5" stroke="#000" stroke-width="3" stroke-linecap="butt"/>
<line x1="2072.85" y1="914.5" x2="2058.85" y2="914.5" stroke="#000" stroke-width="3" stroke-linecap="butt"/>
<line x1="1804.55" y1="870.75" x2="1818.55" y2="870.75" stroke="#000" stroke-width="3" stroke-linecap="butt"/>
<line x1="2072.85" y1="870.75" x2="2058.85" y2="870.75" stroke="#000" stroke-width="3" stroke-linecap="butt"/>
<line x1="1804.55" y1="827" x2="1818.55" y2="827" stroke="#000" stroke-width="3" stroke-linecap="butt"/>
<line x1="2072.85" y1="827" x2="2058.85" y2="827" stroke="#000" stroke-width="3" stroke-linecap="butt"/>
<line x1="1804.55" y1="783.25" x2="1818.55" y2="783.25" stroke="#000" stroke-width="3" stroke-linecap="butt"/>
<line x1="2072.85" y1="783.25" x2="2058.85" y2="783.25" stroke="#000" stroke-width="3" stroke-linecap="butt"/>
<line x1="1804.55" y1="739.5" x2="1818.55" y2="739.5" stroke="#000" stroke-width="3" stroke-linecap="butt"/>
<line x1="2072.85" y1="739.5" x2="2058.85" y2="739.5" stroke="#000" stroke-width="3" stroke-linecap="butt"/>
<line x1="1804.55" y1="932" x2="1812.55" y2="932" stroke="#000" stroke-width="2.2" stroke-linecap="butt"/>
<line x1="2072.85" y1="932" x2="2064.85" y2="932" stroke="#000" stroke-width="2.2" stroke-linecap="butt"/>
<line x1="1804.55" y1="923.25" x2="1812.55" y2="923.25" stroke="#000" stroke-width="2.2" stroke-linecap="butt"/>
<line x1="2072.85" y1="923.25" x2="2064.85" y2="923.25" stroke="#000" stroke-width="2.2" stroke-linecap="butt"/>
<line x1="1804.55" y1="914.5" x2="1812.55" y2="914.5" stroke="#000" stroke-width="2.2" stroke-linecap="butt"/>
<line x1="2072.85" y1="914.5" x2="2064.85" y2="914.5" stroke="#000" stroke-width="2.2" stroke-linecap="butt"/>
<line x1="1804.55" y1="905.75" x2="1812.55" y2="905.75" stroke="#000" stroke-width="2.2" stroke-linecap="butt"/>
<line x1="2072.85" y1="905.75" x2="2064.85" y2="905.75" stroke="#000" stroke-width="2.2" stroke-linecap="butt"/>
<line x1="1804.55" y1="897" x2="1812.55" y2="897" stroke="#000" stroke-width="2.2" stroke-linecap="butt"/>
<line x1="2072.85" y1="897" x2="2064.85" y2="897" stroke="#000" stroke-width="2.2" stroke-linecap="butt"/>
<line x1="1804.55" y1="888.25" x2="1812.55" y2="888.25" stroke="#000" stroke-width="2.2" stroke-linecap="butt"/>
<line x1="2072.85" y1="888.25" x2="2064.85" y2="888.25" stroke="#000" stroke-width="2.2" stroke-linecap="butt"/>
<line x1="1804.55" y1="879.5" x2="1812.55" y2="879.5" stroke="#000" stroke-width="2.2" stroke-linecap="butt"/>
<line x1="2072.85" y1="879.5" x2="2064.85" y2="879.5" stroke="#000" stroke-width="2.2" stroke-linecap="butt"/>
<line x1="1804.55" y1="870.75" x2="1812.55" y2="870.75" stroke="#000" stroke-width="2.2" stroke-linecap="butt"/>
<line x1="2072.85" y1="870.75" x2="2064.85" y2="870.75" stroke="#000" stroke-width="2.2" stroke-linecap="butt"/>
<line x1="1804.55" y1="862" x2="1812.55" y2="862" stroke="#000" stroke-width="2.2" stroke-linecap="butt"/>
<line x1="2072.85" y1="862" x2="2064.85" y2="862" stroke="#000" stroke-width="2.2" stroke-linecap="butt"/>
<line x1="1804.55" y1="853.25" x2="1812.55" y2="853.25" stroke="#000" stroke-width="2.2" stroke-linecap="butt"/>
<line x1="2072.85" y1="853.25" x2="2064.85" y2="853.25" stroke="#000" stroke-width="2.2" stroke-linecap="butt"/>
<line x1="1804.55" y1="844.5" x2="1812.55" y2="844.5" stroke="#000" stroke-width="2.2" stroke-linecap="butt"/>
<line x1="2072.85" y1="844.5" x2="2064.85" y2="844.5" stroke="#000" stroke-width="2.2" stroke-linecap="butt"/>
<line x1="1804.55" y1="835.75" x2="1812.55" y2="835.75" stroke="#000" stroke-width="2.2" stroke-linecap="butt"/>
<line x1="2072.85" y1="835.75" x2="2064.85" y2="835.75" stroke="#000" stroke-width="2.2" stroke-linecap="butt"/>
<line x1="1804.55" y1="827" x2="1812.55" y2="827" stroke="#000" stroke-width="2.2" stroke-linecap="butt"/>
<line x1="2072.85" y1="827" x2="2064.85" y2="827" stroke="#000" stroke-width="2.2" stroke-linecap="butt"/>
<line x1="1804.55" y1="818.25" x2="1812.55" y2="818.25" stroke="#000" stroke-width="2.2" stroke-linecap="butt"/>
<line x1="2072.85" y1="818.25" x2="2064.85" y2="818.25" stroke="#000" stroke-width="2.2" stroke-linecap="butt"/>
<line x1="1804.55" y1="809.5" x2="1812.55" y2="809.5" stroke="#000" stroke-width="2.2" stroke-linecap="butt"/>
<line x1="2072.85" y1="809.5" x2="2064.85" y2="809.5" stroke="#000" stroke-width="2.2" stroke-linecap="butt"/>
<line x1="1804.55" y1="800.75" x2="1812.55" y2="800.75" stroke="#000" stroke-width="2.2" stroke-linecap="butt"/>
<line x1="2072.85" y1="800.75" x2="2064.85" y2="800.75" stroke="#000" stroke-width="2.2" stroke-linecap="butt"/>
<line x1="1804.55" y1="792" x2="1812.55" y2="792" stroke="#000" stroke-width="2.2" stroke-linecap="butt"/>
<line x1="2072.85" y1="792" x2="2064.85" y2="792" stroke="#000" stroke-width="2.2" stroke-linecap="butt"/>
<line x1="1804.55" y1="783.25" x2="1812.55" y2="783.25" stroke="#000" stroke-width="2.2" stroke-linecap="butt"/>
<line x1="2072.85" y1="783.25" x2="2064.85" y2="783.25" stroke="#000" stroke-width="2.2" stroke-linecap="butt"/>
<line x1="1804.55" y1="774.5" x2="1812.55" y2="774.5" stroke="#000" stroke-width="2.2" stroke-linecap="butt"/>
<line x1="2072.85" y1="774.5" x2="2064.85" y2="774.5" stroke="#000" stroke-width="2.2" stroke-linecap="butt"/>
<line x1="1804.55" y1="765.75" x2="1812.55" y2="765.75" stroke="#000" stroke-width="2.2" stroke-linecap="butt"/>
<line x1="2072.85" y1="765.75" x2="2064.85" y2="765.75" stroke="#000" stroke-width="2.2" stroke-linecap="butt"/>
<line x1="1804.55" y1="757" x2="1812.55" y2="757" stroke="#000" stroke-width="2.2" stroke-linecap="butt"/>
<line x1="2072.85" y1="757" x2="2064.85" y2="757" stroke="#000" stroke-width="2.2" stroke-linecap="butt"/>
<line x1="1804.55" y1="748.25" x2="1812.55" y2="748.25" stroke="#000" stroke-width="2.2" stroke-linecap="butt"/>
<line x1="2072.85" y1="748.25" x2="2064.85" y2="748.25" stroke="#000" stroke-width="2.2" stroke-linecap="butt"/>
<line x1="1804.55" y1="739.5" x2="1812.55" y2="739.5" stroke="#000" stroke-width="2.2" stroke-linecap="butt"/>
<line x1="2072.85" y1="739.5" x2="2064.85" y2="739.5" stroke="#000" stroke-width="2.2" stroke-linecap="butt"/>
<line x1="1804.55" y1="730.75" x2="1812.55" y2="730.75" stroke="#000" stroke-width="2.2" stroke-linecap="butt"/>
<line x1="2072.85" y1="730.75" x2="2064.85" y2="730.75" stroke="#000" stroke-width="2.2" stroke-linecap="butt"/>
<line x1="1804.55" y1="722" x2="1812.55" y2="722" stroke="#000" stroke-width="2.2" stroke-linecap="butt"/>
<line x1="2072.85" y1="722" x2="2064.85" y2="722" stroke="#000" stroke-width="2.2" stroke-linecap="butt"/>
<text x="1803.2" y="964.1" font-size="25" text-anchor="middle" fill="#111" font-weight="normal" >85.0</text>
<text x="1870.8" y="964.1" font-size="25" text-anchor="middle" fill="#111" font-weight="normal" >86.0</text>
<text x="1938.4" y="964.1" font-size="25" text-anchor="middle" fill="#111" font-weight="normal" >87.0</text>
<text x="2006" y="964.1" font-size="25" text-anchor="middle" fill="#111" font-weight="normal" >88.0</text>
<text x="2073.6" y="964.1" font-size="25" text-anchor="middle" fill="#111" font-weight="normal" >89.0</text>
<text x="1788.5" y="923.1" font-size="25" text-anchor="end" fill="#111" font-weight="normal" >−55.0</text>
<text x="1788.5" y="879.35" font-size="25" text-anchor="end" fill="#111" font-weight="normal" >−52.5</text>
<text x="1788.5" y="835.6" font-size="25" text-anchor="end" fill="#111" font-weight="normal" >−50.0</text>
<text x="1788.5" y="791.85" font-size="25" text-anchor="end" fill="#111" font-weight="normal" >−47.5</text>
<text x="1788.5" y="748.1" font-size="25" text-anchor="end" fill="#111" font-weight="normal" >−45.0</text>
<text x="1938.3" y="1003.3" font-size="25" text-anchor="middle" fill="#111" font-weight="normal" >Frequency (MHz)</text>
<text x="1703.5" y="827.4" font-size="25" text-anchor="middle" fill="#111" font-weight="normal" transform="rotate(-90 1703.5 827.4)" >S11 (dB)</text>
<rect x="1811.8" y="728.4" width="123.5" height="100.6" rx="4" fill="#ffffff" fill-opacity="0.8" stroke="#cccccc" stroke-width="2.8"/>
<line x1="1820.4" y1="746.5" x2="1833" y2="746.5" stroke="#1f77b4" stroke-width="4.8" stroke-linecap="butt"/>
<text x="1838" y="754" font-size="25" text-anchor="start" fill="#111" font-weight="normal" >-10 dbm</text>
<line x1="1820.4" y1="777.55" x2="1833" y2="777.55" stroke="#ff7f0e" stroke-width="4.8" stroke-linecap="butt"/>
<text x="1838" y="785.05" font-size="25" text-anchor="start" fill="#111" font-weight="normal" >-0 dbm</text>
<line x1="1820.4" y1="808.6" x2="1833" y2="808.6" stroke="#2ca02c" stroke-width="4.8" stroke-linecap="butt"/>
<text x="1838" y="816.1" font-size="25" text-anchor="start" fill="#111" font-weight="normal" >10 dbm</text>
<line x1="1797.4" y1="1054" x2="1797.4" y2="1424" stroke="#3a3a3a" stroke-width="1.9" stroke-linecap="butt"/>
<line x1="1806.2" y1="1054" x2="1806.2" y2="1424" stroke="#3a3a3a" stroke-width="1.9" stroke-linecap="butt"/>
<line x1="1934.3" y1="1054" x2="1934.3" y2="1424" stroke="#3a3a3a" stroke-width="1.9" stroke-linecap="butt"/>
<line x1="1943.1" y1="1054" x2="1943.1" y2="1424" stroke="#3a3a3a" stroke-width="1.9" stroke-linecap="butt"/>
<line x1="1709.9" y1="1100.1" x2="2114.5" y2="1100.1" stroke="#3a3a3a" stroke-width="1.9" stroke-linecap="butt"/>
<line x1="1709.9" y1="1109.4" x2="2114.5" y2="1109.4" stroke="#3a3a3a" stroke-width="1.9" stroke-linecap="butt"/>
<text x="1707" y="1086.9" font-size="29.5" text-anchor="start" fill="#111" font-weight="normal" >Qubit</text>
<text x="1827.0" y="1085.9" font-size="29.5" fill="#111">T<tspan x="1844.1" y="1096.2" font-size="17">2</tspan><tspan x="1845.5" y="1080.1" font-size="23.5">*</tspan><tspan x="1858.8" y="1085.9">(us)</tspan></text>
<text x="1952.3" y="1085.9" font-size="29.5" fill="#111">T<tspan x="1969.0" y="1096.2" font-size="17">2, pre-pulse</tspan><tspan x="1972.9" y="1078.5" font-size="23">*</tspan><tspan x="2064.1" y="1085.9">(us)</tspan></text>
<text x="1748" y="1150.3" font-size="29.5" text-anchor="middle" fill="#111" font-weight="normal" >1</text>
<text x="1869.9" y="1150.3" font-size="29.5" text-anchor="middle" fill="#111" font-weight="normal" >3.0±0.2</text>
<text x="2027.3" y="1150.3" font-size="29.5" text-anchor="middle" fill="#111" font-weight="normal" >1.9±0.3</text>
<text x="1748" y="1201.8" font-size="29.5" text-anchor="middle" fill="#111" font-weight="normal" >2</text>
<text x="1869.9" y="1201.8" font-size="29.5" text-anchor="middle" fill="#111" font-weight="normal" >2.5±0.1</text>
<text x="2027.3" y="1201.8" font-size="29.5" text-anchor="middle" fill="#111" font-weight="normal" >1.4±0.4</text>
<text x="1748" y="1253.3" font-size="29.5" text-anchor="middle" fill="#111" font-weight="normal" >3</text>
<text x="1869.9" y="1253.3" font-size="29.5" text-anchor="middle" fill="#111" font-weight="normal" >3.7±0.3</text>
<text x="2027.3" y="1253.3" font-size="29.5" text-anchor="middle" fill="#111" font-weight="normal" >2.2±0.6</text>
<text x="1748" y="1304.8" font-size="29.5" text-anchor="middle" fill="#111" font-weight="normal" >4</text>
<text x="1869.9" y="1304.8" font-size="29.5" text-anchor="middle" fill="#111" font-weight="normal" >3.7±0.3</text>
<text x="2027.3" y="1304.8" font-size="29.5" text-anchor="middle" fill="#111" font-weight="normal" >1.6±0.4</text>
<text x="1748" y="1356.3" font-size="29.5" text-anchor="middle" fill="#111" font-weight="normal" >5</text>
<text x="1869.9" y="1356.3" font-size="29.5" text-anchor="middle" fill="#111" font-weight="normal" >5.9±0.4</text>
<text x="2027.3" y="1356.3" font-size="29.5" text-anchor="middle" fill="#111" font-weight="normal" >2.9±0.5</text>
<text x="1748" y="1407.8" font-size="29.5" text-anchor="middle" fill="#111" font-weight="normal" >6</text>
<text x="1869.9" y="1407.8" font-size="29.5" text-anchor="middle" fill="#111" font-weight="normal" >5.1±0.4</text>
<text x="2027.3" y="1407.8" font-size="29.5" text-anchor="middle" fill="#111" font-weight="normal" >2.9±0.4</text>
<text x="1" y="25.3" font-size="33.5" text-anchor="start" fill="#111" font-weight="bold" >a</text>
<text x="708.4" y="25.9" font-size="33.5" text-anchor="start" fill="#111" font-weight="bold" >b</text>
<text x="1432.6" y="26.1" font-size="33.5" text-anchor="start" fill="#111" font-weight="bold" >c</text>
<text x="1.85" y="474.3" font-size="33.5" text-anchor="start" fill="#111" font-weight="bold" >d</text>
<text x="707.9" y="715.4" font-size="33.5" text-anchor="start" fill="#111" font-weight="bold" >e</text>
<text x="1667.2" y="714.5" font-size="33.5" text-anchor="start" fill="#111" font-weight="bold" >f</text>
<text x="1666" y="1046.9" font-size="33.5" text-anchor="start" fill="#111" font-weight="bold" >g</text>
</svg>
</body></html>
